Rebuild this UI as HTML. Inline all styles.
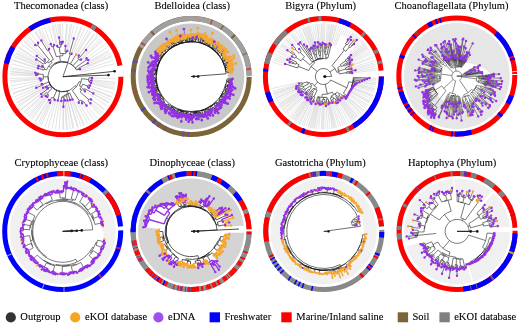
<!DOCTYPE html>
<html><head><meta charset="utf-8"><style>
html,body{margin:0;padding:0;background:#fff;width:520px;height:325px;overflow:hidden}
svg{display:block;will-change:transform}
.t{font-family:"Liberation Serif",serif;font-size:10.5px;fill:#000;stroke:#000;stroke-width:0.1px}
</style></head><body>
<svg xmlns="http://www.w3.org/2000/svg" width="520" height="325" viewBox="0 0 520 325">
<rect width="520" height="325" fill="#fff"/>
<g>
<path d="M80.6,69.0L111.5,55.5M88.4,62.9L109.5,51.5M88.9,59.5L107.1,47.4M87.2,57.8L104.8,44.2M81.6,58.8L101.2,40.1M86.5,49.4L97.6,36.6M79.3,54.9L94.7,34.3M76.5,53.7L89.9,31.1M71.9,53.1L81.7,27.2M74.0,37.8L77.5,25.7M67.3,50.3L71.7,24.4M65.6,45.3L67.4,23.9M62.8,40.9L62.7,23.7M61.2,41.4L60.3,23.8M58.9,36.8L57.6,24.0M57.2,45.3L53.4,24.6M53.8,44.2L48.6,25.7M50.4,43.2L44.4,27.0M48.6,48.2L39.2,29.3M40.9,39.9L35.7,31.2M37.5,42.2L31.5,34.0M34.7,44.4L28.0,36.8M44.0,58.9L24.4,40.3M36.3,55.5L21.4,43.7M35.6,59.0L18.5,47.8M41.7,65.6L15.9,52.2M37.8,65.7L14.4,55.4M37.2,67.9L12.7,59.6M34.4,72.6L10.4,69.1M36.1,74.2L10.1,71.8M35.5,75.1L10.0,73.5M38.8,78.5L10.0,80.6M39.9,80.7L10.7,85.9M41.0,84.3L12.8,94.0M35.6,88.1L14.0,97.1M42.3,88.2L16.6,102.5M45.6,87.7L18.2,105.2M47.3,88.9L21.1,109.3M40.7,94.4L21.4,109.7M41.2,97.3L24.4,113.2M45.2,96.7L27.7,116.4M46.9,97.3L30.4,118.6M48.6,100.7L35.7,122.2M49.7,103.5L39.6,124.3M54.3,100.8L45.1,126.6M57.7,101.4L52.0,128.6M61.1,101.9L59.2,129.6M63.4,107.5L63.8,129.7M65.1,101.3L67.6,129.5M67.7,101.3L73.0,128.7M70.2,100.8L78.3,127.4M72.8,100.2L83.5,125.5M79.2,103.5L90.5,122.0M82.6,103.9L93.9,119.7M87.1,106.2L96.5,117.7M91.1,103.9L101.1,113.5M91.6,100.0L104.1,110.1M85.6,91.6L107.2,105.9M93.9,93.8L109.3,102.3M89.5,88.1L111.6,97.6M90.7,85.9L113.2,93.3M91.8,83.1L114.7,88.1M92.4,80.7L115.4,83.8M92.9,77.9L115.9,78.9M81.7,72.0L114.3,63.9M81.3,70.7L113.3,60.3M80.8,69.5L112.0,56.8M89.0,64.0L110.5,53.5M88.0,62.2L108.8,50.2M82.1,59.4L102.3,41.2M80.8,58.1L99.7,38.6M86.1,49.0L97.0,36.1M78.9,54.6L94.1,33.8M77.1,54.0L91.0,31.8M75.4,53.1L87.8,29.9M73.2,53.6L84.5,28.3M71.6,52.9L81.0,26.9M68.5,50.5L73.9,24.9M66.6,50.2L70.3,24.2M65.1,45.3L66.6,23.8M60.4,41.4L59.2,23.8M57.3,37.0L55.5,24.2M56.3,45.5L51.9,24.9M49.9,47.6L41.3,28.3M47.9,48.6L38.0,29.9M40.2,40.3L34.8,31.8M35.3,43.8L28.8,36.1M44.9,58.0L26.1,38.6M43.6,59.3L23.5,41.2M35.9,58.5L19.0,47.1M42.2,64.7L17.0,50.2M41.4,66.2L15.3,53.5M37.5,66.4L13.8,56.8M37.1,68.3L12.5,60.3M36.6,70.1L11.5,63.9M34.6,71.7L10.7,67.5M36.1,73.9L10.2,71.2M35.5,75.7L9.9,74.9M38.8,77.5L9.9,78.5M38.9,79.2L10.2,82.2M40.3,82.3L11.5,89.5M40.9,83.8L12.5,93.1M41.7,87.0L15.3,99.9M42.5,88.5L17.0,103.2M45.9,88.2L19.0,106.3M40.7,96.7L23.5,112.2M44.3,95.9L26.1,114.8M45.7,97.2L28.8,117.3M47.6,97.8L31.7,119.6M48.1,100.4L34.8,121.6M48.9,103.1L38.0,123.5M50.8,104.0L41.3,125.1M55.9,101.2L48.3,127.6M59.4,101.7L55.5,129.2M62.9,107.5L62.9,129.7M64.6,101.3L66.6,129.6M66.4,101.5L70.3,129.2M68.1,101.2L73.9,128.5M69.8,100.9L77.5,127.6M71.6,100.7L81.0,126.5M73.3,100.0L84.5,125.1M77.6,104.4L87.8,123.5M90.1,104.8L99.7,114.8M92.0,102.9L102.3,112.2M92.0,99.5L104.7,109.3M93.6,94.4L108.8,103.2M88.9,89.4L110.5,99.9M89.8,87.6L112.0,96.6M91.6,83.9L114.3,89.5M92.2,81.9L115.1,85.9M92.5,79.8L115.6,82.2" stroke="#c6c6c6" stroke-width="0.5" fill="none"/>
<path d="M68.0,62.6A15.0,15.0 0 0 0 54.8,89.3M47.9,76.8A15.0,15.0 0 0 0 69.1,90.4M61.6,91.6A15.0,15.0 0 0 0 75.0,85.6M72.4,90.6A16.9,16.9 0 0 0 79.0,81.7M79.4,85.7A18.8,18.8 0 0 0 81.6,78.7M88.5,81.3A26.0,26.0 0 0 0 88.9,77.8M89.6,82.6A27.4,27.4 0 0 0 90.0,80.4M79.9,89.2A21.1,21.1 0 0 0 82.7,84.2M87.2,87.1A26.4,26.4 0 0 0 88.0,85.0M80.1,91.9A23.0,23.0 0 0 0 82.6,88.6M83.5,90.3A24.7,24.7 0 0 0 84.5,88.6M87.9,100.8A34.8,34.8 0 0 0 89.9,98.6M78.2,101.8A29.4,29.4 0 0 0 80.9,100.0M81.2,102.1A31.3,31.3 0 0 0 82.8,100.9M56.0,90.0A15.0,15.0 0 0 0 67.3,91.0M66.3,94.1A17.7,17.7 0 0 0 69.8,93.0M64.6,95.2A18.6,18.6 0 0 0 68.3,94.5M62.7,96.2A19.5,19.5 0 0 0 66.6,95.8M61.5,97.3A20.7,20.7 0 0 0 64.0,97.3M63.3,99.1A22.4,22.4 0 0 0 64.9,99.0M52.7,87.7A15.0,15.0 0 0 0 59.8,91.4M49.8,83.9A15.0,15.0 0 0 0 56.8,90.4M51.7,97.4A23.6,23.6 0 0 0 55.0,98.9M49.3,99.5A26.5,26.5 0 0 0 51.2,100.5M48.9,82.0A15.0,15.0 0 0 0 50.9,85.7M49.9,84.5A15.2,15.2 0 0 0 51.7,87.0M50.1,86.8A16.3,16.3 0 0 0 51.8,88.6M46.5,92.3A22.6,22.6 0 0 0 48.5,94.1M47.3,94.3A23.6,23.6 0 0 0 48.5,95.3M48.9,87.6A17.7,17.7 0 0 0 49.0,87.7M46.8,85.7A18.5,18.5 0 0 0 47.3,86.6M43.0,83.6A21.1,21.1 0 0 0 43.4,84.8M43.3,74.5A19.7,19.7 0 0 0 43.4,79.1M41.7,78.2A21.2,21.2 0 0 0 42.0,80.4M38.6,73.2A24.6,24.6 0 0 0 38.4,74.8M37.6,74.4A25.4,25.4 0 0 0 37.5,75.2M72.7,65.3A15.0,15.0 0 0 0 61.3,61.8M67.6,62.5A15.0,15.0 0 0 0 55.2,63.8M60.4,61.1A15.8,15.8 0 0 0 50.4,67.1M52.1,62.5A17.8,17.8 0 0 0 46.4,70.0M44.6,67.9A20.3,20.3 0 0 0 43.7,70.1M43.4,66.5A22.0,22.0 0 0 0 42.7,67.9M53.4,59.4A19.7,19.7 0 0 0 48.7,63.0M49.4,59.9A21.5,21.5 0 0 0 45.7,63.7M45.5,61.6A23.1,23.1 0 0 0 43.6,64.1M45.5,60.3A23.9,23.9 0 0 0 44.2,61.8M38.8,44.0A40.6,40.6 0 0 0 36.2,46.1M49.3,49.5A30.4,30.4 0 0 0 47.3,50.6M62.9,55.7A21.0,21.0 0 0 0 56.4,56.8M54.3,46.1A31.8,31.8 0 0 0 51.8,46.9M65.8,53.7A23.2,23.2 0 0 0 60.1,53.7M61.0,47.1A29.6,29.6 0 0 0 57.6,47.6M62.1,44.6A32.1,32.1 0 0 0 59.7,44.8M62.8,43.7A33.0,33.0 0 0 0 61.3,43.8M67.0,52.0A25.0,25.0 0 0 0 65.0,51.8M71.3,54.7A23.5,23.5 0 0 0 69.4,54.1M74.5,67.2A15.0,15.0 0 0 0 70.5,63.8M75.8,69.0A15.0,15.0 0 0 0 73.0,65.7M80.1,60.3A23.7,23.7 0 0 0 77.8,58.2M79.5,57.5A25.4,25.4 0 0 0 78.1,56.4M76.7,70.0A15.3,15.3 0 0 0 75.3,67.8M87.1,60.6A29.0,29.0 0 0 0 85.8,58.9M78.6,69.9A17.1,17.1 0 0 0 77.9,68.6M47.9,76.8L43.2,76.8M75.0,85.6L76.5,86.7M72.4,90.6L79.6,101.0M79.0,81.7L80.9,82.3M79.4,85.7L81.5,86.8M81.6,78.7L88.7,79.5M88.5,81.3L89.8,81.5M88.9,77.8L92.1,77.9M89.6,82.6L91.0,82.9M90.0,80.4L91.6,80.6M79.9,89.2L81.4,90.3M82.7,84.2L87.6,86.1M87.2,87.1L88.8,87.8M88.0,85.0L89.9,85.6M80.1,91.9L89.0,99.8M82.6,88.6L84.0,89.5M83.5,90.3L84.9,91.2M84.5,88.6L93.2,93.4M87.9,100.8L90.5,103.3M89.9,98.6L91.0,99.5M78.2,101.8L78.8,102.8M80.9,100.0L82.0,101.5M81.2,102.1L82.1,103.3M82.8,100.9L86.6,105.6M67.3,91.0L68.1,93.7M66.3,94.1L66.5,95.0M69.8,93.0L72.5,99.5M64.6,95.2L64.7,96.1M68.3,94.5L70.0,100.0M62.7,96.2L62.7,97.4M66.6,95.8L67.5,100.5M61.5,97.3L61.2,101.1M64.0,97.3L64.1,99.1M63.3,99.1L63.4,106.7M64.9,99.0L65.0,100.5M59.8,91.4L57.9,100.6M56.8,90.4L53.3,98.2M51.7,97.4L50.3,100.0M55.0,98.9L54.6,100.0M49.3,99.5L49.0,100.0M51.2,100.5L50.1,102.8M48.9,82.0L43.2,84.2M50.9,85.7L50.7,85.8M49.9,84.5L47.0,86.2M51.7,87.0L50.9,87.7M50.1,86.8L49.0,87.7M51.8,88.6L47.5,93.2M46.5,92.3L41.8,96.7M48.5,94.1L47.9,94.8M47.3,94.3L45.7,96.1M48.5,95.3L47.4,96.7M48.9,87.6L47.9,88.4M49.0,87.7L41.3,93.9M46.8,85.7L43.0,87.8M47.3,86.6L46.3,87.3M43.0,83.6L41.8,84.0M43.4,84.8L36.3,87.8M43.3,74.5L38.4,74.0M43.4,79.1L41.8,79.3M41.7,78.2L39.6,78.4M42.0,80.4L40.7,80.6M38.6,73.2L35.2,72.7M38.4,74.8L37.6,74.8M37.6,74.4L36.9,74.3M37.5,75.2L36.3,75.1M67.6,62.5L70.3,54.4M55.2,63.8L54.8,63.2M60.4,61.1L59.6,56.0M50.4,67.1L48.8,65.9M52.1,62.5L50.9,61.0M46.4,70.0L44.1,69.0M44.6,67.9L43.0,67.2M43.7,70.1L38.0,68.2M43.4,66.5L42.4,66.0M42.7,67.9L38.5,66.0M53.4,59.4L48.3,50.0M48.7,63.0L47.4,61.7M49.4,59.9L37.5,45.0M45.7,63.7L44.5,62.8M45.5,61.6L44.9,61.0M43.6,64.1L36.3,59.4M45.5,60.3L44.6,59.4M44.2,61.8L36.9,56.0M38.8,44.0L38.0,42.8M36.2,46.1L35.2,45.0M49.3,49.5L49.0,48.9M47.3,50.6L41.3,40.6M62.9,55.7L62.9,53.5M56.4,56.8L53.0,46.4M54.3,46.1L54.0,45.0M51.8,46.9L50.7,43.9M65.8,53.7L66.0,51.9M60.1,53.7L59.3,47.3M61.0,47.1L60.9,44.7M57.6,47.6L57.3,46.1M62.1,44.6L62.0,43.7M59.7,44.8L59.0,37.6M62.8,43.7L62.8,41.7M61.3,43.8L61.2,42.2M67.0,52.0L67.2,51.1M65.0,51.8L65.5,46.1M71.3,54.7L71.6,53.8M69.4,54.1L73.8,38.6M70.5,63.8L76.1,54.4M75.8,69.0L76.0,68.9M73.0,65.7L79.0,59.2M80.1,60.3L81.0,59.4M77.8,58.2L78.8,56.9M79.5,57.5L86.0,50.0M78.1,56.4L78.8,55.5M76.7,70.0L78.3,69.2M75.3,67.8L86.5,59.8M87.1,60.6L88.2,59.9M85.8,58.9L86.6,58.3M78.6,69.9L79.9,69.3M77.9,68.6L87.7,63.3M62.9,76.7L68.0,62.6" stroke="#333" stroke-width="0.7" fill="none"/>
<path d="M62.9,76.7L114.6,71.3" stroke="#222" stroke-width="0.8"/>
<circle cx="114.6" cy="71.3" r="1.3" fill="#111"/>
<path d="M62.9,76.7L108.5,75.1" stroke="#222" stroke-width="0.8"/>
<circle cx="108.5" cy="75.1" r="1.3" fill="#111"/>
<path d="M74.8,54.4a1.25,1.25 0 1 0 2.5,0a1.25,1.25 0 1 0 -2.5,0" fill="#f4a630"/>
<path d="M90.8,77.9a1.25,1.25 0 1 0 2.5,0a1.25,1.25 0 1 0 -2.5,0M90.3,80.6a1.25,1.25 0 1 0 2.5,0a1.25,1.25 0 1 0 -2.5,0M89.8,82.9a1.25,1.25 0 1 0 2.5,0a1.25,1.25 0 1 0 -2.5,0M88.7,85.6a1.25,1.25 0 1 0 2.5,0a1.25,1.25 0 1 0 -2.5,0M87.5,87.8a1.25,1.25 0 1 0 2.5,0a1.25,1.25 0 1 0 -2.5,0M92.0,93.4a1.25,1.25 0 1 0 2.5,0a1.25,1.25 0 1 0 -2.5,0M83.7,91.2a1.25,1.25 0 1 0 2.5,0a1.25,1.25 0 1 0 -2.5,0M89.8,99.5a1.25,1.25 0 1 0 2.5,0a1.25,1.25 0 1 0 -2.5,0M89.2,103.3a1.25,1.25 0 1 0 2.5,0a1.25,1.25 0 1 0 -2.5,0M85.3,105.6a1.25,1.25 0 1 0 2.5,0a1.25,1.25 0 1 0 -2.5,0M80.8,103.3a1.25,1.25 0 1 0 2.5,0a1.25,1.25 0 1 0 -2.5,0M77.5,102.8a1.25,1.25 0 1 0 2.5,0a1.25,1.25 0 1 0 -2.5,0M71.2,99.5a1.25,1.25 0 1 0 2.5,0a1.25,1.25 0 1 0 -2.5,0M68.8,100.0a1.25,1.25 0 1 0 2.5,0a1.25,1.25 0 1 0 -2.5,0M66.2,100.5a1.25,1.25 0 1 0 2.5,0a1.25,1.25 0 1 0 -2.5,0M63.7,100.5a1.25,1.25 0 1 0 2.5,0a1.25,1.25 0 1 0 -2.5,0M62.1,106.7a1.25,1.25 0 1 0 2.5,0a1.25,1.25 0 1 0 -2.5,0M60.0,101.1a1.25,1.25 0 1 0 2.5,0a1.25,1.25 0 1 0 -2.5,0M56.6,100.6a1.25,1.25 0 1 0 2.5,0a1.25,1.25 0 1 0 -2.5,0M53.4,100.0a1.25,1.25 0 1 0 2.5,0a1.25,1.25 0 1 0 -2.5,0M48.8,102.8a1.25,1.25 0 1 0 2.5,0a1.25,1.25 0 1 0 -2.5,0M47.7,100.0a1.25,1.25 0 1 0 2.5,0a1.25,1.25 0 1 0 -2.5,0M46.1,96.7a1.25,1.25 0 1 0 2.5,0a1.25,1.25 0 1 0 -2.5,0M44.4,96.1a1.25,1.25 0 1 0 2.5,0a1.25,1.25 0 1 0 -2.5,0M40.5,96.7a1.25,1.25 0 1 0 2.5,0a1.25,1.25 0 1 0 -2.5,0M40.0,93.9a1.25,1.25 0 1 0 2.5,0a1.25,1.25 0 1 0 -2.5,0M46.6,88.4a1.25,1.25 0 1 0 2.5,0a1.25,1.25 0 1 0 -2.5,0M45.0,87.3a1.25,1.25 0 1 0 2.5,0a1.25,1.25 0 1 0 -2.5,0M41.8,87.8a1.25,1.25 0 1 0 2.5,0a1.25,1.25 0 1 0 -2.5,0M35.0,87.8a1.25,1.25 0 1 0 2.5,0a1.25,1.25 0 1 0 -2.5,0M40.5,84.0a1.25,1.25 0 1 0 2.5,0a1.25,1.25 0 1 0 -2.5,0M39.5,80.6a1.25,1.25 0 1 0 2.5,0a1.25,1.25 0 1 0 -2.5,0M38.4,78.4a1.25,1.25 0 1 0 2.5,0a1.25,1.25 0 1 0 -2.5,0M35.0,75.1a1.25,1.25 0 1 0 2.5,0a1.25,1.25 0 1 0 -2.5,0M35.6,74.3a1.25,1.25 0 1 0 2.5,0a1.25,1.25 0 1 0 -2.5,0M34.0,72.7a1.25,1.25 0 1 0 2.5,0a1.25,1.25 0 1 0 -2.5,0M36.8,68.2a1.25,1.25 0 1 0 2.5,0a1.25,1.25 0 1 0 -2.5,0M37.2,66.0a1.25,1.25 0 1 0 2.5,0a1.25,1.25 0 1 0 -2.5,0M41.1,66.0a1.25,1.25 0 1 0 2.5,0a1.25,1.25 0 1 0 -2.5,0M35.0,59.4a1.25,1.25 0 1 0 2.5,0a1.25,1.25 0 1 0 -2.5,0M35.6,56.0a1.25,1.25 0 1 0 2.5,0a1.25,1.25 0 1 0 -2.5,0M43.4,59.4a1.25,1.25 0 1 0 2.5,0a1.25,1.25 0 1 0 -2.5,0M34.0,45.0a1.25,1.25 0 1 0 2.5,0a1.25,1.25 0 1 0 -2.5,0M36.8,42.8a1.25,1.25 0 1 0 2.5,0a1.25,1.25 0 1 0 -2.5,0M40.1,40.6a1.25,1.25 0 1 0 2.5,0a1.25,1.25 0 1 0 -2.5,0M47.8,48.9a1.25,1.25 0 1 0 2.5,0a1.25,1.25 0 1 0 -2.5,0M49.5,43.9a1.25,1.25 0 1 0 2.5,0a1.25,1.25 0 1 0 -2.5,0M52.8,45.0a1.25,1.25 0 1 0 2.5,0a1.25,1.25 0 1 0 -2.5,0M56.0,46.1a1.25,1.25 0 1 0 2.5,0a1.25,1.25 0 1 0 -2.5,0M57.8,37.6a1.25,1.25 0 1 0 2.5,0a1.25,1.25 0 1 0 -2.5,0M59.9,42.2a1.25,1.25 0 1 0 2.5,0a1.25,1.25 0 1 0 -2.5,0M61.5,41.7a1.25,1.25 0 1 0 2.5,0a1.25,1.25 0 1 0 -2.5,0M64.2,46.1a1.25,1.25 0 1 0 2.5,0a1.25,1.25 0 1 0 -2.5,0M66.0,51.1a1.25,1.25 0 1 0 2.5,0a1.25,1.25 0 1 0 -2.5,0M72.5,38.6a1.25,1.25 0 1 0 2.5,0a1.25,1.25 0 1 0 -2.5,0M70.3,53.8a1.25,1.25 0 1 0 2.5,0a1.25,1.25 0 1 0 -2.5,0M77.5,55.5a1.25,1.25 0 1 0 2.5,0a1.25,1.25 0 1 0 -2.5,0M84.8,50.0a1.25,1.25 0 1 0 2.5,0a1.25,1.25 0 1 0 -2.5,0M79.8,59.4a1.25,1.25 0 1 0 2.5,0a1.25,1.25 0 1 0 -2.5,0M85.3,58.3a1.25,1.25 0 1 0 2.5,0a1.25,1.25 0 1 0 -2.5,0M87.0,59.9a1.25,1.25 0 1 0 2.5,0a1.25,1.25 0 1 0 -2.5,0M86.5,63.3a1.25,1.25 0 1 0 2.5,0a1.25,1.25 0 1 0 -2.5,0M78.7,69.3a1.25,1.25 0 1 0 2.5,0a1.25,1.25 0 1 0 -2.5,0" fill="#9430e4"/>
<circle cx="62.9" cy="76.7" r="58.0" fill="none" stroke="#ff0000" stroke-width="5.0"/>
<path d="M50.3,20.1A58.0,58.0 0 0 0 30.0,28.9" fill="none" stroke="#0000ff" stroke-width="5.0"/>
<path d="M13.1,47.0A58.0,58.0 0 0 0 6.4,63.6" fill="none" stroke="#0000ff" stroke-width="5.0"/>
<path d="M95.5,28.7A58.0,58.0 0 0 0 91.3,26.1" fill="none" stroke="#808080" stroke-width="5.0"/>
<path d="M120.9,76.7A58.0,58.0 0 0 0 119.8,65.6" fill="none" stroke="#fff" stroke-width="6.0"/>
</g>
<g>
<path d="M244.2,76.5A53,53 0 1 0 138.2,76.5A53,53 0 1 0 244.2,76.5Z M227.7,76.5 L227.7,75.2 L227.6,74.0 L227.5,72.7 L227.3,71.4 L227.1,70.2 L226.8,68.9 L226.5,67.7 L226.2,66.5 L225.8,65.3 L225.4,64.1 L224.9,62.9 L224.4,61.7 L223.9,60.6 L223.3,59.4 L222.7,58.3 L222.0,57.3 L221.3,56.2 L220.6,55.2 L219.8,54.2 L219.0,53.2 L218.2,52.2 L217.3,51.3 L216.4,50.4 L215.4,49.6 L214.5,48.8 L213.5,48.0 L212.5,47.2 L211.4,46.5 L210.4,45.8 L209.3,45.2 L208.2,44.6 L207.0,44.0 L205.9,43.5 L204.7,43.0 L203.6,42.6 L202.4,42.2 L201.1,41.8 L199.9,41.5 L198.7,41.2 L197.5,41.0 L196.2,40.8 L195.0,40.7 L193.7,40.6 L192.5,40.5 L191.2,40.5 L189.9,40.5 L188.7,40.5 L187.4,40.6 L186.2,40.8 L184.9,40.9 L183.7,41.2 L182.5,41.4 L181.2,41.7 L180.0,42.1 L178.8,42.5 L177.6,42.9 L176.4,43.4 L175.3,43.9 L174.2,44.4 L173.0,45.0 L171.9,45.7 L170.9,46.3 L169.8,47.1 L168.8,47.8 L167.8,48.6 L166.8,49.4 L165.9,50.3 L164.9,51.1 L164.1,52.1 L163.2,53.0 L162.4,54.0 L161.6,55.0 L160.8,56.0 L160.1,57.1 L159.4,58.2 L158.8,59.3 L158.2,60.4 L157.6,61.6 L157.1,62.7 L156.6,63.9 L156.2,65.1 L155.8,66.4 L155.4,67.6 L155.1,68.8 L154.9,70.1 L154.6,71.4 L154.5,72.6 L154.3,73.9 L154.2,75.2 L154.2,76.5 L154.2,77.8 L154.3,79.1 L154.4,80.4 L154.5,81.7 L154.7,82.9 L154.9,84.2 L155.2,85.5 L155.5,86.7 L155.9,88.0 L156.3,89.2 L156.8,90.4 L157.3,91.6 L157.8,92.8 L158.4,93.9 L159.0,95.1 L159.7,96.2 L160.4,97.3 L161.1,98.4 L161.9,99.4 L162.7,100.4 L163.5,101.4 L164.4,102.4 L165.3,103.3 L166.3,104.2 L167.2,105.1 L168.2,105.9 L169.3,106.7 L170.3,107.4 L171.4,108.2 L172.5,108.8 L173.7,109.5 L174.8,110.1 L176.0,110.6 L177.2,111.2 L178.4,111.6 L179.6,112.1 L180.9,112.5 L182.1,112.8 L183.4,113.1 L184.7,113.4 L186.0,113.6 L187.3,113.8 L188.6,113.9 L189.9,114.0 L191.2,114.0 L192.5,114.0 L193.8,113.9 L195.1,113.8 L196.4,113.6 L197.7,113.4 L199.0,113.1 L200.3,112.8 L201.5,112.5 L202.8,112.1 L204.0,111.6 L205.2,111.2 L206.4,110.6 L207.6,110.1 L208.7,109.5 L209.9,108.8 L211.0,108.2 L212.1,107.4 L213.1,106.7 L214.2,105.9 L215.2,105.1 L216.1,104.2 L217.1,103.3 L218.0,102.4 L218.9,101.4 L219.7,100.4 L220.5,99.4 L221.3,98.4 L222.0,97.3 L222.7,96.2 L223.4,95.1 L224.0,93.9 L224.6,92.8 L225.1,91.6 L225.6,90.4 L226.1,89.2 L226.5,88.0 L226.9,86.7 L227.2,85.5 L227.5,84.2 L227.7,82.9 L227.9,81.7 L228.0,80.4 L228.1,79.1 L228.2,77.8 L228.2,76.5Z" fill="#c8c8c8" fill-rule="evenodd"/>
<path d="M226.1,73.8A35.0,35.0 0 1 0 198.0,110.8M177.2,108.9A35.3,35.3 0 0 0 216.5,101.2M206.1,108.6A35.3,35.3 0 0 0 223.6,90.6M220.2,96.7A35.3,35.3 0 0 0 225.7,84.0M225.1,88.0A35.8,35.8 0 0 0 226.8,80.2M226.9,81.6A36.0,36.0 0 0 0 227.2,78.9M230.4,79.4A39.3,39.3 0 0 0 230.5,78.7M228.0,82.6A37.3,37.3 0 0 0 228.3,80.9M228.5,81.3A37.6,37.6 0 0 0 228.6,80.4M229.2,80.7A38.3,38.3 0 0 0 229.3,80.2M229.6,83.4A39.0,39.0 0 0 0 229.8,82.4M230.9,83.9A40.4,40.4 0 0 0 231.0,83.4M224.6,90.3A36.1,36.1 0 0 0 226.1,85.9M227.0,87.0A37.3,37.3 0 0 0 227.5,85.3M227.3,86.1A37.3,37.3 0 0 0 227.7,84.6M228.3,85.0A38.1,38.1 0 0 0 228.5,84.5M227.6,86.4A37.7,37.7 0 0 0 227.7,85.9M229.1,86.6A39.2,39.2 0 0 0 229.2,85.9M228.7,87.8A39.2,39.2 0 0 0 228.9,87.3M225.1,91.5A37.1,37.1 0 0 0 225.8,89.8M225.5,90.7A37.1,37.1 0 0 0 226.2,88.9M226.1,89.5A37.2,37.2 0 0 0 226.5,88.3M227.3,88.8A38.1,38.1 0 0 0 227.4,88.4M226.6,91.8A38.6,38.6 0 0 0 227.1,90.8M227.4,91.2A39.1,39.1 0 0 0 227.6,90.6M228.8,93.4A41.3,41.3 0 0 0 229.0,93.0M219.0,99.0A35.8,35.8 0 0 0 222.0,94.7M221.3,96.6A36.2,36.2 0 0 0 223.3,93.2M223.4,94.3A36.8,36.8 0 0 0 224.3,92.6M225.1,93.6A38.0,38.0 0 0 0 225.6,92.6M225.6,94.2A38.7,38.7 0 0 0 225.9,93.6M225.4,95.7A39.2,39.2 0 0 0 225.6,95.3M221.5,97.8A37.0,37.0 0 0 0 222.4,96.4M222.1,96.9A37.0,37.0 0 0 0 222.7,95.8M223.2,96.7A37.8,37.8 0 0 0 223.7,95.9M225.1,97.3A39.8,39.8 0 0 0 225.6,96.5M226.8,97.5A41.3,41.3 0 0 0 227.1,97.1M222.7,99.0A38.7,38.7 0 0 0 223.0,98.5M219.2,100.7A37.0,37.0 0 0 0 220.7,98.8M221.3,99.8A38.1,38.1 0 0 0 221.7,99.3M222.3,99.7A38.8,38.8 0 0 0 222.3,99.7M218.7,101.2A37.0,37.0 0 0 0 219.6,100.2M219.3,100.6A37.0,37.0 0 0 0 220.0,99.7M220.5,100.5A37.9,37.9 0 0 0 220.9,100.1M218.9,101.7A37.5,37.5 0 0 0 219.4,101.2M198.9,111.2A35.6,35.6 0 0 0 212.7,104.8M210.6,106.8A35.9,35.9 0 0 0 215.1,103.3M214.1,104.6A36.3,36.3 0 0 0 216.5,102.5M216.2,103.5A36.8,36.8 0 0 0 217.4,102.3M217.4,102.9A37.2,37.2 0 0 0 218.0,102.3M218.4,103.1A38.0,38.0 0 0 0 218.8,102.7M216.1,104.1A37.2,37.2 0 0 0 216.9,103.3M219.3,106.0A40.7,40.7 0 0 0 219.5,105.8M216.8,105.4A38.7,38.7 0 0 0 217.3,105.0M214.5,105.5A37.2,37.2 0 0 0 215.0,105.1M215.0,105.7A37.7,37.7 0 0 0 215.5,105.3M209.9,107.7A36.3,36.3 0 0 0 211.7,106.5M211.7,108.4A37.9,37.9 0 0 0 213.4,107.3M213.8,109.0A39.6,39.6 0 0 0 214.9,108.3M215.3,109.1A40.5,40.5 0 0 0 215.6,108.9M215.9,109.8A41.5,41.5 0 0 0 216.4,109.5M214.5,110.6A41.4,41.4 0 0 0 215.1,110.2M211.7,109.0A38.4,38.4 0 0 0 212.3,108.6M210.8,110.1A38.9,38.9 0 0 0 211.5,109.7M193.7,112.0A35.6,35.6 0 0 0 204.0,109.7M201.8,110.9A36.0,36.0 0 0 0 206.4,109.1M204.8,110.2A36.4,36.4 0 0 0 208.3,108.6M208.0,109.4A36.9,36.9 0 0 0 209.2,108.7M211.0,112.0A40.6,40.6 0 0 0 211.1,111.9M207.4,109.7A36.9,36.9 0 0 0 208.5,109.2M209.4,111.8A39.7,39.7 0 0 0 210.2,111.4M207.7,110.7A37.9,37.9 0 0 0 208.1,110.5M204.5,111.5A37.4,37.4 0 0 0 205.9,110.9M205.5,111.3A37.6,37.6 0 0 0 206.5,110.9M207.0,112.9A39.7,39.7 0 0 0 207.6,112.6M204.1,111.6A37.4,37.4 0 0 0 204.9,111.3M205.1,111.7A37.9,37.9 0 0 0 205.2,111.7M204.6,113.9A39.7,39.7 0 0 0 205.2,113.7M202.4,114.8A39.9,39.9 0 0 0 203.5,114.5M203.5,115.6A41.0,41.0 0 0 0 204.2,115.4M190.5,112.7A36.2,36.2 0 0 0 197.0,112.2M194.9,112.8A36.4,36.4 0 0 0 199.2,112.1M198.3,112.8A37.0,37.0 0 0 0 200.4,112.3M200.0,112.9A37.4,37.4 0 0 0 200.9,112.7M201.2,114.8A39.5,39.5 0 0 0 201.8,114.6M200.3,113.9A38.5,38.5 0 0 0 200.3,113.9M198.1,114.5A38.6,38.6 0 0 0 199.2,114.3M199.2,115.2A39.5,39.5 0 0 0 199.6,115.1M193.5,113.3A36.9,36.9 0 0 0 196.4,113.0M195.7,113.3A37.1,37.1 0 0 0 197.1,113.1M196.9,114.5A38.5,38.5 0 0 0 197.7,114.4M196.1,117.8A41.6,41.6 0 0 0 196.4,117.8M193.0,113.4A36.9,36.9 0 0 0 193.9,113.3M193.4,113.3A36.9,36.9 0 0 0 194.4,113.3M194.2,113.9A37.5,37.5 0 0 0 194.8,113.8M189.4,114.3A37.8,37.8 0 0 0 191.5,114.3M190.8,114.3A37.8,37.8 0 0 0 192.3,114.3M192.3,116.1A39.6,39.6 0 0 0 192.4,116.1M190.2,114.7A38.2,38.2 0 0 0 191.3,114.7M191.0,115.7A39.2,39.2 0 0 0 191.6,115.7M170.9,105.8A35.6,35.6 0 0 0 183.8,111.4M180.2,110.6A35.8,35.8 0 0 0 187.4,112.1M185.8,112.6A36.5,36.5 0 0 0 189.0,112.9M188.7,114.4A38.0,38.0 0 0 0 189.0,114.4M188.2,115.8A39.4,39.4 0 0 0 189.0,115.8M185.0,113.2A37.2,37.2 0 0 0 186.3,113.4M185.5,113.3A37.2,37.2 0 0 0 187.1,113.5M186.5,114.2A38.0,38.0 0 0 0 187.6,114.3M185.9,116.4A40.3,40.3 0 0 0 186.5,116.5M178.0,110.1A36.1,36.1 0 0 0 182.3,111.5M180.7,111.4A36.5,36.5 0 0 0 183.8,112.2M183.3,112.8A37.2,37.2 0 0 0 184.1,113.0M183.9,112.9A37.2,37.2 0 0 0 184.4,113.0M183.0,114.0A38.4,38.4 0 0 0 183.1,114.0M179.7,112.0A37.3,37.3 0 0 0 181.1,112.4M180.6,112.3A37.3,37.3 0 0 0 181.7,112.6M181.1,112.5A37.4,37.4 0 0 0 182.2,112.8M181.6,113.4A38.2,38.2 0 0 0 182.5,113.7M179.1,113.2A38.7,38.7 0 0 0 179.5,113.4M178.0,116.3A41.9,41.9 0 0 0 178.1,116.3M176.7,110.8A37.3,37.3 0 0 0 178.4,111.5M177.3,113.4A39.4,39.4 0 0 0 178.0,113.7M176.3,110.7A37.3,37.3 0 0 0 177.1,111.0M176.6,111.2A37.7,37.7 0 0 0 177.3,111.5M168.4,104.4A36.0,36.0 0 0 0 173.1,107.7M171.3,107.0A36.4,36.4 0 0 0 174.6,108.9M173.3,109.0A37.1,37.1 0 0 0 175.2,110.0M174.8,109.8A37.1,37.1 0 0 0 175.6,110.1M174.2,112.2A39.6,39.6 0 0 0 174.8,112.5M174.5,110.2A37.7,37.7 0 0 0 174.7,110.3M173.0,108.8A37.1,37.1 0 0 0 173.7,109.2M172.9,109.9A38.1,38.1 0 0 0 173.6,110.3M169.8,107.1A37.3,37.3 0 0 0 171.9,108.4M171.5,108.2A37.3,37.3 0 0 0 172.3,108.7M171.0,108.2A37.6,37.6 0 0 0 171.6,108.6M169.4,106.8A37.3,37.3 0 0 0 170.2,107.3M169.8,107.1A37.3,37.3 0 0 0 170.5,107.5M169.2,107.6A38.1,38.1 0 0 0 169.6,107.9M167.3,104.0A36.4,36.4 0 0 0 169.0,105.4M167.9,105.9A37.5,37.5 0 0 0 168.7,106.5M166.3,109.2A41.1,41.1 0 0 0 166.9,109.6M166.0,104.3A37.6,37.6 0 0 0 167.1,105.3M166.3,105.7A38.4,38.4 0 0 0 166.8,106.1M165.3,104.6A38.2,38.2 0 0 0 165.7,105.0M162.1,108.0A42.9,42.9 0 0 0 162.3,108.1M218.7,55.4A34.7,34.7 0 0 0 163.3,55.9M180.0,43.7A34.7,34.7 0 0 0 156.5,75.4M157.9,65.0A35.2,35.2 0 0 0 157.2,85.9M155.8,79.7A35.5,35.5 0 0 0 159.2,91.9M157.1,86.7A35.6,35.6 0 0 0 162.0,96.7M160.5,94.7A35.7,35.7 0 0 0 163.4,98.8M162.2,97.9A36.0,36.0 0 0 0 164.0,100.1M162.9,99.4A36.4,36.4 0 0 0 164.6,101.3M163.4,101.3A37.3,37.3 0 0 0 164.6,102.6M164.1,102.1A37.3,37.3 0 0 0 165.0,103.0M164.6,102.9A37.5,37.5 0 0 0 165.2,103.5M163.9,104.2A38.9,38.9 0 0 0 164.5,104.9M162.4,101.6A38.2,38.2 0 0 0 162.9,102.2M161.7,101.9A38.9,38.9 0 0 0 162.0,102.2M161.3,100.2A38.2,38.2 0 0 0 161.7,100.8M160.4,98.8A38.0,38.0 0 0 0 160.9,99.4M160.2,99.4A38.6,38.6 0 0 0 160.7,100.1M159.1,93.5A36.4,36.4 0 0 0 160.8,96.5M160.1,96.3A36.9,36.9 0 0 0 160.8,97.3M160.2,97.2A37.2,37.2 0 0 0 160.8,97.9M159.8,98.3A38.2,38.2 0 0 0 160.1,98.7M156.0,98.5A41.5,41.5 0 0 0 156.3,99.0M158.2,92.9A36.9,36.9 0 0 0 159.1,94.6M158.8,94.1A36.9,36.9 0 0 0 159.4,95.1M159.3,94.9A36.9,36.9 0 0 0 159.5,95.3M159.4,95.1A36.9,36.9 0 0 0 159.6,95.5M158.5,93.9A37.0,37.0 0 0 0 158.9,94.5M157.2,92.9A37.8,37.8 0 0 0 157.6,93.7M156.5,93.9A38.9,38.9 0 0 0 156.7,94.4M156.5,85.2A35.8,35.8 0 0 0 157.4,88.3M156.5,87.2A36.3,36.3 0 0 0 157.3,89.7M156.5,88.9A36.9,36.9 0 0 0 157.3,90.8M156.5,90.2A37.3,37.3 0 0 0 157.2,91.9M154.0,92.9A40.7,40.7 0 0 0 154.3,93.6M155.2,90.1A38.5,38.5 0 0 0 155.6,91.0M155.1,90.9A38.9,38.9 0 0 0 155.3,91.4M152.8,89.8A40.7,40.7 0 0 0 153.1,90.6M152.3,90.8A41.4,41.4 0 0 0 152.4,90.9M155.8,86.8A36.8,36.8 0 0 0 156.1,87.8M154.9,87.8A38.0,38.0 0 0 0 155.2,88.6M153.4,87.1A39.3,39.3 0 0 0 153.6,87.8M153.6,85.7A38.7,38.7 0 0 0 153.7,86.1M150.8,86.4A41.6,41.6 0 0 0 151.0,87.3M155.4,77.6A35.8,35.8 0 0 0 155.8,81.8M155.1,80.3A36.3,36.3 0 0 0 155.5,83.4M154.4,83.0A37.4,37.4 0 0 0 154.6,84.1M153.6,83.9A38.3,38.3 0 0 0 153.8,84.8M153.3,84.5A38.7,38.7 0 0 0 153.5,85.2M154.3,82.7A37.4,37.4 0 0 0 154.4,83.3M154.3,79.5A37.0,37.0 0 0 0 154.5,81.3M152.1,81.0A39.4,39.4 0 0 0 152.2,82.1M151.5,81.9A40.0,40.0 0 0 0 151.6,82.6M153.6,79.3A37.7,37.7 0 0 0 153.7,79.9M153.1,79.7A38.3,38.3 0 0 0 153.1,80.2M154.0,77.0A37.2,37.2 0 0 0 154.0,78.3M154.0,77.8A37.2,37.2 0 0 0 154.0,78.8M153.3,78.6A37.9,37.9 0 0 0 153.4,79.1M152.1,76.9A39.1,39.1 0 0 0 152.1,77.3M161.0,58.4A35.2,35.2 0 0 0 156.3,72.0M156.0,70.0A35.8,35.8 0 0 0 155.5,73.8M155.1,73.1A36.3,36.3 0 0 0 155.0,74.4M153.9,73.9A37.4,37.4 0 0 0 153.9,74.8M153.9,74.2A37.4,37.4 0 0 0 153.9,75.4M153.9,75.0A37.4,37.4 0 0 0 153.8,75.8M153.8,75.6A37.4,37.4 0 0 0 153.8,75.9M153.5,75.9A37.7,37.7 0 0 0 153.5,76.0M150.5,72.4A40.9,40.9 0 0 0 150.4,73.0M155.8,68.9A36.2,36.2 0 0 0 155.4,71.0M154.0,70.2A37.7,37.7 0 0 0 153.8,71.3M152.8,70.6A38.8,38.8 0 0 0 152.7,71.6M151.1,71.1A40.5,40.5 0 0 0 151.0,71.8M155.0,68.3A37.1,37.1 0 0 0 154.8,69.2M154.9,68.9A37.1,37.1 0 0 0 154.8,69.5M154.7,69.2A37.2,37.2 0 0 0 154.6,69.8M155.1,68.0A37.1,37.1 0 0 0 155.0,68.5M164.2,53.9A35.2,35.2 0 0 0 158.5,63.4M159.2,60.9A35.5,35.5 0 0 0 157.3,65.8M157.2,64.2A36.1,36.1 0 0 0 156.3,67.0M155.5,66.3A37.1,37.1 0 0 0 155.3,67.1M154.7,66.7A37.8,37.8 0 0 0 154.6,67.2M156.3,62.8A37.5,37.5 0 0 0 155.6,64.7M155.7,64.3A37.5,37.5 0 0 0 155.4,65.1M153.2,64.1A39.9,39.9 0 0 0 153.0,64.7M152.4,64.1A40.8,40.8 0 0 0 152.2,64.8M155.8,64.1A37.5,37.5 0 0 0 155.7,64.5M156.4,62.5A37.5,37.5 0 0 0 156.2,63.1M156.3,62.9A37.5,37.5 0 0 0 156.1,63.4M158.3,59.8A36.9,36.9 0 0 0 157.8,60.9M157.9,60.5A36.9,36.9 0 0 0 157.6,61.3M157.7,60.9A36.9,36.9 0 0 0 157.4,61.7M157.5,61.3A37.0,37.0 0 0 0 157.2,62.0M166.0,51.9A35.3,35.3 0 0 0 162.6,55.9M163.8,53.8A35.6,35.6 0 0 0 160.9,57.8M161.5,56.1A36.0,36.0 0 0 0 159.6,59.1M159.2,58.2A36.9,36.9 0 0 0 158.6,59.3M158.2,58.5A37.6,37.6 0 0 0 157.8,59.3M155.1,57.9A40.6,40.6 0 0 0 155.0,58.0M161.4,54.6A37.0,37.0 0 0 0 160.1,56.5M159.0,55.1A38.7,38.7 0 0 0 158.3,56.2M158.1,55.5A39.2,39.2 0 0 0 157.6,56.3M157.2,55.5A39.9,39.9 0 0 0 156.8,56.3M161.7,54.2A37.0,37.0 0 0 0 161.2,54.9M160.4,54.0A38.1,38.1 0 0 0 160.0,54.6M159.8,54.0A38.7,38.7 0 0 0 159.4,54.6M163.1,52.0A37.3,37.3 0 0 0 162.0,53.3M159.2,50.9A41.0,41.0 0 0 0 159.0,51.2M162.7,51.1A38.1,38.1 0 0 0 162.2,51.8M161.9,51.2A38.7,38.7 0 0 0 161.6,51.6M165.4,50.2A36.8,36.8 0 0 0 164.3,51.4M163.9,50.6A37.7,37.7 0 0 0 163.4,51.1M165.9,49.8A36.8,36.8 0 0 0 165.0,50.6M163.2,48.4A39.6,39.6 0 0 0 162.8,48.8M165.5,48.9A37.7,37.7 0 0 0 165.0,49.4M185.6,42.2A34.7,34.7 0 0 0 174.6,46.0M176.7,44.7A35.0,35.0 0 0 0 172.4,47.0M174.5,45.8A35.0,35.0 0 0 0 170.4,48.3M171.8,47.0A35.3,35.3 0 0 0 168.7,49.3M169.5,48.0A35.9,35.9 0 0 0 167.3,49.8M166.5,48.6A37.2,37.2 0 0 0 166.2,49.0M169.5,46.7A36.9,36.9 0 0 0 168.2,47.7M167.7,46.2A38.3,38.3 0 0 0 166.9,46.9M166.8,46.1A38.9,38.9 0 0 0 166.1,46.8M165.0,45.1A40.9,40.9 0 0 0 164.7,45.4M168.8,45.1A38.6,38.6 0 0 0 168.2,45.6M167.0,43.8A40.7,40.7 0 0 0 166.8,43.9M171.3,45.7A36.7,36.7 0 0 0 170.9,45.9M171.0,45.8A36.7,36.7 0 0 0 170.7,46.0M170.8,45.9A36.8,36.8 0 0 0 170.5,46.0M175.2,44.5A35.8,35.8 0 0 0 173.0,45.7M171.8,42.7A39.0,39.0 0 0 0 171.0,43.1M170.7,42.1A40.0,40.0 0 0 0 170.2,42.4M175.3,43.3A36.8,36.8 0 0 0 174.3,43.8M174.6,43.6A36.8,36.8 0 0 0 173.9,44.0M173.6,42.5A38.3,38.3 0 0 0 172.8,43.0M172.4,41.8A39.5,39.5 0 0 0 172.0,42.0M176.2,42.7A37.0,37.0 0 0 0 175.5,43.0M175.7,42.9A37.0,37.0 0 0 0 175.3,43.1M190.1,41.8A34.7,34.7 0 0 0 181.3,43.2M182.5,42.4A35.2,35.2 0 0 0 179.8,43.2M180.5,42.5A35.7,35.7 0 0 0 178.8,43.0M179.5,41.8A36.7,36.7 0 0 0 177.5,42.5M177.7,41.9A37.2,37.2 0 0 0 177.0,42.2M176.4,40.3A39.1,39.1 0 0 0 176.0,40.5M179.8,41.7A36.7,36.7 0 0 0 179.1,41.9M179.5,41.8A36.7,36.7 0 0 0 178.6,42.1M178.8,41.7A37.0,37.0 0 0 0 178.2,41.9M179.8,39.5A38.7,38.7 0 0 0 179.4,39.7M183.0,41.2A36.2,36.2 0 0 0 181.4,41.6M180.5,36.6A41.3,41.3 0 0 0 179.6,36.8M183.5,40.5A36.8,36.8 0 0 0 182.3,40.8M182.3,39.6A38.0,38.0 0 0 0 181.7,39.7M183.5,39.2A38.1,38.1 0 0 0 183.0,39.3M193.0,41.8A34.7,34.7 0 0 0 187.1,42.0M187.9,41.1A35.6,35.6 0 0 0 186.1,41.3M186.6,40.3A36.5,36.5 0 0 0 185.3,40.5M185.6,40.0A37.0,37.0 0 0 0 184.9,40.1M185.1,39.1A37.9,37.9 0 0 0 184.3,39.2M184.4,38.1A39.0,39.0 0 0 0 183.8,38.3M187.0,39.7A37.1,37.1 0 0 0 186.1,39.8M186.2,39.0A37.8,37.8 0 0 0 185.7,39.1M187.8,37.1A39.5,39.5 0 0 0 187.3,37.2M195.2,41.8A35.0,35.0 0 0 0 190.8,41.6M192.2,41.0A35.5,35.5 0 0 0 189.5,41.0M189.8,37.6A38.9,38.9 0 0 0 188.9,37.7M189.1,37.0A39.6,39.6 0 0 0 188.7,37.0M193.3,40.3A36.2,36.2 0 0 0 191.0,40.3M191.3,38.2A38.3,38.3 0 0 0 190.7,38.2M191.0,37.1A39.4,39.4 0 0 0 190.4,37.1M191.5,35.8A40.7,40.7 0 0 0 191.1,35.8M193.9,40.3A36.3,36.3 0 0 0 192.8,40.2M193.1,38.9A37.6,37.6 0 0 0 192.5,38.9M192.8,38.4A38.2,38.2 0 0 0 192.2,38.4M196.1,39.9A36.9,36.9 0 0 0 194.8,39.7M195.4,36.7A40.0,40.0 0 0 0 194.7,36.6M196.5,39.1A37.7,37.7 0 0 0 195.9,39.1M196.3,38.0A38.8,38.8 0 0 0 195.7,37.9M197.6,34.2A42.8,42.8 0 0 0 196.9,34.1M224.5,66.0A34.9,34.9 0 0 0 209.9,47.1M216.0,52.0A34.9,34.9 0 0 0 202.9,43.6M205.1,44.5A34.9,34.9 0 0 0 200.7,42.9M202.4,43.0A35.3,35.3 0 0 0 199.2,42.1M200.3,42.1A35.6,35.6 0 0 0 198.1,41.6M199.2,39.4A37.9,37.9 0 0 0 198.0,39.2M198.8,37.8A39.4,39.4 0 0 0 197.8,37.7M198.7,35.3A41.9,41.9 0 0 0 197.8,35.2M201.7,38.9A39.1,39.1 0 0 0 200.6,38.6M201.1,37.6A40.1,40.1 0 0 0 200.5,37.4M200.9,37.0A40.6,40.6 0 0 0 200.4,36.9M203.6,41.4A37.2,37.2 0 0 0 202.3,40.9M203.4,39.0A39.5,39.5 0 0 0 202.4,38.7M203.2,37.3A41.0,41.0 0 0 0 202.6,37.1M204.4,41.1A37.8,37.8 0 0 0 203.3,40.7M204.6,37.8A40.9,40.9 0 0 0 203.9,37.6M205.0,40.0A39.1,39.1 0 0 0 204.6,39.8M206.2,44.2A35.6,35.6 0 0 0 204.6,43.5M206.7,39.1A40.5,40.5 0 0 0 206.2,38.9M207.2,43.4A36.7,36.7 0 0 0 206.1,42.9M206.6,42.6A37.2,37.2 0 0 0 206.0,42.4M207.8,42.8A37.6,37.6 0 0 0 207.4,42.6M208.0,41.8A38.5,38.5 0 0 0 207.5,41.6M218.7,54.9A35.0,35.0 0 0 0 213.1,49.3M215.5,51.2A35.1,35.1 0 0 0 210.7,47.4M213.2,48.8A35.3,35.3 0 0 0 208.4,45.7M209.7,46.0A35.7,35.7 0 0 0 207.5,44.8M208.7,43.1A37.7,37.7 0 0 0 208.2,42.9M210.6,45.7A36.4,36.4 0 0 0 209.5,45.1M210.0,45.4A36.4,36.4 0 0 0 208.9,44.7M209.9,43.9A37.5,37.5 0 0 0 209.1,43.5M210.4,43.5A38.2,38.2 0 0 0 209.9,43.2M214.4,49.3A35.7,35.7 0 0 0 212.5,47.8M214.2,47.5A37.0,37.0 0 0 0 212.3,46.1M213.8,45.0A38.7,38.7 0 0 0 212.8,44.3M213.4,44.2A39.2,39.2 0 0 0 212.6,43.7M213.4,43.0A40.2,40.2 0 0 0 212.9,42.7M214.6,47.8A37.0,37.0 0 0 0 213.7,47.1M214.4,47.0A37.5,37.5 0 0 0 213.7,46.5M215.9,44.2A40.7,40.7 0 0 0 215.3,43.7M217.8,45.8A40.6,40.6 0 0 0 217.3,45.3M216.6,51.4A35.7,35.7 0 0 0 215.3,50.1M218.8,47.0A40.4,40.4 0 0 0 218.0,46.3M219.8,46.4A41.6,41.6 0 0 0 219.4,45.9M218.6,50.1A38.0,38.0 0 0 0 217.9,49.4M219.0,48.6A39.4,39.4 0 0 0 218.7,48.3M220.1,56.5A35.2,35.2 0 0 0 217.5,53.2M218.5,53.4A35.8,35.8 0 0 0 217.4,52.2M220.4,49.8A39.5,39.5 0 0 0 220.0,49.5M220.2,52.4A37.7,37.7 0 0 0 219.8,51.9M223.4,49.2A42.2,42.2 0 0 0 222.9,48.6M222.1,56.1A37.0,37.0 0 0 0 221.1,54.6M221.8,55.1A37.3,37.3 0 0 0 220.9,53.9M222.1,53.7A38.4,38.4 0 0 0 221.4,52.7M224.5,50.7A42.1,42.1 0 0 0 224.0,50.1M223.4,53.0A39.8,39.8 0 0 0 223.2,52.8M222.7,56.2A37.5,37.5 0 0 0 222.3,55.6M223.3,56.3A37.9,37.9 0 0 0 222.9,55.7M225.7,70.1A35.1,35.1 0 0 0 223.2,62.0M224.1,63.7A35.3,35.3 0 0 0 222.5,60.1M223.7,61.3A35.8,35.8 0 0 0 222.2,58.5M223.0,58.7A36.4,36.4 0 0 0 222.4,57.7M224.5,56.7A38.7,38.7 0 0 0 224.2,56.3M223.4,58.7A36.8,36.8 0 0 0 223.2,58.4M225.1,61.7A37.0,37.0 0 0 0 224.3,60.0M225.0,60.2A37.6,37.6 0 0 0 224.6,59.3M227.0,58.4A40.1,40.1 0 0 0 226.7,57.9M225.9,60.0A38.4,38.4 0 0 0 225.6,59.6M229.2,57.9A42.3,42.3 0 0 0 229.2,57.8M225.1,61.8A37.0,37.0 0 0 0 225.1,61.6M225.7,61.5A37.6,37.6 0 0 0 225.6,61.2M228.3,62.5A39.6,39.6 0 0 0 228.0,61.7M230.3,61.2A41.9,41.9 0 0 0 229.9,60.4M226.1,72.0A35.2,35.2 0 0 0 225.4,68.2M226.0,69.7A35.5,35.5 0 0 0 225.3,66.6M226.0,67.7A35.9,35.9 0 0 0 225.3,65.3M226.0,65.7A36.4,36.4 0 0 0 225.6,64.5M230.1,63.3A41.1,41.1 0 0 0 229.8,62.6M226.4,65.9A36.8,36.8 0 0 0 226.3,65.4M227.4,65.2A37.9,37.9 0 0 0 227.3,64.8M228.1,67.8A37.9,37.9 0 0 0 227.7,66.5M228.6,66.8A38.6,38.6 0 0 0 228.4,65.9M231.8,65.3A42.1,42.1 0 0 0 231.6,64.7M229.2,66.9A39.2,39.2 0 0 0 229.1,66.3M227.4,69.8A36.8,36.8 0 0 0 227.2,69.0M227.7,69.3A37.2,37.2 0 0 0 227.6,68.6M227.8,72.6A36.8,36.8 0 0 0 227.6,71.0M227.7,71.3A36.8,36.8 0 0 0 227.5,70.6M227.6,70.9A36.8,36.8 0 0 0 227.5,70.3M228.3,72.9A37.3,37.3 0 0 0 228.3,72.2M228.9,72.2A37.9,37.9 0 0 0 228.9,72.0M198.0,110.8L198.0,111.2M177.2,108.9L177.1,109.2M206.1,108.6L206.2,108.8M220.2,96.7L220.6,96.9M225.7,84.0L226.1,84.1M225.1,88.0L225.4,88.1M226.8,80.2L227.0,80.2M226.9,81.6L228.2,81.8M227.2,78.9L230.5,79.1M228.0,82.6L229.7,82.9M228.3,80.9L228.5,80.9M228.6,80.4L229.3,80.5M229.6,83.4L231.0,83.6M224.6,90.3L225.5,90.7M226.1,85.9L227.3,86.2M227.0,87.0L228.8,87.6M227.3,86.1L227.7,86.2M227.7,84.6L228.4,84.7M227.7,85.9L229.2,86.2M225.1,91.5L228.9,93.2M225.5,90.7L226.8,91.3M226.2,88.9L226.3,88.9M226.5,88.3L227.3,88.6M227.1,90.8L227.5,90.9M219.0,99.0L219.9,99.8M222.0,94.7L222.3,94.9M221.3,96.6L221.9,97.1M223.3,93.2L223.8,93.5M223.4,94.3L225.5,95.5M224.3,92.6L225.4,93.1M225.1,93.6L225.7,93.9M221.5,97.8L222.9,98.8M222.7,95.8L223.4,96.3M223.7,95.9L225.4,96.9M225.6,96.5L226.9,97.3M220.7,98.8L221.5,99.5M221.7,99.3L222.3,99.7M218.7,101.2L219.1,101.5M220.0,99.7L220.7,100.3M198.9,111.2L199.0,111.3M212.7,104.8L212.9,105.2M210.6,106.8L210.8,107.1M215.1,103.3L215.3,103.6M214.1,104.6L214.7,105.3M216.5,102.5L216.8,102.9M216.2,103.5L216.5,103.7M217.4,102.3L217.7,102.6M218.0,102.3L218.6,102.9M216.1,104.1L217.1,105.2M216.9,103.3L219.4,105.9M215.0,105.1L215.3,105.5M209.9,107.7L211.2,109.9M211.7,106.5L212.5,107.8M211.7,108.4L212.0,108.8M213.4,107.3L214.4,108.6M213.8,109.0L214.8,110.4M214.9,108.3L215.4,109.0M215.6,108.9L216.1,109.7M193.7,112.0L193.8,112.6M204.0,109.7L204.2,110.1M201.8,110.9L203.0,114.6M206.4,109.1L206.6,109.4M204.8,110.2L205.2,111.2M208.3,108.6L208.6,109.1M209.2,108.7L211.0,111.9M207.4,109.7L207.9,110.6M208.5,109.2L209.8,111.6M205.9,110.9L206.0,111.1M206.5,110.9L207.3,112.8M204.1,111.6L204.9,113.8M204.9,111.3L205.1,111.7M203.5,114.5L203.9,115.5M190.5,112.7L190.4,114.3M197.0,112.2L197.1,112.5M194.9,112.8L194.9,113.2M199.2,112.1L199.4,112.6M198.3,112.8L198.7,114.4M200.4,112.3L200.5,112.8M200.0,112.9L200.3,113.9M200.9,112.7L201.5,114.7M199.2,114.3L199.4,115.2M196.4,113.0L196.4,113.2M195.7,113.3L196.3,117.8M197.1,113.1L197.3,114.5M194.4,113.3L194.5,113.8M190.8,114.3L190.7,114.7M192.3,114.3L192.3,116.1M191.3,114.7L191.3,115.7M170.9,105.8L170.7,106.1M183.8,111.4L183.8,111.6M180.2,110.6L180.2,110.8M187.4,112.1L187.4,112.8M185.8,112.6L185.7,113.3M189.0,112.9L188.9,114.4M188.7,114.4L188.6,115.8M187.1,113.5L187.0,114.3M186.5,114.2L186.2,116.5M178.0,110.1L177.6,111.2M182.3,111.5L182.2,111.9M180.7,111.4L180.4,112.2M183.8,112.2L183.7,112.9M183.3,112.8L183.0,114.0M179.7,112.0L179.3,113.3M181.7,112.6L181.6,112.7M182.2,112.8L182.0,113.5M179.1,113.2L178.0,116.3M178.4,111.5L177.7,113.6M177.1,111.0L177.0,111.4M168.4,104.4L168.1,104.7M173.1,107.7L172.9,108.0M171.3,107.0L170.8,107.8M174.6,108.9L174.3,109.5M174.8,109.8L174.6,110.3M175.6,110.1L174.5,112.4M173.7,109.2L173.2,110.1M171.5,108.2L171.3,108.4M169.8,107.1L169.4,107.7M167.3,104.0L166.5,104.8M169.0,105.4L168.3,106.2M168.7,106.5L166.6,109.4M166.0,104.3L165.5,104.8M167.1,105.3L166.6,105.9M165.3,104.6L162.2,108.1M218.7,55.4L218.9,55.3M156.5,75.4L156.0,75.4M157.2,85.9L156.9,85.9M155.8,79.7L155.5,79.7M157.1,86.7L156.9,86.7M162.0,96.7L161.9,96.8M160.5,94.7L159.9,95.0M163.4,98.8L163.1,99.1M162.2,97.9L160.6,99.1M164.0,100.1L163.7,100.4M162.9,99.4L161.5,100.5M164.6,101.3L164.0,101.9M163.4,101.3L162.6,101.9M165.0,103.0L164.9,103.2M165.2,103.5L164.2,104.6M162.4,101.6L161.9,102.0M160.9,99.4L160.4,99.8M159.1,93.5L158.6,93.8M160.8,96.5L160.4,96.8M160.1,96.3L156.2,98.7M160.8,97.3L160.5,97.5M160.8,97.9L160.0,98.5M158.2,92.9L157.4,93.3M158.8,94.1L158.7,94.2M157.6,93.7L156.6,94.2M156.5,85.2L153.6,85.9M157.4,88.3L156.9,88.4M156.5,87.2L156.0,87.3M157.3,89.7L156.9,89.9M156.5,88.9L152.9,90.2M157.3,90.8L156.9,91.0M156.5,90.2L155.4,90.6M157.2,91.9L154.1,93.3M155.6,91.0L155.2,91.2M153.1,90.6L152.4,90.9M155.8,86.8L153.5,87.5M156.1,87.8L155.1,88.2M153.7,86.1L150.9,86.8M155.4,77.6L154.0,77.7M155.8,81.8L155.3,81.9M155.1,80.3L154.4,80.4M155.5,83.4L154.5,83.6M154.6,84.1L153.7,84.3M153.8,84.8L153.4,84.8M154.3,79.5L153.7,79.6M154.5,81.3L152.2,81.6M152.2,82.1L151.6,82.2M153.7,79.9L153.1,80.0M154.0,77.0L152.1,77.1M154.0,78.8L153.4,78.9M156.3,72.0L155.7,71.9M156.0,70.0L155.6,69.9M155.5,73.8L155.0,73.8M155.1,73.1L150.4,72.7M155.0,74.4L153.9,74.4M153.8,75.9L153.5,75.9M155.8,68.9L154.9,68.8M155.4,71.0L153.9,70.7M153.8,71.3L152.7,71.1M152.7,71.6L151.0,71.4M154.8,69.5L154.7,69.5M158.5,63.4L158.2,63.3M159.2,60.9L158.0,60.3M157.3,65.8L156.7,65.6M157.2,64.2L155.9,63.8M156.3,67.0L155.4,66.7M155.3,67.1L154.6,66.9M155.4,65.1L153.1,64.4M153.0,64.7L152.3,64.5M157.4,61.7L157.3,61.7M166.0,51.9L164.9,50.8M162.6,55.9L162.3,55.7M163.8,53.8L162.5,52.7M160.9,57.8L160.5,57.6M161.5,56.1L160.7,55.5M159.6,59.1L158.9,58.7M158.6,59.3L158.0,58.9M157.8,59.3L155.1,58.0M160.1,56.5L158.7,55.6M158.3,56.2L157.8,55.9M157.6,56.3L157.0,55.9M161.2,54.9L160.2,54.3M160.0,54.6L159.6,54.3M163.1,52.0L162.4,51.5M162.0,53.3L159.1,51.1M162.2,51.8L161.7,51.4M164.3,51.4L163.7,50.8M165.9,49.8L165.2,49.2M165.0,50.6L163.0,48.6M174.6,46.0L174.5,45.8M176.7,44.7L175.8,42.9M174.5,45.8L174.1,45.1M170.4,48.3L170.2,48.1M171.8,47.0L171.1,45.8M168.7,49.3L168.3,48.9M169.5,48.0L168.8,47.2M167.3,49.8L166.4,48.8M169.5,46.7L168.5,45.3M168.2,47.7L167.3,46.6M166.9,46.9L166.5,46.5M166.1,46.8L164.8,45.3M168.2,45.6L166.9,43.8M170.7,46.0L170.6,45.9M175.2,44.5L174.8,43.6M173.0,45.7L171.4,42.9M171.0,43.1L170.5,42.2M173.9,44.0L173.2,42.7M172.8,43.0L172.2,41.9M181.3,43.2L181.1,42.8M182.5,42.4L182.2,41.4M179.8,43.2L179.7,42.8M180.5,42.5L179.6,39.6M178.8,43.0L178.5,42.1M177.5,42.5L177.3,42.0M177.0,42.2L176.2,40.4M178.6,42.1L178.5,41.8M183.0,41.2L182.9,40.7M181.4,41.6L180.1,36.7M183.5,40.5L183.2,39.2M182.3,40.8L182.0,39.7M193.0,41.8L193.0,41.6M187.1,42.0L187.0,41.2M187.9,41.1L187.6,37.2M186.1,41.3L186.0,40.4M186.6,40.3L186.5,39.7M185.3,40.5L185.2,40.0M184.9,40.1L184.7,39.1M184.3,39.2L184.1,38.2M186.1,39.8L186.0,39.0M195.2,41.8L195.4,39.8M190.8,41.6L190.8,41.0M192.2,41.0L192.2,40.3M189.5,41.0L189.4,37.7M188.9,37.7L188.9,37.0M193.3,40.3L193.4,40.2M191.0,40.3L191.0,38.2M191.3,38.2L191.3,35.8M190.7,38.2L190.7,37.1M192.8,40.2L192.8,38.9M192.5,38.9L192.5,38.4M196.1,39.9L196.2,39.1M194.8,39.7L195.1,36.6M196.5,39.1L197.3,34.1M195.9,39.1L196.0,38.0M224.5,66.0L224.7,66.0M216.0,52.0L216.1,51.9M202.9,43.6L202.9,43.6M205.1,44.5L205.4,43.8M200.7,42.9L200.8,42.5M202.4,43.0L203.0,41.2M199.2,42.1L199.2,41.8M200.3,42.1L201.1,38.7M198.1,41.6L198.6,39.3M198.0,39.2L198.3,37.8M197.8,37.7L198.2,35.2M200.6,38.6L200.8,37.5M200.5,37.4L200.6,37.0M203.6,41.4L203.8,40.9M202.3,40.9L202.9,38.8M202.4,38.7L202.9,37.2M204.4,41.1L204.8,39.9M203.3,40.7L204.3,37.7M206.2,44.2L206.7,43.2M204.6,43.5L206.4,39.0M207.2,43.4L207.6,42.7M206.1,42.9L206.3,42.5M207.4,42.6L207.8,41.7M218.7,54.9L218.9,54.8M213.1,49.3L213.2,49.2M215.5,51.2L216.0,50.7M210.7,47.4L210.9,47.2M213.2,48.8L213.4,48.5M208.4,45.7L208.6,45.4M209.7,46.0L210.0,45.4M207.5,44.8L208.4,43.0M208.9,44.7L209.5,43.7M209.9,43.9L210.2,43.4M214.4,49.3L217.5,45.6M212.5,47.8L213.2,46.8M212.3,46.1L213.3,44.7M212.8,44.3L213.0,43.9M212.6,43.7L213.2,42.9M213.7,47.1L214.0,46.8M213.7,46.5L215.6,44.0M216.6,51.4L218.3,49.8M215.3,50.1L218.4,46.6M218.8,47.0L219.6,46.2M217.9,49.4L218.9,48.5M220.1,56.5L221.6,55.4M217.5,53.2L218.0,52.8M218.5,53.4L220.0,52.1M217.4,52.2L220.2,49.7M219.8,51.9L223.2,48.9M222.1,56.1L222.5,55.9M221.1,54.6L221.3,54.5M220.9,53.9L221.7,53.2M222.1,53.7L223.3,52.9M221.4,52.7L224.3,50.4M222.7,56.2L223.1,56.0M225.7,70.1L225.8,70.1M223.2,62.0L223.3,61.9M224.1,63.7L228.1,62.1M222.5,60.1L223.0,59.9M223.7,61.3L224.7,60.8M222.2,58.5L222.7,58.2M223.0,58.7L223.3,58.6M222.4,57.7L224.3,56.5M224.3,60.0L224.8,59.7M225.0,60.2L225.8,59.8M224.6,59.3L226.8,58.1M225.6,59.6L229.2,57.8M225.1,61.6L225.6,61.4M228.0,61.7L230.1,60.8M226.1,72.0L227.7,71.8M225.4,68.2L225.7,68.1M226.0,69.7L227.3,69.4M225.3,66.6L225.7,66.5M226.0,67.7L227.9,67.2M225.3,65.3L225.8,65.1M226.0,65.7L226.3,65.6M225.6,64.5L230.0,62.9M226.3,65.4L227.4,65.0M227.7,66.5L228.5,66.3M228.6,66.8L229.2,66.6M228.4,65.9L231.7,65.0M227.2,69.0L227.6,68.9M227.8,72.6L228.3,72.5M228.3,72.2L228.9,72.1M191.2,76.5L226.1,73.8" stroke="#111" stroke-width="0.7" fill="none"/>
<path d="M230.4,79.4L231.9,79.6M230.5,78.7L232.5,78.9M228.5,81.3L231.3,81.7M229.2,80.7L231.1,81.0M229.3,80.2L230.2,80.3M229.8,82.4L230.3,82.5M230.9,83.9L231.7,84.0M231.0,83.4L231.8,83.6M228.3,85.0L229.2,85.2M228.5,84.5L231.5,85.1M227.6,86.4L235.1,88.5M229.1,86.6L229.8,86.8M229.2,85.9L233.1,86.9M228.7,87.8L230.5,88.3M228.9,87.3L229.3,87.4M226.1,89.5L230.6,91.2M227.3,88.8L227.9,89.1M227.4,88.4L232.2,90.0M226.6,91.8L233.3,94.8M227.4,91.2L230.2,92.4M227.6,90.6L228.6,91.0M228.8,93.4L230.2,94.0M229.0,93.0L231.0,93.8M225.6,92.6L227.6,93.6M225.6,94.2L226.6,94.7M225.9,93.6L230.0,95.7M225.4,95.7L228.4,97.4M225.6,95.3L226.1,95.6M222.1,96.9L225.2,98.9M223.2,96.7L224.4,97.4M225.1,97.3L226.3,98.0M226.8,97.5L227.2,97.7M227.1,97.1L229.7,98.6M222.7,99.0L225.1,100.7M223.0,98.5L223.4,98.8M221.3,99.8L225.4,102.9M222.3,99.7L223.5,100.6M222.3,99.7L227.7,103.7M219.3,100.6L221.5,102.6M220.5,100.5L223.0,102.5M220.9,100.1L221.9,101.0M218.9,101.7L219.9,102.7M219.4,101.2L220.6,102.3M217.4,102.9L218.7,104.2M218.4,103.1L219.0,103.8M218.8,102.7L221.5,105.2M219.3,106.0L219.8,106.6M219.5,105.8L221.1,107.4M216.8,105.4L219.6,108.6M217.3,105.0L217.6,105.3M214.5,105.5L215.8,107.2M215.0,105.7L217.9,109.2M215.5,105.3L216.2,106.1M215.3,109.1L215.9,110.0M215.9,109.8L218.2,113.0M216.4,109.5L217.2,110.6M214.5,110.6L215.1,111.5M215.1,110.2L215.9,111.3M211.7,109.0L212.0,109.4M212.3,108.6L215.0,112.7M210.8,110.1L211.5,111.3M211.5,109.7L211.9,110.2M211.0,112.0L212.9,115.4M211.1,111.9L211.4,112.5M209.4,111.8L209.9,112.7M210.2,111.4L210.5,112.0M207.7,110.7L210.0,115.4M208.1,110.5L208.7,111.7M205.5,111.3L205.9,112.2M207.0,112.9L207.8,114.8M207.6,112.6L208.2,114.0M205.1,111.7L205.4,112.5M205.2,111.7L207.8,118.4M204.6,113.9L204.9,114.7M205.2,113.7L206.1,116.3M202.4,114.8L202.8,116.2M203.5,115.6L203.9,116.7M204.2,115.4L204.5,116.4M201.2,114.8L201.4,115.6M201.8,114.6L202.3,116.4M200.3,113.9L200.4,114.4M200.3,113.9L201.8,120.2M198.1,114.5L198.5,116.5M199.2,115.2L199.4,116.0M199.6,115.1L199.9,116.6M196.9,114.5L197.0,115.2M197.7,114.4L198.5,119.1M196.1,117.8L196.2,119.1M196.4,117.8L196.6,118.8M193.0,113.4L193.1,116.0M193.4,113.3L193.6,117.3M194.2,113.9L194.3,115.5M194.8,113.8L194.9,115.2M189.4,114.3L189.3,115.1M192.3,116.1L192.5,122.3M192.4,116.1L192.4,117.1M190.2,114.7L190.0,119.4M191.0,115.7L191.0,116.9M191.6,115.7L191.7,119.5M189.0,114.4L188.6,121.7M188.2,115.8L188.1,117.1M189.0,115.8L188.8,118.2M185.0,113.2L184.5,116.4M185.5,113.3L185.2,115.6M187.6,114.3L187.5,115.1M185.9,116.4L185.8,117.0M186.5,116.5L186.2,119.5M183.9,112.9L183.6,114.3M184.4,113.0L184.1,114.4M183.0,114.0L181.3,121.4M183.1,114.0L182.9,114.6M180.6,112.3L180.2,113.7M181.1,112.5L179.9,116.8M181.6,113.4L181.3,114.2M182.5,113.7L181.8,116.6M179.5,113.4L179.0,114.8M178.0,116.3L177.8,116.8M178.1,116.3L177.7,117.7M177.3,113.4L176.4,116.0M178.0,113.7L177.8,114.1M176.3,110.7L173.9,116.2M176.6,111.2L174.8,115.5M177.3,111.5L176.8,112.8M174.2,112.2L173.8,113.0M174.8,112.5L174.5,113.3M174.5,110.2L173.9,111.4M174.7,110.3L172.0,115.9M173.0,108.8L169.9,114.2M172.9,109.9L172.5,110.5M173.6,110.3L172.3,112.7M172.3,108.7L169.4,113.7M171.0,108.2L170.3,109.4M171.6,108.6L169.0,112.9M169.4,106.8L166.7,110.6M170.5,107.5L169.6,108.9M169.2,107.6L165.5,112.8M169.6,107.9L169.1,108.6M167.9,105.9L167.1,106.9M166.3,109.2L165.0,110.9M166.9,109.6L166.5,110.1M166.3,105.7L165.6,106.5M166.8,106.1L164.7,108.7M165.7,105.0L165.2,105.6M162.1,108.0L161.3,108.8M162.3,108.1L162.0,108.5M164.1,102.1L163.0,103.1M164.6,102.9L160.7,106.7M163.9,104.2L162.7,105.5M164.5,104.9L163.8,105.6M162.9,102.2L160.4,104.5M161.7,101.9L161.2,102.3M162.0,102.2L160.0,104.0M161.3,100.2L160.6,100.8M161.7,100.8L158.7,103.3M160.4,98.8L154.6,103.0M160.2,99.4L159.5,99.9M160.7,100.1L157.2,102.9M160.2,97.2L158.7,98.2M159.8,98.3L158.9,98.9M160.1,98.7L158.3,100.0M156.0,98.5L154.1,99.6M156.3,99.0L155.1,99.8M159.3,94.9L153.5,98.2M159.4,95.1L153.5,98.6M159.6,95.5L158.4,96.2M158.5,93.9L157.4,94.5M158.9,94.5L154.1,97.2M157.2,92.9L153.4,94.7M156.5,93.9L155.4,94.4M156.7,94.4L154.8,95.4M154.0,92.9L152.6,93.5M154.3,93.6L152.3,94.6M155.2,90.1L152.9,91.0M155.1,90.9L153.9,91.4M155.3,91.4L154.5,91.8M152.8,89.8L151.5,90.3M152.3,90.8L151.1,91.3M152.4,90.9L148.9,92.2M154.9,87.8L154.5,87.9M155.2,88.6L154.2,88.9M153.4,87.1L152.4,87.4M153.6,87.8L152.1,88.3M153.6,85.7L152.4,86.0M150.8,86.4L147.6,87.2M151.0,87.3L149.7,87.6M153.6,83.9L148.7,84.9M153.3,84.5L152.5,84.6M153.5,85.2L152.2,85.5M154.3,82.7L151.4,83.2M154.4,83.3L153.8,83.4M152.1,81.0L151.0,81.2M151.5,81.9L148.0,82.3M151.6,82.6L150.2,82.8M153.6,79.3L147.8,79.7M153.1,79.7L147.7,80.2M153.1,80.2L151.6,80.3M154.0,77.8L153.3,77.9M153.3,78.6L149.0,78.9M153.4,79.1L152.4,79.2M152.1,76.9L147.5,76.9M152.1,77.3L150.7,77.3M153.9,73.9L151.1,73.7M153.9,74.2L152.4,74.1M153.9,75.0L151.7,74.9M153.8,75.6L150.0,75.6M153.5,75.9L147.9,75.8M153.5,76.0L152.6,76.0M150.5,72.4L149.5,72.3M150.4,73.0L149.2,72.9M154.0,70.2L151.7,69.8M152.8,70.6L151.9,70.5M151.1,71.1L148.2,70.7M151.0,71.8L150.1,71.7M154.9,68.9L148.5,67.6M154.7,69.2L152.6,68.8M154.6,69.8L153.7,69.7M155.1,68.0L153.6,67.7M155.0,68.5L153.8,68.3M155.5,66.3L152.2,65.3M154.7,66.7L154.0,66.5M154.6,67.2L149.9,66.0M153.2,64.1L148.2,62.4M152.4,64.1L151.8,64.0M152.2,64.8L150.7,64.4M155.8,64.1L152.0,62.8M155.7,64.5L155.3,64.3M156.4,62.5L155.1,62.0M156.3,62.9L152.9,61.6M156.1,63.4L155.2,63.1M158.3,59.8L157.1,59.2M157.9,60.5L151.9,57.6M157.7,60.9L156.7,60.4M157.5,61.3L155.3,60.4M157.2,62.0L156.2,61.5M159.2,58.2L157.9,57.5M158.2,58.5L157.6,58.2M155.1,57.9L154.7,57.7M155.0,58.0L150.9,55.9M159.0,55.1L157.4,54.0M158.1,55.5L155.8,54.0M157.2,55.5L155.7,54.6M156.8,56.3L156.4,56.1M159.4,54.6L155.5,51.9M171.0,45.8L166.5,38.8M180.5,36.6L180.4,35.9M185.6,40.0L183.9,29.1M192.8,38.4L192.9,37.7M196.3,38.0L196.5,37.1M213.4,43.0L214.3,41.7" stroke="#9430e4" stroke-width="0.6" fill="none"/>
<path d="M161.7,54.2L159.6,52.6M160.4,54.0L159.8,53.5M159.8,54.0L159.3,53.6M159.2,50.9L158.6,50.4M159.0,51.2L157.2,49.9M162.7,51.1L161.7,50.2M161.9,51.2L161.5,50.8M161.6,51.6L158.2,48.8M163.9,50.6L163.0,49.7M163.4,51.1L159.6,47.6M163.2,48.4L160.9,46.1M162.8,48.8L162.1,48.2M165.5,48.9L165.1,48.6M165.0,49.4L161.9,46.2M166.5,48.6L163.9,45.7M166.2,49.0L165.3,48.0M167.7,46.2L166.8,45.0M166.8,46.1L166.1,45.2M165.0,45.1L164.6,44.6M164.7,45.4L163.5,44.1M168.8,45.1L168.5,44.5M167.0,43.8L166.5,43.0M166.8,43.9L166.3,43.4M171.3,45.7L169.1,42.4M170.8,45.9L170.0,44.8M170.5,46.0L169.4,44.4M171.8,42.7L170.3,40.2M170.7,42.1L169.9,40.7M170.2,42.4L169.6,41.4M175.3,43.3L169.9,32.1M174.6,43.6L172.7,39.9M173.6,42.5L172.4,40.0M172.4,41.8L171.7,40.6M172.0,42.0L171.8,41.5M176.2,42.7L174.7,39.3M175.7,42.9L175.2,41.7M175.3,43.1L173.3,39.1M177.7,41.9L177.3,40.7M176.4,40.3L175.3,37.5M176.0,40.5L175.5,39.3M179.8,41.7L178.2,36.6M179.5,41.8L177.5,35.7M178.8,41.7L177.7,38.6M178.2,41.9L177.8,40.7M179.8,39.5L179.7,39.0M179.4,39.7L176.4,30.4M179.6,36.8L179.4,36.3M182.3,39.6L182.2,39.2M181.7,39.7L180.6,35.5M183.5,39.2L182.9,36.3M183.0,39.3L182.8,38.6M185.1,39.1L185.0,38.6M184.4,38.1L184.2,36.7M183.8,38.3L183.0,34.3M187.0,39.7L186.5,35.3M186.2,39.0L185.9,36.7M185.7,39.1L185.5,37.8M187.8,37.1L187.7,35.6M187.3,37.2L187.2,36.3M189.8,37.6L189.7,36.0M189.1,37.0L189.0,35.3M188.7,37.0L188.6,36.1M191.0,37.1L191.0,30.0M190.4,37.1L190.4,36.7M191.5,35.8L191.6,35.2M191.1,35.8L191.1,34.3M193.9,40.3L194.3,35.7M193.1,38.9L193.4,34.3M192.2,38.4L192.3,35.2M195.4,36.7L195.5,35.3M194.7,36.6L194.9,34.4M195.7,37.9L195.8,37.2M197.6,34.2L197.7,33.6M196.9,34.1L197.7,28.2M199.2,39.4L199.9,36.0M198.8,37.8L199.0,36.9M198.7,35.3L198.9,33.8M197.8,35.2L198.0,34.0M201.7,38.9L202.3,36.7M201.1,37.6L201.9,34.5M200.9,37.0L201.4,34.8M200.4,36.9L200.5,36.4M203.4,39.0L203.5,38.6M203.2,37.3L203.6,35.8M202.6,37.1L202.8,36.6M204.6,37.8L204.8,37.4M203.9,37.6L205.2,33.7M205.0,40.0L205.2,39.5M204.6,39.8L205.8,36.5M206.7,39.1L207.0,38.3M206.2,38.9L207.1,36.6M206.6,42.6L207.6,40.3M206.0,42.4L206.4,41.5M207.8,42.8L212.5,33.2M208.0,41.8L209.3,39.2M207.5,41.6L207.8,41.0M208.7,43.1L208.9,42.7M208.2,42.9L210.0,39.4M210.6,45.7L213.9,40.5M210.0,45.4L212.9,40.7M209.1,43.5L211.4,39.4M210.4,43.5L210.8,42.8M209.9,43.2L211.6,40.2M213.8,45.0L215.4,42.7M213.4,44.2L213.8,43.6M212.9,42.7L213.3,42.1M214.6,47.8L218.5,43.0M214.4,47.0L214.7,46.6M215.9,44.2L216.5,43.4M215.3,43.7L215.8,43.0M217.8,45.8L218.6,44.8M217.3,45.3L218.3,44.1M218.0,46.3L218.8,45.3M219.8,46.4L220.3,45.8M219.4,45.9L219.9,45.4M218.6,50.1L219.2,49.6M219.0,48.6L221.8,45.9M218.7,48.3L219.0,48.0M220.4,49.8L221.1,49.2M220.0,49.5L220.8,48.7M220.2,52.4L220.9,51.8M223.4,49.2L223.7,48.9M222.9,48.6L223.9,47.8M221.8,55.1L223.5,53.9M224.5,50.7L225.2,50.2M224.0,50.1L225.3,49.1M223.4,53.0L224.1,52.5M223.2,52.8L226.1,50.6M222.3,55.6L227.7,52.0M223.3,56.3L223.8,56.0M222.9,55.7L227.9,52.3M224.5,56.7L225.6,56.0M224.2,56.3L225.2,55.7M223.4,58.7L224.6,58.0M223.2,58.4L226.1,56.8M227.0,58.4L227.9,57.9M226.7,57.9L228.8,56.8M225.9,60.0L226.6,59.7M229.2,57.9L233.8,55.7M229.2,57.8L230.3,57.2M225.1,61.8L233.8,58.1M225.7,61.5L228.1,60.5M225.6,61.2L226.2,60.9M228.3,62.5L229.3,62.1M230.3,61.2L232.0,60.6M229.9,60.4L231.0,60.0M230.1,63.3L230.7,63.1M229.8,62.6L231.4,62.1M226.4,65.9L232.1,64.2M227.4,65.2L228.0,65.1M227.3,64.8L228.7,64.3M228.1,67.8L228.6,67.7M231.8,65.3L232.6,65.1M231.6,64.7L235.7,63.5M229.2,66.9L232.2,66.1M229.1,66.3L230.3,66.0M227.4,69.8L232.7,68.9M227.7,69.3L232.0,68.4M227.6,68.6L228.2,68.4M227.7,71.3L232.6,70.6M227.6,70.9L229.0,70.6M227.5,70.3L227.7,70.3M228.3,72.9L231.6,72.6M228.9,72.2L231.6,71.9M228.9,72.0L230.2,71.8" stroke="#f4a630" stroke-width="0.6" fill="none"/>
<path d="M191.2,76.5L193.7,76.5" stroke="#222" stroke-width="0.8"/>
<circle cx="193.7" cy="76.5" r="1.3" fill="#111"/>
<path d="M191.2,76.5L198.2,76.5" stroke="#222" stroke-width="0.8"/>
<circle cx="198.2" cy="76.5" r="1.3" fill="#111"/>
<path d="M157.9,53.6a1.4,1.4 0 1 0 2.8,0a1.4,1.4 0 1 0 -2.8,0M158.4,53.5a1.4,1.4 0 1 0 2.8,0a1.4,1.4 0 1 0 -2.8,0M158.2,52.6a1.4,1.4 0 1 0 2.8,0a1.4,1.4 0 1 0 -2.8,0M155.8,49.9a1.4,1.4 0 1 0 2.8,0a1.4,1.4 0 1 0 -2.8,0M157.2,50.4a1.4,1.4 0 1 0 2.8,0a1.4,1.4 0 1 0 -2.8,0M156.8,48.8a1.4,1.4 0 1 0 2.8,0a1.4,1.4 0 1 0 -2.8,0M160.1,50.8a1.4,1.4 0 1 0 2.8,0a1.4,1.4 0 1 0 -2.8,0M160.3,50.2a1.4,1.4 0 1 0 2.8,0a1.4,1.4 0 1 0 -2.8,0M158.2,47.6a1.4,1.4 0 1 0 2.8,0a1.4,1.4 0 1 0 -2.8,0M161.6,49.7a1.4,1.4 0 1 0 2.8,0a1.4,1.4 0 1 0 -2.8,0M160.7,48.2a1.4,1.4 0 1 0 2.8,0a1.4,1.4 0 1 0 -2.8,0M159.5,46.1a1.4,1.4 0 1 0 2.8,0a1.4,1.4 0 1 0 -2.8,0M160.5,46.2a1.4,1.4 0 1 0 2.8,0a1.4,1.4 0 1 0 -2.8,0M163.7,48.6a1.4,1.4 0 1 0 2.8,0a1.4,1.4 0 1 0 -2.8,0M163.9,48.0a1.4,1.4 0 1 0 2.8,0a1.4,1.4 0 1 0 -2.8,0M162.5,45.7a1.4,1.4 0 1 0 2.8,0a1.4,1.4 0 1 0 -2.8,0M162.1,44.1a1.4,1.4 0 1 0 2.8,0a1.4,1.4 0 1 0 -2.8,0M163.2,44.6a1.4,1.4 0 1 0 2.8,0a1.4,1.4 0 1 0 -2.8,0M164.7,45.2a1.4,1.4 0 1 0 2.8,0a1.4,1.4 0 1 0 -2.8,0M165.4,45.0a1.4,1.4 0 1 0 2.8,0a1.4,1.4 0 1 0 -2.8,0M164.9,43.4a1.4,1.4 0 1 0 2.8,0a1.4,1.4 0 1 0 -2.8,0M165.1,43.0a1.4,1.4 0 1 0 2.8,0a1.4,1.4 0 1 0 -2.8,0M167.1,44.5a1.4,1.4 0 1 0 2.8,0a1.4,1.4 0 1 0 -2.8,0M168.0,44.4a1.4,1.4 0 1 0 2.8,0a1.4,1.4 0 1 0 -2.8,0M168.6,44.8a1.4,1.4 0 1 0 2.8,0a1.4,1.4 0 1 0 -2.8,0M167.7,42.4a1.4,1.4 0 1 0 2.8,0a1.4,1.4 0 1 0 -2.8,0M168.2,41.4a1.4,1.4 0 1 0 2.8,0a1.4,1.4 0 1 0 -2.8,0M168.5,40.7a1.4,1.4 0 1 0 2.8,0a1.4,1.4 0 1 0 -2.8,0M168.9,40.2a1.4,1.4 0 1 0 2.8,0a1.4,1.4 0 1 0 -2.8,0M170.4,41.5a1.4,1.4 0 1 0 2.8,0a1.4,1.4 0 1 0 -2.8,0M170.3,40.6a1.4,1.4 0 1 0 2.8,0a1.4,1.4 0 1 0 -2.8,0M171.0,40.0a1.4,1.4 0 1 0 2.8,0a1.4,1.4 0 1 0 -2.8,0M171.3,39.9a1.4,1.4 0 1 0 2.8,0a1.4,1.4 0 1 0 -2.8,0M168.5,32.1a1.4,1.4 0 1 0 2.8,0a1.4,1.4 0 1 0 -2.8,0M171.9,39.1a1.4,1.4 0 1 0 2.8,0a1.4,1.4 0 1 0 -2.8,0M173.8,41.7a1.4,1.4 0 1 0 2.8,0a1.4,1.4 0 1 0 -2.8,0M173.3,39.3a1.4,1.4 0 1 0 2.8,0a1.4,1.4 0 1 0 -2.8,0M174.1,39.3a1.4,1.4 0 1 0 2.8,0a1.4,1.4 0 1 0 -2.8,0M173.9,37.5a1.4,1.4 0 1 0 2.8,0a1.4,1.4 0 1 0 -2.8,0M175.9,40.7a1.4,1.4 0 1 0 2.8,0a1.4,1.4 0 1 0 -2.8,0M176.4,40.7a1.4,1.4 0 1 0 2.8,0a1.4,1.4 0 1 0 -2.8,0M176.3,38.6a1.4,1.4 0 1 0 2.8,0a1.4,1.4 0 1 0 -2.8,0M176.1,35.7a1.4,1.4 0 1 0 2.8,0a1.4,1.4 0 1 0 -2.8,0M176.8,36.6a1.4,1.4 0 1 0 2.8,0a1.4,1.4 0 1 0 -2.8,0M175.0,30.4a1.4,1.4 0 1 0 2.8,0a1.4,1.4 0 1 0 -2.8,0M178.3,39.0a1.4,1.4 0 1 0 2.8,0a1.4,1.4 0 1 0 -2.8,0M178.0,36.3a1.4,1.4 0 1 0 2.8,0a1.4,1.4 0 1 0 -2.8,0M179.2,35.5a1.4,1.4 0 1 0 2.8,0a1.4,1.4 0 1 0 -2.8,0M180.8,39.2a1.4,1.4 0 1 0 2.8,0a1.4,1.4 0 1 0 -2.8,0M181.4,38.6a1.4,1.4 0 1 0 2.8,0a1.4,1.4 0 1 0 -2.8,0M181.5,36.3a1.4,1.4 0 1 0 2.8,0a1.4,1.4 0 1 0 -2.8,0M181.6,34.3a1.4,1.4 0 1 0 2.8,0a1.4,1.4 0 1 0 -2.8,0M182.8,36.7a1.4,1.4 0 1 0 2.8,0a1.4,1.4 0 1 0 -2.8,0M183.6,38.6a1.4,1.4 0 1 0 2.8,0a1.4,1.4 0 1 0 -2.8,0M184.1,37.8a1.4,1.4 0 1 0 2.8,0a1.4,1.4 0 1 0 -2.8,0M184.5,36.7a1.4,1.4 0 1 0 2.8,0a1.4,1.4 0 1 0 -2.8,0M185.1,35.3a1.4,1.4 0 1 0 2.8,0a1.4,1.4 0 1 0 -2.8,0M185.8,36.3a1.4,1.4 0 1 0 2.8,0a1.4,1.4 0 1 0 -2.8,0M186.3,35.6a1.4,1.4 0 1 0 2.8,0a1.4,1.4 0 1 0 -2.8,0M187.2,36.1a1.4,1.4 0 1 0 2.8,0a1.4,1.4 0 1 0 -2.8,0M187.6,35.3a1.4,1.4 0 1 0 2.8,0a1.4,1.4 0 1 0 -2.8,0M188.3,36.0a1.4,1.4 0 1 0 2.8,0a1.4,1.4 0 1 0 -2.8,0M189.0,36.7a1.4,1.4 0 1 0 2.8,0a1.4,1.4 0 1 0 -2.8,0M189.6,30.0a1.4,1.4 0 1 0 2.8,0a1.4,1.4 0 1 0 -2.8,0M189.7,34.3a1.4,1.4 0 1 0 2.8,0a1.4,1.4 0 1 0 -2.8,0M190.2,35.2a1.4,1.4 0 1 0 2.8,0a1.4,1.4 0 1 0 -2.8,0M190.9,35.2a1.4,1.4 0 1 0 2.8,0a1.4,1.4 0 1 0 -2.8,0M192.0,34.3a1.4,1.4 0 1 0 2.8,0a1.4,1.4 0 1 0 -2.8,0M192.9,35.7a1.4,1.4 0 1 0 2.8,0a1.4,1.4 0 1 0 -2.8,0M193.5,34.4a1.4,1.4 0 1 0 2.8,0a1.4,1.4 0 1 0 -2.8,0M194.1,35.3a1.4,1.4 0 1 0 2.8,0a1.4,1.4 0 1 0 -2.8,0M194.4,37.2a1.4,1.4 0 1 0 2.8,0a1.4,1.4 0 1 0 -2.8,0M196.3,28.2a1.4,1.4 0 1 0 2.8,0a1.4,1.4 0 1 0 -2.8,0M196.3,33.6a1.4,1.4 0 1 0 2.8,0a1.4,1.4 0 1 0 -2.8,0M196.6,34.0a1.4,1.4 0 1 0 2.8,0a1.4,1.4 0 1 0 -2.8,0M197.5,33.8a1.4,1.4 0 1 0 2.8,0a1.4,1.4 0 1 0 -2.8,0M197.6,36.9a1.4,1.4 0 1 0 2.8,0a1.4,1.4 0 1 0 -2.8,0M198.5,36.0a1.4,1.4 0 1 0 2.8,0a1.4,1.4 0 1 0 -2.8,0M199.1,36.4a1.4,1.4 0 1 0 2.8,0a1.4,1.4 0 1 0 -2.8,0M200.0,34.8a1.4,1.4 0 1 0 2.8,0a1.4,1.4 0 1 0 -2.8,0M200.5,34.5a1.4,1.4 0 1 0 2.8,0a1.4,1.4 0 1 0 -2.8,0M200.9,36.7a1.4,1.4 0 1 0 2.8,0a1.4,1.4 0 1 0 -2.8,0M201.4,36.6a1.4,1.4 0 1 0 2.8,0a1.4,1.4 0 1 0 -2.8,0M202.2,35.8a1.4,1.4 0 1 0 2.8,0a1.4,1.4 0 1 0 -2.8,0M202.1,38.6a1.4,1.4 0 1 0 2.8,0a1.4,1.4 0 1 0 -2.8,0M203.8,33.7a1.4,1.4 0 1 0 2.8,0a1.4,1.4 0 1 0 -2.8,0M203.4,37.4a1.4,1.4 0 1 0 2.8,0a1.4,1.4 0 1 0 -2.8,0M204.4,36.5a1.4,1.4 0 1 0 2.8,0a1.4,1.4 0 1 0 -2.8,0M203.8,39.5a1.4,1.4 0 1 0 2.8,0a1.4,1.4 0 1 0 -2.8,0M205.7,36.6a1.4,1.4 0 1 0 2.8,0a1.4,1.4 0 1 0 -2.8,0M205.6,38.3a1.4,1.4 0 1 0 2.8,0a1.4,1.4 0 1 0 -2.8,0M205.0,41.5a1.4,1.4 0 1 0 2.8,0a1.4,1.4 0 1 0 -2.8,0M206.2,40.3a1.4,1.4 0 1 0 2.8,0a1.4,1.4 0 1 0 -2.8,0M206.4,41.0a1.4,1.4 0 1 0 2.8,0a1.4,1.4 0 1 0 -2.8,0M207.9,39.2a1.4,1.4 0 1 0 2.8,0a1.4,1.4 0 1 0 -2.8,0M211.1,33.2a1.4,1.4 0 1 0 2.8,0a1.4,1.4 0 1 0 -2.8,0M208.6,39.4a1.4,1.4 0 1 0 2.8,0a1.4,1.4 0 1 0 -2.8,0M207.5,42.7a1.4,1.4 0 1 0 2.8,0a1.4,1.4 0 1 0 -2.8,0M210.0,39.4a1.4,1.4 0 1 0 2.8,0a1.4,1.4 0 1 0 -2.8,0M210.2,40.2a1.4,1.4 0 1 0 2.8,0a1.4,1.4 0 1 0 -2.8,0M209.4,42.8a1.4,1.4 0 1 0 2.8,0a1.4,1.4 0 1 0 -2.8,0M211.5,40.7a1.4,1.4 0 1 0 2.8,0a1.4,1.4 0 1 0 -2.8,0M212.5,40.5a1.4,1.4 0 1 0 2.8,0a1.4,1.4 0 1 0 -2.8,0M211.9,42.1a1.4,1.4 0 1 0 2.8,0a1.4,1.4 0 1 0 -2.8,0M212.4,43.6a1.4,1.4 0 1 0 2.8,0a1.4,1.4 0 1 0 -2.8,0M214.0,42.7a1.4,1.4 0 1 0 2.8,0a1.4,1.4 0 1 0 -2.8,0M214.4,43.0a1.4,1.4 0 1 0 2.8,0a1.4,1.4 0 1 0 -2.8,0M215.1,43.4a1.4,1.4 0 1 0 2.8,0a1.4,1.4 0 1 0 -2.8,0M213.3,46.6a1.4,1.4 0 1 0 2.8,0a1.4,1.4 0 1 0 -2.8,0M217.1,43.0a1.4,1.4 0 1 0 2.8,0a1.4,1.4 0 1 0 -2.8,0M216.9,44.1a1.4,1.4 0 1 0 2.8,0a1.4,1.4 0 1 0 -2.8,0M217.2,44.8a1.4,1.4 0 1 0 2.8,0a1.4,1.4 0 1 0 -2.8,0M217.4,45.3a1.4,1.4 0 1 0 2.8,0a1.4,1.4 0 1 0 -2.8,0M218.5,45.4a1.4,1.4 0 1 0 2.8,0a1.4,1.4 0 1 0 -2.8,0M218.9,45.8a1.4,1.4 0 1 0 2.8,0a1.4,1.4 0 1 0 -2.8,0M217.6,48.0a1.4,1.4 0 1 0 2.8,0a1.4,1.4 0 1 0 -2.8,0M220.4,45.9a1.4,1.4 0 1 0 2.8,0a1.4,1.4 0 1 0 -2.8,0M217.8,49.6a1.4,1.4 0 1 0 2.8,0a1.4,1.4 0 1 0 -2.8,0M219.4,48.7a1.4,1.4 0 1 0 2.8,0a1.4,1.4 0 1 0 -2.8,0M219.7,49.2a1.4,1.4 0 1 0 2.8,0a1.4,1.4 0 1 0 -2.8,0M222.5,47.8a1.4,1.4 0 1 0 2.8,0a1.4,1.4 0 1 0 -2.8,0M222.3,48.9a1.4,1.4 0 1 0 2.8,0a1.4,1.4 0 1 0 -2.8,0M219.5,51.8a1.4,1.4 0 1 0 2.8,0a1.4,1.4 0 1 0 -2.8,0M223.9,49.1a1.4,1.4 0 1 0 2.8,0a1.4,1.4 0 1 0 -2.8,0M223.8,50.2a1.4,1.4 0 1 0 2.8,0a1.4,1.4 0 1 0 -2.8,0M224.7,50.6a1.4,1.4 0 1 0 2.8,0a1.4,1.4 0 1 0 -2.8,0M222.7,52.5a1.4,1.4 0 1 0 2.8,0a1.4,1.4 0 1 0 -2.8,0M222.1,53.9a1.4,1.4 0 1 0 2.8,0a1.4,1.4 0 1 0 -2.8,0M226.3,52.0a1.4,1.4 0 1 0 2.8,0a1.4,1.4 0 1 0 -2.8,0M226.5,52.3a1.4,1.4 0 1 0 2.8,0a1.4,1.4 0 1 0 -2.8,0M222.4,56.0a1.4,1.4 0 1 0 2.8,0a1.4,1.4 0 1 0 -2.8,0M223.8,55.7a1.4,1.4 0 1 0 2.8,0a1.4,1.4 0 1 0 -2.8,0M224.2,56.0a1.4,1.4 0 1 0 2.8,0a1.4,1.4 0 1 0 -2.8,0M224.7,56.8a1.4,1.4 0 1 0 2.8,0a1.4,1.4 0 1 0 -2.8,0M223.2,58.0a1.4,1.4 0 1 0 2.8,0a1.4,1.4 0 1 0 -2.8,0M227.4,56.8a1.4,1.4 0 1 0 2.8,0a1.4,1.4 0 1 0 -2.8,0M226.5,57.9a1.4,1.4 0 1 0 2.8,0a1.4,1.4 0 1 0 -2.8,0M228.9,57.2a1.4,1.4 0 1 0 2.8,0a1.4,1.4 0 1 0 -2.8,0M232.4,55.7a1.4,1.4 0 1 0 2.8,0a1.4,1.4 0 1 0 -2.8,0M225.2,59.7a1.4,1.4 0 1 0 2.8,0a1.4,1.4 0 1 0 -2.8,0M224.8,60.9a1.4,1.4 0 1 0 2.8,0a1.4,1.4 0 1 0 -2.8,0M226.7,60.5a1.4,1.4 0 1 0 2.8,0a1.4,1.4 0 1 0 -2.8,0M232.4,58.1a1.4,1.4 0 1 0 2.8,0a1.4,1.4 0 1 0 -2.8,0M229.6,60.0a1.4,1.4 0 1 0 2.8,0a1.4,1.4 0 1 0 -2.8,0M230.6,60.6a1.4,1.4 0 1 0 2.8,0a1.4,1.4 0 1 0 -2.8,0M227.9,62.1a1.4,1.4 0 1 0 2.8,0a1.4,1.4 0 1 0 -2.8,0M230.0,62.1a1.4,1.4 0 1 0 2.8,0a1.4,1.4 0 1 0 -2.8,0M229.3,63.1a1.4,1.4 0 1 0 2.8,0a1.4,1.4 0 1 0 -2.8,0M227.3,64.3a1.4,1.4 0 1 0 2.8,0a1.4,1.4 0 1 0 -2.8,0M226.6,65.1a1.4,1.4 0 1 0 2.8,0a1.4,1.4 0 1 0 -2.8,0M230.7,64.2a1.4,1.4 0 1 0 2.8,0a1.4,1.4 0 1 0 -2.8,0M234.3,63.5a1.4,1.4 0 1 0 2.8,0a1.4,1.4 0 1 0 -2.8,0M231.2,65.1a1.4,1.4 0 1 0 2.8,0a1.4,1.4 0 1 0 -2.8,0M228.9,66.0a1.4,1.4 0 1 0 2.8,0a1.4,1.4 0 1 0 -2.8,0M230.8,66.1a1.4,1.4 0 1 0 2.8,0a1.4,1.4 0 1 0 -2.8,0M227.2,67.7a1.4,1.4 0 1 0 2.8,0a1.4,1.4 0 1 0 -2.8,0M226.8,68.4a1.4,1.4 0 1 0 2.8,0a1.4,1.4 0 1 0 -2.8,0M230.6,68.4a1.4,1.4 0 1 0 2.8,0a1.4,1.4 0 1 0 -2.8,0M231.3,68.9a1.4,1.4 0 1 0 2.8,0a1.4,1.4 0 1 0 -2.8,0M226.3,70.3a1.4,1.4 0 1 0 2.8,0a1.4,1.4 0 1 0 -2.8,0M227.6,70.6a1.4,1.4 0 1 0 2.8,0a1.4,1.4 0 1 0 -2.8,0M231.2,70.6a1.4,1.4 0 1 0 2.8,0a1.4,1.4 0 1 0 -2.8,0M228.8,71.8a1.4,1.4 0 1 0 2.8,0a1.4,1.4 0 1 0 -2.8,0M230.2,71.9a1.4,1.4 0 1 0 2.8,0a1.4,1.4 0 1 0 -2.8,0M230.2,72.6a1.4,1.4 0 1 0 2.8,0a1.4,1.4 0 1 0 -2.8,0" fill="#f4a630"/>
<path d="M231.1,78.9a1.4,1.4 0 1 0 2.8,0a1.4,1.4 0 1 0 -2.8,0M230.5,79.6a1.4,1.4 0 1 0 2.8,0a1.4,1.4 0 1 0 -2.8,0M228.8,80.3a1.4,1.4 0 1 0 2.8,0a1.4,1.4 0 1 0 -2.8,0M229.7,81.0a1.4,1.4 0 1 0 2.8,0a1.4,1.4 0 1 0 -2.8,0M229.9,81.7a1.4,1.4 0 1 0 2.8,0a1.4,1.4 0 1 0 -2.8,0M228.9,82.5a1.4,1.4 0 1 0 2.8,0a1.4,1.4 0 1 0 -2.8,0M230.4,83.6a1.4,1.4 0 1 0 2.8,0a1.4,1.4 0 1 0 -2.8,0M230.3,84.0a1.4,1.4 0 1 0 2.8,0a1.4,1.4 0 1 0 -2.8,0M230.1,85.1a1.4,1.4 0 1 0 2.8,0a1.4,1.4 0 1 0 -2.8,0M227.8,85.2a1.4,1.4 0 1 0 2.8,0a1.4,1.4 0 1 0 -2.8,0M231.7,86.9a1.4,1.4 0 1 0 2.8,0a1.4,1.4 0 1 0 -2.8,0M228.4,86.8a1.4,1.4 0 1 0 2.8,0a1.4,1.4 0 1 0 -2.8,0M233.7,88.5a1.4,1.4 0 1 0 2.8,0a1.4,1.4 0 1 0 -2.8,0M227.9,87.4a1.4,1.4 0 1 0 2.8,0a1.4,1.4 0 1 0 -2.8,0M229.1,88.3a1.4,1.4 0 1 0 2.8,0a1.4,1.4 0 1 0 -2.8,0M230.8,90.0a1.4,1.4 0 1 0 2.8,0a1.4,1.4 0 1 0 -2.8,0M226.5,89.1a1.4,1.4 0 1 0 2.8,0a1.4,1.4 0 1 0 -2.8,0M229.2,91.2a1.4,1.4 0 1 0 2.8,0a1.4,1.4 0 1 0 -2.8,0M227.2,91.0a1.4,1.4 0 1 0 2.8,0a1.4,1.4 0 1 0 -2.8,0M228.8,92.4a1.4,1.4 0 1 0 2.8,0a1.4,1.4 0 1 0 -2.8,0M231.9,94.8a1.4,1.4 0 1 0 2.8,0a1.4,1.4 0 1 0 -2.8,0M229.6,93.8a1.4,1.4 0 1 0 2.8,0a1.4,1.4 0 1 0 -2.8,0M228.8,94.0a1.4,1.4 0 1 0 2.8,0a1.4,1.4 0 1 0 -2.8,0M226.2,93.6a1.4,1.4 0 1 0 2.8,0a1.4,1.4 0 1 0 -2.8,0M228.6,95.7a1.4,1.4 0 1 0 2.8,0a1.4,1.4 0 1 0 -2.8,0M225.2,94.7a1.4,1.4 0 1 0 2.8,0a1.4,1.4 0 1 0 -2.8,0M224.7,95.6a1.4,1.4 0 1 0 2.8,0a1.4,1.4 0 1 0 -2.8,0M227.0,97.4a1.4,1.4 0 1 0 2.8,0a1.4,1.4 0 1 0 -2.8,0M228.3,98.6a1.4,1.4 0 1 0 2.8,0a1.4,1.4 0 1 0 -2.8,0M225.8,97.7a1.4,1.4 0 1 0 2.8,0a1.4,1.4 0 1 0 -2.8,0M224.9,98.0a1.4,1.4 0 1 0 2.8,0a1.4,1.4 0 1 0 -2.8,0M223.0,97.4a1.4,1.4 0 1 0 2.8,0a1.4,1.4 0 1 0 -2.8,0M223.8,98.9a1.4,1.4 0 1 0 2.8,0a1.4,1.4 0 1 0 -2.8,0M222.0,98.8a1.4,1.4 0 1 0 2.8,0a1.4,1.4 0 1 0 -2.8,0M223.7,100.7a1.4,1.4 0 1 0 2.8,0a1.4,1.4 0 1 0 -2.8,0M226.3,103.7a1.4,1.4 0 1 0 2.8,0a1.4,1.4 0 1 0 -2.8,0M222.1,100.6a1.4,1.4 0 1 0 2.8,0a1.4,1.4 0 1 0 -2.8,0M224.0,102.9a1.4,1.4 0 1 0 2.8,0a1.4,1.4 0 1 0 -2.8,0M220.5,101.0a1.4,1.4 0 1 0 2.8,0a1.4,1.4 0 1 0 -2.8,0M221.6,102.5a1.4,1.4 0 1 0 2.8,0a1.4,1.4 0 1 0 -2.8,0M220.1,102.6a1.4,1.4 0 1 0 2.8,0a1.4,1.4 0 1 0 -2.8,0M219.2,102.3a1.4,1.4 0 1 0 2.8,0a1.4,1.4 0 1 0 -2.8,0M218.5,102.7a1.4,1.4 0 1 0 2.8,0a1.4,1.4 0 1 0 -2.8,0M220.1,105.2a1.4,1.4 0 1 0 2.8,0a1.4,1.4 0 1 0 -2.8,0M217.6,103.8a1.4,1.4 0 1 0 2.8,0a1.4,1.4 0 1 0 -2.8,0M217.3,104.2a1.4,1.4 0 1 0 2.8,0a1.4,1.4 0 1 0 -2.8,0M219.7,107.4a1.4,1.4 0 1 0 2.8,0a1.4,1.4 0 1 0 -2.8,0M218.4,106.6a1.4,1.4 0 1 0 2.8,0a1.4,1.4 0 1 0 -2.8,0M216.2,105.3a1.4,1.4 0 1 0 2.8,0a1.4,1.4 0 1 0 -2.8,0M218.2,108.6a1.4,1.4 0 1 0 2.8,0a1.4,1.4 0 1 0 -2.8,0M214.8,106.1a1.4,1.4 0 1 0 2.8,0a1.4,1.4 0 1 0 -2.8,0M216.5,109.2a1.4,1.4 0 1 0 2.8,0a1.4,1.4 0 1 0 -2.8,0M214.4,107.2a1.4,1.4 0 1 0 2.8,0a1.4,1.4 0 1 0 -2.8,0M215.8,110.6a1.4,1.4 0 1 0 2.8,0a1.4,1.4 0 1 0 -2.8,0M216.8,113.0a1.4,1.4 0 1 0 2.8,0a1.4,1.4 0 1 0 -2.8,0M214.5,110.0a1.4,1.4 0 1 0 2.8,0a1.4,1.4 0 1 0 -2.8,0M214.5,111.3a1.4,1.4 0 1 0 2.8,0a1.4,1.4 0 1 0 -2.8,0M213.7,111.5a1.4,1.4 0 1 0 2.8,0a1.4,1.4 0 1 0 -2.8,0M213.6,112.7a1.4,1.4 0 1 0 2.8,0a1.4,1.4 0 1 0 -2.8,0M210.6,109.4a1.4,1.4 0 1 0 2.8,0a1.4,1.4 0 1 0 -2.8,0M210.5,110.2a1.4,1.4 0 1 0 2.8,0a1.4,1.4 0 1 0 -2.8,0M210.1,111.3a1.4,1.4 0 1 0 2.8,0a1.4,1.4 0 1 0 -2.8,0M210.0,112.5a1.4,1.4 0 1 0 2.8,0a1.4,1.4 0 1 0 -2.8,0M211.5,115.4a1.4,1.4 0 1 0 2.8,0a1.4,1.4 0 1 0 -2.8,0M209.1,112.0a1.4,1.4 0 1 0 2.8,0a1.4,1.4 0 1 0 -2.8,0M208.5,112.7a1.4,1.4 0 1 0 2.8,0a1.4,1.4 0 1 0 -2.8,0M207.3,111.7a1.4,1.4 0 1 0 2.8,0a1.4,1.4 0 1 0 -2.8,0M208.6,115.4a1.4,1.4 0 1 0 2.8,0a1.4,1.4 0 1 0 -2.8,0M206.8,114.0a1.4,1.4 0 1 0 2.8,0a1.4,1.4 0 1 0 -2.8,0M206.4,114.8a1.4,1.4 0 1 0 2.8,0a1.4,1.4 0 1 0 -2.8,0M204.5,112.2a1.4,1.4 0 1 0 2.8,0a1.4,1.4 0 1 0 -2.8,0M206.4,118.4a1.4,1.4 0 1 0 2.8,0a1.4,1.4 0 1 0 -2.8,0M204.0,112.5a1.4,1.4 0 1 0 2.8,0a1.4,1.4 0 1 0 -2.8,0M204.7,116.3a1.4,1.4 0 1 0 2.8,0a1.4,1.4 0 1 0 -2.8,0M203.5,114.7a1.4,1.4 0 1 0 2.8,0a1.4,1.4 0 1 0 -2.8,0M203.1,116.4a1.4,1.4 0 1 0 2.8,0a1.4,1.4 0 1 0 -2.8,0M202.5,116.7a1.4,1.4 0 1 0 2.8,0a1.4,1.4 0 1 0 -2.8,0M201.4,116.2a1.4,1.4 0 1 0 2.8,0a1.4,1.4 0 1 0 -2.8,0M200.9,116.4a1.4,1.4 0 1 0 2.8,0a1.4,1.4 0 1 0 -2.8,0M200.0,115.6a1.4,1.4 0 1 0 2.8,0a1.4,1.4 0 1 0 -2.8,0M200.4,120.2a1.4,1.4 0 1 0 2.8,0a1.4,1.4 0 1 0 -2.8,0M199.0,114.4a1.4,1.4 0 1 0 2.8,0a1.4,1.4 0 1 0 -2.8,0M198.5,116.6a1.4,1.4 0 1 0 2.8,0a1.4,1.4 0 1 0 -2.8,0M198.0,116.0a1.4,1.4 0 1 0 2.8,0a1.4,1.4 0 1 0 -2.8,0M197.1,116.5a1.4,1.4 0 1 0 2.8,0a1.4,1.4 0 1 0 -2.8,0M197.1,119.1a1.4,1.4 0 1 0 2.8,0a1.4,1.4 0 1 0 -2.8,0M195.6,115.2a1.4,1.4 0 1 0 2.8,0a1.4,1.4 0 1 0 -2.8,0M195.2,118.8a1.4,1.4 0 1 0 2.8,0a1.4,1.4 0 1 0 -2.8,0M194.8,119.1a1.4,1.4 0 1 0 2.8,0a1.4,1.4 0 1 0 -2.8,0M193.5,115.2a1.4,1.4 0 1 0 2.8,0a1.4,1.4 0 1 0 -2.8,0M192.9,115.5a1.4,1.4 0 1 0 2.8,0a1.4,1.4 0 1 0 -2.8,0M192.2,117.3a1.4,1.4 0 1 0 2.8,0a1.4,1.4 0 1 0 -2.8,0M191.7,116.0a1.4,1.4 0 1 0 2.8,0a1.4,1.4 0 1 0 -2.8,0M191.0,117.1a1.4,1.4 0 1 0 2.8,0a1.4,1.4 0 1 0 -2.8,0M191.1,122.3a1.4,1.4 0 1 0 2.8,0a1.4,1.4 0 1 0 -2.8,0M190.3,119.5a1.4,1.4 0 1 0 2.8,0a1.4,1.4 0 1 0 -2.8,0M189.6,116.9a1.4,1.4 0 1 0 2.8,0a1.4,1.4 0 1 0 -2.8,0M188.6,119.4a1.4,1.4 0 1 0 2.8,0a1.4,1.4 0 1 0 -2.8,0M187.9,115.1a1.4,1.4 0 1 0 2.8,0a1.4,1.4 0 1 0 -2.8,0M187.2,121.7a1.4,1.4 0 1 0 2.8,0a1.4,1.4 0 1 0 -2.8,0M187.4,118.2a1.4,1.4 0 1 0 2.8,0a1.4,1.4 0 1 0 -2.8,0M186.7,117.1a1.4,1.4 0 1 0 2.8,0a1.4,1.4 0 1 0 -2.8,0M186.1,115.1a1.4,1.4 0 1 0 2.8,0a1.4,1.4 0 1 0 -2.8,0M184.8,119.5a1.4,1.4 0 1 0 2.8,0a1.4,1.4 0 1 0 -2.8,0M184.4,117.0a1.4,1.4 0 1 0 2.8,0a1.4,1.4 0 1 0 -2.8,0M183.8,115.6a1.4,1.4 0 1 0 2.8,0a1.4,1.4 0 1 0 -2.8,0M183.1,116.4a1.4,1.4 0 1 0 2.8,0a1.4,1.4 0 1 0 -2.8,0M182.7,114.4a1.4,1.4 0 1 0 2.8,0a1.4,1.4 0 1 0 -2.8,0M182.2,114.3a1.4,1.4 0 1 0 2.8,0a1.4,1.4 0 1 0 -2.8,0M181.5,114.6a1.4,1.4 0 1 0 2.8,0a1.4,1.4 0 1 0 -2.8,0M179.9,121.4a1.4,1.4 0 1 0 2.8,0a1.4,1.4 0 1 0 -2.8,0M180.4,116.6a1.4,1.4 0 1 0 2.8,0a1.4,1.4 0 1 0 -2.8,0M179.9,114.2a1.4,1.4 0 1 0 2.8,0a1.4,1.4 0 1 0 -2.8,0M178.5,116.8a1.4,1.4 0 1 0 2.8,0a1.4,1.4 0 1 0 -2.8,0M178.8,113.7a1.4,1.4 0 1 0 2.8,0a1.4,1.4 0 1 0 -2.8,0M177.6,114.8a1.4,1.4 0 1 0 2.8,0a1.4,1.4 0 1 0 -2.8,0M176.3,117.7a1.4,1.4 0 1 0 2.8,0a1.4,1.4 0 1 0 -2.8,0M176.4,116.8a1.4,1.4 0 1 0 2.8,0a1.4,1.4 0 1 0 -2.8,0M176.4,114.1a1.4,1.4 0 1 0 2.8,0a1.4,1.4 0 1 0 -2.8,0M175.0,116.0a1.4,1.4 0 1 0 2.8,0a1.4,1.4 0 1 0 -2.8,0M175.4,112.8a1.4,1.4 0 1 0 2.8,0a1.4,1.4 0 1 0 -2.8,0M173.4,115.5a1.4,1.4 0 1 0 2.8,0a1.4,1.4 0 1 0 -2.8,0M172.5,116.2a1.4,1.4 0 1 0 2.8,0a1.4,1.4 0 1 0 -2.8,0M173.1,113.3a1.4,1.4 0 1 0 2.8,0a1.4,1.4 0 1 0 -2.8,0M172.4,113.0a1.4,1.4 0 1 0 2.8,0a1.4,1.4 0 1 0 -2.8,0M170.6,115.9a1.4,1.4 0 1 0 2.8,0a1.4,1.4 0 1 0 -2.8,0M172.5,111.4a1.4,1.4 0 1 0 2.8,0a1.4,1.4 0 1 0 -2.8,0M170.9,112.7a1.4,1.4 0 1 0 2.8,0a1.4,1.4 0 1 0 -2.8,0M171.1,110.5a1.4,1.4 0 1 0 2.8,0a1.4,1.4 0 1 0 -2.8,0M168.5,114.2a1.4,1.4 0 1 0 2.8,0a1.4,1.4 0 1 0 -2.8,0M168.0,113.7a1.4,1.4 0 1 0 2.8,0a1.4,1.4 0 1 0 -2.8,0M167.6,112.9a1.4,1.4 0 1 0 2.8,0a1.4,1.4 0 1 0 -2.8,0M168.9,109.4a1.4,1.4 0 1 0 2.8,0a1.4,1.4 0 1 0 -2.8,0M168.2,108.9a1.4,1.4 0 1 0 2.8,0a1.4,1.4 0 1 0 -2.8,0M167.7,108.6a1.4,1.4 0 1 0 2.8,0a1.4,1.4 0 1 0 -2.8,0M164.1,112.8a1.4,1.4 0 1 0 2.8,0a1.4,1.4 0 1 0 -2.8,0M165.3,110.6a1.4,1.4 0 1 0 2.8,0a1.4,1.4 0 1 0 -2.8,0M165.1,110.1a1.4,1.4 0 1 0 2.8,0a1.4,1.4 0 1 0 -2.8,0M163.6,110.9a1.4,1.4 0 1 0 2.8,0a1.4,1.4 0 1 0 -2.8,0M165.7,106.9a1.4,1.4 0 1 0 2.8,0a1.4,1.4 0 1 0 -2.8,0M163.3,108.7a1.4,1.4 0 1 0 2.8,0a1.4,1.4 0 1 0 -2.8,0M164.2,106.5a1.4,1.4 0 1 0 2.8,0a1.4,1.4 0 1 0 -2.8,0M163.8,105.6a1.4,1.4 0 1 0 2.8,0a1.4,1.4 0 1 0 -2.8,0M160.6,108.5a1.4,1.4 0 1 0 2.8,0a1.4,1.4 0 1 0 -2.8,0M159.9,108.8a1.4,1.4 0 1 0 2.8,0a1.4,1.4 0 1 0 -2.8,0M162.4,105.6a1.4,1.4 0 1 0 2.8,0a1.4,1.4 0 1 0 -2.8,0M161.3,105.5a1.4,1.4 0 1 0 2.8,0a1.4,1.4 0 1 0 -2.8,0M159.3,106.7a1.4,1.4 0 1 0 2.8,0a1.4,1.4 0 1 0 -2.8,0M161.6,103.1a1.4,1.4 0 1 0 2.8,0a1.4,1.4 0 1 0 -2.8,0M159.0,104.5a1.4,1.4 0 1 0 2.8,0a1.4,1.4 0 1 0 -2.8,0M158.6,104.0a1.4,1.4 0 1 0 2.8,0a1.4,1.4 0 1 0 -2.8,0M159.8,102.3a1.4,1.4 0 1 0 2.8,0a1.4,1.4 0 1 0 -2.8,0M157.3,103.3a1.4,1.4 0 1 0 2.8,0a1.4,1.4 0 1 0 -2.8,0M159.2,100.8a1.4,1.4 0 1 0 2.8,0a1.4,1.4 0 1 0 -2.8,0M155.8,102.9a1.4,1.4 0 1 0 2.8,0a1.4,1.4 0 1 0 -2.8,0M158.1,99.9a1.4,1.4 0 1 0 2.8,0a1.4,1.4 0 1 0 -2.8,0M153.2,103.0a1.4,1.4 0 1 0 2.8,0a1.4,1.4 0 1 0 -2.8,0M156.9,100.0a1.4,1.4 0 1 0 2.8,0a1.4,1.4 0 1 0 -2.8,0M157.5,98.9a1.4,1.4 0 1 0 2.8,0a1.4,1.4 0 1 0 -2.8,0M157.3,98.2a1.4,1.4 0 1 0 2.8,0a1.4,1.4 0 1 0 -2.8,0M153.7,99.8a1.4,1.4 0 1 0 2.8,0a1.4,1.4 0 1 0 -2.8,0M152.7,99.6a1.4,1.4 0 1 0 2.8,0a1.4,1.4 0 1 0 -2.8,0M157.0,96.2a1.4,1.4 0 1 0 2.8,0a1.4,1.4 0 1 0 -2.8,0M152.1,98.6a1.4,1.4 0 1 0 2.8,0a1.4,1.4 0 1 0 -2.8,0M152.1,98.2a1.4,1.4 0 1 0 2.8,0a1.4,1.4 0 1 0 -2.8,0M152.7,97.2a1.4,1.4 0 1 0 2.8,0a1.4,1.4 0 1 0 -2.8,0M156.0,94.5a1.4,1.4 0 1 0 2.8,0a1.4,1.4 0 1 0 -2.8,0M153.4,95.4a1.4,1.4 0 1 0 2.8,0a1.4,1.4 0 1 0 -2.8,0M154.0,94.4a1.4,1.4 0 1 0 2.8,0a1.4,1.4 0 1 0 -2.8,0M152.0,94.7a1.4,1.4 0 1 0 2.8,0a1.4,1.4 0 1 0 -2.8,0M150.9,94.6a1.4,1.4 0 1 0 2.8,0a1.4,1.4 0 1 0 -2.8,0M151.2,93.5a1.4,1.4 0 1 0 2.8,0a1.4,1.4 0 1 0 -2.8,0M153.1,91.8a1.4,1.4 0 1 0 2.8,0a1.4,1.4 0 1 0 -2.8,0M152.5,91.4a1.4,1.4 0 1 0 2.8,0a1.4,1.4 0 1 0 -2.8,0M151.5,91.0a1.4,1.4 0 1 0 2.8,0a1.4,1.4 0 1 0 -2.8,0M147.5,92.2a1.4,1.4 0 1 0 2.8,0a1.4,1.4 0 1 0 -2.8,0M149.7,91.3a1.4,1.4 0 1 0 2.8,0a1.4,1.4 0 1 0 -2.8,0M150.1,90.3a1.4,1.4 0 1 0 2.8,0a1.4,1.4 0 1 0 -2.8,0M152.8,88.9a1.4,1.4 0 1 0 2.8,0a1.4,1.4 0 1 0 -2.8,0M153.1,87.9a1.4,1.4 0 1 0 2.8,0a1.4,1.4 0 1 0 -2.8,0M150.7,88.3a1.4,1.4 0 1 0 2.8,0a1.4,1.4 0 1 0 -2.8,0M151.0,87.4a1.4,1.4 0 1 0 2.8,0a1.4,1.4 0 1 0 -2.8,0M148.3,87.6a1.4,1.4 0 1 0 2.8,0a1.4,1.4 0 1 0 -2.8,0M146.2,87.2a1.4,1.4 0 1 0 2.8,0a1.4,1.4 0 1 0 -2.8,0M151.0,86.0a1.4,1.4 0 1 0 2.8,0a1.4,1.4 0 1 0 -2.8,0M150.8,85.5a1.4,1.4 0 1 0 2.8,0a1.4,1.4 0 1 0 -2.8,0M151.1,84.6a1.4,1.4 0 1 0 2.8,0a1.4,1.4 0 1 0 -2.8,0M147.3,84.9a1.4,1.4 0 1 0 2.8,0a1.4,1.4 0 1 0 -2.8,0M152.4,83.4a1.4,1.4 0 1 0 2.8,0a1.4,1.4 0 1 0 -2.8,0M150.0,83.2a1.4,1.4 0 1 0 2.8,0a1.4,1.4 0 1 0 -2.8,0M148.8,82.8a1.4,1.4 0 1 0 2.8,0a1.4,1.4 0 1 0 -2.8,0M146.6,82.3a1.4,1.4 0 1 0 2.8,0a1.4,1.4 0 1 0 -2.8,0M149.6,81.2a1.4,1.4 0 1 0 2.8,0a1.4,1.4 0 1 0 -2.8,0M150.2,80.3a1.4,1.4 0 1 0 2.8,0a1.4,1.4 0 1 0 -2.8,0M146.3,80.2a1.4,1.4 0 1 0 2.8,0a1.4,1.4 0 1 0 -2.8,0M146.4,79.7a1.4,1.4 0 1 0 2.8,0a1.4,1.4 0 1 0 -2.8,0M151.0,79.2a1.4,1.4 0 1 0 2.8,0a1.4,1.4 0 1 0 -2.8,0M147.6,78.9a1.4,1.4 0 1 0 2.8,0a1.4,1.4 0 1 0 -2.8,0M151.9,77.9a1.4,1.4 0 1 0 2.8,0a1.4,1.4 0 1 0 -2.8,0M149.3,77.3a1.4,1.4 0 1 0 2.8,0a1.4,1.4 0 1 0 -2.8,0M146.1,76.9a1.4,1.4 0 1 0 2.8,0a1.4,1.4 0 1 0 -2.8,0M151.2,76.0a1.4,1.4 0 1 0 2.8,0a1.4,1.4 0 1 0 -2.8,0M146.5,75.8a1.4,1.4 0 1 0 2.8,0a1.4,1.4 0 1 0 -2.8,0M148.6,75.6a1.4,1.4 0 1 0 2.8,0a1.4,1.4 0 1 0 -2.8,0M150.3,74.9a1.4,1.4 0 1 0 2.8,0a1.4,1.4 0 1 0 -2.8,0M151.0,74.1a1.4,1.4 0 1 0 2.8,0a1.4,1.4 0 1 0 -2.8,0M149.7,73.7a1.4,1.4 0 1 0 2.8,0a1.4,1.4 0 1 0 -2.8,0M147.8,72.9a1.4,1.4 0 1 0 2.8,0a1.4,1.4 0 1 0 -2.8,0M148.1,72.3a1.4,1.4 0 1 0 2.8,0a1.4,1.4 0 1 0 -2.8,0M148.7,71.7a1.4,1.4 0 1 0 2.8,0a1.4,1.4 0 1 0 -2.8,0M146.8,70.7a1.4,1.4 0 1 0 2.8,0a1.4,1.4 0 1 0 -2.8,0M150.5,70.5a1.4,1.4 0 1 0 2.8,0a1.4,1.4 0 1 0 -2.8,0M150.3,69.8a1.4,1.4 0 1 0 2.8,0a1.4,1.4 0 1 0 -2.8,0M152.3,69.7a1.4,1.4 0 1 0 2.8,0a1.4,1.4 0 1 0 -2.8,0M151.2,68.8a1.4,1.4 0 1 0 2.8,0a1.4,1.4 0 1 0 -2.8,0M147.1,67.6a1.4,1.4 0 1 0 2.8,0a1.4,1.4 0 1 0 -2.8,0M152.4,68.3a1.4,1.4 0 1 0 2.8,0a1.4,1.4 0 1 0 -2.8,0M152.2,67.7a1.4,1.4 0 1 0 2.8,0a1.4,1.4 0 1 0 -2.8,0M148.5,66.0a1.4,1.4 0 1 0 2.8,0a1.4,1.4 0 1 0 -2.8,0M152.6,66.5a1.4,1.4 0 1 0 2.8,0a1.4,1.4 0 1 0 -2.8,0M150.8,65.3a1.4,1.4 0 1 0 2.8,0a1.4,1.4 0 1 0 -2.8,0M149.3,64.4a1.4,1.4 0 1 0 2.8,0a1.4,1.4 0 1 0 -2.8,0M150.4,64.0a1.4,1.4 0 1 0 2.8,0a1.4,1.4 0 1 0 -2.8,0M146.8,62.4a1.4,1.4 0 1 0 2.8,0a1.4,1.4 0 1 0 -2.8,0M153.9,64.3a1.4,1.4 0 1 0 2.8,0a1.4,1.4 0 1 0 -2.8,0M150.6,62.8a1.4,1.4 0 1 0 2.8,0a1.4,1.4 0 1 0 -2.8,0M153.8,63.1a1.4,1.4 0 1 0 2.8,0a1.4,1.4 0 1 0 -2.8,0M151.5,61.6a1.4,1.4 0 1 0 2.8,0a1.4,1.4 0 1 0 -2.8,0M153.7,62.0a1.4,1.4 0 1 0 2.8,0a1.4,1.4 0 1 0 -2.8,0M154.8,61.5a1.4,1.4 0 1 0 2.8,0a1.4,1.4 0 1 0 -2.8,0M153.9,60.4a1.4,1.4 0 1 0 2.8,0a1.4,1.4 0 1 0 -2.8,0M155.3,60.4a1.4,1.4 0 1 0 2.8,0a1.4,1.4 0 1 0 -2.8,0M150.5,57.6a1.4,1.4 0 1 0 2.8,0a1.4,1.4 0 1 0 -2.8,0M155.7,59.2a1.4,1.4 0 1 0 2.8,0a1.4,1.4 0 1 0 -2.8,0M149.5,55.9a1.4,1.4 0 1 0 2.8,0a1.4,1.4 0 1 0 -2.8,0M153.3,57.7a1.4,1.4 0 1 0 2.8,0a1.4,1.4 0 1 0 -2.8,0M156.2,58.2a1.4,1.4 0 1 0 2.8,0a1.4,1.4 0 1 0 -2.8,0M156.5,57.5a1.4,1.4 0 1 0 2.8,0a1.4,1.4 0 1 0 -2.8,0M155.0,56.1a1.4,1.4 0 1 0 2.8,0a1.4,1.4 0 1 0 -2.8,0M154.3,54.6a1.4,1.4 0 1 0 2.8,0a1.4,1.4 0 1 0 -2.8,0M154.4,54.0a1.4,1.4 0 1 0 2.8,0a1.4,1.4 0 1 0 -2.8,0M156.0,54.0a1.4,1.4 0 1 0 2.8,0a1.4,1.4 0 1 0 -2.8,0M154.1,51.9a1.4,1.4 0 1 0 2.8,0a1.4,1.4 0 1 0 -2.8,0M165.1,38.8a1.4,1.4 0 1 0 2.8,0a1.4,1.4 0 1 0 -2.8,0M179.0,35.9a1.4,1.4 0 1 0 2.8,0a1.4,1.4 0 1 0 -2.8,0M182.5,29.1a1.4,1.4 0 1 0 2.8,0a1.4,1.4 0 1 0 -2.8,0M191.5,37.7a1.4,1.4 0 1 0 2.8,0a1.4,1.4 0 1 0 -2.8,0M195.1,37.1a1.4,1.4 0 1 0 2.8,0a1.4,1.4 0 1 0 -2.8,0M212.9,41.7a1.4,1.4 0 1 0 2.8,0a1.4,1.4 0 1 0 -2.8,0" fill="#9430e4"/>
<circle cx="191.2" cy="76.5" r="58.0" fill="none" stroke="#7b6437" stroke-width="5.0"/>
<path d="M249.2,75.5A58.0,58.0 0 0 0 141.0,47.5" fill="none" stroke="#a0a0a0" stroke-width="5.0"/>
<path d="M153.5,32.5A58.0,58.0 0 0 0 151.9,33.8" fill="none" stroke="#7b6437" stroke-width="5.0"/>
<path d="M143.7,43.2A58.0,58.0 0 0 0 142.6,44.9" fill="none" stroke="#c04848" stroke-width="5.0"/>
<path d="M198.0,18.9A58.0,58.0 0 0 0 196.5,18.7" fill="none" stroke="#d08888" stroke-width="5.0"/>
<path d="M212.1,22.4A58.0,58.0 0 0 0 210.7,21.9" fill="none" stroke="#c04848" stroke-width="5.0"/>
<path d="M222.7,27.8A58.0,58.0 0 0 0 221.5,27.0" fill="none" stroke="#7b6437" stroke-width="5.0"/>
<path d="M233.9,37.2A58.0,58.0 0 0 0 232.5,35.8" fill="none" stroke="#7b6437" stroke-width="5.0"/>
<path d="M245.0,54.7A58.0,58.0 0 0 0 244.4,53.3" fill="none" stroke="#8a7a60" stroke-width="5.0"/>
<path d="M248.8,70.1A58.0,58.0 0 0 0 248.6,68.1" fill="none" stroke="#c84848" stroke-width="5.0"/>
<path d="M135.5,60.3A58.0,58.0 0 0 0 134.9,62.7" fill="none" stroke="#6050b0" stroke-width="5.0"/>
<path d="M133.7,69.2A58.0,58.0 0 0 0 133.4,71.7" fill="none" stroke="#705080" stroke-width="5.0"/>
<path d="M135.1,91.3A58.0,58.0 0 0 0 135.5,92.7" fill="none" stroke="#c04040" stroke-width="5.0"/>
<path d="M142.7,108.3A58.0,58.0 0 0 0 143.9,110.0" fill="none" stroke="#4040c0" stroke-width="5.0"/>
<path d="M153.5,120.6A58.0,58.0 0 0 0 155.1,121.9" fill="none" stroke="#4040c0" stroke-width="5.0"/>
<path d="M158.4,124.3A58.0,58.0 0 0 0 159.7,125.2" fill="none" stroke="#705080" stroke-width="5.0"/>
<path d="M164.5,128.0A58.0,58.0 0 0 0 165.8,128.7" fill="none" stroke="#705080" stroke-width="5.0"/>
<path d="M181.9,133.7A58.0,58.0 0 0 0 184.4,134.1" fill="none" stroke="#705090" stroke-width="5.0"/>
<path d="M187.4,134.4A58.0,58.0 0 0 0 188.9,134.5" fill="none" stroke="#705090" stroke-width="5.0"/>
<path d="M249.2,76.9A58.0,58.0 0 0 0 249.2,75.7" fill="none" stroke="#fff" stroke-width="6.0"/>
</g>
<g>
<path d="M331.2,44.4L335.9,25.0M329.8,42.8L333.3,24.4M328.4,43.5L331.4,24.1M326.7,44.4L328.9,23.8M325.9,43.7L327.4,23.7M324.4,43.3L325.0,23.5M322.5,41.9L322.0,23.5M321.0,44.2L319.4,23.7M319.6,43.0L317.5,23.8M317.7,41.4L314.9,24.2M317.2,46.0L312.8,24.6M314.8,41.8L310.6,25.1M314.4,45.0L308.9,25.5M313.2,45.0L307.0,26.1M312.4,47.4L304.7,26.9M310.8,47.1L302.5,27.8M309.3,48.7L299.5,29.2M306.4,45.6L297.8,30.1M303.5,43.8L295.9,31.2M299.8,41.6L293.7,32.6M298.0,43.2L291.2,34.4M298.6,48.4L288.3,36.8M291.7,44.5L286.1,38.9M291.6,47.5L284.2,40.8M291.4,51.2L281.8,43.6M286.7,49.8L280.6,45.3M291.4,56.0L278.7,48.0M289.3,58.4L276.6,51.7M286.7,59.4L275.4,54.1M288.9,62.0L274.6,55.9M284.4,63.6L273.1,59.9M352.9,72.9L376.0,70.1M352.4,71.9L375.8,68.3M356.3,70.1L375.4,66.3M352.3,68.7L374.6,62.7M351.8,67.6L374.0,60.7M351.8,65.8L373.0,57.9M353.2,64.3L372.4,56.4M350.4,63.5L371.1,53.5M350.9,61.9L370.2,51.7M352.6,59.4L369.2,49.8M350.0,59.0L367.7,47.4M350.3,57.2L366.4,45.6M351.5,54.5L365.2,43.9M354.6,43.4L359.8,37.9M357.3,39.4L359.1,37.3M354.1,40.0L357.5,35.9M351.5,39.3L355.3,34.2M351.2,36.4L353.6,32.9M348.4,38.9L352.7,32.4M298.2,83.7L272.5,91.2M295.7,86.1L273.3,93.9M295.6,87.9L274.3,96.6M295.4,89.2L275.1,98.3M298.0,89.8L276.5,101.2M297.5,91.9L277.8,103.5M298.6,92.8L279.1,105.6M300.8,92.7L280.3,107.4M300.2,95.2L282.1,109.8M301.8,95.8L283.9,111.8M305.3,93.7L284.9,112.9M305.9,94.9L286.8,114.9M304.8,98.2L289.0,116.8M306.5,98.5L291.1,118.5M306.8,100.6L293.3,120.1M308.0,100.8L295.1,121.3M310.5,99.5L297.5,122.7M310.0,102.4L299.1,123.6M311.1,104.6L302.1,125.0M313.2,102.2L303.9,125.8M315.4,104.7L308.9,127.5M316.9,104.2L311.4,128.1M318.3,103.9L313.7,128.6M319.6,105.4L316.5,129.0M320.8,105.2L318.6,129.3M323.0,104.3L322.6,129.5M324.4,104.6L325.4,129.5M326.0,106.9L327.9,129.3M327.1,105.2L330.1,129.1M328.7,104.9L333.2,128.6M329.7,103.7L335.4,128.1M331.8,103.9L339.0,127.2M332.7,103.5L340.7,126.6M334.2,103.3L343.2,125.7M336.7,103.6L346.8,124.1M338.4,103.2L349.3,122.7M338.2,100.2L351.4,121.5M340.4,101.3L353.4,120.2M340.3,98.8L355.4,118.8M342.1,98.9L357.3,117.2M343.9,98.4L359.6,115.2M344.8,97.2L361.6,113.3M346.4,99.1L361.2,113.6M347.4,97.2L363.6,111.1M348.5,95.3L365.8,108.3M349.6,93.5L367.9,105.3M350.7,91.6L369.8,102.2M351.9,89.8L371.4,99.0M353.0,88.0L372.8,95.7M354.3,86.3L373.9,92.5M355.8,84.8L374.7,89.7M357.4,83.4L375.4,87.0M360.3,82.4L375.7,84.9M362.8,81.1L376.0,82.6M365.3,80.1L376.2,81.0M367.8,79.0L376.3,79.5M370.3,78.0L376.4,78.2M352.5,69.7L375.0,64.4M350.3,59.4L368.1,48.1M350.6,57.6L366.9,46.3M351.8,54.9L365.6,44.5M350.9,53.7L364.2,42.7M349.9,52.6L362.8,41.0M355.9,44.6L361.3,39.4M354.6,40.3L358.0,36.4M352.4,40.0L356.3,35.0M350.8,38.8L354.6,33.6M346.8,37.8L350.9,31.2M345.2,36.9L348.9,30.1M343.5,36.0L347.0,29.0M341.8,35.2L345.0,28.1M335.6,45.8L342.9,27.2M334.3,45.3L340.8,26.4M333.0,44.8L338.7,25.8M331.6,44.5L336.6,25.2M330.5,43.0L334.4,24.7M329.0,43.5L332.2,24.2M327.4,44.5L330.0,23.9M323.4,41.9L323.4,23.5M322.0,41.9L321.2,23.5M319.2,43.1L316.8,23.9M313.9,45.2L308.1,25.8M312.5,45.2L306.0,26.4M312.0,47.6L303.9,27.2M310.4,47.2L301.8,28.1M298.8,42.6L292.2,33.6M297.4,43.7L290.5,35.0M292.5,43.6L287.1,37.9M291.2,45.0L285.5,39.4M292.0,50.5L282.6,42.7M287.2,49.1L281.2,44.5M286.1,50.6L279.9,46.3M290.0,57.2L277.5,50.0M284.9,62.2L273.7,58.0M283.8,65.5L272.4,62.2M297.9,82.5L271.8,88.6M295.5,85.6L273.0,92.9M295.9,86.7L273.7,95.0M295.6,89.6L275.4,99.1M298.3,92.4L278.7,104.9M300.6,92.4L279.9,106.7M301.2,93.3L281.2,108.5M300.5,95.5L282.6,110.3M305.5,94.0L285.5,113.6M306.2,98.2L290.5,118.0M306.2,100.2L292.2,119.4M307.2,100.9L294.1,120.6M308.5,101.1L295.9,121.8M310.4,102.6L299.8,124.0M314.3,102.6L306.0,126.6M314.9,104.6L308.1,127.2M316.3,104.1L310.2,127.8M317.5,104.4L312.4,128.3M318.8,104.0L314.6,128.8M322.2,104.3L321.2,129.5M323.4,104.3L323.4,129.5M328.2,105.0L332.2,128.8M329.2,103.8L334.4,128.3M330.3,103.6L336.6,127.8M335.2,102.9L345.0,124.9M340.0,101.5L352.7,120.6M339.8,99.1L354.6,119.4M340.8,98.4L356.3,118.0M342.5,98.6L358.0,116.6M347.0,97.7L362.8,112.0M347.8,96.7L364.2,110.3M349.0,94.3L366.9,106.7M350.4,92.1L369.3,103.0M351.1,91.0L370.4,101.1M352.7,88.8L372.3,97.0M353.2,87.6L373.1,95.0M355.6,85.5L374.4,90.8M356.0,84.1L375.0,88.6M360.4,82.0L375.8,84.2" stroke="#cacaca" stroke-width="0.5" fill="none"/>
<path d="M331.4,76.5A8.0,8.0 0 1 0 330.6,80.0M343.4,93.1A26.0,26.0 0 0 0 348.9,81.8M351.3,87.5A30.0,30.0 0 0 0 353.4,77.5M349.4,91.5A30.0,30.0 0 0 0 352.6,83.2M351.7,86.5A30.0,30.0 0 0 0 353.2,79.9M353.4,81.2A30.3,30.3 0 0 0 353.7,78.7M364.0,80.0A40.7,40.7 0 0 0 364.1,78.8M353.5,82.4A30.7,30.7 0 0 0 353.8,80.0M353.7,83.4A31.1,31.1 0 0 0 354.1,81.4M354.2,84.4A31.8,31.8 0 0 0 354.5,82.8M351.5,87.4A30.2,30.2 0 0 0 352.2,85.6M348.6,92.8A30.0,30.0 0 0 0 350.1,90.1M349.7,91.1A30.0,30.0 0 0 0 350.6,89.2M345.5,96.8A30.0,30.0 0 0 0 347.4,94.5M344.8,97.5A30.0,30.0 0 0 0 346.1,96.1M322.1,94.4A18.0,18.0 0 0 0 332.3,92.1M331.1,96.0A21.0,21.0 0 0 0 336.3,93.0M335.1,93.9A21.0,21.0 0 0 0 337.5,92.1M338.7,94.8A23.9,23.9 0 0 0 340.2,93.5M341.7,96.1A26.8,26.8 0 0 0 342.7,95.1M335.8,96.4A23.4,23.4 0 0 0 337.1,95.5M337.7,97.4A25.3,25.3 0 0 0 338.7,96.7M330.4,97.8A22.4,22.4 0 0 0 332.8,96.8M332.6,99.3A24.6,24.6 0 0 0 334.8,98.2M335.5,101.2A27.5,27.5 0 0 0 336.8,100.5M331.0,101.1A25.7,25.7 0 0 0 331.8,100.8M318.5,96.9A21.0,21.0 0 0 0 325.2,97.4M323.5,97.5A21.0,21.0 0 0 0 326.9,97.2M326.3,99.2A22.9,22.9 0 0 0 328.1,98.9M328.1,101.3A25.3,25.3 0 0 0 329.1,101.1M322.2,99.6A23.1,23.1 0 0 0 324.8,99.6M324.3,102.2A25.7,25.7 0 0 0 325.6,102.1M321.1,101.7A25.3,25.3 0 0 0 323.0,101.8M317.6,96.7A21.0,21.0 0 0 0 319.4,97.1M318.4,97.9A22.0,22.0 0 0 0 320.0,98.2M319.0,100.3A24.2,24.2 0 0 0 320.2,100.5M312.2,83.2A13.0,13.0 0 0 0 316.6,87.6M314.2,88.3A15.0,15.0 0 0 0 317.1,90.1M313.2,96.3A22.3,22.3 0 0 0 314.8,97.1M313.3,99.5A25.2,25.2 0 0 0 314.2,99.9M313.2,88.4A15.6,15.6 0 0 0 314.4,89.3M312.1,91.2A18.5,18.5 0 0 0 313.4,92.1M311.4,93.9A21.1,21.1 0 0 0 312.6,94.6M310.9,96.2A23.3,23.3 0 0 0 312.0,96.9M309.5,82.3A15.0,15.0 0 0 0 311.8,86.0M309.8,86.1A16.6,16.6 0 0 0 311.3,87.9M308.7,89.6A19.7,19.7 0 0 0 309.5,90.4M307.1,92.0A22.5,22.5 0 0 0 307.9,92.8M304.8,88.7A22.3,22.3 0 0 0 305.7,90.0M303.0,91.1A25.1,25.1 0 0 0 303.9,92.2M307.3,81.8A16.9,16.9 0 0 0 308.3,84.1M302.9,85.8A22.5,22.5 0 0 0 303.8,87.5M300.4,88.6A26.0,26.0 0 0 0 301.1,89.8M302.1,82.6A22.2,22.2 0 0 0 302.6,84.3M298.4,85.2A26.4,26.4 0 0 0 298.9,86.5M336.8,72.3A14.0,14.0 0 0 0 332.1,65.5M345.7,51.3A33.7,33.7 0 0 0 343.0,49.1M347.1,45.0A39.4,39.4 0 0 0 345.5,43.9M347.4,41.8A42.2,42.2 0 0 0 346.8,41.3M350.1,47.7A39.3,39.3 0 0 0 348.7,46.4M352.0,46.1A41.7,41.7 0 0 0 351.5,45.7M339.2,73.9A16.0,16.0 0 0 0 337.9,69.7M339.3,71.1A16.8,16.8 0 0 0 337.7,67.7M341.6,66.6A20.7,20.7 0 0 0 340.3,64.6M346.1,61.6A27.2,27.2 0 0 0 345.1,60.2M347.8,59.0A30.1,30.1 0 0 0 347.1,58.0M344.1,66.0A23.2,23.2 0 0 0 343.5,64.8M346.6,65.3A25.8,25.8 0 0 0 346.2,64.4M346.1,69.9A23.6,23.6 0 0 0 345.4,67.9M348.5,67.1A26.8,26.8 0 0 0 348.2,66.3M348.2,69.8A25.7,25.7 0 0 0 348.0,68.8M346.4,73.3A23.2,23.2 0 0 0 346.2,72.1M349.3,73.4A26.1,26.1 0 0 0 349.2,72.4M314.6,63.1A16.0,16.0 0 0 0 308.6,70.5M299.1,64.7A27.1,27.1 0 0 0 297.7,68.0M296.7,62.3A30.2,30.2 0 0 0 295.8,64.3M293.8,62.7A32.7,32.7 0 0 0 293.3,63.8M318.0,59.3A18.0,18.0 0 0 0 309.7,64.8M304.5,56.8A27.4,27.4 0 0 0 301.0,60.8M296.5,56.1A33.7,33.7 0 0 0 295.0,58.3M294.6,53.7A36.7,36.7 0 0 0 293.7,54.9M301.2,51.3A33.6,33.6 0 0 0 299.2,53.3M295.8,48.6A39.3,39.3 0 0 0 294.4,50.0M323.4,58.5A18.0,18.0 0 0 0 313.2,61.7M313.6,60.7A18.5,18.5 0 0 0 312.1,61.8M312.7,57.7A21.7,21.7 0 0 0 311.3,58.6M311.7,54.3A25.1,25.1 0 0 0 310.4,55.0M310.7,51.5A28.1,28.1 0 0 0 309.9,51.9M326.6,58.8A18.0,18.0 0 0 0 320.3,58.8M322.9,58.5A18.0,18.0 0 0 0 317.7,59.4M319.0,59.0A18.0,18.0 0 0 0 316.3,60.0M320.4,58.2A18.6,18.6 0 0 0 317.5,58.9M316.9,54.4A23.0,23.0 0 0 0 315.3,55.0M316.5,50.6A26.8,26.8 0 0 0 315.1,51.0M316.4,48.3A29.1,29.1 0 0 0 315.4,48.5M320.7,55.4A21.3,21.3 0 0 0 319.2,55.6M321.1,51.7A25.0,25.0 0 0 0 319.4,51.9M321.2,47.9A28.7,28.7 0 0 0 320.2,48.0M327.9,58.0A19.0,19.0 0 0 0 325.6,57.6M327.2,54.5A22.4,22.4 0 0 0 324.7,54.2M325.6,52.1A24.5,24.5 0 0 0 324.2,52.0M326.3,48.5A28.1,28.1 0 0 0 325.5,48.4M328.9,47.6A29.4,29.4 0 0 0 327.8,47.5M317.2,71.4L311.0,66.4M330.0,72.0L334.9,68.6M317.7,82.1L314.2,85.7M325.2,84.3L327.4,94.1M330.6,80.0L346.8,87.8M343.4,93.1L346.5,95.7M348.9,81.8L352.8,82.6M353.4,77.5L369.5,78.0M351.7,86.5L351.9,86.5M353.2,79.9L353.5,79.9M353.4,81.2L353.7,81.2M353.7,78.7L364.0,79.4M364.0,80.0L364.5,80.0M364.1,78.8L367.0,79.0M353.5,82.4L353.9,82.4M353.8,80.0L362.0,81.0M353.7,83.4L354.4,83.6M354.1,81.4L359.5,82.3M354.2,84.4L355.0,84.6M354.5,82.8L356.6,83.2M351.5,87.4L352.3,87.7M352.2,85.6L353.5,86.0M348.6,92.8L348.9,93.0M349.7,91.1L350.0,91.2M350.6,89.2L351.1,89.5M347.4,94.5L347.9,94.9M344.8,97.5L345.8,98.5M346.1,96.1L346.8,96.7M322.1,94.4L321.8,97.4M332.3,92.1L333.8,94.7M331.1,96.0L331.6,97.3M335.1,93.9L336.4,96.0M337.5,92.1L339.4,94.2M338.7,94.8L341.6,98.3M340.2,93.5L342.2,95.6M341.7,96.1L343.4,97.8M342.7,95.1L344.3,96.6M335.8,96.4L337.7,99.5M337.1,95.5L338.2,97.0M337.7,97.4L339.9,100.6M338.7,96.7L339.8,98.1M330.4,97.8L331.4,101.0M332.8,96.8L333.7,98.8M332.6,99.3L333.9,102.6M334.8,98.2L336.2,100.9M335.5,101.2L336.4,102.9M336.8,100.5L338.0,102.5M331.0,101.1L331.6,103.1M331.8,100.8L332.5,102.8M323.5,97.5L323.5,99.6M326.9,97.2L327.2,99.1M326.3,99.2L327.0,104.5M328.1,98.9L328.6,101.2M328.1,101.3L328.6,104.1M329.1,101.1L329.6,102.9M322.2,99.6L322.1,101.8M324.8,99.6L325.0,102.2M324.3,102.2L324.4,103.8M325.6,102.1L325.9,106.1M321.1,101.7L320.9,104.4M323.0,101.8L323.0,103.5M317.6,96.7L315.6,103.9M319.4,97.1L319.2,98.1M318.4,97.9L317.1,103.5M320.0,98.2L319.6,100.4M319.0,100.3L318.5,103.1M320.2,100.5L319.7,104.6M312.2,83.2L310.5,84.2M316.6,87.6L315.6,89.3M314.2,88.3L313.8,88.8M317.1,90.1L314.0,96.7M313.2,96.3L310.4,101.7M314.8,97.1L313.7,99.7M313.3,99.5L311.4,103.8M314.2,99.9L313.5,101.5M313.2,88.4L305.4,97.6M314.4,89.3L312.7,91.7M312.1,91.2L307.0,97.8M313.4,92.1L312.0,94.2M311.4,93.9L307.2,99.9M312.6,94.6L311.5,96.6M310.9,96.2L308.5,100.1M312.0,96.9L310.9,98.8M309.5,82.3L307.8,83.0M311.8,86.0L310.6,87.0M309.8,86.1L305.2,89.4M311.3,87.9L309.1,90.0M308.7,89.6L302.4,95.2M309.5,90.4L307.5,92.4M307.1,92.0L305.8,93.1M307.9,92.8L306.4,94.3M304.8,88.7L299.3,92.3M305.7,90.0L303.4,91.7M303.0,91.1L301.4,92.3M303.9,92.2L300.9,94.7M307.3,81.8L302.3,83.5M308.3,84.1L303.3,86.6M302.9,85.8L296.1,88.8M303.8,87.5L300.7,89.2M300.4,88.6L298.7,89.5M301.1,89.8L298.2,91.5M302.1,82.6L299.0,83.5M302.6,84.3L298.7,85.8M298.4,85.2L296.5,85.9M298.9,86.5L296.3,87.6M336.8,72.3L338.7,71.7M332.1,65.5L344.4,50.1M345.7,51.3L349.4,47.0M343.0,49.1L346.3,44.4M347.1,45.0L351.0,39.9M345.5,43.9L347.1,41.6M347.4,41.8L350.7,37.0M346.8,41.3L348.0,39.5M350.1,47.7L351.8,45.9M348.7,46.4L353.6,40.6M352.0,46.1L354.1,43.9M351.5,45.7L356.7,40.0M339.2,73.9L346.3,72.7M337.9,69.7L338.6,69.3M339.3,71.1L345.8,68.9M337.7,67.7L341.0,65.6M341.6,66.6L343.8,65.4M340.3,64.6L345.6,60.9M346.1,61.6L349.4,59.4M345.1,60.2L347.5,58.5M347.8,59.0L349.7,57.6M347.1,58.0L350.9,55.0M344.1,66.0L346.4,64.9M343.5,64.8L351.9,59.8M346.6,65.3L349.6,63.9M346.2,64.4L350.2,62.3M346.1,69.9L348.1,69.3M345.4,67.9L348.4,66.7M348.5,67.1L351.1,66.1M348.2,66.3L352.5,64.6M348.2,69.8L351.5,68.9M348.0,68.8L351.1,67.8M346.4,73.3L349.3,72.9M346.2,72.1L355.5,70.2M349.3,73.4L352.2,73.0M349.2,72.4L351.6,72.1M314.6,63.1L313.5,61.5M308.6,70.5L298.3,66.3M299.1,64.7L296.2,63.3M297.7,68.0L285.2,63.9M296.7,62.3L290.0,58.8M295.8,64.3L293.5,63.2M293.8,62.7L287.4,59.7M293.3,63.8L289.7,62.3M309.7,64.8L302.6,58.7M304.5,56.8L300.2,52.3M301.0,60.8L295.7,57.2M296.5,56.1L294.1,54.3M295.0,58.3L292.1,56.5M294.6,53.7L292.1,51.7M293.7,54.9L287.4,50.2M301.2,51.3L299.1,49.0M299.2,53.3L295.1,49.3M295.8,48.6L292.2,45.1M294.4,50.0L292.2,48.0M313.2,61.7L312.9,61.2M313.6,60.7L312.0,58.1M312.1,61.8L298.5,43.9M312.7,57.7L311.0,54.7M311.3,58.6L300.2,42.3M311.7,54.3L310.3,51.7M310.4,55.0L303.9,44.5M310.7,51.5L309.7,49.4M309.9,51.9L306.8,46.3M326.6,58.8L326.7,57.8M322.9,58.5L322.5,42.7M319.0,59.0L318.9,58.5M316.3,60.0L311.1,47.8M320.4,58.2L319.9,55.5M317.5,58.9L316.1,54.7M316.9,54.4L315.8,50.8M315.3,55.0L312.7,48.2M316.5,50.6L315.9,48.4M315.1,51.0L313.4,45.8M316.4,48.3L315.0,42.6M315.4,48.5L314.6,45.8M320.7,55.4L320.2,51.7M319.2,55.6L317.4,46.8M321.1,51.7L320.7,47.9M319.4,51.9L317.8,42.2M321.2,47.9L321.0,45.0M320.2,48.0L319.7,43.8M327.9,58.0L331.0,45.1M325.6,57.6L326.0,54.3M327.2,54.5L328.4,47.5M324.7,54.2L324.9,52.0M325.6,52.1L325.9,48.5M324.2,52.0L324.4,44.1M326.3,48.5L326.6,45.2M325.5,48.4L325.8,44.5M328.9,47.6L329.7,43.6M327.8,47.5L328.3,44.2M323.4,76.5L331.4,76.5" stroke="#333" stroke-width="0.7" fill="none"/>
<path d="M323.4,76.5L324.9,76.5" stroke="#222" stroke-width="0.8"/>
<circle cx="324.9" cy="76.5" r="1.5" fill="#111"/>
<path d="M342.1,97.8a1.25,1.25 0 1 0 2.5,0a1.25,1.25 0 1 0 -2.5,0M338.5,98.1a1.25,1.25 0 1 0 2.5,0a1.25,1.25 0 1 0 -2.5,0M332.7,102.6a1.25,1.25 0 1 0 2.5,0a1.25,1.25 0 1 0 -2.5,0M330.3,103.1a1.25,1.25 0 1 0 2.5,0a1.25,1.25 0 1 0 -2.5,0M325.7,104.5a1.25,1.25 0 1 0 2.5,0a1.25,1.25 0 1 0 -2.5,0M323.2,103.8a1.25,1.25 0 1 0 2.5,0a1.25,1.25 0 1 0 -2.5,0M315.9,103.5a1.25,1.25 0 1 0 2.5,0a1.25,1.25 0 1 0 -2.5,0M352.4,40.6a1.25,1.25 0 1 0 2.5,0a1.25,1.25 0 1 0 -2.5,0M351.2,64.6a1.25,1.25 0 1 0 2.5,0a1.25,1.25 0 1 0 -2.5,0M349.8,66.1a1.25,1.25 0 1 0 2.5,0a1.25,1.25 0 1 0 -2.5,0M349.8,67.8a1.25,1.25 0 1 0 2.5,0a1.25,1.25 0 1 0 -2.5,0M290.8,51.7a1.25,1.25 0 1 0 2.5,0a1.25,1.25 0 1 0 -2.5,0M290.9,48.0a1.25,1.25 0 1 0 2.5,0a1.25,1.25 0 1 0 -2.5,0M325.4,45.2a1.25,1.25 0 1 0 2.5,0a1.25,1.25 0 1 0 -2.5,0M327.1,44.2a1.25,1.25 0 1 0 2.5,0a1.25,1.25 0 1 0 -2.5,0" fill="#f4a630"/>
<path d="M368.2,78.0a1.25,1.25 0 1 0 2.5,0a1.25,1.25 0 1 0 -2.5,0M365.8,79.0a1.25,1.25 0 1 0 2.5,0a1.25,1.25 0 1 0 -2.5,0M363.2,80.0a1.25,1.25 0 1 0 2.5,0a1.25,1.25 0 1 0 -2.5,0M360.8,81.0a1.25,1.25 0 1 0 2.5,0a1.25,1.25 0 1 0 -2.5,0M358.2,82.3a1.25,1.25 0 1 0 2.5,0a1.25,1.25 0 1 0 -2.5,0M355.4,83.2a1.25,1.25 0 1 0 2.5,0a1.25,1.25 0 1 0 -2.5,0M353.8,84.6a1.25,1.25 0 1 0 2.5,0a1.25,1.25 0 1 0 -2.5,0M352.2,86.0a1.25,1.25 0 1 0 2.5,0a1.25,1.25 0 1 0 -2.5,0M351.0,87.7a1.25,1.25 0 1 0 2.5,0a1.25,1.25 0 1 0 -2.5,0M349.9,89.5a1.25,1.25 0 1 0 2.5,0a1.25,1.25 0 1 0 -2.5,0M348.7,91.2a1.25,1.25 0 1 0 2.5,0a1.25,1.25 0 1 0 -2.5,0M347.7,93.0a1.25,1.25 0 1 0 2.5,0a1.25,1.25 0 1 0 -2.5,0M346.6,94.9a1.25,1.25 0 1 0 2.5,0a1.25,1.25 0 1 0 -2.5,0M345.6,96.7a1.25,1.25 0 1 0 2.5,0a1.25,1.25 0 1 0 -2.5,0M344.6,98.5a1.25,1.25 0 1 0 2.5,0a1.25,1.25 0 1 0 -2.5,0M343.0,96.6a1.25,1.25 0 1 0 2.5,0a1.25,1.25 0 1 0 -2.5,0M340.4,98.3a1.25,1.25 0 1 0 2.5,0a1.25,1.25 0 1 0 -2.5,0M338.7,100.6a1.25,1.25 0 1 0 2.5,0a1.25,1.25 0 1 0 -2.5,0M336.5,99.5a1.25,1.25 0 1 0 2.5,0a1.25,1.25 0 1 0 -2.5,0M336.7,102.5a1.25,1.25 0 1 0 2.5,0a1.25,1.25 0 1 0 -2.5,0M335.1,102.9a1.25,1.25 0 1 0 2.5,0a1.25,1.25 0 1 0 -2.5,0M331.2,102.8a1.25,1.25 0 1 0 2.5,0a1.25,1.25 0 1 0 -2.5,0M328.3,102.9a1.25,1.25 0 1 0 2.5,0a1.25,1.25 0 1 0 -2.5,0M327.3,104.1a1.25,1.25 0 1 0 2.5,0a1.25,1.25 0 1 0 -2.5,0M324.7,106.1a1.25,1.25 0 1 0 2.5,0a1.25,1.25 0 1 0 -2.5,0M321.7,103.5a1.25,1.25 0 1 0 2.5,0a1.25,1.25 0 1 0 -2.5,0M319.6,104.4a1.25,1.25 0 1 0 2.5,0a1.25,1.25 0 1 0 -2.5,0M318.4,104.6a1.25,1.25 0 1 0 2.5,0a1.25,1.25 0 1 0 -2.5,0M317.2,103.1a1.25,1.25 0 1 0 2.5,0a1.25,1.25 0 1 0 -2.5,0M314.3,103.9a1.25,1.25 0 1 0 2.5,0a1.25,1.25 0 1 0 -2.5,0M312.3,101.5a1.25,1.25 0 1 0 2.5,0a1.25,1.25 0 1 0 -2.5,0M310.1,103.8a1.25,1.25 0 1 0 2.5,0a1.25,1.25 0 1 0 -2.5,0M309.2,101.7a1.25,1.25 0 1 0 2.5,0a1.25,1.25 0 1 0 -2.5,0M309.7,98.8a1.25,1.25 0 1 0 2.5,0a1.25,1.25 0 1 0 -2.5,0M307.2,100.1a1.25,1.25 0 1 0 2.5,0a1.25,1.25 0 1 0 -2.5,0M306.0,99.9a1.25,1.25 0 1 0 2.5,0a1.25,1.25 0 1 0 -2.5,0M305.7,97.8a1.25,1.25 0 1 0 2.5,0a1.25,1.25 0 1 0 -2.5,0M304.1,97.6a1.25,1.25 0 1 0 2.5,0a1.25,1.25 0 1 0 -2.5,0M305.2,94.3a1.25,1.25 0 1 0 2.5,0a1.25,1.25 0 1 0 -2.5,0M304.6,93.1a1.25,1.25 0 1 0 2.5,0a1.25,1.25 0 1 0 -2.5,0M301.2,95.2a1.25,1.25 0 1 0 2.5,0a1.25,1.25 0 1 0 -2.5,0M299.6,94.7a1.25,1.25 0 1 0 2.5,0a1.25,1.25 0 1 0 -2.5,0M300.2,92.3a1.25,1.25 0 1 0 2.5,0a1.25,1.25 0 1 0 -2.5,0M298.0,92.3a1.25,1.25 0 1 0 2.5,0a1.25,1.25 0 1 0 -2.5,0M296.9,91.5a1.25,1.25 0 1 0 2.5,0a1.25,1.25 0 1 0 -2.5,0M297.5,89.5a1.25,1.25 0 1 0 2.5,0a1.25,1.25 0 1 0 -2.5,0M294.9,88.8a1.25,1.25 0 1 0 2.5,0a1.25,1.25 0 1 0 -2.5,0M295.1,87.6a1.25,1.25 0 1 0 2.5,0a1.25,1.25 0 1 0 -2.5,0M295.2,85.9a1.25,1.25 0 1 0 2.5,0a1.25,1.25 0 1 0 -2.5,0M297.7,83.5a1.25,1.25 0 1 0 2.5,0a1.25,1.25 0 1 0 -2.5,0M346.7,39.5a1.25,1.25 0 1 0 2.5,0a1.25,1.25 0 1 0 -2.5,0M349.5,37.0a1.25,1.25 0 1 0 2.5,0a1.25,1.25 0 1 0 -2.5,0M349.7,39.9a1.25,1.25 0 1 0 2.5,0a1.25,1.25 0 1 0 -2.5,0M355.5,40.0a1.25,1.25 0 1 0 2.5,0a1.25,1.25 0 1 0 -2.5,0M352.8,43.9a1.25,1.25 0 1 0 2.5,0a1.25,1.25 0 1 0 -2.5,0M349.7,55.0a1.25,1.25 0 1 0 2.5,0a1.25,1.25 0 1 0 -2.5,0M348.4,57.6a1.25,1.25 0 1 0 2.5,0a1.25,1.25 0 1 0 -2.5,0M348.1,59.4a1.25,1.25 0 1 0 2.5,0a1.25,1.25 0 1 0 -2.5,0M350.7,59.8a1.25,1.25 0 1 0 2.5,0a1.25,1.25 0 1 0 -2.5,0M349.0,62.3a1.25,1.25 0 1 0 2.5,0a1.25,1.25 0 1 0 -2.5,0M348.4,63.9a1.25,1.25 0 1 0 2.5,0a1.25,1.25 0 1 0 -2.5,0M350.2,68.9a1.25,1.25 0 1 0 2.5,0a1.25,1.25 0 1 0 -2.5,0M354.2,70.2a1.25,1.25 0 1 0 2.5,0a1.25,1.25 0 1 0 -2.5,0M350.3,72.1a1.25,1.25 0 1 0 2.5,0a1.25,1.25 0 1 0 -2.5,0M350.9,73.0a1.25,1.25 0 1 0 2.5,0a1.25,1.25 0 1 0 -2.5,0M283.9,63.9a1.25,1.25 0 1 0 2.5,0a1.25,1.25 0 1 0 -2.5,0M288.4,62.3a1.25,1.25 0 1 0 2.5,0a1.25,1.25 0 1 0 -2.5,0M286.1,59.7a1.25,1.25 0 1 0 2.5,0a1.25,1.25 0 1 0 -2.5,0M288.8,58.8a1.25,1.25 0 1 0 2.5,0a1.25,1.25 0 1 0 -2.5,0M290.8,56.5a1.25,1.25 0 1 0 2.5,0a1.25,1.25 0 1 0 -2.5,0M286.1,50.2a1.25,1.25 0 1 0 2.5,0a1.25,1.25 0 1 0 -2.5,0M291.0,45.1a1.25,1.25 0 1 0 2.5,0a1.25,1.25 0 1 0 -2.5,0M297.9,49.0a1.25,1.25 0 1 0 2.5,0a1.25,1.25 0 1 0 -2.5,0M297.2,43.9a1.25,1.25 0 1 0 2.5,0a1.25,1.25 0 1 0 -2.5,0M299.0,42.3a1.25,1.25 0 1 0 2.5,0a1.25,1.25 0 1 0 -2.5,0M302.7,44.5a1.25,1.25 0 1 0 2.5,0a1.25,1.25 0 1 0 -2.5,0M305.6,46.3a1.25,1.25 0 1 0 2.5,0a1.25,1.25 0 1 0 -2.5,0M308.4,49.4a1.25,1.25 0 1 0 2.5,0a1.25,1.25 0 1 0 -2.5,0M309.8,47.8a1.25,1.25 0 1 0 2.5,0a1.25,1.25 0 1 0 -2.5,0M311.5,48.2a1.25,1.25 0 1 0 2.5,0a1.25,1.25 0 1 0 -2.5,0M312.1,45.8a1.25,1.25 0 1 0 2.5,0a1.25,1.25 0 1 0 -2.5,0M313.4,45.8a1.25,1.25 0 1 0 2.5,0a1.25,1.25 0 1 0 -2.5,0M313.7,42.6a1.25,1.25 0 1 0 2.5,0a1.25,1.25 0 1 0 -2.5,0M316.1,46.8a1.25,1.25 0 1 0 2.5,0a1.25,1.25 0 1 0 -2.5,0M316.6,42.2a1.25,1.25 0 1 0 2.5,0a1.25,1.25 0 1 0 -2.5,0M318.5,43.8a1.25,1.25 0 1 0 2.5,0a1.25,1.25 0 1 0 -2.5,0M319.8,45.0a1.25,1.25 0 1 0 2.5,0a1.25,1.25 0 1 0 -2.5,0M321.3,42.7a1.25,1.25 0 1 0 2.5,0a1.25,1.25 0 1 0 -2.5,0M323.2,44.1a1.25,1.25 0 1 0 2.5,0a1.25,1.25 0 1 0 -2.5,0M324.6,44.5a1.25,1.25 0 1 0 2.5,0a1.25,1.25 0 1 0 -2.5,0M328.4,43.6a1.25,1.25 0 1 0 2.5,0a1.25,1.25 0 1 0 -2.5,0M329.7,45.1a1.25,1.25 0 1 0 2.5,0a1.25,1.25 0 1 0 -2.5,0" fill="#9430e4"/>
<path d="M345.8,98.5L349.5,92L353.3,86.2L356.6,83.2" stroke="#9430e4" stroke-width="2.2" fill="none" stroke-linecap="round"/>
<circle cx="323.4" cy="76.5" r="58.0" fill="none" stroke="#ff0000" stroke-width="5.0"/>
<path d="M321.4,18.5A58.0,58.0 0 0 0 318.3,18.7" fill="none" stroke="#808080" stroke-width="5.0"/>
<path d="M309.9,20.1A58.0,58.0 0 0 0 307.8,20.6" fill="none" stroke="#808080" stroke-width="5.0"/>
<path d="M286.4,31.8A58.0,58.0 0 0 0 274.9,44.7" fill="none" stroke="#808080" stroke-width="5.0"/>
<path d="M270.4,52.9A58.0,58.0 0 0 0 266.8,63.9" fill="none" stroke="#808080" stroke-width="5.0"/>
<path d="M265.9,68.9A58.0,58.0 0 0 0 265.6,71.4" fill="none" stroke="#0000ff" stroke-width="5.0"/>
<path d="M350.2,25.1A58.0,58.0 0 0 0 338.8,20.6" fill="none" stroke="#0000ff" stroke-width="5.0"/>
<path d="M364.4,35.5A58.0,58.0 0 0 0 362.2,33.4" fill="none" stroke="#808080" stroke-width="5.0"/>
<path d="M376.6,53.4A58.0,58.0 0 0 0 375.1,50.2" fill="none" stroke="#808080" stroke-width="5.0"/>
<path d="M380.0,63.9A58.0,58.0 0 0 0 379.3,61.0" fill="none" stroke="#808080" stroke-width="5.0"/>
<path d="M353.3,126.2A58.0,58.0 0 0 0 381.4,76.5" fill="none" stroke="#0000ff" stroke-width="5.0"/>
<path d="M267.6,92.2A58.0,58.0 0 0 0 271.1,101.7" fill="none" stroke="#0000ff" stroke-width="5.0"/>
<path d="M288.5,122.8A58.0,58.0 0 0 0 290.5,124.3" fill="none" stroke="#808080" stroke-width="5.0"/>
<path d="M302.0,130.4A58.0,58.0 0 0 0 304.8,131.4" fill="none" stroke="#0000ff" stroke-width="5.0"/>
<path d="M346.5,129.7A58.0,58.0 0 0 0 348.8,128.6" fill="none" stroke="#808080" stroke-width="5.0"/>
<path d="M381.4,76.2A58.0,58.0 0 0 0 381.1,70.6" fill="none" stroke="#fff" stroke-width="6.0"/>
</g>
<g>
<path d="M509.8,76.1A53,53 0 1 0 403.8,76.1A53,53 0 1 0 509.8,76.1Z M492.8,76.1 L491.8,74.9 L490.7,73.7 L489.6,72.7 L488.5,71.6 L487.3,70.7 L486.1,69.9 L484.9,69.1 L483.7,68.4 L482.5,67.8 L481.2,67.2 L480.2,66.7 L479.1,66.2 L478.0,65.8 L476.9,65.4 L475.9,65.1 L475.0,64.7 L474.2,64.4 L473.3,64.1 L472.5,63.9 L471.6,63.7 L470.8,63.5 L469.9,63.4 L469.2,63.2 L468.6,63.0 L467.9,62.8 L467.3,62.7 L466.7,62.5 L466.0,62.4 L465.4,62.3 L464.8,62.2 L464.3,62.0 L463.8,61.7 L463.3,61.5 L462.8,61.3 L462.3,61.1 L461.7,60.9 L461.2,60.7 L460.7,60.6 L460.1,60.4 L459.6,60.3 L459.0,60.3 L458.5,60.2 L457.9,60.1 L457.4,60.1 L456.8,60.1 L456.2,60.1 L455.7,60.1 L455.1,60.2 L454.6,60.3 L454.0,60.3 L453.5,60.4 L452.9,60.6 L452.4,60.7 L451.9,60.9 L451.3,61.1 L450.8,61.3 L450.3,61.5 L449.8,61.7 L449.3,62.0 L448.8,62.2 L448.1,62.2 L447.4,62.2 L446.7,62.2 L446.0,62.2 L445.2,62.3 L444.5,62.4 L443.7,62.6 L443.0,62.8 L442.2,63.0 L441.5,63.2 L440.9,63.7 L440.3,64.1 L439.7,64.6 L439.2,65.1 L438.6,65.6 L438.1,66.1 L437.6,66.7 L437.1,67.3 L436.6,67.9 L436.1,68.6 L436.0,69.3 L435.8,70.1 L435.7,70.9 L435.7,71.6 L435.6,72.4 L435.6,73.1 L435.6,73.9 L435.7,74.6 L435.7,75.4 L435.8,76.1 L435.6,76.8 L435.5,77.6 L435.3,78.4 L435.2,79.1 L435.1,79.9 L435.1,80.7 L435.1,81.5 L435.1,82.3 L435.1,83.1 L435.2,84.0 L435.1,84.9 L435.1,85.8 L435.0,86.7 L435.1,87.6 L435.1,88.6 L435.3,89.6 L435.4,90.5 L435.6,91.5 L435.8,92.5 L436.1,93.5 L436.7,94.2 L437.2,95.0 L437.8,95.7 L438.5,96.5 L439.1,97.2 L439.8,97.8 L440.5,98.5 L441.3,99.1 L442.0,99.8 L442.8,100.3 L443.7,100.8 L444.5,101.3 L445.4,101.7 L446.3,102.1 L447.2,102.4 L448.1,102.7 L449.1,103.0 L450.0,103.3 L451.0,103.5 L451.9,103.7 L452.9,103.8 L453.9,103.9 L454.8,104.0 L455.8,104.1 L456.8,104.1 L457.8,104.1 L458.8,104.0 L459.7,103.9 L460.7,103.8 L461.7,103.7 L462.6,103.5 L463.6,103.3 L464.5,103.0 L465.5,102.7 L466.4,102.4 L467.3,102.1 L468.2,101.7 L469.1,101.3 L469.9,100.8 L470.8,100.3 L471.6,99.8 L472.5,99.3 L473.3,98.8 L474.0,98.2 L474.8,97.5 L475.5,96.9 L476.3,96.2 L476.9,95.6 L477.6,94.8 L478.2,94.1 L478.9,93.3 L479.5,92.6 L480.0,91.8 L480.5,90.9 L481.0,90.1 L481.5,89.2 L482.0,88.4 L482.4,87.5 L482.8,86.6 L483.1,85.7 L483.4,84.8 L483.7,83.8 L484.0,82.9 L484.2,81.9 L484.4,81.0 L484.5,80.0 L484.6,79.0 L484.7,78.1 L484.8,77.1 L484.8,76.1Z" fill="#e6e6e6" fill-rule="evenodd"/>
<path d="M459.6,80.2A5.0,5.0 0 1 0 455.6,80.9M446.7,65.0A15.0,15.0 0 0 0 445.5,66.3M443.9,64.1A17.6,17.6 0 0 0 443.1,65.0M440.8,62.2A21.2,21.2 0 0 0 439.9,63.4M434.7,59.0A28.0,28.0 0 0 0 434.2,59.6M432.6,54.4A32.5,32.5 0 0 0 432.0,55.1M439.6,56.2A26.3,26.3 0 0 0 438.7,57.1M434.6,52.1A32.7,32.7 0 0 0 433.9,52.9M442.1,69.7A16.0,16.0 0 0 0 441.0,78.7M439.8,77.3A17.0,17.0 0 0 0 440.4,80.5M439.7,80.0A17.5,17.5 0 0 0 440.0,81.2M437.9,81.3A19.6,19.6 0 0 0 438.2,82.3M435.5,82.8A22.3,22.3 0 0 0 435.8,83.6M427.0,85.2A31.1,31.1 0 0 0 427.2,85.8M430.4,83.2A27.3,27.3 0 0 0 430.5,83.6M431.4,81.4A25.9,25.9 0 0 0 431.6,82.2M422.4,84.1A35.3,35.3 0 0 0 422.5,84.7M439.8,75.9A17.0,17.0 0 0 0 440.0,78.6M437.3,78.4A19.6,19.6 0 0 0 437.5,79.6M426.4,81.4A30.9,30.9 0 0 0 426.5,81.9M433.7,78.4A23.2,23.2 0 0 0 433.8,79.4M430.1,79.6A27.0,27.0 0 0 0 430.1,80.2M419.7,79.3A37.2,37.2 0 0 0 419.8,80.3M439.8,74.9A17.0,17.0 0 0 0 439.8,76.8M437.2,76.6A19.6,19.6 0 0 0 437.3,77.3M435.1,77.3A21.7,21.7 0 0 0 435.2,77.6M426.0,76.5A30.8,30.8 0 0 0 426.0,77.2M438.2,74.2A18.7,18.7 0 0 0 438.1,75.4M435.0,74.9A21.8,21.8 0 0 0 435.0,75.8M424.6,75.3A32.2,32.2 0 0 0 424.6,76.0M432.5,74.5A24.4,24.4 0 0 0 432.5,74.9M425.8,72.4A31.3,31.3 0 0 0 425.7,73.3M421.9,72.6A35.1,35.1 0 0 0 421.8,73.3M441.9,67.9A17.0,17.0 0 0 0 440.7,70.8M440.9,70.1A17.0,17.0 0 0 0 440.4,71.5M440.7,70.8A17.0,17.0 0 0 0 440.2,72.2M440.4,71.7A17.0,17.0 0 0 0 440.1,72.7M437.6,71.8A19.7,19.7 0 0 0 437.4,72.6M434.9,71.7A22.3,22.3 0 0 0 434.7,72.5M432.0,71.7A25.2,25.2 0 0 0 431.8,72.4M429.6,71.8A27.5,27.5 0 0 0 429.6,72.4M438.8,71.0A18.7,18.7 0 0 0 438.7,71.5M436.0,70.6A21.5,21.5 0 0 0 435.9,71.1M436.3,69.1A21.7,21.7 0 0 0 436.1,69.5M435.2,69.0A22.7,22.7 0 0 0 435.1,69.4M435.0,67.4A23.5,23.5 0 0 0 434.7,68.1M432.4,66.2A26.3,26.3 0 0 0 432.3,66.6M442.4,67.1A17.0,17.0 0 0 0 441.5,68.7M437.5,66.4A21.6,21.6 0 0 0 437.2,67.0M434.6,65.4A24.6,24.6 0 0 0 434.3,66.1M426.5,62.2A33.3,33.3 0 0 0 426.2,62.9M441.1,65.6A18.9,18.9 0 0 0 440.5,66.5M438.0,64.5A22.1,22.1 0 0 0 437.5,65.3M434.7,63.4A25.5,25.5 0 0 0 434.4,64.0M432.6,62.8A27.6,27.6 0 0 0 432.4,63.2M435.1,62.6A25.6,25.6 0 0 0 435.0,62.8M437.4,62.8A23.5,23.5 0 0 0 437.1,63.2M441.7,85.9A18.0,18.0 0 0 0 446.0,90.5M432.6,103.8A36.8,36.8 0 0 0 437.1,107.2M434.1,109.1A40.1,40.1 0 0 0 436.7,110.7M434.4,112.7A42.9,42.9 0 0 0 436.1,113.7M435.6,113.9A43.3,43.3 0 0 0 436.3,114.2M435.3,113.7A43.3,43.3 0 0 0 435.9,114.0M433.7,112.9A43.4,43.4 0 0 0 434.5,113.4M433.8,114.0A44.3,44.3 0 0 0 434.4,114.3M432.2,114.7A45.8,45.8 0 0 0 432.7,115.1M433.5,108.7A40.1,40.1 0 0 0 434.7,109.5M433.0,111.7A42.8,42.8 0 0 0 433.4,111.9M433.1,108.4A40.1,40.1 0 0 0 434.0,109.0M433.5,109.2A40.5,40.5 0 0 0 433.9,109.5M430.5,111.5A44.1,44.1 0 0 0 430.9,111.8M431.7,103.0A36.8,36.8 0 0 0 433.5,104.6M432.2,105.1A38.0,38.0 0 0 0 433.2,106.0M432.5,106.1A38.6,38.6 0 0 0 433.3,106.7M432.6,107.0A39.2,39.2 0 0 0 433.0,107.3M429.2,109.6A43.5,43.5 0 0 0 429.7,110.1M429.9,107.4A41.3,41.3 0 0 0 430.3,107.7M431.3,102.6A36.8,36.8 0 0 0 432.2,103.4M430.8,104.4A38.4,38.4 0 0 0 431.3,104.9M430.2,104.8A39.1,39.1 0 0 0 430.5,105.1M429.0,104.3A39.6,39.6 0 0 0 429.6,104.9M427.5,105.4A41.4,41.4 0 0 0 428.0,105.9M433.1,87.0A26.1,26.1 0 0 0 437.1,93.2M436.2,92.1A26.1,26.1 0 0 0 438.1,94.3M427.7,104.1A40.4,40.4 0 0 0 427.9,104.4M435.0,90.5A26.1,26.1 0 0 0 437.5,93.7M431.6,98.5A33.7,33.7 0 0 0 432.2,99.2M430.2,99.5A35.4,35.4 0 0 0 430.6,99.9M429.4,99.7A36.2,36.2 0 0 0 429.8,100.1M433.8,88.3A26.1,26.1 0 0 0 436.5,92.4M431.7,95.6A31.8,31.8 0 0 0 432.4,96.4M429.6,98.4A35.2,35.2 0 0 0 429.9,98.7M431.2,95.3A32.0,32.0 0 0 0 431.8,96.1M429.6,95.8A33.6,33.6 0 0 0 430.3,96.7M423.9,101.1A41.3,41.3 0 0 0 424.4,101.8M428.4,96.3A34.9,34.9 0 0 0 428.7,96.8M427.9,97.2A35.8,35.8 0 0 0 428.1,97.4M433.3,87.4A26.1,26.1 0 0 0 434.2,89.2M432.8,88.9A27.2,27.2 0 0 0 433.8,90.7M430.0,92.0A31.1,31.1 0 0 0 431.0,93.5M429.7,93.9A32.4,32.4 0 0 0 430.1,94.5M429.3,94.8A33.3,33.3 0 0 0 429.5,95.1M428.9,92.0A32.1,32.1 0 0 0 429.5,93.0M428.7,93.1A32.9,32.9 0 0 0 429.0,93.7M428.4,93.9A33.5,33.5 0 0 0 428.6,94.2M427.7,92.4A33.3,33.3 0 0 0 428.0,92.9M426.9,93.3A34.4,34.4 0 0 0 427.2,93.6M432.0,89.0A28.0,28.0 0 0 0 432.2,89.5M430.8,89.2A29.1,29.1 0 0 0 431.1,89.8M429.3,89.8A30.7,30.7 0 0 0 429.5,90.1M427.6,89.4A32.1,32.1 0 0 0 427.7,89.7M449.5,92.5A18.0,18.0 0 0 0 455.4,94.0M452.7,95.7A20.0,20.0 0 0 0 457.8,96.1M456.8,96.1A20.0,20.0 0 0 0 458.9,96.0M458.3,96.8A20.8,20.8 0 0 0 459.6,96.7M459.4,98.2A22.2,22.2 0 0 0 460.2,98.1M461.7,109.8A34.1,34.1 0 0 0 462.5,109.7M459.4,100.4A24.5,24.5 0 0 0 460.0,100.4M458.2,100.8A24.8,24.8 0 0 0 458.9,100.8M458.7,102.1A26.0,26.0 0 0 0 459.2,102.0M456.4,100.8A24.7,24.7 0 0 0 457.1,100.8M456.7,102.9A26.8,26.8 0 0 0 457.6,102.9M457.4,104.9A28.8,28.8 0 0 0 457.9,104.9M451.5,95.4A20.0,20.0 0 0 0 454.0,95.9M452.8,95.7A20.0,20.0 0 0 0 455.1,96.0M454.6,97.3A21.3,21.3 0 0 0 455.4,97.4M455.1,98.5A22.5,22.5 0 0 0 455.6,98.6M455.2,101.4A25.4,25.4 0 0 0 455.8,101.5M453.7,104.6A28.6,28.6 0 0 0 454.1,104.6M452.1,96.7A21.1,21.1 0 0 0 453.1,96.9M452.4,98.2A22.5,22.5 0 0 0 453.4,98.4M452.7,100.6A24.8,24.8 0 0 0 453.4,100.7M452.8,102.6A26.8,26.8 0 0 0 453.4,102.6M449.0,112.9A37.7,37.7 0 0 0 449.9,113.1M451.0,95.2A20.0,20.0 0 0 0 451.9,95.5M447.4,112.2A37.3,37.3 0 0 0 448.0,112.3M450.2,97.2A22.1,22.1 0 0 0 450.6,97.3M449.0,99.8A24.9,24.9 0 0 0 449.6,100.0M447.9,94.2A20.2,20.2 0 0 0 449.3,94.8M448.1,96.1A21.8,21.8 0 0 0 449.2,96.5M446.1,103.5A29.4,29.4 0 0 0 447.0,103.8M445.8,106.5A32.3,32.3 0 0 0 446.2,106.6M446.8,98.4A24.5,24.5 0 0 0 447.4,98.7M446.4,100.1A26.1,26.1 0 0 0 447.0,100.3M442.7,104.3A31.5,31.5 0 0 0 443.2,104.5M463.7,94.9A20.0,20.0 0 0 0 471.7,89.4M471.3,92.7A22.0,22.0 0 0 0 474.9,88.6M473.9,90.0A22.0,22.0 0 0 0 475.8,87.2M475.0,88.4A22.0,22.0 0 0 0 476.4,86.0M475.9,87.0A22.0,22.0 0 0 0 476.9,85.0M480.2,87.2A25.9,25.9 0 0 0 480.8,85.8M484.9,88.0A30.5,30.5 0 0 0 485.2,87.1M487.7,88.3A33.2,33.2 0 0 0 487.9,87.8M491.9,93.2A39.1,39.1 0 0 0 492.2,92.5M477.8,88.5A24.4,24.4 0 0 0 478.2,87.9M480.1,89.5A26.9,26.9 0 0 0 480.6,88.7M488.8,93.6A36.5,36.5 0 0 0 489.3,92.8M484.3,95.5A33.7,33.7 0 0 0 485.1,94.3M488.9,97.2A38.4,38.4 0 0 0 489.3,96.6M477.0,93.1A26.4,26.4 0 0 0 477.6,92.4M479.6,94.6A29.4,29.4 0 0 0 480.3,93.8M482.7,96.2A32.8,32.8 0 0 0 483.3,95.4M470.4,93.4A22.0,22.0 0 0 0 472.1,91.9M472.6,93.6A23.6,23.6 0 0 0 473.8,92.4M477.3,96.8A29.1,29.1 0 0 0 478.4,95.6M481.5,99.2A33.8,33.8 0 0 0 482.2,98.4M484.1,102.2A37.7,37.7 0 0 0 484.7,101.5M475.6,97.6A28.5,28.5 0 0 0 476.2,97.1M477.2,98.6A30.4,30.4 0 0 0 477.6,98.2M472.9,97.5A26.8,26.8 0 0 0 473.7,96.8M475.0,98.9A29.2,29.2 0 0 0 475.6,98.5M462.1,97.4A22.0,22.0 0 0 0 466.5,95.9M464.8,96.6A22.0,22.0 0 0 0 468.1,95.0M467.6,95.9A22.5,22.5 0 0 0 469.1,94.9M473.1,101.9A30.6,30.6 0 0 0 473.9,101.4M475.8,105.3A34.8,34.8 0 0 0 476.7,104.6M479.4,109.4A40.2,40.2 0 0 0 480.2,108.8M469.2,100.2A27.2,27.2 0 0 0 470.3,99.7M471.7,102.9A30.7,30.7 0 0 0 472.4,102.5M471.0,104.5A31.7,31.7 0 0 0 471.7,104.1M465.0,99.1A24.4,24.4 0 0 0 466.3,98.6M467.6,102.8A28.8,28.8 0 0 0 468.4,102.5M469.2,105.9A32.3,32.3 0 0 0 470.4,105.4M471.7,109.3A36.4,36.4 0 0 0 472.4,109.0M469.5,113.0A39.0,39.0 0 0 0 470.3,112.7M462.2,99.9A24.4,24.4 0 0 0 463.2,99.6M463.4,102.2A26.9,26.9 0 0 0 464.4,101.9M464.8,105.1A30.0,30.0 0 0 0 465.7,104.8M466.6,109.5A34.8,34.8 0 0 0 467.5,109.2M476.2,81.0A20.0,20.0 0 0 0 476.8,76.9M478.7,77.8A22.0,22.0 0 0 0 478.8,76.0M482.1,76.6A25.4,25.4 0 0 0 482.1,75.4M485.8,75.8A29.0,29.0 0 0 0 485.8,74.9M488.6,75.1A31.8,31.8 0 0 0 488.6,74.4M491.3,74.4A34.6,34.6 0 0 0 491.3,74.0M491.5,75.3A34.7,34.7 0 0 0 491.5,74.8M485.9,77.0A29.1,29.1 0 0 0 485.9,76.4M487.3,76.6A30.5,30.5 0 0 0 487.3,76.2M478.7,78.3A22.0,22.0 0 0 0 478.8,77.3M487.8,78.0A31.0,31.0 0 0 0 487.8,77.6M478.8,78.6A22.1,22.1 0 0 0 478.8,78.1M481.4,78.5A24.7,24.7 0 0 0 481.4,78.1M482.9,78.4A26.2,26.2 0 0 0 482.9,78.0M477.9,82.3A22.0,22.0 0 0 0 478.3,80.6M478.3,81.4A22.1,22.1 0 0 0 478.6,79.9M480.8,80.9A24.5,24.5 0 0 0 481.1,79.6M487.2,80.8A30.8,30.8 0 0 0 487.3,80.3M490.3,80.8A33.9,33.9 0 0 0 490.4,80.6M483.7,81.9A27.5,27.5 0 0 0 483.8,81.2M485.8,81.8A29.5,29.5 0 0 0 485.8,81.4M487.6,81.9A31.4,31.4 0 0 0 487.7,81.5M484.4,83.3A28.6,28.6 0 0 0 484.6,82.7M486.9,83.5A31.0,31.0 0 0 0 487.0,83.0M482.5,84.0A26.8,26.8 0 0 0 482.7,83.3M490.9,85.9A35.5,35.5 0 0 0 491.0,85.5M483.7,84.6A28.2,28.2 0 0 0 483.8,84.2M463.7,75.2A7.0,7.0 0 0 0 463.4,73.8M464.5,73.9A8.0,8.0 0 0 0 464.2,73.0M465.5,72.8A9.3,9.3 0 0 0 465.3,72.3M467.7,71.5A11.8,11.8 0 0 0 467.5,71.1M470.5,70.0A15.0,15.0 0 0 0 470.3,69.4M473.0,68.4A17.9,17.9 0 0 0 472.8,67.9M470.6,71.0A14.7,14.7 0 0 0 470.5,70.8M464.7,74.1A8.2,8.2 0 0 0 464.6,73.7M466.0,73.4A9.6,9.6 0 0 0 466.0,73.2M472.5,71.3A16.4,16.4 0 0 0 472.3,70.8M465.0,75.2A8.3,8.3 0 0 0 465.0,74.9M465.7,75.0A9.0,9.0 0 0 0 465.6,74.6M466.8,74.6A10.2,10.2 0 0 0 466.8,74.2M468.2,74.2A11.5,11.5 0 0 0 468.1,73.7M469.5,73.6A13.0,13.0 0 0 0 469.5,73.3M458.5,67.3A9.0,9.0 0 0 0 452.6,68.2M452.9,66.9A10.0,10.0 0 0 0 451.4,67.7M451.5,66.9A10.6,10.6 0 0 0 450.6,67.5M449.6,65.8A12.5,12.5 0 0 0 449.4,66.0M447.8,63.5A15.4,15.4 0 0 0 447.5,63.8M445.9,61.5A18.3,18.3 0 0 0 445.7,61.6M451.1,65.8A11.8,11.8 0 0 0 450.6,66.1M449.9,64.4A13.6,13.6 0 0 0 449.4,64.7M445.4,58.2A21.2,21.2 0 0 0 445.1,58.4M444.8,56.9A22.6,22.6 0 0 0 444.5,57.1M448.7,62.0A16.2,16.2 0 0 0 448.5,62.2M449.1,61.8A16.2,16.2 0 0 0 448.9,61.9M452.2,64.1A12.9,12.9 0 0 0 451.3,64.5M450.1,61.5A16.1,16.1 0 0 0 449.7,61.7M449.2,60.2A17.6,17.6 0 0 0 448.8,60.4M443.2,48.6A30.6,30.6 0 0 0 442.7,48.9M451.3,60.9A16.2,16.2 0 0 0 450.8,61.1M449.2,56.2A21.4,21.4 0 0 0 448.7,56.4M447.9,53.6A24.2,24.2 0 0 0 447.3,53.8M446.6,51.6A26.5,26.5 0 0 0 446.1,51.8M460.3,66.7A10.0,10.0 0 0 0 457.0,66.1M458.0,66.2A10.0,10.0 0 0 0 455.9,66.1M456.7,66.1A10.0,10.0 0 0 0 455.1,66.2M455.7,66.2A10.0,10.0 0 0 0 454.4,66.4M454.7,65.5A10.8,10.8 0 0 0 453.7,65.7M452.4,60.4A16.3,16.3 0 0 0 451.9,60.5M451.2,57.6A19.3,19.3 0 0 0 450.7,57.8M449.2,52.7A24.6,24.6 0 0 0 448.9,52.9M451.8,57.7A19.1,19.1 0 0 0 451.6,57.8M454.5,63.1A13.2,13.2 0 0 0 454.0,63.2M453.9,61.7A14.7,14.7 0 0 0 453.5,61.8M453.3,60.0A16.5,16.5 0 0 0 452.9,60.1M452.6,58.5A18.1,18.1 0 0 0 452.4,58.5M453.7,58.0A18.4,18.4 0 0 0 453.5,58.0M455.9,64.5A11.6,11.6 0 0 0 455.3,64.6M455.0,61.1A15.1,15.1 0 0 0 454.6,61.1M453.7,52.9A23.4,23.4 0 0 0 453.2,53.0M455.8,61.5A14.6,14.6 0 0 0 455.5,61.5M455.5,60.4A15.7,15.7 0 0 0 455.3,60.5M456.8,63.3A12.8,12.8 0 0 0 456.4,63.3M456.3,46.6A29.5,29.5 0 0 0 455.6,46.6M455.7,43.0A33.1,33.1 0 0 0 455.1,43.0M457.0,60.9A15.2,15.2 0 0 0 456.7,60.9M458.4,65.8A10.4,10.4 0 0 0 457.7,65.7M458.6,60.5A15.7,15.7 0 0 0 457.8,60.4M458.3,57.6A18.5,18.5 0 0 0 457.7,57.6M458.1,54.8A21.3,21.3 0 0 0 457.7,54.8M457.9,52.3A23.8,23.8 0 0 0 457.6,52.3M459.1,51.4A24.8,24.8 0 0 0 458.6,51.4M458.9,64.2A12.1,12.1 0 0 0 458.6,64.1M459.1,61.8A14.4,14.4 0 0 0 458.7,61.8M459.2,59.4A16.9,16.9 0 0 0 458.9,59.4M461.3,67.2A10.0,10.0 0 0 0 459.2,66.4M459.5,66.5A10.0,10.0 0 0 0 458.9,66.3M460.0,62.2A14.3,14.3 0 0 0 459.6,62.1M460.1,60.0A16.5,16.5 0 0 0 459.9,59.9M460.2,65.2A11.4,11.4 0 0 0 459.6,65.1M463.9,49.2A27.8,27.8 0 0 0 463.5,49.1M460.9,63.5A13.2,13.2 0 0 0 460.5,63.4M461.2,61.6A15.2,15.2 0 0 0 460.9,61.5M462.4,59.1A17.9,17.9 0 0 0 462.3,59.1M461.7,67.4A10.0,10.0 0 0 0 460.9,67.0M461.1,67.1A10.0,10.0 0 0 0 460.6,66.9M460.8,66.9A10.0,10.0 0 0 0 460.4,66.8M460.8,66.4A10.5,10.5 0 0 0 460.5,66.2M461.6,63.5A13.5,13.5 0 0 0 461.4,63.4M462.3,61.0A16.1,16.1 0 0 0 462.1,60.9M465.4,57.0A21.0,21.0 0 0 0 465.0,56.8M467.3,54.6A23.9,23.9 0 0 0 466.9,54.4M463.4,65.1A12.8,12.8 0 0 0 462.8,64.8M464.0,62.9A15.0,15.0 0 0 0 463.7,62.8M466.2,58.2A20.2,20.2 0 0 0 466.0,58.1M464.2,64.0A14.2,14.2 0 0 0 463.9,63.8M464.7,62.6A15.7,15.7 0 0 0 464.5,62.4M456.0,71.2L455.4,67.2M461.7,75.0L463.6,74.5M461.7,76.8L476.6,78.9M459.6,80.2L468.0,92.7M455.6,80.9L452.4,93.6M453.1,79.5L443.7,88.4M451.8,75.5L440.9,74.1M453.2,72.6L446.1,65.6M446.7,65.0L439.1,56.7M445.5,66.3L443.5,64.6M443.9,64.1L428.2,49.5M443.1,65.0L440.3,62.8M440.8,62.2L432.3,54.8M439.9,63.4L434.4,59.3M434.7,59.0L432.6,57.3M434.2,59.6L431.3,57.5M432.6,54.4L427.7,50.1M432.0,55.1L429.5,53.1M439.6,56.2L435.5,51.5M438.7,57.1L434.2,52.5M434.6,52.1L430.6,47.7M433.9,52.9L431.1,50.1M442.1,69.7L441.2,69.3M441.0,78.7L440.0,78.9M440.4,80.5L439.9,80.6M439.7,80.0L431.5,81.8M440.0,81.2L438.1,81.8M437.9,81.3L430.5,83.4M438.2,82.3L435.7,83.2M435.5,82.8L427.1,85.5M435.8,83.6L433.1,84.5M427.0,85.2L418.6,87.7M427.2,85.8L425.3,86.4M430.4,83.2L426.6,84.3M430.5,83.6L429.5,83.9M431.4,81.4L428.7,82.0M431.6,82.2L422.5,84.4M422.4,84.1L420.4,84.6M422.5,84.7L415.8,86.4M440.0,78.6L437.4,79.0M437.3,78.4L433.7,78.9M437.5,79.6L426.4,81.6M426.4,81.4L425.0,81.6M426.5,81.9L424.5,82.2M433.7,78.4L419.7,79.8M433.8,79.4L430.1,79.9M430.1,79.6L422.6,80.6M430.1,80.2L427.3,80.6M419.7,79.3L414.9,79.7M419.8,80.3L416.3,80.7M439.8,74.9L438.2,74.8M439.8,76.8L437.2,76.9M437.2,76.6L426.0,76.8M437.3,77.3L435.2,77.4M435.1,77.3L432.1,77.4M435.2,77.6L428.5,78.0M426.0,76.5L423.0,76.5M426.0,77.2L418.9,77.5M438.2,74.2L425.7,72.9M438.1,75.4L435.0,75.3M435.0,74.9L432.5,74.7M435.0,75.8L424.6,75.6M424.6,75.3L422.0,75.2M424.6,76.0L417.7,75.9M432.5,74.5L430.3,74.4M432.5,74.9L427.0,74.6M425.8,72.4L419.3,71.7M425.7,73.3L421.9,73.0M421.9,72.6L418.9,72.3M421.8,73.3L418.8,73.0M440.9,70.1L434.8,67.7M440.7,70.8L436.2,69.3M440.4,71.7L438.8,71.3M440.1,72.7L437.5,72.2M437.6,71.8L419.4,67.8M437.4,72.6L434.8,72.1M434.9,71.7L424.4,69.6M434.7,72.5L431.9,72.1M432.0,71.7L418.4,69.4M431.8,72.4L429.6,72.1M429.6,71.8L428.1,71.6M429.6,72.4L415.2,70.4M438.8,71.0L431.6,69.0M438.7,71.5L435.9,70.9M436.0,70.6L433.3,69.9M435.9,71.1L431.8,70.1M436.3,69.1L433.4,68.1M436.1,69.5L435.1,69.2M435.2,69.0L433.4,68.4M435.1,69.4L432.0,68.5M435.0,67.4L432.4,66.4M434.7,68.1L422.7,63.7M432.4,66.2L429.9,65.2M432.3,66.6L422.7,62.9M442.4,67.1L440.8,66.1M441.5,68.7L437.3,66.7M437.5,66.4L426.7,61.0M437.2,67.0L434.5,65.8M434.6,65.4L432.6,64.4M434.3,66.1L426.4,62.5M426.5,62.2L424.4,61.2M426.2,62.9L418.7,59.6M441.1,65.6L437.2,63.0M440.5,66.5L437.7,64.9M438.0,64.5L435.0,62.7M437.5,65.3L434.5,63.7M434.7,63.4L423.1,56.7M434.4,64.0L432.5,63.0M432.6,62.8L431.1,61.9M432.4,63.2L425.6,59.5M435.1,62.6L422.3,54.6M435.0,62.8L432.7,61.4M437.4,62.8L435.1,61.3M437.1,63.2L435.3,62.0M441.7,85.9L434.9,90.3M446.0,90.5L434.8,105.6M437.1,107.2L435.4,110.0M436.7,110.7L435.3,113.2M434.4,112.7L434.1,113.1M436.1,113.7L435.9,114.0M436.3,114.2L434.2,118.0M435.3,113.7L435.1,114.0M435.9,114.0L434.0,117.5M433.7,112.9L432.4,114.9M434.5,113.4L434.1,114.1M433.8,114.0L433.2,115.0M434.4,114.3L433.8,115.4M432.2,114.7L431.4,116.0M432.7,115.1L431.2,117.5M434.7,109.5L433.2,111.8M433.0,111.7L431.6,113.8M433.4,111.9L433.0,112.4M433.1,108.4L430.7,111.7M434.0,109.0L433.7,109.4M433.5,109.2L431.2,112.5M433.9,109.5L432.9,111.0M430.5,111.5L428.4,114.4M430.9,111.8L429.9,113.2M433.5,104.6L432.7,105.5M432.2,105.1L430.1,107.6M433.2,106.0L432.9,106.4M432.5,106.1L429.4,109.9M433.3,106.7L432.8,107.2M432.6,107.0L429.8,110.7M433.0,107.3L431.9,108.8M429.2,109.6L428.0,111.0M429.7,110.1L427.9,112.5M429.9,107.4L428.9,108.6M430.3,107.7L428.8,109.5M431.3,102.6L429.3,104.6M432.2,103.4L431.1,104.7M430.8,104.4L430.4,104.9M431.3,104.9L428.2,108.5M430.2,104.8L427.5,107.7M430.5,105.1L429.3,106.4M429.0,104.3L427.8,105.6M429.6,104.9L429.0,105.5M427.5,105.4L424.8,108.1M428.0,105.9L427.2,106.7M433.1,87.0L427.6,89.6M438.1,94.3L427.8,104.3M427.7,104.1L424.3,107.4M427.9,104.4L426.5,105.7M437.5,93.7L431.9,98.9M431.6,98.5L430.4,99.7M432.2,99.2L426.6,104.4M430.2,99.5L429.6,99.9M430.6,99.9L424.7,105.2M429.4,99.7L427.1,101.8M429.8,100.1L428.8,101.0M436.5,92.4L432.0,96.0M431.7,95.6L431.5,95.7M432.4,96.4L429.7,98.6M429.6,98.4L428.7,99.1M429.9,98.7L423.7,103.9M431.2,95.3L430.0,96.2M431.8,96.1L425.1,101.6M429.6,95.8L428.6,96.6M430.3,96.7L424.1,101.4M423.9,101.1L423.4,101.6M424.4,101.8L423.4,102.5M428.4,96.3L427.6,96.9M428.7,96.8L428.0,97.3M427.9,97.2L423.3,100.6M428.1,97.4L426.8,98.4M433.3,87.4L428.1,89.9M434.2,89.2L433.2,89.8M432.8,88.9L432.1,89.3M433.8,90.7L430.5,92.7M430.0,92.0L429.2,92.5M431.0,93.5L429.9,94.2M429.7,93.9L425.3,96.8M430.1,94.5L429.4,95.0M429.3,94.8L427.8,95.8M429.5,95.1L427.4,96.6M428.9,92.0L427.8,92.6M429.5,93.0L428.8,93.4M428.7,93.1L424.0,95.9M429.0,93.7L428.5,94.0M428.4,93.9L427.8,94.2M428.6,94.2L423.5,97.5M427.7,92.4L423.7,94.6M428.0,92.9L427.1,93.4M426.9,93.3L425.7,94.0M427.2,93.6L423.9,95.6M432.0,89.0L431.0,89.5M432.2,89.5L424.6,93.7M430.8,89.2L429.4,90.0M431.1,89.8L424.3,93.4M429.3,89.8L428.7,90.1M429.5,90.1L426.0,91.9M427.6,89.4L426.0,90.1M427.7,89.7L422.4,92.3M449.5,92.5L448.6,94.5M455.4,94.0L455.3,96.0M456.8,96.1L456.8,100.8M458.9,96.0L458.9,96.7M458.3,96.8L458.5,100.8M459.6,96.7L459.8,98.1M459.4,98.2L459.7,100.4M460.2,98.1L462.1,109.8M461.7,109.8L462.2,113.1M462.5,109.7L462.8,111.9M459.4,100.4L461.5,120.5M460.0,100.4L460.3,102.9M458.2,100.8L458.3,103.0M458.9,100.8L459.0,102.0M458.7,102.1L459.6,113.8M459.2,102.0L459.4,103.5M456.4,100.8L456.3,110.9M457.1,100.8L457.2,102.9M456.7,102.9L456.7,118.2M457.6,102.9L457.6,104.9M457.4,104.9L457.5,106.8M457.9,104.9L458.2,114.8M452.8,95.7L452.6,96.8M455.1,96.0L455.0,97.3M454.6,97.3L453.9,104.6M455.4,97.4L455.4,98.5M455.1,98.5L453.9,114.4M455.6,98.6L455.5,101.5M455.2,101.4L455.1,104.2M455.8,101.5L455.3,111.8M453.7,104.6L453.5,106.2M454.1,104.6L452.8,118.3M452.1,96.7L450.5,103.7M453.1,96.9L452.9,98.3M452.4,98.2L449.4,113.0M453.4,98.4L453.0,100.6M452.7,100.6L451.3,109.1M453.4,100.7L453.1,102.6M452.8,102.6L452.6,103.7M453.4,102.6L451.6,116.6M449.0,112.9L448.0,117.4M449.9,113.1L449.4,115.9M451.0,95.2L450.4,97.3M451.9,95.5L447.7,112.3M447.4,112.2L447.0,113.7M448.0,112.3L446.5,118.1M450.2,97.2L449.3,99.9M450.6,97.3L446.3,112.4M449.0,99.8L448.3,101.9M449.6,100.0L447.5,107.2M447.9,94.2L443.0,104.4M449.3,94.8L448.7,96.3M448.1,96.1L447.1,98.6M449.2,96.5L446.6,103.7M446.1,103.5L445.3,105.8M447.0,103.8L446.0,106.6M445.8,106.5L445.5,107.5M446.2,106.6L444.6,111.2M446.8,98.4L438.8,116.4M447.4,98.7L446.7,100.2M446.4,100.1L439.0,117.3M447.0,100.3L446.2,102.2M442.7,104.3L441.9,106.0M443.2,104.5L441.7,107.8M463.7,94.9L464.3,96.8M471.7,89.4L473.2,90.8M473.9,90.0L477.3,92.8M475.0,88.4L484.7,94.9M475.9,87.0L478.0,88.2M476.9,85.0L480.5,86.5M480.2,87.2L492.1,92.9M480.8,85.8L485.1,87.5M484.9,88.0L494.8,92.2M485.2,87.1L487.8,88.1M487.7,88.3L492.9,90.4M487.9,87.8L490.6,88.8M491.9,93.2L494.7,94.6M492.2,92.5L494.2,93.4M477.8,88.5L484.2,92.4M478.2,87.9L480.4,89.1M480.1,89.5L481.7,90.4M480.6,88.7L489.0,93.2M488.8,93.6L490.9,94.7M489.3,92.8L495.0,95.7M484.3,95.5L491.0,100.2M485.1,94.3L489.1,96.9M488.9,97.2L490.4,98.2M489.3,96.6L496.2,101.0M477.0,93.1L480.6,96.2M477.6,92.4L480.0,94.2M479.6,94.6L482.0,96.6M480.3,93.8L483.0,95.8M482.7,96.2L484.9,97.9M483.3,95.4L492.5,102.1M470.4,93.4L473.3,97.2M472.1,91.9L473.2,93.0M472.6,93.6L475.9,97.3M473.8,92.4L477.9,96.2M477.3,96.8L488.4,108.0M478.4,95.6L481.9,98.8M481.5,99.2L484.4,101.9M482.2,98.4L489.9,105.2M484.1,102.2L485.9,104.0M484.7,101.5L489.8,106.2M475.6,97.6L482.6,105.6M476.2,97.1L477.4,98.4M477.2,98.6L479.2,100.8M477.6,98.2L482.2,103.1M472.9,97.5L475.4,100.8M473.7,96.8L475.3,98.7M475.0,98.9L476.4,100.7M475.6,98.5L476.4,99.4M462.1,97.4L462.7,99.7M464.8,96.6L465.6,98.9M468.1,95.0L468.3,95.4M467.6,95.9L469.8,99.9M469.1,94.9L473.5,101.7M473.1,101.9L481.3,114.8M473.9,101.4L476.3,104.9M475.8,105.3L478.1,108.8M476.7,104.6L479.8,109.1M479.4,109.4L481.0,111.7M480.2,108.8L482.2,111.5M469.2,100.2L471.3,104.3M470.3,99.7L472.0,102.7M471.7,102.9L473.8,106.6M472.4,102.5L473.2,103.8M471.0,104.5L472.2,106.9M471.7,104.1L478.2,116.4M465.0,99.1L469.9,112.8M466.3,98.6L468.0,102.6M467.6,102.8L472.5,114.9M468.4,102.5L469.8,105.7M469.2,105.9L471.9,112.4M470.4,105.4L472.1,109.1M471.7,109.3L473.0,112.0M472.4,109.0L473.3,110.8M469.5,113.0L470.3,115.4M470.3,112.7L471.0,114.8M462.2,99.9L463.7,106.3M463.2,99.6L463.9,102.1M463.4,102.2L464.1,105.0M464.4,101.9L465.2,104.9M464.8,105.1L465.5,107.7M465.7,104.8L467.0,109.3M466.6,109.5L468.4,115.9M467.5,109.2L468.3,111.6M476.2,81.0L478.1,81.5M476.8,76.9L478.8,76.9M478.8,76.0L482.2,76.0M482.1,76.6L485.9,76.7M482.1,75.4L485.8,75.4M485.8,75.8L491.1,75.8M485.8,74.9L488.6,74.8M488.6,75.1L491.5,75.0M488.6,74.4L491.3,74.2M491.3,74.4L499.0,74.1M491.3,74.0L493.9,73.9M491.5,75.3L493.7,75.2M491.5,74.8L493.9,74.7M485.9,77.0L488.2,77.1M485.9,76.4L487.3,76.4M487.3,76.6L489.2,76.6M487.3,76.2L493.9,76.3M478.7,78.3L478.8,78.3M478.8,77.3L487.8,77.8M487.8,78.0L490.4,78.2M487.8,77.6L500.7,78.3M478.8,78.6L502.1,81.2M478.8,78.1L481.4,78.3M481.4,78.5L488.5,79.2M481.4,78.1L482.9,78.2M482.9,78.4L485.8,78.7M482.9,78.0L489.1,78.5M477.9,82.3L482.6,83.7M478.3,80.6L478.4,80.7M478.3,81.4L484.5,83.0M478.6,79.9L480.9,80.3M480.8,80.9L483.7,81.5M481.1,79.6L487.3,80.5M487.2,80.8L488.5,81.0M487.3,80.3L490.3,80.7M490.3,80.8L496.4,81.7M490.4,80.6L492.9,80.9M483.7,81.9L497.6,84.8M483.8,81.2L485.8,81.6M485.8,81.8L498.9,84.4M485.8,81.4L487.7,81.7M487.6,81.9L489.6,82.3M487.7,81.5L501.3,83.9M484.4,83.3L493.4,85.6M484.6,82.7L486.9,83.3M486.9,83.5L501.0,87.0M487.0,83.0L489.8,83.7M482.5,84.0L483.8,84.4M482.7,83.3L491.0,85.7M490.9,85.9L493.0,86.5M491.0,85.5L495.6,86.7M483.7,84.6L485.7,85.2M483.8,84.2L499.9,89.1M463.7,75.2L465.0,75.1M463.4,73.8L464.4,73.5M464.5,73.9L464.7,73.9M464.2,73.0L465.4,72.6M465.5,72.8L470.6,70.9M465.3,72.3L467.6,71.3M467.7,71.5L470.2,70.4M467.5,71.1L470.4,69.7M470.5,70.0L478.3,66.5M470.3,69.4L472.9,68.2M473.0,68.4L479.8,65.2M472.8,67.9L474.4,67.1M470.6,71.0L478.0,68.2M470.5,70.8L471.8,70.3M464.7,74.1L478.6,70.6M464.6,73.7L466.0,73.3M466.0,73.4L467.0,73.1M466.0,73.2L472.4,71.1M472.5,71.3L475.2,70.5M472.3,70.8L474.2,70.2M465.0,75.2L482.2,73.5M465.0,74.9L465.7,74.8M465.7,75.0L481.5,73.0M465.6,74.6L466.8,74.4M466.8,74.6L482.1,72.2M466.8,74.2L468.1,73.9M468.2,74.2L480.1,72.1M468.1,73.7L469.5,73.4M469.5,73.6L479.7,71.6M469.5,73.3L471.2,72.9M458.5,67.3L458.6,66.3M452.6,68.2L452.1,67.3M452.9,66.9L451.8,64.3M451.4,67.7L451.0,67.2M451.5,66.9L450.9,65.9M450.6,67.5L449.5,65.9M449.6,65.8L435.2,45.2M449.4,66.0L447.7,63.6M447.8,63.5L442.3,55.8M447.5,63.8L445.8,61.5M445.9,61.5L443.7,58.6M445.7,61.6L444.4,59.9M451.1,65.8L449.0,61.9M450.6,66.1L449.7,64.5M449.9,64.4L448.6,62.1M449.4,64.7L445.3,58.3M445.4,58.2L444.6,57.0M445.1,58.4L436.3,45.2M444.8,56.9L441.6,51.8M444.5,57.1L443.4,55.5M448.7,62.0L446.0,57.3M448.5,62.2L447.0,59.6M449.1,61.8L448.0,59.8M448.9,61.9L441.4,48.6M452.2,64.1L451.0,61.0M451.3,64.5L449.9,61.6M450.1,61.5L445.6,51.6M449.7,61.7L449.0,60.3M449.2,60.2L448.7,59.0M448.8,60.4L443.0,48.8M443.2,48.6L441.1,44.2M442.7,48.9L441.8,47.2M451.3,60.9L450.5,58.9M450.8,61.1L448.9,56.3M449.2,56.2L446.5,49.2M448.7,56.4L447.6,53.7M447.9,53.6L443.4,42.5M447.3,53.8L446.4,51.7M446.6,51.6L445.7,49.6M446.1,51.8L443.8,46.5M458.0,66.2L458.1,65.7M456.7,66.1L456.6,63.3M455.7,66.2L455.6,64.5M454.4,66.4L454.2,65.6M454.7,65.5L454.3,63.2M453.7,65.7L452.2,60.5M452.4,60.4L451.7,57.7M451.9,60.5L451.0,57.7M451.2,57.6L450.7,55.7M450.7,57.8L449.0,52.8M449.2,52.7L448.9,51.8M448.9,52.9L444.9,41.2M451.8,57.7L451.3,55.6M451.6,57.8L447.7,43.8M454.5,63.1L453.6,58.0M454.0,63.2L453.7,61.7M453.9,61.7L450.5,44.8M453.5,61.8L453.1,60.0M453.3,60.0L449.2,41.2M452.9,60.1L452.5,58.5M452.6,58.5L449.1,43.7M452.4,58.5L452.0,57.0M453.7,58.0L453.4,56.0M453.5,58.0L451.0,44.8M455.9,64.5L455.6,61.5M455.3,64.6L454.8,61.1M455.0,61.1L454.7,58.4M454.6,61.1L453.5,53.0M453.7,52.9L453.5,50.8M453.2,53.0L453.0,51.6M455.8,61.5L455.3,55.1M455.5,61.5L455.4,60.4M455.5,60.4L455.3,57.6M455.3,60.5L453.2,39.4M456.8,63.3L456.8,60.9M456.4,63.3L455.9,46.6M456.3,46.6L456.2,43.5M455.6,46.6L455.4,43.0M455.7,43.0L455.6,38.9M455.1,43.0L455.0,41.0M457.0,60.9L457.0,58.1M456.7,60.9L456.6,48.4M458.4,65.8L458.7,64.1M457.7,65.7L458.2,60.5M458.6,60.5L459.6,51.7M457.8,60.4L458.0,57.6M458.3,57.6L458.9,51.4M457.7,57.6L457.9,54.8M458.1,54.8L458.2,52.0M457.7,54.8L457.8,52.3M457.9,52.3L458.1,49.6M457.6,52.3L457.8,45.7M459.1,51.4L459.3,49.5M458.6,51.4L458.9,46.9M458.9,64.2L463.3,38.7M458.6,64.1L458.9,61.8M459.1,61.8L462.6,39.6M458.7,61.8L459.0,59.4M459.2,59.4L459.4,58.1M458.9,59.4L460.5,46.8M459.5,66.5L459.9,65.1M458.9,66.3L459.8,62.2M460.0,62.2L461.4,55.8M459.6,62.1L460.0,59.9M460.1,60.0L460.5,58.1M459.9,59.9L460.7,56.1M460.2,65.2L460.7,63.5M459.6,65.1L463.7,49.1M463.9,49.2L466.0,40.9M463.5,49.1L464.1,46.5M460.9,63.5L462.3,59.1M460.5,63.4L461.0,61.5M461.2,61.6L461.8,59.4M460.9,61.5L461.5,59.2M462.4,59.1L462.9,57.6M462.3,59.1L465.7,48.3M461.7,67.4L463.1,64.9M461.1,67.1L467.1,54.5M460.8,66.9L465.2,56.9M460.4,66.8L460.6,66.3M460.8,66.4L465.0,56.2M460.5,66.2L461.5,63.5M461.6,63.5L464.5,56.2M461.4,63.4L462.2,61.0M462.3,61.0L463.1,58.9M462.1,60.9L462.7,59.4M465.4,57.0L466.3,55.0M465.0,56.8L466.9,52.2M467.3,54.6L472.7,43.4M466.9,54.4L467.4,53.3M463.4,65.1L464.0,63.9M462.8,64.8L463.9,62.8M464.0,62.9L465.4,60.4M463.7,62.8L466.1,58.2M466.2,58.2L469.1,52.6M466.0,58.1L466.8,56.5M464.2,64.0L469.8,54.9M463.9,63.8L464.6,62.5M464.7,62.6L465.5,61.3M464.5,62.4L466.0,59.8M456.8,76.1L461.8,76.1" stroke="#1e1e1e" stroke-width="0.5" fill="none"/>
<path d="M456.8,76.1L490.8,76.1" stroke="#222" stroke-width="0.8"/>
<circle cx="490.8" cy="76.1" r="1.0" fill="#111"/>
<path d="M450.1,109.1a1.2,1.2 0 1 0 2.4,0a1.2,1.2 0 1 0 -2.4,0M446.8,117.4a1.2,1.2 0 1 0 2.4,0a1.2,1.2 0 1 0 -2.4,0M467.2,115.9a1.2,1.2 0 1 0 2.4,0a1.2,1.2 0 1 0 -2.4,0" fill="#f4a630"/>
<path d="M430.1,57.5a1.2,1.2 0 1 0 2.4,0a1.2,1.2 0 1 0 -2.4,0M431.4,57.3a1.2,1.2 0 1 0 2.4,0a1.2,1.2 0 1 0 -2.4,0M428.3,53.1a1.2,1.2 0 1 0 2.4,0a1.2,1.2 0 1 0 -2.4,0M426.5,50.1a1.2,1.2 0 1 0 2.4,0a1.2,1.2 0 1 0 -2.4,0M427.0,49.5a1.2,1.2 0 1 0 2.4,0a1.2,1.2 0 1 0 -2.4,0M429.9,50.1a1.2,1.2 0 1 0 2.4,0a1.2,1.2 0 1 0 -2.4,0M429.4,47.7a1.2,1.2 0 1 0 2.4,0a1.2,1.2 0 1 0 -2.4,0M434.3,51.5a1.2,1.2 0 1 0 2.4,0a1.2,1.2 0 1 0 -2.4,0M431.9,84.5a1.2,1.2 0 1 0 2.4,0a1.2,1.2 0 1 0 -2.4,0M424.1,86.4a1.2,1.2 0 1 0 2.4,0a1.2,1.2 0 1 0 -2.4,0M417.4,87.7a1.2,1.2 0 1 0 2.4,0a1.2,1.2 0 1 0 -2.4,0M428.3,83.9a1.2,1.2 0 1 0 2.4,0a1.2,1.2 0 1 0 -2.4,0M425.4,84.3a1.2,1.2 0 1 0 2.4,0a1.2,1.2 0 1 0 -2.4,0M414.6,86.4a1.2,1.2 0 1 0 2.4,0a1.2,1.2 0 1 0 -2.4,0M419.2,84.6a1.2,1.2 0 1 0 2.4,0a1.2,1.2 0 1 0 -2.4,0M427.5,82.0a1.2,1.2 0 1 0 2.4,0a1.2,1.2 0 1 0 -2.4,0M423.3,82.2a1.2,1.2 0 1 0 2.4,0a1.2,1.2 0 1 0 -2.4,0M423.8,81.6a1.2,1.2 0 1 0 2.4,0a1.2,1.2 0 1 0 -2.4,0M426.1,80.6a1.2,1.2 0 1 0 2.4,0a1.2,1.2 0 1 0 -2.4,0M421.4,80.6a1.2,1.2 0 1 0 2.4,0a1.2,1.2 0 1 0 -2.4,0M415.1,80.7a1.2,1.2 0 1 0 2.4,0a1.2,1.2 0 1 0 -2.4,0M413.7,79.7a1.2,1.2 0 1 0 2.4,0a1.2,1.2 0 1 0 -2.4,0M427.3,78.0a1.2,1.2 0 1 0 2.4,0a1.2,1.2 0 1 0 -2.4,0M430.9,77.4a1.2,1.2 0 1 0 2.4,0a1.2,1.2 0 1 0 -2.4,0M417.7,77.5a1.2,1.2 0 1 0 2.4,0a1.2,1.2 0 1 0 -2.4,0M421.8,76.5a1.2,1.2 0 1 0 2.4,0a1.2,1.2 0 1 0 -2.4,0M416.5,75.9a1.2,1.2 0 1 0 2.4,0a1.2,1.2 0 1 0 -2.4,0M420.8,75.2a1.2,1.2 0 1 0 2.4,0a1.2,1.2 0 1 0 -2.4,0M425.8,74.6a1.2,1.2 0 1 0 2.4,0a1.2,1.2 0 1 0 -2.4,0M429.1,74.4a1.2,1.2 0 1 0 2.4,0a1.2,1.2 0 1 0 -2.4,0M417.6,73.0a1.2,1.2 0 1 0 2.4,0a1.2,1.2 0 1 0 -2.4,0M417.7,72.3a1.2,1.2 0 1 0 2.4,0a1.2,1.2 0 1 0 -2.4,0M418.1,71.7a1.2,1.2 0 1 0 2.4,0a1.2,1.2 0 1 0 -2.4,0M414.0,70.4a1.2,1.2 0 1 0 2.4,0a1.2,1.2 0 1 0 -2.4,0M426.9,71.6a1.2,1.2 0 1 0 2.4,0a1.2,1.2 0 1 0 -2.4,0M417.2,69.4a1.2,1.2 0 1 0 2.4,0a1.2,1.2 0 1 0 -2.4,0M423.2,69.6a1.2,1.2 0 1 0 2.4,0a1.2,1.2 0 1 0 -2.4,0M418.2,67.8a1.2,1.2 0 1 0 2.4,0a1.2,1.2 0 1 0 -2.4,0M430.6,70.1a1.2,1.2 0 1 0 2.4,0a1.2,1.2 0 1 0 -2.4,0M432.1,69.9a1.2,1.2 0 1 0 2.4,0a1.2,1.2 0 1 0 -2.4,0M430.4,69.0a1.2,1.2 0 1 0 2.4,0a1.2,1.2 0 1 0 -2.4,0M430.8,68.5a1.2,1.2 0 1 0 2.4,0a1.2,1.2 0 1 0 -2.4,0M432.2,68.4a1.2,1.2 0 1 0 2.4,0a1.2,1.2 0 1 0 -2.4,0M432.2,68.1a1.2,1.2 0 1 0 2.4,0a1.2,1.2 0 1 0 -2.4,0M421.5,63.7a1.2,1.2 0 1 0 2.4,0a1.2,1.2 0 1 0 -2.4,0M421.5,62.9a1.2,1.2 0 1 0 2.4,0a1.2,1.2 0 1 0 -2.4,0M428.7,65.2a1.2,1.2 0 1 0 2.4,0a1.2,1.2 0 1 0 -2.4,0M417.5,59.6a1.2,1.2 0 1 0 2.4,0a1.2,1.2 0 1 0 -2.4,0M423.2,61.2a1.2,1.2 0 1 0 2.4,0a1.2,1.2 0 1 0 -2.4,0M431.4,64.4a1.2,1.2 0 1 0 2.4,0a1.2,1.2 0 1 0 -2.4,0M425.5,61.0a1.2,1.2 0 1 0 2.4,0a1.2,1.2 0 1 0 -2.4,0M424.4,59.5a1.2,1.2 0 1 0 2.4,0a1.2,1.2 0 1 0 -2.4,0M429.9,61.9a1.2,1.2 0 1 0 2.4,0a1.2,1.2 0 1 0 -2.4,0M421.9,56.7a1.2,1.2 0 1 0 2.4,0a1.2,1.2 0 1 0 -2.4,0M431.5,61.4a1.2,1.2 0 1 0 2.4,0a1.2,1.2 0 1 0 -2.4,0M421.1,54.6a1.2,1.2 0 1 0 2.4,0a1.2,1.2 0 1 0 -2.4,0M434.1,62.0a1.2,1.2 0 1 0 2.4,0a1.2,1.2 0 1 0 -2.4,0M433.9,61.3a1.2,1.2 0 1 0 2.4,0a1.2,1.2 0 1 0 -2.4,0M433.0,118.0a1.2,1.2 0 1 0 2.4,0a1.2,1.2 0 1 0 -2.4,0M432.8,117.5a1.2,1.2 0 1 0 2.4,0a1.2,1.2 0 1 0 -2.4,0M433.9,114.0a1.2,1.2 0 1 0 2.4,0a1.2,1.2 0 1 0 -2.4,0M432.6,115.4a1.2,1.2 0 1 0 2.4,0a1.2,1.2 0 1 0 -2.4,0M432.0,115.0a1.2,1.2 0 1 0 2.4,0a1.2,1.2 0 1 0 -2.4,0M430.0,117.5a1.2,1.2 0 1 0 2.4,0a1.2,1.2 0 1 0 -2.4,0M430.2,116.0a1.2,1.2 0 1 0 2.4,0a1.2,1.2 0 1 0 -2.4,0M431.8,112.4a1.2,1.2 0 1 0 2.4,0a1.2,1.2 0 1 0 -2.4,0M430.4,113.8a1.2,1.2 0 1 0 2.4,0a1.2,1.2 0 1 0 -2.4,0M431.7,111.0a1.2,1.2 0 1 0 2.4,0a1.2,1.2 0 1 0 -2.4,0M430.0,112.5a1.2,1.2 0 1 0 2.4,0a1.2,1.2 0 1 0 -2.4,0M428.7,113.2a1.2,1.2 0 1 0 2.4,0a1.2,1.2 0 1 0 -2.4,0M427.2,114.4a1.2,1.2 0 1 0 2.4,0a1.2,1.2 0 1 0 -2.4,0M430.7,108.8a1.2,1.2 0 1 0 2.4,0a1.2,1.2 0 1 0 -2.4,0M428.6,110.7a1.2,1.2 0 1 0 2.4,0a1.2,1.2 0 1 0 -2.4,0M426.7,112.5a1.2,1.2 0 1 0 2.4,0a1.2,1.2 0 1 0 -2.4,0M426.8,111.0a1.2,1.2 0 1 0 2.4,0a1.2,1.2 0 1 0 -2.4,0M427.6,109.5a1.2,1.2 0 1 0 2.4,0a1.2,1.2 0 1 0 -2.4,0M427.7,108.6a1.2,1.2 0 1 0 2.4,0a1.2,1.2 0 1 0 -2.4,0M427.0,108.5a1.2,1.2 0 1 0 2.4,0a1.2,1.2 0 1 0 -2.4,0M428.1,106.4a1.2,1.2 0 1 0 2.4,0a1.2,1.2 0 1 0 -2.4,0M426.3,107.7a1.2,1.2 0 1 0 2.4,0a1.2,1.2 0 1 0 -2.4,0M427.8,105.5a1.2,1.2 0 1 0 2.4,0a1.2,1.2 0 1 0 -2.4,0M426.0,106.7a1.2,1.2 0 1 0 2.4,0a1.2,1.2 0 1 0 -2.4,0M423.6,108.1a1.2,1.2 0 1 0 2.4,0a1.2,1.2 0 1 0 -2.4,0M425.3,105.7a1.2,1.2 0 1 0 2.4,0a1.2,1.2 0 1 0 -2.4,0M423.1,107.4a1.2,1.2 0 1 0 2.4,0a1.2,1.2 0 1 0 -2.4,0M425.4,104.4a1.2,1.2 0 1 0 2.4,0a1.2,1.2 0 1 0 -2.4,0M423.5,105.2a1.2,1.2 0 1 0 2.4,0a1.2,1.2 0 1 0 -2.4,0M427.6,101.0a1.2,1.2 0 1 0 2.4,0a1.2,1.2 0 1 0 -2.4,0M425.9,101.8a1.2,1.2 0 1 0 2.4,0a1.2,1.2 0 1 0 -2.4,0M422.5,103.9a1.2,1.2 0 1 0 2.4,0a1.2,1.2 0 1 0 -2.4,0M427.5,99.1a1.2,1.2 0 1 0 2.4,0a1.2,1.2 0 1 0 -2.4,0M423.9,101.6a1.2,1.2 0 1 0 2.4,0a1.2,1.2 0 1 0 -2.4,0M422.2,102.5a1.2,1.2 0 1 0 2.4,0a1.2,1.2 0 1 0 -2.4,0M422.2,101.6a1.2,1.2 0 1 0 2.4,0a1.2,1.2 0 1 0 -2.4,0M425.6,98.4a1.2,1.2 0 1 0 2.4,0a1.2,1.2 0 1 0 -2.4,0M422.1,100.6a1.2,1.2 0 1 0 2.4,0a1.2,1.2 0 1 0 -2.4,0M426.4,96.9a1.2,1.2 0 1 0 2.4,0a1.2,1.2 0 1 0 -2.4,0M426.2,96.6a1.2,1.2 0 1 0 2.4,0a1.2,1.2 0 1 0 -2.4,0M426.6,95.8a1.2,1.2 0 1 0 2.4,0a1.2,1.2 0 1 0 -2.4,0M424.1,96.8a1.2,1.2 0 1 0 2.4,0a1.2,1.2 0 1 0 -2.4,0M422.3,97.5a1.2,1.2 0 1 0 2.4,0a1.2,1.2 0 1 0 -2.4,0M426.6,94.2a1.2,1.2 0 1 0 2.4,0a1.2,1.2 0 1 0 -2.4,0M422.8,95.9a1.2,1.2 0 1 0 2.4,0a1.2,1.2 0 1 0 -2.4,0M422.7,95.6a1.2,1.2 0 1 0 2.4,0a1.2,1.2 0 1 0 -2.4,0M424.5,94.0a1.2,1.2 0 1 0 2.4,0a1.2,1.2 0 1 0 -2.4,0M422.5,94.6a1.2,1.2 0 1 0 2.4,0a1.2,1.2 0 1 0 -2.4,0M423.4,93.7a1.2,1.2 0 1 0 2.4,0a1.2,1.2 0 1 0 -2.4,0M423.1,93.4a1.2,1.2 0 1 0 2.4,0a1.2,1.2 0 1 0 -2.4,0M424.8,91.9a1.2,1.2 0 1 0 2.4,0a1.2,1.2 0 1 0 -2.4,0M427.5,90.1a1.2,1.2 0 1 0 2.4,0a1.2,1.2 0 1 0 -2.4,0M426.9,89.9a1.2,1.2 0 1 0 2.4,0a1.2,1.2 0 1 0 -2.4,0M421.2,92.3a1.2,1.2 0 1 0 2.4,0a1.2,1.2 0 1 0 -2.4,0M424.8,90.1a1.2,1.2 0 1 0 2.4,0a1.2,1.2 0 1 0 -2.4,0M461.6,111.9a1.2,1.2 0 1 0 2.4,0a1.2,1.2 0 1 0 -2.4,0M461.0,113.1a1.2,1.2 0 1 0 2.4,0a1.2,1.2 0 1 0 -2.4,0M459.1,102.9a1.2,1.2 0 1 0 2.4,0a1.2,1.2 0 1 0 -2.4,0M460.3,120.5a1.2,1.2 0 1 0 2.4,0a1.2,1.2 0 1 0 -2.4,0M458.2,103.5a1.2,1.2 0 1 0 2.4,0a1.2,1.2 0 1 0 -2.4,0M458.4,113.8a1.2,1.2 0 1 0 2.4,0a1.2,1.2 0 1 0 -2.4,0M457.1,103.0a1.2,1.2 0 1 0 2.4,0a1.2,1.2 0 1 0 -2.4,0M457.0,114.8a1.2,1.2 0 1 0 2.4,0a1.2,1.2 0 1 0 -2.4,0M456.3,106.8a1.2,1.2 0 1 0 2.4,0a1.2,1.2 0 1 0 -2.4,0M455.5,118.2a1.2,1.2 0 1 0 2.4,0a1.2,1.2 0 1 0 -2.4,0M455.1,110.9a1.2,1.2 0 1 0 2.4,0a1.2,1.2 0 1 0 -2.4,0M454.1,111.8a1.2,1.2 0 1 0 2.4,0a1.2,1.2 0 1 0 -2.4,0M453.9,104.2a1.2,1.2 0 1 0 2.4,0a1.2,1.2 0 1 0 -2.4,0M452.7,114.4a1.2,1.2 0 1 0 2.4,0a1.2,1.2 0 1 0 -2.4,0M451.6,118.3a1.2,1.2 0 1 0 2.4,0a1.2,1.2 0 1 0 -2.4,0M452.3,106.2a1.2,1.2 0 1 0 2.4,0a1.2,1.2 0 1 0 -2.4,0M450.4,116.6a1.2,1.2 0 1 0 2.4,0a1.2,1.2 0 1 0 -2.4,0M451.4,103.7a1.2,1.2 0 1 0 2.4,0a1.2,1.2 0 1 0 -2.4,0M448.2,115.9a1.2,1.2 0 1 0 2.4,0a1.2,1.2 0 1 0 -2.4,0M449.3,103.7a1.2,1.2 0 1 0 2.4,0a1.2,1.2 0 1 0 -2.4,0M445.3,118.1a1.2,1.2 0 1 0 2.4,0a1.2,1.2 0 1 0 -2.4,0M445.8,113.7a1.2,1.2 0 1 0 2.4,0a1.2,1.2 0 1 0 -2.4,0M445.1,112.4a1.2,1.2 0 1 0 2.4,0a1.2,1.2 0 1 0 -2.4,0M446.3,107.2a1.2,1.2 0 1 0 2.4,0a1.2,1.2 0 1 0 -2.4,0M447.1,101.9a1.2,1.2 0 1 0 2.4,0a1.2,1.2 0 1 0 -2.4,0M443.4,111.2a1.2,1.2 0 1 0 2.4,0a1.2,1.2 0 1 0 -2.4,0M444.3,107.5a1.2,1.2 0 1 0 2.4,0a1.2,1.2 0 1 0 -2.4,0M444.1,105.8a1.2,1.2 0 1 0 2.4,0a1.2,1.2 0 1 0 -2.4,0M445.0,102.2a1.2,1.2 0 1 0 2.4,0a1.2,1.2 0 1 0 -2.4,0M437.8,117.3a1.2,1.2 0 1 0 2.4,0a1.2,1.2 0 1 0 -2.4,0M437.6,116.4a1.2,1.2 0 1 0 2.4,0a1.2,1.2 0 1 0 -2.4,0M440.5,107.8a1.2,1.2 0 1 0 2.4,0a1.2,1.2 0 1 0 -2.4,0M440.7,106.0a1.2,1.2 0 1 0 2.4,0a1.2,1.2 0 1 0 -2.4,0M489.4,88.8a1.2,1.2 0 1 0 2.4,0a1.2,1.2 0 1 0 -2.4,0M491.7,90.4a1.2,1.2 0 1 0 2.4,0a1.2,1.2 0 1 0 -2.4,0M493.6,92.2a1.2,1.2 0 1 0 2.4,0a1.2,1.2 0 1 0 -2.4,0M493.0,93.4a1.2,1.2 0 1 0 2.4,0a1.2,1.2 0 1 0 -2.4,0M493.5,94.6a1.2,1.2 0 1 0 2.4,0a1.2,1.2 0 1 0 -2.4,0M493.8,95.7a1.2,1.2 0 1 0 2.4,0a1.2,1.2 0 1 0 -2.4,0M489.7,94.7a1.2,1.2 0 1 0 2.4,0a1.2,1.2 0 1 0 -2.4,0M480.5,90.4a1.2,1.2 0 1 0 2.4,0a1.2,1.2 0 1 0 -2.4,0M483.0,92.4a1.2,1.2 0 1 0 2.4,0a1.2,1.2 0 1 0 -2.4,0M495.0,101.0a1.2,1.2 0 1 0 2.4,0a1.2,1.2 0 1 0 -2.4,0M489.2,98.2a1.2,1.2 0 1 0 2.4,0a1.2,1.2 0 1 0 -2.4,0M489.8,100.2a1.2,1.2 0 1 0 2.4,0a1.2,1.2 0 1 0 -2.4,0M491.3,102.1a1.2,1.2 0 1 0 2.4,0a1.2,1.2 0 1 0 -2.4,0M483.7,97.9a1.2,1.2 0 1 0 2.4,0a1.2,1.2 0 1 0 -2.4,0M480.8,96.6a1.2,1.2 0 1 0 2.4,0a1.2,1.2 0 1 0 -2.4,0M479.4,96.2a1.2,1.2 0 1 0 2.4,0a1.2,1.2 0 1 0 -2.4,0M488.7,105.2a1.2,1.2 0 1 0 2.4,0a1.2,1.2 0 1 0 -2.4,0M488.6,106.2a1.2,1.2 0 1 0 2.4,0a1.2,1.2 0 1 0 -2.4,0M484.7,104.0a1.2,1.2 0 1 0 2.4,0a1.2,1.2 0 1 0 -2.4,0M487.2,108.0a1.2,1.2 0 1 0 2.4,0a1.2,1.2 0 1 0 -2.4,0M481.0,103.1a1.2,1.2 0 1 0 2.4,0a1.2,1.2 0 1 0 -2.4,0M478.0,100.8a1.2,1.2 0 1 0 2.4,0a1.2,1.2 0 1 0 -2.4,0M481.4,105.6a1.2,1.2 0 1 0 2.4,0a1.2,1.2 0 1 0 -2.4,0M475.2,99.4a1.2,1.2 0 1 0 2.4,0a1.2,1.2 0 1 0 -2.4,0M475.2,100.7a1.2,1.2 0 1 0 2.4,0a1.2,1.2 0 1 0 -2.4,0M474.2,100.8a1.2,1.2 0 1 0 2.4,0a1.2,1.2 0 1 0 -2.4,0M481.0,111.5a1.2,1.2 0 1 0 2.4,0a1.2,1.2 0 1 0 -2.4,0M479.8,111.7a1.2,1.2 0 1 0 2.4,0a1.2,1.2 0 1 0 -2.4,0M476.9,108.8a1.2,1.2 0 1 0 2.4,0a1.2,1.2 0 1 0 -2.4,0M480.1,114.8a1.2,1.2 0 1 0 2.4,0a1.2,1.2 0 1 0 -2.4,0M472.0,103.8a1.2,1.2 0 1 0 2.4,0a1.2,1.2 0 1 0 -2.4,0M472.6,106.6a1.2,1.2 0 1 0 2.4,0a1.2,1.2 0 1 0 -2.4,0M477.0,116.4a1.2,1.2 0 1 0 2.4,0a1.2,1.2 0 1 0 -2.4,0M471.0,106.9a1.2,1.2 0 1 0 2.4,0a1.2,1.2 0 1 0 -2.4,0M472.1,110.8a1.2,1.2 0 1 0 2.4,0a1.2,1.2 0 1 0 -2.4,0M471.8,112.0a1.2,1.2 0 1 0 2.4,0a1.2,1.2 0 1 0 -2.4,0M470.7,112.4a1.2,1.2 0 1 0 2.4,0a1.2,1.2 0 1 0 -2.4,0M471.3,114.9a1.2,1.2 0 1 0 2.4,0a1.2,1.2 0 1 0 -2.4,0M469.8,114.8a1.2,1.2 0 1 0 2.4,0a1.2,1.2 0 1 0 -2.4,0M469.1,115.4a1.2,1.2 0 1 0 2.4,0a1.2,1.2 0 1 0 -2.4,0M467.1,111.6a1.2,1.2 0 1 0 2.4,0a1.2,1.2 0 1 0 -2.4,0M464.3,107.7a1.2,1.2 0 1 0 2.4,0a1.2,1.2 0 1 0 -2.4,0M462.9,105.0a1.2,1.2 0 1 0 2.4,0a1.2,1.2 0 1 0 -2.4,0M462.5,106.3a1.2,1.2 0 1 0 2.4,0a1.2,1.2 0 1 0 -2.4,0M492.7,73.9a1.2,1.2 0 1 0 2.4,0a1.2,1.2 0 1 0 -2.4,0M497.8,74.1a1.2,1.2 0 1 0 2.4,0a1.2,1.2 0 1 0 -2.4,0M492.7,74.7a1.2,1.2 0 1 0 2.4,0a1.2,1.2 0 1 0 -2.4,0M492.5,75.2a1.2,1.2 0 1 0 2.4,0a1.2,1.2 0 1 0 -2.4,0M489.9,75.8a1.2,1.2 0 1 0 2.4,0a1.2,1.2 0 1 0 -2.4,0M492.7,76.3a1.2,1.2 0 1 0 2.4,0a1.2,1.2 0 1 0 -2.4,0M488.0,76.6a1.2,1.2 0 1 0 2.4,0a1.2,1.2 0 1 0 -2.4,0M487.0,77.1a1.2,1.2 0 1 0 2.4,0a1.2,1.2 0 1 0 -2.4,0M499.5,78.3a1.2,1.2 0 1 0 2.4,0a1.2,1.2 0 1 0 -2.4,0M489.2,78.2a1.2,1.2 0 1 0 2.4,0a1.2,1.2 0 1 0 -2.4,0M487.9,78.5a1.2,1.2 0 1 0 2.4,0a1.2,1.2 0 1 0 -2.4,0M484.6,78.7a1.2,1.2 0 1 0 2.4,0a1.2,1.2 0 1 0 -2.4,0M487.3,79.2a1.2,1.2 0 1 0 2.4,0a1.2,1.2 0 1 0 -2.4,0M500.9,81.2a1.2,1.2 0 1 0 2.4,0a1.2,1.2 0 1 0 -2.4,0M491.7,80.9a1.2,1.2 0 1 0 2.4,0a1.2,1.2 0 1 0 -2.4,0M495.2,81.7a1.2,1.2 0 1 0 2.4,0a1.2,1.2 0 1 0 -2.4,0M487.3,81.0a1.2,1.2 0 1 0 2.4,0a1.2,1.2 0 1 0 -2.4,0M500.1,83.9a1.2,1.2 0 1 0 2.4,0a1.2,1.2 0 1 0 -2.4,0M488.4,82.3a1.2,1.2 0 1 0 2.4,0a1.2,1.2 0 1 0 -2.4,0M497.7,84.4a1.2,1.2 0 1 0 2.4,0a1.2,1.2 0 1 0 -2.4,0M496.4,84.8a1.2,1.2 0 1 0 2.4,0a1.2,1.2 0 1 0 -2.4,0M488.6,83.7a1.2,1.2 0 1 0 2.4,0a1.2,1.2 0 1 0 -2.4,0M499.8,87.0a1.2,1.2 0 1 0 2.4,0a1.2,1.2 0 1 0 -2.4,0M492.2,85.6a1.2,1.2 0 1 0 2.4,0a1.2,1.2 0 1 0 -2.4,0M494.4,86.7a1.2,1.2 0 1 0 2.4,0a1.2,1.2 0 1 0 -2.4,0M491.8,86.5a1.2,1.2 0 1 0 2.4,0a1.2,1.2 0 1 0 -2.4,0M498.7,89.1a1.2,1.2 0 1 0 2.4,0a1.2,1.2 0 1 0 -2.4,0M484.5,85.2a1.2,1.2 0 1 0 2.4,0a1.2,1.2 0 1 0 -2.4,0M473.2,67.1a1.2,1.2 0 1 0 2.4,0a1.2,1.2 0 1 0 -2.4,0M478.6,65.2a1.2,1.2 0 1 0 2.4,0a1.2,1.2 0 1 0 -2.4,0M477.1,66.5a1.2,1.2 0 1 0 2.4,0a1.2,1.2 0 1 0 -2.4,0M469.0,70.4a1.2,1.2 0 1 0 2.4,0a1.2,1.2 0 1 0 -2.4,0M470.6,70.3a1.2,1.2 0 1 0 2.4,0a1.2,1.2 0 1 0 -2.4,0M476.8,68.2a1.2,1.2 0 1 0 2.4,0a1.2,1.2 0 1 0 -2.4,0M473.0,70.2a1.2,1.2 0 1 0 2.4,0a1.2,1.2 0 1 0 -2.4,0M474.0,70.5a1.2,1.2 0 1 0 2.4,0a1.2,1.2 0 1 0 -2.4,0M465.8,73.1a1.2,1.2 0 1 0 2.4,0a1.2,1.2 0 1 0 -2.4,0M477.4,70.6a1.2,1.2 0 1 0 2.4,0a1.2,1.2 0 1 0 -2.4,0M470.0,72.9a1.2,1.2 0 1 0 2.4,0a1.2,1.2 0 1 0 -2.4,0M478.5,71.6a1.2,1.2 0 1 0 2.4,0a1.2,1.2 0 1 0 -2.4,0M478.9,72.1a1.2,1.2 0 1 0 2.4,0a1.2,1.2 0 1 0 -2.4,0M480.9,72.2a1.2,1.2 0 1 0 2.4,0a1.2,1.2 0 1 0 -2.4,0M480.3,73.0a1.2,1.2 0 1 0 2.4,0a1.2,1.2 0 1 0 -2.4,0M481.0,73.5a1.2,1.2 0 1 0 2.4,0a1.2,1.2 0 1 0 -2.4,0M443.2,59.9a1.2,1.2 0 1 0 2.4,0a1.2,1.2 0 1 0 -2.4,0M442.5,58.6a1.2,1.2 0 1 0 2.4,0a1.2,1.2 0 1 0 -2.4,0M441.1,55.8a1.2,1.2 0 1 0 2.4,0a1.2,1.2 0 1 0 -2.4,0M434.0,45.2a1.2,1.2 0 1 0 2.4,0a1.2,1.2 0 1 0 -2.4,0M435.1,45.2a1.2,1.2 0 1 0 2.4,0a1.2,1.2 0 1 0 -2.4,0M442.2,55.5a1.2,1.2 0 1 0 2.4,0a1.2,1.2 0 1 0 -2.4,0M440.4,51.8a1.2,1.2 0 1 0 2.4,0a1.2,1.2 0 1 0 -2.4,0M445.8,59.6a1.2,1.2 0 1 0 2.4,0a1.2,1.2 0 1 0 -2.4,0M444.8,57.3a1.2,1.2 0 1 0 2.4,0a1.2,1.2 0 1 0 -2.4,0M440.2,48.6a1.2,1.2 0 1 0 2.4,0a1.2,1.2 0 1 0 -2.4,0M446.8,59.8a1.2,1.2 0 1 0 2.4,0a1.2,1.2 0 1 0 -2.4,0M440.6,47.2a1.2,1.2 0 1 0 2.4,0a1.2,1.2 0 1 0 -2.4,0M439.9,44.2a1.2,1.2 0 1 0 2.4,0a1.2,1.2 0 1 0 -2.4,0M447.5,59.0a1.2,1.2 0 1 0 2.4,0a1.2,1.2 0 1 0 -2.4,0M444.4,51.6a1.2,1.2 0 1 0 2.4,0a1.2,1.2 0 1 0 -2.4,0M442.6,46.5a1.2,1.2 0 1 0 2.4,0a1.2,1.2 0 1 0 -2.4,0M444.5,49.6a1.2,1.2 0 1 0 2.4,0a1.2,1.2 0 1 0 -2.4,0M442.2,42.5a1.2,1.2 0 1 0 2.4,0a1.2,1.2 0 1 0 -2.4,0M445.3,49.2a1.2,1.2 0 1 0 2.4,0a1.2,1.2 0 1 0 -2.4,0M449.3,58.9a1.2,1.2 0 1 0 2.4,0a1.2,1.2 0 1 0 -2.4,0M443.7,41.2a1.2,1.2 0 1 0 2.4,0a1.2,1.2 0 1 0 -2.4,0M447.7,51.8a1.2,1.2 0 1 0 2.4,0a1.2,1.2 0 1 0 -2.4,0M449.5,55.7a1.2,1.2 0 1 0 2.4,0a1.2,1.2 0 1 0 -2.4,0M446.5,43.8a1.2,1.2 0 1 0 2.4,0a1.2,1.2 0 1 0 -2.4,0M450.1,55.6a1.2,1.2 0 1 0 2.4,0a1.2,1.2 0 1 0 -2.4,0M450.8,57.0a1.2,1.2 0 1 0 2.4,0a1.2,1.2 0 1 0 -2.4,0M447.9,43.7a1.2,1.2 0 1 0 2.4,0a1.2,1.2 0 1 0 -2.4,0M448.0,41.2a1.2,1.2 0 1 0 2.4,0a1.2,1.2 0 1 0 -2.4,0M449.3,44.8a1.2,1.2 0 1 0 2.4,0a1.2,1.2 0 1 0 -2.4,0M449.8,44.8a1.2,1.2 0 1 0 2.4,0a1.2,1.2 0 1 0 -2.4,0M452.2,56.0a1.2,1.2 0 1 0 2.4,0a1.2,1.2 0 1 0 -2.4,0M451.8,51.6a1.2,1.2 0 1 0 2.4,0a1.2,1.2 0 1 0 -2.4,0M452.3,50.8a1.2,1.2 0 1 0 2.4,0a1.2,1.2 0 1 0 -2.4,0M453.5,58.4a1.2,1.2 0 1 0 2.4,0a1.2,1.2 0 1 0 -2.4,0M452.0,39.4a1.2,1.2 0 1 0 2.4,0a1.2,1.2 0 1 0 -2.4,0M454.1,57.6a1.2,1.2 0 1 0 2.4,0a1.2,1.2 0 1 0 -2.4,0M454.1,55.1a1.2,1.2 0 1 0 2.4,0a1.2,1.2 0 1 0 -2.4,0M453.8,41.0a1.2,1.2 0 1 0 2.4,0a1.2,1.2 0 1 0 -2.4,0M454.4,38.9a1.2,1.2 0 1 0 2.4,0a1.2,1.2 0 1 0 -2.4,0M455.0,43.5a1.2,1.2 0 1 0 2.4,0a1.2,1.2 0 1 0 -2.4,0M455.4,48.4a1.2,1.2 0 1 0 2.4,0a1.2,1.2 0 1 0 -2.4,0M455.8,58.1a1.2,1.2 0 1 0 2.4,0a1.2,1.2 0 1 0 -2.4,0M456.6,45.7a1.2,1.2 0 1 0 2.4,0a1.2,1.2 0 1 0 -2.4,0M456.9,49.6a1.2,1.2 0 1 0 2.4,0a1.2,1.2 0 1 0 -2.4,0M457.0,52.0a1.2,1.2 0 1 0 2.4,0a1.2,1.2 0 1 0 -2.4,0M457.7,46.9a1.2,1.2 0 1 0 2.4,0a1.2,1.2 0 1 0 -2.4,0M458.1,49.5a1.2,1.2 0 1 0 2.4,0a1.2,1.2 0 1 0 -2.4,0M458.4,51.7a1.2,1.2 0 1 0 2.4,0a1.2,1.2 0 1 0 -2.4,0M459.3,46.8a1.2,1.2 0 1 0 2.4,0a1.2,1.2 0 1 0 -2.4,0M458.2,58.1a1.2,1.2 0 1 0 2.4,0a1.2,1.2 0 1 0 -2.4,0M461.4,39.6a1.2,1.2 0 1 0 2.4,0a1.2,1.2 0 1 0 -2.4,0M462.1,38.7a1.2,1.2 0 1 0 2.4,0a1.2,1.2 0 1 0 -2.4,0M459.5,56.1a1.2,1.2 0 1 0 2.4,0a1.2,1.2 0 1 0 -2.4,0M459.3,58.1a1.2,1.2 0 1 0 2.4,0a1.2,1.2 0 1 0 -2.4,0M460.2,55.8a1.2,1.2 0 1 0 2.4,0a1.2,1.2 0 1 0 -2.4,0M462.9,46.5a1.2,1.2 0 1 0 2.4,0a1.2,1.2 0 1 0 -2.4,0M464.8,40.9a1.2,1.2 0 1 0 2.4,0a1.2,1.2 0 1 0 -2.4,0M460.3,59.2a1.2,1.2 0 1 0 2.4,0a1.2,1.2 0 1 0 -2.4,0M460.6,59.4a1.2,1.2 0 1 0 2.4,0a1.2,1.2 0 1 0 -2.4,0M464.5,48.3a1.2,1.2 0 1 0 2.4,0a1.2,1.2 0 1 0 -2.4,0M461.7,57.6a1.2,1.2 0 1 0 2.4,0a1.2,1.2 0 1 0 -2.4,0M461.5,59.4a1.2,1.2 0 1 0 2.4,0a1.2,1.2 0 1 0 -2.4,0M461.9,58.9a1.2,1.2 0 1 0 2.4,0a1.2,1.2 0 1 0 -2.4,0M463.3,56.2a1.2,1.2 0 1 0 2.4,0a1.2,1.2 0 1 0 -2.4,0M463.8,56.2a1.2,1.2 0 1 0 2.4,0a1.2,1.2 0 1 0 -2.4,0M465.7,52.2a1.2,1.2 0 1 0 2.4,0a1.2,1.2 0 1 0 -2.4,0M465.1,55.0a1.2,1.2 0 1 0 2.4,0a1.2,1.2 0 1 0 -2.4,0M466.2,53.3a1.2,1.2 0 1 0 2.4,0a1.2,1.2 0 1 0 -2.4,0M471.5,43.4a1.2,1.2 0 1 0 2.4,0a1.2,1.2 0 1 0 -2.4,0M465.6,56.5a1.2,1.2 0 1 0 2.4,0a1.2,1.2 0 1 0 -2.4,0M467.9,52.6a1.2,1.2 0 1 0 2.4,0a1.2,1.2 0 1 0 -2.4,0M464.2,60.4a1.2,1.2 0 1 0 2.4,0a1.2,1.2 0 1 0 -2.4,0M464.8,59.8a1.2,1.2 0 1 0 2.4,0a1.2,1.2 0 1 0 -2.4,0M464.3,61.3a1.2,1.2 0 1 0 2.4,0a1.2,1.2 0 1 0 -2.4,0M468.6,54.9a1.2,1.2 0 1 0 2.4,0a1.2,1.2 0 1 0 -2.4,0" fill="#9430e4"/>
<circle cx="456.8" cy="76.1" r="58.0" fill="none" stroke="#ff0000" stroke-width="5.0"/>
<path d="M432.3,23.5A58.0,58.0 0 0 0 428.2,25.6" fill="none" stroke="#0000ff" stroke-width="5.0"/>
<path d="M437.5,21.4A58.0,58.0 0 0 0 435.6,22.1" fill="none" stroke="#0000ff" stroke-width="5.0"/>
<path d="M441.2,20.2A58.0,58.0 0 0 0 439.6,20.7" fill="none" stroke="#0000ff" stroke-width="5.0"/>
<path d="M418.2,32.8A58.0,58.0 0 0 0 416.7,34.2" fill="none" stroke="#a04030" stroke-width="5.0"/>
<path d="M415.1,35.7A58.0,58.0 0 0 0 413.8,37.2" fill="none" stroke="#0000ff" stroke-width="5.0"/>
<path d="M402.7,55.3A58.0,58.0 0 0 0 401.6,58.2" fill="none" stroke="#0000ff" stroke-width="5.0"/>
<path d="M511.3,56.3A58.0,58.0 0 0 0 495.8,33.2" fill="none" stroke="#0000ff" stroke-width="5.0"/>
<path d="M512.6,60.1A58.0,58.0 0 0 0 512.0,58.2" fill="none" stroke="#0000ff" stroke-width="5.0"/>
<path d="M399.9,87.2A58.0,58.0 0 0 0 400.2,88.7" fill="none" stroke="#0000ff" stroke-width="5.0"/>
<path d="M400.9,91.6A58.0,58.0 0 0 0 405.6,103.3" fill="none" stroke="#0000ff" stroke-width="5.0"/>
<path d="M406.6,105.1A58.0,58.0 0 0 0 408.2,107.7" fill="none" stroke="#0000ff" stroke-width="5.0"/>
<path d="M409.3,109.4A58.0,58.0 0 0 0 410.8,111.4" fill="none" stroke="#0000ff" stroke-width="5.0"/>
<path d="M412.0,113.0A58.0,58.0 0 0 0 413.0,114.2" fill="none" stroke="#0000ff" stroke-width="5.0"/>
<path d="M429.8,127.5A58.0,58.0 0 0 0 431.2,128.1" fill="none" stroke="#0000ff" stroke-width="5.0"/>
<path d="M432.3,128.7A58.0,58.0 0 0 0 433.5,129.2" fill="none" stroke="#0000ff" stroke-width="5.0"/>
<path d="M451.2,133.8A58.0,58.0 0 0 0 452.8,134.0" fill="none" stroke="#0000ff" stroke-width="5.0"/>
<path d="M454.8,134.1A58.0,58.0 0 0 0 471.5,132.2" fill="none" stroke="#0000ff" stroke-width="5.0"/>
<path d="M507.9,103.5A58.0,58.0 0 0 0 511.5,95.5" fill="none" stroke="#0000ff" stroke-width="5.0"/>
<path d="M499.2,115.7A58.0,58.0 0 0 0 501.2,113.4" fill="none" stroke="#0000ff" stroke-width="5.0"/>
<path d="M514.8,74.9A58.0,58.0 0 0 0 514.8,74.1" fill="none" stroke="#ffffff" stroke-width="5.0"/>
<path d="M514.7,72.1A58.0,58.0 0 0 0 514.6,71.2" fill="none" stroke="#ffffff" stroke-width="5.0"/>
</g>
<g>
<path d="M115.7,231.4A53,53 0 1 0 9.7,231.4A53,53 0 1 0 115.7,231.4Z M101.7,231.4 L101.7,230.0 L101.7,228.7 L101.6,227.3 L101.5,225.9 L101.3,224.6 L101.1,223.2 L100.8,221.9 L100.5,220.6 L100.2,219.2 L99.8,217.9 L99.3,216.6 L98.8,215.3 L98.3,214.1 L97.7,212.8 L97.1,211.6 L96.4,210.4 L95.7,209.2 L94.9,208.0 L94.1,206.9 L93.3,205.8 L92.4,204.7 L91.5,203.6 L90.5,202.6 L89.5,201.6 L88.5,200.6 L87.5,199.7 L86.4,198.8 L85.3,197.9 L84.1,197.1 L83.0,196.3 L81.7,195.6 L80.5,194.9 L79.3,194.2 L78.0,193.6 L76.7,193.0 L75.3,192.5 L74.0,192.0 L72.6,191.6 L71.2,191.2 L69.8,190.9 L68.4,190.6 L67.0,190.3 L65.6,190.1 L64.1,190.0 L62.7,189.9 L61.3,190.0 L59.8,190.1 L58.4,190.3 L57.0,190.5 L55.5,190.8 L54.1,191.1 L52.8,191.5 L51.4,191.9 L50.0,192.4 L48.7,192.9 L47.4,193.5 L46.1,194.1 L44.8,194.7 L43.6,195.4 L42.4,196.2 L41.2,197.0 L40.0,197.8 L38.9,198.6 L37.8,199.5 L36.7,200.5 L35.7,201.4 L34.7,202.4 L33.8,203.5 L32.9,204.5 L32.0,205.6 L31.1,206.7 L30.3,207.9 L29.6,209.1 L28.9,210.3 L28.2,211.5 L27.6,212.7 L27.0,214.0 L26.5,215.3 L26.0,216.6 L25.5,217.9 L25.1,219.2 L24.8,220.5 L24.5,221.9 L24.2,223.2 L24.0,224.6 L23.9,225.9 L23.7,227.3 L23.7,228.7 L23.7,230.0 L23.7,231.4 L23.7,232.8 L23.7,234.1 L23.7,235.5 L23.9,236.9 L24.0,238.2 L24.2,239.6 L24.5,240.9 L24.8,242.3 L25.1,243.6 L25.5,244.9 L26.0,246.2 L26.5,247.5 L27.0,248.8 L27.6,250.1 L28.2,251.3 L28.9,252.5 L29.6,253.7 L30.3,254.9 L31.1,256.1 L32.0,257.2 L32.9,258.3 L33.8,259.3 L34.7,260.4 L35.7,261.4 L36.7,262.3 L37.8,263.3 L38.9,264.2 L40.0,265.0 L41.2,265.8 L42.4,266.6 L43.6,267.4 L44.8,268.1 L46.1,268.7 L47.4,269.3 L48.7,269.9 L50.0,270.4 L51.4,270.9 L52.8,271.3 L54.1,271.7 L55.5,272.0 L57.0,272.3 L58.4,272.5 L59.8,272.7 L61.3,272.8 L62.7,272.9 L64.1,272.9 L65.6,272.8 L67.0,272.6 L68.5,272.5 L69.9,272.2 L71.3,271.9 L72.7,271.6 L74.1,271.2 L75.5,270.8 L76.9,270.3 L78.2,269.8 L79.5,269.2 L80.8,268.6 L82.1,267.9 L83.4,267.2 L84.6,266.4 L85.8,265.6 L87.0,264.8 L88.1,263.9 L89.2,263.0 L90.3,262.1 L91.4,261.1 L92.4,260.1 L93.3,259.0 L94.3,257.9 L95.2,256.8 L96.0,255.6 L96.8,254.4 L97.6,253.2 L98.4,252.0 L99.0,250.7 L99.7,249.4 L100.3,248.1 L100.8,246.8 L101.3,245.5 L101.8,244.1 L102.2,242.7 L102.6,241.3 L102.9,239.9 L103.1,238.5 L103.3,237.1 L103.5,235.7 L103.6,234.3 L103.7,232.8 L103.7,231.4Z" fill="#f0f0f0" fill-rule="evenodd"/>
<path d="M92.7,229.8A30.0,30.0 0 1 0 46.2,256.4M31.8,230.2A30.9,30.9 0 0 0 75.9,259.3M56.0,264.5A33.8,33.8 0 0 0 92.6,247.2M90.5,252.7A35.0,35.0 0 0 0 96.0,242.4M96.0,245.2A36.0,36.0 0 0 0 97.6,240.2M89.2,255.7A36.0,36.0 0 0 0 93.1,250.7M43.6,260.2A34.5,34.5 0 0 0 69.1,265.3M62.3,266.5A35.1,35.1 0 0 0 75.8,264.0M71.3,266.4A36.0,36.0 0 0 0 80.8,262.5M37.2,255.2A34.9,34.9 0 0 0 50.6,264.1M46.5,262.8A35.3,35.3 0 0 0 54.6,265.8M33.8,220.5A30.9,30.9 0 0 0 33.1,240.0M29.6,235.7A33.4,33.4 0 0 0 32.4,245.6M31.1,243.5A33.8,33.8 0 0 0 33.2,247.9M34.9,216.0A31.8,31.8 0 0 0 31.6,224.6M31.6,221.3A32.7,32.7 0 0 0 30.2,227.7M30.2,225.6A33.0,33.0 0 0 0 29.7,229.7M88.7,214.3A31.1,31.1 0 0 0 56.8,200.8M67.8,199.9A31.9,31.9 0 0 0 46.3,204.0M52.3,200.2A32.9,32.9 0 0 0 40.2,207.4M42.9,204.6A33.3,33.3 0 0 0 37.3,210.0M72.9,200.5A32.6,32.6 0 0 0 62.7,198.8M65.4,198.0A33.5,33.5 0 0 0 60.1,198.0M75.2,200.2A33.6,33.6 0 0 0 71.2,198.9M93.5,220.4A32.7,32.7 0 0 0 85.1,207.5M88.1,210.1A33.1,33.1 0 0 0 82.2,204.6M85.3,206.4A33.7,33.7 0 0 0 79.6,202.2M95.0,224.4A33.1,33.1 0 0 0 92.1,216.3M93.9,218.3A33.9,33.9 0 0 0 91.6,213.7M74.4,203.8L74.8,202.7M46.2,256.4L45.7,257.2M75.9,259.3L77.2,262.0M56.0,264.5L55.8,265.2M92.6,247.2L93.7,247.8M90.5,252.7L91.3,253.3M96.0,242.4L96.9,242.7M96.0,245.2L101.4,247.4M97.6,240.2L103.3,241.6M89.2,255.7L93.1,259.3M93.1,250.7L98.4,254.0M43.6,260.2L43.4,260.5M69.1,265.3L69.2,265.9M62.3,266.5L62.2,272.9M75.8,264.0L76.2,264.8M71.3,266.4L72.6,271.7M80.8,262.5L83.5,267.2M37.2,255.2L33.8,258.4M50.6,264.1L50.5,264.5M46.5,262.8L44.3,267.1M54.6,265.8L53.2,271.5M33.8,220.5L32.9,220.2M33.1,240.0L30.6,240.7M29.6,235.7L23.5,236.5M32.4,245.6L32.1,245.7M31.1,243.5L25.2,245.8M33.2,247.9L28.6,250.5M34.9,216.0L28.4,212.4M31.6,224.6L30.7,224.4M31.6,221.3L25.9,219.4M30.2,227.7L29.9,227.6M30.2,225.6L24.4,224.5M29.7,229.7L23.3,229.4M88.7,214.3L90.1,213.4M56.8,200.8L56.7,200.1M67.8,199.9L67.9,199.3M46.3,204.0L45.8,203.2M52.3,200.2L50.4,194.6M40.2,207.4L39.9,207.1M42.9,204.6L39.7,200.2M37.3,210.0L33.1,206.5M72.9,200.5L73.2,199.5M62.7,198.8L62.7,197.9M65.4,198.0L66.1,188.7M60.1,198.0L59.7,192.8M75.2,200.2L78.5,191.8M71.2,198.9L73.5,190.3M93.5,220.4L93.8,220.3M85.1,207.5L85.3,207.2M88.1,210.1L92.3,206.6M82.2,204.6L82.6,204.1M85.3,206.4L90.3,200.8M79.6,202.2L83.4,195.8M95.0,224.4L100.9,223.1M92.1,216.3L92.8,215.9M93.9,218.3L98.8,216.3M91.6,213.7L96.3,210.7M62.7,231.4L92.7,229.8" stroke="#222" stroke-width="0.6" fill="none"/>
<path d="M102.9,243.2A41.9,41.9 0 0 0 103.7,240.0M102.9,243.2L104.0,243.6M103.7,240.0L103.9,240.1M103.8,240.9A42.1,42.1 0 0 0 104.1,239.3M103.8,240.9L104.4,241.0M103.8,244.3A43.1,43.1 0 0 0 104.2,242.9M103.8,244.3L104.1,244.4M104.2,242.9L105.0,243.1M100.5,249.5A41.9,41.9 0 0 0 102.2,245.4M100.5,249.5L100.9,249.7M102.2,245.4L103.3,245.8M103.0,246.7A43.1,43.1 0 0 0 103.6,244.9M103.0,246.7L103.8,247.0M103.6,244.9L104.0,245.0M100.5,250.6A42.4,42.4 0 0 0 101.4,248.7M100.5,250.6L101.1,251.0M101.4,248.7L101.7,248.8M101.4,249.5A42.7,42.7 0 0 0 102.0,248.1M101.4,249.5L101.7,249.7M102.0,248.1L103.1,248.6M97.6,255.3A42.3,42.3 0 0 0 99.2,252.8M97.6,255.3L98.5,255.9M99.2,252.8L99.6,253.0M99.2,253.8A42.8,42.8 0 0 0 100.1,252.3M99.2,253.8L99.5,254.0M100.1,252.3L100.6,252.6M99.0,254.7A43.1,43.1 0 0 0 99.9,253.2M99.0,254.7L99.7,255.2M91.2,261.2A41.2,41.2 0 0 0 94.8,257.2M91.2,261.2L91.5,261.5M94.8,257.2L95.4,257.7M94.6,258.7A42.0,42.0 0 0 0 96.2,256.8M94.6,258.7L95.0,259.0M96.2,256.8L97.0,257.4M96.5,258.1A43.1,43.1 0 0 0 97.6,256.7M96.5,258.1L96.8,258.3M97.6,256.7L97.9,257.0M90.6,262.3A41.6,41.6 0 0 0 92.4,260.6M90.6,262.3L92.0,263.9M92.4,260.6L92.7,260.9M92.0,261.6A42.1,42.1 0 0 0 93.4,260.2M92.0,261.6L93.2,262.9M93.4,260.2L93.6,260.3M93.1,260.9A42.3,42.3 0 0 0 94.1,259.8M93.1,260.9L94.1,261.8M94.1,259.8L94.3,260.0M80.3,268.8A41.3,41.3 0 0 0 86.5,265.2M80.3,268.8L80.4,269.1M86.5,265.2L86.7,265.5M85.4,266.4A41.7,41.7 0 0 0 88.0,264.6M85.4,266.4L85.7,266.8M88.0,264.6L88.6,265.5M87.8,266.1A42.8,42.8 0 0 0 89.4,264.9M87.8,266.1L88.0,266.3M89.4,264.9L89.9,265.4M89.4,265.8A43.6,43.6 0 0 0 90.4,265.0M89.4,265.8L89.6,266.2M90.4,265.0L90.6,265.3M85.0,267.2A42.2,42.2 0 0 0 86.4,266.3M85.0,267.2L85.2,267.5M86.4,266.3L87.2,267.4M79.1,269.7A41.7,41.7 0 0 0 81.7,268.5M79.1,269.7L79.4,270.4M81.7,268.5L81.8,268.8M80.7,269.4A42.0,42.0 0 0 0 82.9,268.3M80.7,269.4L81.4,270.7M82.9,268.3L83.0,268.5M82.3,268.9A42.3,42.3 0 0 0 83.7,268.1M82.3,268.9L82.7,269.7M83.7,268.1L84.0,268.5M78.8,270.6A42.4,42.4 0 0 0 80.0,270.1M78.8,270.6L79.1,271.2M80.0,270.1L80.3,270.8M69.9,272.3A41.5,41.5 0 0 0 75.2,271.0M75.2,271.0L75.4,271.7M74.2,272.1A42.3,42.3 0 0 0 76.6,271.3M74.2,272.1L74.3,272.6M76.6,271.3L77.0,272.5M76.7,272.6A43.5,43.5 0 0 0 77.3,272.4M76.7,272.6L76.8,273.0M77.3,272.4L77.4,272.8M68.7,272.5A41.5,41.5 0 0 0 71.1,272.0M68.7,272.5L69.0,274.6M71.1,272.0L71.2,272.1M70.3,272.3A41.6,41.6 0 0 0 72.1,272.0M70.3,272.3L70.5,273.5M72.1,272.0L72.2,272.4M71.3,272.6A42.1,42.1 0 0 0 73.0,272.2M71.3,272.6L71.4,273.1M73.0,272.2L73.3,273.4M59.8,272.8A41.5,41.5 0 0 0 64.7,272.9M59.8,272.8L59.8,273.5M64.7,272.9L64.7,273.2M62.8,273.3A41.9,41.9 0 0 0 66.6,273.1M62.8,273.3L62.8,273.7M66.6,273.1L66.6,273.4M65.5,273.5A42.2,42.2 0 0 0 67.7,273.3M65.5,273.5L65.5,274.1M67.7,273.3L67.9,275.0M61.8,273.7A42.3,42.3 0 0 0 63.7,273.7M61.8,273.7L61.8,274.3M63.7,273.7L63.7,274.1M63.3,274.1A42.7,42.7 0 0 0 64.2,274.1M63.3,274.1L63.3,274.5M64.2,274.1L64.2,274.5M59.1,273.5A42.2,42.2 0 0 0 60.5,273.6M60.5,273.6L60.4,274.0M51.9,271.1A41.2,41.2 0 0 0 54.6,271.8M51.9,271.1L51.5,272.6M54.6,271.8L54.5,272.2M53.2,271.9A41.6,41.6 0 0 0 55.7,272.4M53.2,271.9L52.8,273.7M55.7,272.4L55.6,273.0M54.7,272.8A42.2,42.2 0 0 0 56.6,273.2M54.7,272.8L54.5,274.0M56.6,273.2L56.5,273.5M55.5,273.4A42.6,42.6 0 0 0 57.6,273.7M55.5,273.4L55.4,274.4M57.6,273.7L57.5,274.1M40.7,265.0A40.2,40.2 0 0 0 48.2,268.8M48.2,268.8L47.7,270.1M45.8,269.3A41.5,41.5 0 0 0 49.6,270.8M45.8,269.3L45.6,269.6M49.6,270.8L49.3,271.8M48.5,271.5A42.5,42.5 0 0 0 50.0,272.0M48.5,271.5L48.4,271.7M50.0,272.0L49.9,272.5M44.3,269.0A41.8,41.8 0 0 0 47.0,270.1M44.3,269.0L44.2,269.2M47.0,270.1L46.8,270.6M46.0,270.2A42.3,42.3 0 0 0 47.6,270.9M46.0,270.2L45.5,271.3M47.6,270.9L47.5,271.3M43.8,268.9A42.0,42.0 0 0 0 44.7,269.4M43.8,268.9L43.6,269.4M44.7,269.4L44.0,270.7M39.6,264.3A40.2,40.2 0 0 0 41.8,265.7M39.6,264.3L38.9,265.3M41.8,265.7L41.7,265.7M40.8,265.2A40.3,40.3 0 0 0 42.6,266.3M40.8,265.2L39.8,266.8M42.6,266.3L42.4,266.7M41.7,266.4A40.8,40.8 0 0 0 43.0,267.1M41.7,266.4L41.5,266.7M43.0,267.1L41.5,269.8M31.7,256.0A39.6,39.6 0 0 0 36.1,260.7M31.7,256.0L31.5,256.2M36.1,260.7L36.0,260.8M34.5,259.4A39.7,39.7 0 0 0 37.5,262.1M34.5,259.4L33.8,260.0M37.5,262.1L37.4,262.3M36.5,261.5A39.9,39.9 0 0 0 38.4,263.0M36.5,261.5L35.8,262.3M38.4,263.0L38.2,263.2M37.8,262.8A40.1,40.1 0 0 0 38.7,263.5M37.8,262.8L37.5,263.2M35.3,261.9A41.0,41.0 0 0 0 36.2,262.7M35.3,261.9L35.0,262.3M36.2,262.7L35.8,263.2M33.4,259.6A40.6,40.6 0 0 0 34.3,260.5M33.4,259.6L33.2,259.7M34.3,260.5L33.6,261.2M30.6,255.0A39.8,39.8 0 0 0 32.5,257.4M30.6,255.0L29.2,256.0M32.5,257.4L32.1,257.7M31.4,256.9A40.4,40.4 0 0 0 32.8,258.5M31.4,256.9L31.2,257.1M32.8,258.5L31.3,259.9M30.7,256.5A40.6,40.6 0 0 0 31.7,257.7M30.7,256.5L30.3,256.8M31.7,257.7L30.4,258.8M27.7,248.7A39.1,39.1 0 0 0 29.6,252.1M27.7,248.7L27.0,249.1M29.6,252.1L29.1,252.4M28.6,251.6A39.6,39.6 0 0 0 29.6,253.3M28.6,251.6L26.2,253.0M29.6,253.3L29.3,253.5M29.0,253.1A40.1,40.1 0 0 0 29.5,254.0M29.0,253.1L28.5,253.4M29.5,254.0L28.7,254.5M26.6,248.2A39.8,39.8 0 0 0 27.4,249.9M26.6,248.2L25.7,248.6M27.4,249.9L26.9,250.2M26.7,249.7A40.4,40.4 0 0 0 27.2,250.7M26.7,249.7L26.3,249.8M27.2,250.7L25.8,251.4M24.9,245.0A40.1,40.1 0 0 0 25.5,246.6M24.9,245.0L24.7,245.1M25.5,246.6L23.7,247.3M24.4,244.4A40.4,40.4 0 0 0 24.9,245.8M24.4,244.4L24.2,244.5M24.9,245.8L23.4,246.4M23.2,233.7A39.5,39.5 0 0 0 23.9,239.2M23.2,233.7L21.9,233.8M23.9,239.2L23.5,239.3M23.1,237.4A40.0,40.0 0 0 0 23.9,241.2M23.1,237.4L22.6,237.5M23.9,241.2L23.2,241.4M22.9,240.0A40.7,40.7 0 0 0 23.6,242.8M22.9,240.0L22.3,240.1M23.6,242.8L23.0,242.9M22.9,242.5A41.3,41.3 0 0 0 23.1,243.3M22.9,242.5L22.7,242.6M23.1,243.3L22.2,243.6M22.3,239.7A41.3,41.3 0 0 0 22.4,240.6M22.3,239.7L21.8,239.8M22.5,236.9A40.6,40.6 0 0 0 22.7,238.1M22.5,236.9L20.7,237.1M22.7,238.1L22.4,238.2M21.9,233.0A40.8,40.8 0 0 0 22.0,234.6M21.9,233.0L20.8,233.0M22.0,234.6L21.7,234.6M21.6,233.9A41.2,41.2 0 0 0 21.7,235.3M21.6,233.9L21.0,234.0M21.7,235.3L21.2,235.3M23.4,228.0A39.5,39.5 0 0 0 23.2,230.7M23.4,228.0L23.0,228.0M23.2,230.7L21.2,230.7M21.2,230.0A41.5,41.5 0 0 0 21.2,231.5M21.2,230.0L20.7,229.9M21.2,231.5L20.4,231.5M23.0,227.4A39.9,39.9 0 0 0 22.9,228.5M23.0,227.4L22.6,227.4M22.9,228.5L20.9,228.3M24.5,223.7A39.0,39.0 0 0 0 24.2,225.4M24.2,225.4L23.7,225.3M23.8,224.9A39.5,39.5 0 0 0 23.6,225.8M23.8,224.9L23.0,224.7M23.6,225.8L23.1,225.7M26.7,217.2A38.7,38.7 0 0 0 25.2,221.7M26.7,217.2L26.5,217.2M25.2,221.7L24.3,221.4M24.5,220.7A39.7,39.7 0 0 0 24.1,222.2M24.5,220.7L24.0,220.5M24.1,222.2L23.1,222.0M27.0,215.9A38.9,38.9 0 0 0 26.0,218.4M27.0,215.9L24.8,214.9M26.0,218.4L25.8,218.4M26.1,217.5A39.2,39.2 0 0 0 25.5,219.2M26.1,217.5L24.5,216.9M25.5,219.2L25.1,219.1M25.3,218.6A39.5,39.5 0 0 0 25.0,219.6M25.3,218.6L24.8,218.5M25.0,219.6L24.5,219.5M29.0,211.3A39.2,39.2 0 0 0 27.8,213.5M29.0,211.3L27.8,210.5M27.8,213.5L27.6,213.3M28.1,212.3A39.5,39.5 0 0 0 27.0,214.4M28.1,212.3L27.1,211.7M27.0,214.4L26.6,214.2M27.0,213.4A40.0,40.0 0 0 0 26.3,215.0M27.0,213.4L26.6,213.2M26.3,215.0L25.6,214.7M34.1,205.4A38.7,38.7 0 0 0 32.2,207.6M34.1,205.4L33.0,204.3M32.2,207.6L32.0,207.4M33.0,206.2A39.0,39.0 0 0 0 31.0,208.7M33.0,206.2L31.7,205.1M31.0,208.7L30.8,208.5M31.6,207.4A39.3,39.3 0 0 0 30.0,209.6M31.6,207.4L30.0,206.2M30.0,209.6L29.6,209.4M30.2,208.5A39.7,39.7 0 0 0 29.1,210.3M30.2,208.5L30.0,208.3M29.1,210.3L27.6,209.4M30.3,207.8A40.0,40.0 0 0 0 29.6,208.8M30.3,207.8L30.0,207.6M29.6,208.8L28.6,208.2M33.4,203.8A40.2,40.2 0 0 0 32.5,204.8M33.4,203.8L32.9,203.3M32.5,204.8L32.3,204.6M41.9,198.7A38.7,38.7 0 0 0 37.6,201.9M37.6,201.9L37.4,201.6M38.3,200.9A39.1,39.1 0 0 0 36.6,202.4M38.3,200.9L37.5,199.9M36.6,202.4L36.4,202.2M37.1,201.6A39.3,39.3 0 0 0 35.7,202.8M37.1,201.6L36.1,200.3M35.7,202.8L35.5,202.6M36.1,202.1A39.6,39.6 0 0 0 34.9,203.2M36.1,202.1L35.8,201.8M34.9,203.2L34.4,202.7M43.0,198.0A38.7,38.7 0 0 0 40.8,199.5M43.0,198.0L42.6,197.3M40.8,199.5L40.6,199.2M41.4,198.6A39.1,39.1 0 0 0 39.7,199.8M41.4,198.6L40.4,196.9M39.7,199.8L39.4,199.4M40.0,198.9A39.6,39.6 0 0 0 38.8,199.8M40.0,198.9L39.1,197.6M38.8,199.8L38.5,199.5M43.3,196.9A39.6,39.6 0 0 0 41.9,197.7M43.3,196.9L43.0,196.4M41.9,197.7L41.0,196.3M52.6,194.0A38.8,38.8 0 0 0 48.2,195.4M52.6,194.0L52.2,192.6M48.2,195.4L48.1,195.1M49.9,194.4A39.1,39.1 0 0 0 46.2,195.9M49.9,194.4L49.5,193.0M46.2,195.9L46.1,195.6M47.2,195.1A39.4,39.4 0 0 0 45.0,196.2M47.2,195.1L47.0,194.7M45.0,196.2L44.7,195.5M45.2,195.2A40.2,40.2 0 0 0 44.1,195.8M45.2,195.2L44.7,194.2M44.1,195.8L43.9,195.4M47.6,194.4A40.0,40.0 0 0 0 46.4,194.9M47.6,194.4L47.4,193.9M46.4,194.9L45.9,193.7M50.2,192.8A40.6,40.6 0 0 0 48.8,193.3M50.2,192.8L50.0,192.3M48.8,193.3L48.6,192.8M52.7,192.4A40.2,40.2 0 0 0 51.7,192.7M52.7,192.4L52.6,191.9M51.7,192.7L51.4,191.5M62.6,192.7A38.7,38.7 0 0 0 56.8,193.1M62.6,192.7L62.6,191.9M56.8,193.1L56.7,192.7M58.4,192.5A39.1,39.1 0 0 0 55.1,193.0M58.4,192.5L58.3,191.8M55.1,193.0L55.0,192.6M55.9,192.4A39.6,39.6 0 0 0 54.1,192.8M55.9,192.4L55.8,192.0M54.1,192.8L53.7,190.9M59.4,191.7A39.9,39.9 0 0 0 57.2,191.9M59.4,191.7L59.3,191.3M57.2,191.9L57.1,191.1M57.7,191.0A40.7,40.7 0 0 0 56.5,191.2M57.7,191.0L57.6,190.2M56.5,191.2L56.5,191.0M63.5,191.9A39.5,39.5 0 0 0 61.8,191.9M63.5,191.9L63.6,186.1M61.8,191.9L61.7,191.5M62.4,191.5A39.9,39.9 0 0 0 61.1,191.5M62.4,191.5L62.4,191.0M61.1,191.5L61.1,191.2M66.9,188.8A42.8,42.8 0 0 0 65.2,188.7M66.9,188.8L67.0,188.5M65.2,188.7L65.3,187.4M65.9,187.4A44.1,44.1 0 0 0 64.8,187.4M65.9,187.4L66.2,182.4M64.8,187.4L64.8,186.8M64.8,186.8A44.6,44.6 0 0 0 64.7,186.8M64.8,186.8L64.9,186.3M64.7,186.8L64.9,182.3M67.5,188.6A43.1,43.1 0 0 0 66.4,188.5M67.5,188.6L67.7,187.6M66.4,188.5L66.4,187.9M66.8,188.0A43.6,43.6 0 0 0 66.1,187.9M66.8,188.0L67.4,181.5M66.1,187.9L66.1,187.6M75.0,190.7A42.5,42.5 0 0 0 72.0,189.9M75.0,190.7L75.4,189.3M72.0,189.9L72.1,189.5M73.4,189.8A43.0,43.0 0 0 0 70.8,189.2M73.4,189.8L73.8,188.2M70.8,189.2L70.8,188.7M71.8,188.9A43.5,43.5 0 0 0 69.9,188.5M71.8,188.9L71.9,188.3M69.9,188.5L69.9,188.2M70.9,188.4A43.8,43.8 0 0 0 68.9,188.1M70.9,188.4L71.1,187.3M68.9,188.1L69.0,187.9M75.8,189.4A44.0,44.0 0 0 0 75.0,189.2M75.8,189.4L75.9,189.1M79.6,192.2A42.7,42.7 0 0 0 77.4,191.4M79.6,192.2L79.9,191.5M77.4,191.4L77.6,190.9M78.2,191.2A43.1,43.1 0 0 0 76.9,190.7M78.2,191.2L78.4,190.7M76.9,190.7L77.0,190.5M85.2,196.9A41.2,41.2 0 0 0 81.5,194.7M85.2,196.9L85.4,196.6M81.5,194.7L82.0,193.6M82.9,194.0A42.5,42.5 0 0 0 81.2,193.1M82.9,194.0L83.0,193.8M81.2,193.1L81.7,192.2M83.7,194.1A42.8,42.8 0 0 0 82.4,193.4M83.7,194.1L83.8,193.9M82.4,193.4L82.5,193.1M86.2,197.1A41.6,41.6 0 0 0 84.7,196.1M86.2,197.1L86.8,196.1M84.7,196.1L85.0,195.6M85.7,196.1A42.1,42.1 0 0 0 84.3,195.2M85.7,196.1L86.2,195.4M91.6,202.0A41.2,41.2 0 0 0 89.0,199.6M91.6,202.0L92.2,201.4M89.0,199.6L89.2,199.3M90.3,200.3A41.6,41.6 0 0 0 88.1,198.4M90.3,200.3L90.8,199.8M88.1,198.4L88.4,198.0M88.8,198.3A42.1,42.1 0 0 0 88.0,197.7M88.8,198.3L89.0,198.1M91.3,200.3A42.3,42.3 0 0 0 90.2,199.3M91.3,200.3L91.6,199.9M90.2,199.3L90.7,198.8M93.1,207.6A38.6,38.6 0 0 0 91.4,205.6M93.1,207.6L94.3,206.7M91.4,205.6L91.8,205.2M92.4,205.9A39.2,39.2 0 0 0 91.3,204.6M92.4,205.9L93.9,204.6M91.3,204.6L91.7,204.2M92.3,204.8A39.8,39.8 0 0 0 91.1,203.6M91.1,203.6L91.4,203.3M94.9,207.4A40.2,40.2 0 0 0 93.8,206.0M94.9,207.4L95.9,206.7M93.8,206.0L94.1,205.7M96.9,211.6A39.5,39.5 0 0 0 95.8,209.9M96.9,211.6L97.7,211.1M95.8,209.9L96.1,209.7M96.7,210.6A39.8,39.8 0 0 0 95.5,208.8M96.7,210.6L96.9,210.5M95.5,208.8L96.4,208.2M96.9,208.9A40.9,40.9 0 0 0 95.9,207.5M96.9,208.9L97.2,208.7M95.9,207.5L96.2,207.3M99.5,218.2A39.1,39.1 0 0 0 98.0,214.5M99.5,218.2L100.4,217.9M98.0,214.5L98.4,214.3M98.9,215.5A39.6,39.6 0 0 0 97.8,213.1M98.9,215.5L99.5,215.2M97.8,213.1L98.2,212.8M98.6,213.5A40.1,40.1 0 0 0 97.9,212.2M98.6,213.5L99.1,213.2M97.9,212.2L99.1,211.5M99.7,215.8A40.2,40.2 0 0 0 99.2,214.7M99.2,214.7L99.9,214.3M100.6,218.5A40.1,40.1 0 0 0 100.2,217.2M100.6,218.5L101.3,218.3M100.2,217.2L100.4,217.1M101.2,224.9A39.1,39.1 0 0 0 100.4,221.3M101.2,224.9L101.7,224.9M100.4,221.3L101.4,221.0M101.7,222.0A40.1,40.1 0 0 0 101.2,220.0M101.7,222.0L102.8,221.7M101.2,220.0L101.5,219.9M101.7,220.8A40.4,40.4 0 0 0 101.2,219.1M101.2,219.1L101.7,219.0M101.9,226.1A39.6,39.6 0 0 0 101.5,223.6M101.9,226.1L102.7,226.0M101.5,223.6L101.8,223.6M102.0,224.4A39.9,39.9 0 0 0 101.7,222.7M102.0,224.4L102.8,224.3M101.7,222.7L101.9,222.7M102.8,226.6A40.4,40.4 0 0 0 102.6,225.3M102.6,225.3L103.0,225.3" stroke="#9430e4" stroke-width="1.3" fill="none"/>
<path d="M104.1,239.3L104.5,239.4M99.9,253.2L100.3,253.5M59.1,273.5L59.0,274.1M38.7,263.5L37.3,265.4M22.4,240.6L21.5,240.8M24.5,223.7L22.3,223.2M75.0,189.2L75.1,188.9M84.3,195.2L84.6,194.7M88.0,197.7L88.3,197.3M92.3,204.8L92.8,204.4M99.7,215.8L100.2,215.6M101.7,220.8L102.7,220.5M102.8,226.6L103.2,226.5" stroke="#f4a630" stroke-width="1.3" fill="none"/>
<path d="M62.7,231.4L71.7,230.9" stroke="#222" stroke-width="0.8"/>
<circle cx="71.7" cy="230.9" r="1.3" fill="#111"/>
<path d="M62.7,231.4L76.7,230.7" stroke="#222" stroke-width="0.8"/>
<circle cx="76.7" cy="230.7" r="1.3" fill="#111"/>
<path d="M62.7,231.4L81.7,230.4" stroke="#222" stroke-width="0.8"/>
<circle cx="81.7" cy="230.4" r="1.3" fill="#111"/>
<path d="M103.5,239.4a1.05,1.05 0 1 0 2.1,0a1.05,1.05 0 1 0 -2.1,0M99.3,253.5a1.05,1.05 0 1 0 2.1,0a1.05,1.05 0 1 0 -2.1,0M58.0,274.1a1.05,1.05 0 1 0 2.1,0a1.05,1.05 0 1 0 -2.1,0M36.2,265.4a1.05,1.05 0 1 0 2.1,0a1.05,1.05 0 1 0 -2.1,0M20.4,240.8a1.05,1.05 0 1 0 2.1,0a1.05,1.05 0 1 0 -2.1,0M21.3,223.2a1.05,1.05 0 1 0 2.1,0a1.05,1.05 0 1 0 -2.1,0M74.1,188.9a1.05,1.05 0 1 0 2.1,0a1.05,1.05 0 1 0 -2.1,0M83.5,194.7a1.05,1.05 0 1 0 2.1,0a1.05,1.05 0 1 0 -2.1,0M87.3,197.3a1.05,1.05 0 1 0 2.1,0a1.05,1.05 0 1 0 -2.1,0M91.8,204.4a1.05,1.05 0 1 0 2.1,0a1.05,1.05 0 1 0 -2.1,0M99.1,215.6a1.05,1.05 0 1 0 2.1,0a1.05,1.05 0 1 0 -2.1,0M101.7,220.5a1.05,1.05 0 1 0 2.1,0a1.05,1.05 0 1 0 -2.1,0M102.2,226.5a1.05,1.05 0 1 0 2.1,0a1.05,1.05 0 1 0 -2.1,0" fill="#f4a630"/>
<path d="M103.3,241.0a1.05,1.05 0 1 0 2.1,0a1.05,1.05 0 1 0 -2.1,0M104.0,243.1a1.05,1.05 0 1 0 2.1,0a1.05,1.05 0 1 0 -2.1,0M103.1,244.4a1.05,1.05 0 1 0 2.1,0a1.05,1.05 0 1 0 -2.1,0M102.9,245.0a1.05,1.05 0 1 0 2.1,0a1.05,1.05 0 1 0 -2.1,0M102.7,247.0a1.05,1.05 0 1 0 2.1,0a1.05,1.05 0 1 0 -2.1,0M102.0,248.6a1.05,1.05 0 1 0 2.1,0a1.05,1.05 0 1 0 -2.1,0M100.6,249.7a1.05,1.05 0 1 0 2.1,0a1.05,1.05 0 1 0 -2.1,0M100.1,251.0a1.05,1.05 0 1 0 2.1,0a1.05,1.05 0 1 0 -2.1,0M99.5,252.6a1.05,1.05 0 1 0 2.1,0a1.05,1.05 0 1 0 -2.1,0M98.7,255.2a1.05,1.05 0 1 0 2.1,0a1.05,1.05 0 1 0 -2.1,0M97.4,255.9a1.05,1.05 0 1 0 2.1,0a1.05,1.05 0 1 0 -2.1,0M96.8,257.0a1.05,1.05 0 1 0 2.1,0a1.05,1.05 0 1 0 -2.1,0M95.7,258.3a1.05,1.05 0 1 0 2.1,0a1.05,1.05 0 1 0 -2.1,0M94.0,259.0a1.05,1.05 0 1 0 2.1,0a1.05,1.05 0 1 0 -2.1,0M93.2,260.0a1.05,1.05 0 1 0 2.1,0a1.05,1.05 0 1 0 -2.1,0M93.0,261.8a1.05,1.05 0 1 0 2.1,0a1.05,1.05 0 1 0 -2.1,0M92.2,262.9a1.05,1.05 0 1 0 2.1,0a1.05,1.05 0 1 0 -2.1,0M90.9,263.9a1.05,1.05 0 1 0 2.1,0a1.05,1.05 0 1 0 -2.1,0M89.5,265.3a1.05,1.05 0 1 0 2.1,0a1.05,1.05 0 1 0 -2.1,0M88.6,266.2a1.05,1.05 0 1 0 2.1,0a1.05,1.05 0 1 0 -2.1,0M87.0,266.3a1.05,1.05 0 1 0 2.1,0a1.05,1.05 0 1 0 -2.1,0M86.1,267.4a1.05,1.05 0 1 0 2.1,0a1.05,1.05 0 1 0 -2.1,0M84.1,267.5a1.05,1.05 0 1 0 2.1,0a1.05,1.05 0 1 0 -2.1,0M82.9,268.5a1.05,1.05 0 1 0 2.1,0a1.05,1.05 0 1 0 -2.1,0M81.6,269.7a1.05,1.05 0 1 0 2.1,0a1.05,1.05 0 1 0 -2.1,0M80.3,270.7a1.05,1.05 0 1 0 2.1,0a1.05,1.05 0 1 0 -2.1,0M79.2,270.8a1.05,1.05 0 1 0 2.1,0a1.05,1.05 0 1 0 -2.1,0M78.0,271.2a1.05,1.05 0 1 0 2.1,0a1.05,1.05 0 1 0 -2.1,0M76.4,272.8a1.05,1.05 0 1 0 2.1,0a1.05,1.05 0 1 0 -2.1,0M75.7,273.0a1.05,1.05 0 1 0 2.1,0a1.05,1.05 0 1 0 -2.1,0M73.3,272.6a1.05,1.05 0 1 0 2.1,0a1.05,1.05 0 1 0 -2.1,0M72.3,273.4a1.05,1.05 0 1 0 2.1,0a1.05,1.05 0 1 0 -2.1,0M70.3,273.1a1.05,1.05 0 1 0 2.1,0a1.05,1.05 0 1 0 -2.1,0M69.4,273.5a1.05,1.05 0 1 0 2.1,0a1.05,1.05 0 1 0 -2.1,0M68.0,274.6a1.05,1.05 0 1 0 2.1,0a1.05,1.05 0 1 0 -2.1,0M66.9,275.0a1.05,1.05 0 1 0 2.1,0a1.05,1.05 0 1 0 -2.1,0M64.5,274.1a1.05,1.05 0 1 0 2.1,0a1.05,1.05 0 1 0 -2.1,0M63.1,274.5a1.05,1.05 0 1 0 2.1,0a1.05,1.05 0 1 0 -2.1,0M62.3,274.5a1.05,1.05 0 1 0 2.1,0a1.05,1.05 0 1 0 -2.1,0M60.7,274.3a1.05,1.05 0 1 0 2.1,0a1.05,1.05 0 1 0 -2.1,0M59.4,274.0a1.05,1.05 0 1 0 2.1,0a1.05,1.05 0 1 0 -2.1,0M56.5,274.1a1.05,1.05 0 1 0 2.1,0a1.05,1.05 0 1 0 -2.1,0M54.3,274.4a1.05,1.05 0 1 0 2.1,0a1.05,1.05 0 1 0 -2.1,0M53.4,274.0a1.05,1.05 0 1 0 2.1,0a1.05,1.05 0 1 0 -2.1,0M51.8,273.7a1.05,1.05 0 1 0 2.1,0a1.05,1.05 0 1 0 -2.1,0M50.4,272.6a1.05,1.05 0 1 0 2.1,0a1.05,1.05 0 1 0 -2.1,0M48.8,272.5a1.05,1.05 0 1 0 2.1,0a1.05,1.05 0 1 0 -2.1,0M47.4,271.7a1.05,1.05 0 1 0 2.1,0a1.05,1.05 0 1 0 -2.1,0M46.4,271.3a1.05,1.05 0 1 0 2.1,0a1.05,1.05 0 1 0 -2.1,0M44.5,271.3a1.05,1.05 0 1 0 2.1,0a1.05,1.05 0 1 0 -2.1,0M43.0,270.7a1.05,1.05 0 1 0 2.1,0a1.05,1.05 0 1 0 -2.1,0M42.5,269.4a1.05,1.05 0 1 0 2.1,0a1.05,1.05 0 1 0 -2.1,0M40.5,269.8a1.05,1.05 0 1 0 2.1,0a1.05,1.05 0 1 0 -2.1,0M40.5,266.7a1.05,1.05 0 1 0 2.1,0a1.05,1.05 0 1 0 -2.1,0M38.7,266.8a1.05,1.05 0 1 0 2.1,0a1.05,1.05 0 1 0 -2.1,0M37.9,265.3a1.05,1.05 0 1 0 2.1,0a1.05,1.05 0 1 0 -2.1,0M36.4,263.2a1.05,1.05 0 1 0 2.1,0a1.05,1.05 0 1 0 -2.1,0M34.8,263.2a1.05,1.05 0 1 0 2.1,0a1.05,1.05 0 1 0 -2.1,0M33.9,262.3a1.05,1.05 0 1 0 2.1,0a1.05,1.05 0 1 0 -2.1,0M32.5,261.2a1.05,1.05 0 1 0 2.1,0a1.05,1.05 0 1 0 -2.1,0M32.1,259.7a1.05,1.05 0 1 0 2.1,0a1.05,1.05 0 1 0 -2.1,0M30.2,259.9a1.05,1.05 0 1 0 2.1,0a1.05,1.05 0 1 0 -2.1,0M29.4,258.8a1.05,1.05 0 1 0 2.1,0a1.05,1.05 0 1 0 -2.1,0M29.3,256.8a1.05,1.05 0 1 0 2.1,0a1.05,1.05 0 1 0 -2.1,0M28.2,256.0a1.05,1.05 0 1 0 2.1,0a1.05,1.05 0 1 0 -2.1,0M27.7,254.5a1.05,1.05 0 1 0 2.1,0a1.05,1.05 0 1 0 -2.1,0M27.5,253.4a1.05,1.05 0 1 0 2.1,0a1.05,1.05 0 1 0 -2.1,0M25.2,253.0a1.05,1.05 0 1 0 2.1,0a1.05,1.05 0 1 0 -2.1,0M24.8,251.4a1.05,1.05 0 1 0 2.1,0a1.05,1.05 0 1 0 -2.1,0M25.3,249.8a1.05,1.05 0 1 0 2.1,0a1.05,1.05 0 1 0 -2.1,0M24.6,248.6a1.05,1.05 0 1 0 2.1,0a1.05,1.05 0 1 0 -2.1,0M22.6,247.3a1.05,1.05 0 1 0 2.1,0a1.05,1.05 0 1 0 -2.1,0M22.4,246.4a1.05,1.05 0 1 0 2.1,0a1.05,1.05 0 1 0 -2.1,0M23.1,244.5a1.05,1.05 0 1 0 2.1,0a1.05,1.05 0 1 0 -2.1,0M21.1,243.6a1.05,1.05 0 1 0 2.1,0a1.05,1.05 0 1 0 -2.1,0M21.6,242.6a1.05,1.05 0 1 0 2.1,0a1.05,1.05 0 1 0 -2.1,0M20.7,239.8a1.05,1.05 0 1 0 2.1,0a1.05,1.05 0 1 0 -2.1,0M21.3,238.2a1.05,1.05 0 1 0 2.1,0a1.05,1.05 0 1 0 -2.1,0M19.7,237.1a1.05,1.05 0 1 0 2.1,0a1.05,1.05 0 1 0 -2.1,0M20.2,235.3a1.05,1.05 0 1 0 2.1,0a1.05,1.05 0 1 0 -2.1,0M20.0,234.0a1.05,1.05 0 1 0 2.1,0a1.05,1.05 0 1 0 -2.1,0M19.7,233.0a1.05,1.05 0 1 0 2.1,0a1.05,1.05 0 1 0 -2.1,0M19.3,231.5a1.05,1.05 0 1 0 2.1,0a1.05,1.05 0 1 0 -2.1,0M19.7,229.9a1.05,1.05 0 1 0 2.1,0a1.05,1.05 0 1 0 -2.1,0M19.9,228.3a1.05,1.05 0 1 0 2.1,0a1.05,1.05 0 1 0 -2.1,0M21.6,227.4a1.05,1.05 0 1 0 2.1,0a1.05,1.05 0 1 0 -2.1,0M22.0,225.7a1.05,1.05 0 1 0 2.1,0a1.05,1.05 0 1 0 -2.1,0M21.9,224.7a1.05,1.05 0 1 0 2.1,0a1.05,1.05 0 1 0 -2.1,0M22.1,222.0a1.05,1.05 0 1 0 2.1,0a1.05,1.05 0 1 0 -2.1,0M22.9,220.5a1.05,1.05 0 1 0 2.1,0a1.05,1.05 0 1 0 -2.1,0M23.4,219.5a1.05,1.05 0 1 0 2.1,0a1.05,1.05 0 1 0 -2.1,0M23.8,218.5a1.05,1.05 0 1 0 2.1,0a1.05,1.05 0 1 0 -2.1,0M23.5,216.9a1.05,1.05 0 1 0 2.1,0a1.05,1.05 0 1 0 -2.1,0M23.8,214.9a1.05,1.05 0 1 0 2.1,0a1.05,1.05 0 1 0 -2.1,0M24.6,214.7a1.05,1.05 0 1 0 2.1,0a1.05,1.05 0 1 0 -2.1,0M25.5,213.2a1.05,1.05 0 1 0 2.1,0a1.05,1.05 0 1 0 -2.1,0M26.1,211.7a1.05,1.05 0 1 0 2.1,0a1.05,1.05 0 1 0 -2.1,0M26.7,210.5a1.05,1.05 0 1 0 2.1,0a1.05,1.05 0 1 0 -2.1,0M26.6,209.4a1.05,1.05 0 1 0 2.1,0a1.05,1.05 0 1 0 -2.1,0M27.6,208.2a1.05,1.05 0 1 0 2.1,0a1.05,1.05 0 1 0 -2.1,0M28.9,207.6a1.05,1.05 0 1 0 2.1,0a1.05,1.05 0 1 0 -2.1,0M28.9,206.2a1.05,1.05 0 1 0 2.1,0a1.05,1.05 0 1 0 -2.1,0M30.6,205.1a1.05,1.05 0 1 0 2.1,0a1.05,1.05 0 1 0 -2.1,0M31.3,204.6a1.05,1.05 0 1 0 2.1,0a1.05,1.05 0 1 0 -2.1,0M31.8,203.3a1.05,1.05 0 1 0 2.1,0a1.05,1.05 0 1 0 -2.1,0M33.4,202.7a1.05,1.05 0 1 0 2.1,0a1.05,1.05 0 1 0 -2.1,0M34.8,201.8a1.05,1.05 0 1 0 2.1,0a1.05,1.05 0 1 0 -2.1,0M35.0,200.3a1.05,1.05 0 1 0 2.1,0a1.05,1.05 0 1 0 -2.1,0M36.4,199.9a1.05,1.05 0 1 0 2.1,0a1.05,1.05 0 1 0 -2.1,0M37.5,199.5a1.05,1.05 0 1 0 2.1,0a1.05,1.05 0 1 0 -2.1,0M38.1,197.6a1.05,1.05 0 1 0 2.1,0a1.05,1.05 0 1 0 -2.1,0M39.3,196.9a1.05,1.05 0 1 0 2.1,0a1.05,1.05 0 1 0 -2.1,0M39.9,196.3a1.05,1.05 0 1 0 2.1,0a1.05,1.05 0 1 0 -2.1,0M42.0,196.4a1.05,1.05 0 1 0 2.1,0a1.05,1.05 0 1 0 -2.1,0M42.9,195.4a1.05,1.05 0 1 0 2.1,0a1.05,1.05 0 1 0 -2.1,0M43.7,194.2a1.05,1.05 0 1 0 2.1,0a1.05,1.05 0 1 0 -2.1,0M44.8,193.7a1.05,1.05 0 1 0 2.1,0a1.05,1.05 0 1 0 -2.1,0M46.3,193.9a1.05,1.05 0 1 0 2.1,0a1.05,1.05 0 1 0 -2.1,0M47.5,192.8a1.05,1.05 0 1 0 2.1,0a1.05,1.05 0 1 0 -2.1,0M48.9,192.3a1.05,1.05 0 1 0 2.1,0a1.05,1.05 0 1 0 -2.1,0M50.3,191.5a1.05,1.05 0 1 0 2.1,0a1.05,1.05 0 1 0 -2.1,0M51.6,191.9a1.05,1.05 0 1 0 2.1,0a1.05,1.05 0 1 0 -2.1,0M52.7,190.9a1.05,1.05 0 1 0 2.1,0a1.05,1.05 0 1 0 -2.1,0M54.8,192.0a1.05,1.05 0 1 0 2.1,0a1.05,1.05 0 1 0 -2.1,0M55.5,191.0a1.05,1.05 0 1 0 2.1,0a1.05,1.05 0 1 0 -2.1,0M56.6,190.2a1.05,1.05 0 1 0 2.1,0a1.05,1.05 0 1 0 -2.1,0M58.3,191.3a1.05,1.05 0 1 0 2.1,0a1.05,1.05 0 1 0 -2.1,0M60.0,191.2a1.05,1.05 0 1 0 2.1,0a1.05,1.05 0 1 0 -2.1,0M61.4,191.0a1.05,1.05 0 1 0 2.1,0a1.05,1.05 0 1 0 -2.1,0M62.6,186.1a1.05,1.05 0 1 0 2.1,0a1.05,1.05 0 1 0 -2.1,0M63.9,182.3a1.05,1.05 0 1 0 2.1,0a1.05,1.05 0 1 0 -2.1,0M63.8,186.3a1.05,1.05 0 1 0 2.1,0a1.05,1.05 0 1 0 -2.1,0M65.2,182.4a1.05,1.05 0 1 0 2.1,0a1.05,1.05 0 1 0 -2.1,0M65.0,187.6a1.05,1.05 0 1 0 2.1,0a1.05,1.05 0 1 0 -2.1,0M66.4,181.5a1.05,1.05 0 1 0 2.1,0a1.05,1.05 0 1 0 -2.1,0M66.6,187.6a1.05,1.05 0 1 0 2.1,0a1.05,1.05 0 1 0 -2.1,0M67.9,187.9a1.05,1.05 0 1 0 2.1,0a1.05,1.05 0 1 0 -2.1,0M70.1,187.3a1.05,1.05 0 1 0 2.1,0a1.05,1.05 0 1 0 -2.1,0M70.9,188.3a1.05,1.05 0 1 0 2.1,0a1.05,1.05 0 1 0 -2.1,0M72.8,188.2a1.05,1.05 0 1 0 2.1,0a1.05,1.05 0 1 0 -2.1,0M74.9,189.1a1.05,1.05 0 1 0 2.1,0a1.05,1.05 0 1 0 -2.1,0M76.0,190.5a1.05,1.05 0 1 0 2.1,0a1.05,1.05 0 1 0 -2.1,0M77.3,190.7a1.05,1.05 0 1 0 2.1,0a1.05,1.05 0 1 0 -2.1,0M78.8,191.5a1.05,1.05 0 1 0 2.1,0a1.05,1.05 0 1 0 -2.1,0M80.6,192.2a1.05,1.05 0 1 0 2.1,0a1.05,1.05 0 1 0 -2.1,0M81.5,193.1a1.05,1.05 0 1 0 2.1,0a1.05,1.05 0 1 0 -2.1,0M82.8,193.9a1.05,1.05 0 1 0 2.1,0a1.05,1.05 0 1 0 -2.1,0M85.2,195.4a1.05,1.05 0 1 0 2.1,0a1.05,1.05 0 1 0 -2.1,0M85.8,196.1a1.05,1.05 0 1 0 2.1,0a1.05,1.05 0 1 0 -2.1,0M87.9,198.1a1.05,1.05 0 1 0 2.1,0a1.05,1.05 0 1 0 -2.1,0M89.7,198.8a1.05,1.05 0 1 0 2.1,0a1.05,1.05 0 1 0 -2.1,0M90.5,199.9a1.05,1.05 0 1 0 2.1,0a1.05,1.05 0 1 0 -2.1,0M91.2,201.4a1.05,1.05 0 1 0 2.1,0a1.05,1.05 0 1 0 -2.1,0M90.4,203.3a1.05,1.05 0 1 0 2.1,0a1.05,1.05 0 1 0 -2.1,0M92.9,204.6a1.05,1.05 0 1 0 2.1,0a1.05,1.05 0 1 0 -2.1,0M93.1,205.7a1.05,1.05 0 1 0 2.1,0a1.05,1.05 0 1 0 -2.1,0M94.8,206.7a1.05,1.05 0 1 0 2.1,0a1.05,1.05 0 1 0 -2.1,0M95.1,207.3a1.05,1.05 0 1 0 2.1,0a1.05,1.05 0 1 0 -2.1,0M96.1,208.7a1.05,1.05 0 1 0 2.1,0a1.05,1.05 0 1 0 -2.1,0M95.9,210.5a1.05,1.05 0 1 0 2.1,0a1.05,1.05 0 1 0 -2.1,0M96.6,211.1a1.05,1.05 0 1 0 2.1,0a1.05,1.05 0 1 0 -2.1,0M98.0,211.5a1.05,1.05 0 1 0 2.1,0a1.05,1.05 0 1 0 -2.1,0M98.0,213.2a1.05,1.05 0 1 0 2.1,0a1.05,1.05 0 1 0 -2.1,0M98.9,214.3a1.05,1.05 0 1 0 2.1,0a1.05,1.05 0 1 0 -2.1,0M99.4,217.1a1.05,1.05 0 1 0 2.1,0a1.05,1.05 0 1 0 -2.1,0M100.3,218.3a1.05,1.05 0 1 0 2.1,0a1.05,1.05 0 1 0 -2.1,0M100.6,219.0a1.05,1.05 0 1 0 2.1,0a1.05,1.05 0 1 0 -2.1,0M101.7,221.7a1.05,1.05 0 1 0 2.1,0a1.05,1.05 0 1 0 -2.1,0M100.8,222.7a1.05,1.05 0 1 0 2.1,0a1.05,1.05 0 1 0 -2.1,0M101.8,224.3a1.05,1.05 0 1 0 2.1,0a1.05,1.05 0 1 0 -2.1,0M102.0,225.3a1.05,1.05 0 1 0 2.1,0a1.05,1.05 0 1 0 -2.1,0" fill="#9430e4"/>
<circle cx="62.7" cy="231.4" r="58.0" fill="none" stroke="#0000ff" stroke-width="5.0"/>
<path d="M48.4,175.2A58.0,58.0 0 0 0 46.4,175.7" fill="none" stroke="#ff0000" stroke-width="5.0"/>
<path d="M43.6,176.6A58.0,58.0 0 0 0 41.7,177.3" fill="none" stroke="#ff0000" stroke-width="5.0"/>
<path d="M38.0,178.9A58.0,58.0 0 0 0 36.2,179.8" fill="none" stroke="#ff0000" stroke-width="5.0"/>
<path d="M70.6,173.9A58.0,58.0 0 0 0 57.1,173.7" fill="none" stroke="#ff0000" stroke-width="5.0"/>
<path d="M64.3,173.4A58.0,58.0 0 0 0 63.5,173.4" fill="none" stroke="#ffffff" stroke-width="5.0"/>
<path d="M81.1,176.4A58.0,58.0 0 0 0 79.7,175.9" fill="none" stroke="#ff0000" stroke-width="5.0"/>
<path d="M90.2,180.3A58.0,58.0 0 0 0 82.7,177.0" fill="none" stroke="#ff0000" stroke-width="5.0"/>
<path d="M106.9,193.9A58.0,58.0 0 0 0 104.3,191.0" fill="none" stroke="#808080" stroke-width="5.0"/>
<path d="M118.5,215.4A58.0,58.0 0 0 0 106.9,193.9" fill="none" stroke="#ff0000" stroke-width="5.0"/>
<path d="M118.0,249.0A58.0,58.0 0 0 0 118.5,247.1" fill="none" stroke="#c02060" stroke-width="5.0"/>
<path d="M99.2,276.5A58.0,58.0 0 0 0 100.8,275.2" fill="none" stroke="#c02060" stroke-width="5.0"/>
<path d="M9.4,254.3A58.0,58.0 0 0 0 9.8,255.1" fill="none" stroke="#c0c0ff" stroke-width="5.0"/>
<path d="M43.0,285.9A58.0,58.0 0 0 0 43.7,286.2" fill="none" stroke="#c0c0ff" stroke-width="5.0"/>
<path d="M63.6,289.4A58.0,58.0 0 0 0 64.4,289.4" fill="none" stroke="#c0c0ff" stroke-width="5.0"/>
<path d="M120.7,230.4A58.0,58.0 0 0 0 120.5,226.5" fill="none" stroke="#fff" stroke-width="6.0"/>
</g>
<g>
<path d="M244.1,231.4A53,53 0 1 0 138.1,231.4A53,53 0 1 0 244.1,231.4Z M244.1,231.4 L244.1,230.9 L244.1,230.5 L244.1,230.0 L244.1,229.6 L244.0,229.1 L244.0,228.6 L244.0,228.2 L244.0,227.7 L243.9,227.2 L243.9,226.8 L243.9,226.3 L243.8,225.9 L243.8,225.4 L231.7,226.4 L231.6,226.1 L231.6,225.7 L231.5,225.4 L225.7,225.9 L225.7,225.6 L225.6,225.3 L225.6,225.0 L225.5,224.7 L225.5,224.4 L225.4,224.1 L225.3,223.8 L225.9,223.4 L228.8,222.3 L228.7,222.0 L228.6,221.7 L228.6,221.4 L223.7,222.4 L223.6,222.1 L223.5,221.8 L223.4,221.5 L223.3,221.2 L223.2,221.0 L223.1,220.7 L233.2,216.9 L233.1,216.5 L233.0,216.2 L232.7,215.9 L232.6,215.5 L232.4,215.1 L228.8,216.2 L228.7,215.8 L228.6,215.5 L228.0,215.4 L227.8,215.0 L227.7,214.7 L226.4,214.9 L226.2,214.6 L226.1,214.3 L225.9,214.0 L225.8,213.7 L225.6,213.4 L225.5,213.1 L228.5,211.1 L228.4,210.7 L228.2,210.4 L217.1,216.4 L217.0,216.1 L216.9,215.9 L215.5,216.4 L215.4,216.2 L215.3,216.0 L215.1,215.8 L215.0,215.6 L214.9,215.4 L214.7,215.2 L215.8,214.1 L215.6,213.9 L215.5,213.7 L215.3,213.5 L215.2,213.3 L215.0,213.0 L216.1,211.9 L214.6,212.7 L214.4,212.5 L214.2,212.3 L214.1,212.1 L213.9,211.9 L213.7,211.7 L213.6,211.5 L212.9,211.8 L212.7,211.6 L212.6,211.4 L212.4,211.2 L212.2,211.0 L212.0,210.8 L211.9,210.6 L212.0,210.1 L211.8,209.9 L211.7,209.7 L211.5,209.6 L211.3,209.4 L211.1,209.2 L210.2,209.8 L210.0,209.7 L209.8,209.5 L209.6,209.4 L209.4,209.2 L209.2,209.0 L209.0,208.9 L208.8,208.7 L209.3,207.7 L209.1,207.5 L208.9,207.4 L208.7,207.2 L208.4,207.1 L208.2,206.9 L208.0,206.8 L209.7,203.9 L209.4,203.7 L209.2,203.6 L208.9,203.4 L208.7,203.3 L208.4,203.1 L208.2,203.0 L206.6,205.1 L206.4,204.9 L206.1,204.8 L205.9,204.7 L205.7,204.5 L205.4,204.4 L205.2,204.3 L208.0,198.3 L207.7,198.1 L206.7,199.5 L206.4,199.3 L206.1,199.2 L205.8,199.1 L204.6,201.2 L204.3,201.1 L204.0,200.9 L203.8,200.8 L203.5,200.7 L203.2,200.6 L202.9,200.6 L202.6,200.5 L202.4,200.4 L202.1,200.3 L201.8,200.3 L201.6,200.2 L201.3,200.1 L200.5,201.5 L200.3,201.4 L200.0,201.3 L199.7,201.2 L198.5,204.9 L198.2,204.8 L198.0,204.8 L197.8,204.7 L197.5,204.6 L197.3,204.6 L197.1,204.5 L197.1,203.4 L196.8,203.3 L196.6,203.3 L196.3,203.2 L196.1,203.2 L195.8,203.1 L195.6,203.1 L195.7,200.8 L195.0,203.3 L194.8,203.3 L194.6,203.2 L194.2,203.9 L194.0,203.9 L193.7,203.9 L193.5,203.9 L193.3,203.9 L193.0,203.8 L192.8,203.8 L192.6,202.2 L192.3,203.8 L192.1,203.7 L191.8,203.7 L191.6,203.7 L191.3,203.7 L191.1,203.7 L190.9,203.7 L190.6,201.7 L190.3,201.7 L190.1,202.9 L189.9,202.9 L189.6,202.9 L189.4,203.0 L189.1,203.0 L188.9,203.0 L188.6,203.0 L187.9,198.6 L187.7,198.6 L187.4,198.7 L187.1,198.7 L186.7,197.8 L186.4,198.2 L186.1,198.3 L185.9,198.3 L185.6,198.4 L185.3,198.4 L185.0,198.5 L184.7,198.5 L184.4,198.7 L184.2,198.8 L183.9,198.8 L183.6,198.9 L183.7,200.4 L183.4,200.5 L183.1,200.6 L182.9,200.6 L182.6,200.7 L182.3,200.8 L182.1,200.9 L181.8,200.9 L180.9,199.0 L181.3,201.3 L181.1,201.4 L180.8,201.5 L180.5,201.6 L180.3,201.7 L180.0,201.7 L179.8,201.8 L179.5,201.9 L179.2,201.9 L178.9,202.0 L178.7,202.1 L178.4,202.2 L178.2,202.3 L177.3,201.0 L177.0,201.2 L176.7,201.3 L176.9,202.3 L176.7,202.4 L176.4,202.6 L176.2,202.7 L175.9,202.8 L175.7,203.0 L175.4,203.1 L175.1,203.2 L175.0,203.6 L174.8,203.7 L174.6,203.9 L174.3,204.0 L174.1,204.2 L173.8,204.3 L173.6,204.5 L172.3,202.9 L172.0,203.1 L171.8,203.3 L171.4,203.3 L171.2,203.5 L170.9,203.7 L170.7,203.8 L170.5,204.0 L170.2,204.2 L170.0,204.4 L169.4,204.1 L169.1,204.2 L168.9,204.4 L167.7,203.6 L167.5,203.8 L167.3,204.0 L166.1,203.1 L165.8,203.3 L165.6,203.6 L165.2,203.7 L165.0,203.9 L164.8,204.1 L164.5,204.3 L164.3,204.6 L164.0,204.8 L162.8,204.1 L162.6,204.4 L161.2,203.5 L161.0,203.8 L160.7,204.1 L160.5,204.4 L160.3,204.6 L160.1,204.9 L159.8,205.2 L159.6,205.4 L159.4,205.7 L159.2,206.0 L158.0,205.5 L157.8,205.8 L157.6,206.1 L157.1,206.3 L156.9,206.6 L156.7,206.9 L155.0,206.1 L154.8,206.4 L154.5,206.7 L154.3,207.1 L154.1,207.4 L153.9,207.7 L153.7,208.0 L152.3,207.6 L152.1,208.0 L151.9,208.3 L151.7,208.6 L151.5,209.0 L151.3,209.3 L150.9,209.6 L150.7,209.9 L150.5,210.3 L149.0,209.9 L149.2,210.5 L149.0,210.9 L148.8,211.2 L149.0,211.8 L148.9,212.1 L148.7,212.5 L148.5,212.9 L148.4,213.3 L148.2,213.6 L148.1,214.0 L147.7,214.3 L147.5,214.7 L147.4,215.1 L147.2,215.4 L147.1,215.8 L147.0,216.2 L146.8,216.6 L146.8,217.0 L146.7,217.4 L146.6,217.8 L146.5,218.2 L146.3,218.6 L146.2,219.0 L146.1,219.3 L145.5,219.6 L145.4,220.0 L145.3,220.4 L145.2,220.8 L143.5,220.8 L144.9,221.6 L144.8,222.0 L144.7,222.4 L144.9,222.8 L144.8,223.2 L144.8,223.6 L144.7,224.1 L144.6,224.5 L145.0,224.9 L145.0,225.3 L144.9,225.7 L144.9,226.1 L144.8,226.5 L144.8,226.9 L144.8,227.3 L158.6,228.8 L158.6,229.1 L158.6,229.4 L158.5,229.7 L158.5,230.0 L158.5,230.3 L158.5,230.5 L158.3,230.8 L158.3,231.1 L156.1,231.4 L156.1,231.7 L156.1,232.0 L156.1,232.3 L156.7,232.6 L156.7,232.9 L156.7,233.2 L156.7,233.5 L158.6,233.7 L158.6,234.0 L158.7,234.2 L158.7,234.5 L158.7,234.8 L158.7,235.1 L158.8,235.4 L157.4,235.8 L157.5,236.1 L157.5,236.4 L157.6,236.7 L157.6,237.0 L157.7,237.3 L157.7,237.6 L157.8,237.9 L157.7,238.2 L157.8,238.5 L157.8,238.8 L159.3,238.7 L159.3,239.0 L159.4,239.3 L159.5,239.6 L159.6,239.9 L159.6,240.1 L159.7,240.4 L157.3,241.4 L157.4,241.7 L157.5,242.0 L157.6,242.3 L157.9,242.5 L158.0,242.8 L158.1,243.1 L158.7,243.2 L158.8,243.5 L160.4,243.2 L160.5,243.5 L160.6,243.7 L160.7,244.0 L161.0,244.2 L161.1,244.4 L161.3,244.7 L161.4,244.9 L161.5,245.2 L161.6,245.5 L161.7,245.7 L161.0,246.4 L161.1,246.7 L161.3,246.9 L161.4,247.2 L161.5,247.5 L161.7,247.7 L161.8,248.0 L161.8,248.3 L161.9,248.6 L162.1,248.8 L162.3,249.1 L162.4,249.3 L162.6,249.6 L162.9,249.7 L163.1,250.0 L163.2,250.2 L163.4,250.4 L163.6,250.7 L163.7,250.9 L163.9,251.2 L161.8,253.1 L162.0,253.3 L162.2,253.6 L161.6,254.5 L161.8,254.7 L163.9,253.4 L164.1,253.7 L164.3,253.9 L164.5,254.1 L164.7,254.4 L164.9,254.6 L165.1,254.8 L164.9,255.5 L165.1,255.7 L165.3,255.9 L165.5,256.1 L162.5,259.5 L162.8,259.7 L167.0,255.9 L167.2,256.1 L167.4,256.4 L167.6,256.6 L167.9,256.8 L168.1,257.0 L168.3,257.2 L168.1,257.8 L168.4,258.0 L168.6,258.2 L168.8,258.4 L167.5,260.5 L167.8,260.7 L168.0,260.9 L168.3,261.1 L168.6,261.3 L168.8,261.5 L169.1,261.7 L168.8,262.7 L169.0,262.9 L169.7,262.6 L169.9,262.8 L170.2,263.0 L170.5,263.1 L170.8,263.3 L171.0,263.5 L171.3,263.7 L171.0,264.8 L172.6,262.8 L172.9,263.0 L173.6,262.3 L173.9,262.4 L174.2,262.6 L174.4,262.7 L174.7,262.9 L175.0,263.0 L175.3,263.1 L175.6,263.3 L176.5,262.0 L176.8,262.1 L177.0,262.2 L177.3,262.4 L177.6,262.5 L177.9,262.6 L178.1,262.7 L177.3,265.5 L178.7,263.0 L178.9,263.1 L179.2,263.2 L179.5,263.3 L179.8,263.4 L180.1,263.5 L180.3,263.6 L179.9,265.9 L180.2,266.0 L180.9,264.8 L181.2,264.9 L181.5,265.0 L181.8,265.1 L182.3,264.1 L182.6,264.2 L182.9,264.2 L183.2,264.3 L183.5,264.4 L183.8,264.5 L184.1,264.5 L184.3,264.8 L184.6,264.8 L184.9,264.9 L185.2,264.9 L185.5,265.0 L185.8,264.6 L186.1,264.6 L186.4,264.7 L186.7,264.7 L187.0,264.7 L187.3,264.8 L187.6,264.8 L187.7,267.0 L188.0,267.0 L188.3,267.0 L188.6,267.1 L188.9,267.1 L189.2,266.8 L189.6,266.8 L189.9,266.8 L190.2,266.9 L190.5,266.9 L190.8,266.9 L191.1,266.9 L191.4,267.4 L191.7,266.0 L192.0,266.0 L192.3,266.0 L192.6,266.0 L192.9,266.0 L193.2,266.0 L193.5,266.0 L194.0,267.9 L194.3,267.9 L194.6,267.7 L194.9,267.7 L195.2,267.7 L195.5,267.6 L195.9,267.6 L196.2,267.5 L196.5,267.5 L196.8,267.5 L197.3,268.7 L197.7,268.7 L198.0,268.6 L197.5,264.4 L197.8,264.4 L198.1,264.3 L198.4,264.2 L198.7,264.2 L199.0,264.1 L199.2,264.0 L199.8,264.9 L200.1,264.8 L200.3,264.7 L200.6,264.7 L200.9,264.6 L201.2,264.5 L202.4,267.3 L201.9,264.8 L202.2,264.7 L202.5,264.4 L202.8,264.3 L203.0,264.2 L203.3,264.1 L203.6,264.0 L203.9,263.9 L204.2,263.8 L204.8,264.4 L205.1,264.3 L205.4,264.2 L205.6,264.1 L205.9,263.9 L206.3,264.0 L206.6,263.8 L206.9,263.7 L206.3,261.9 L206.5,261.7 L206.8,261.6 L207.1,261.4 L207.3,261.3 L207.6,261.2 L207.9,261.0 L209.8,263.8 L210.1,263.6 L211.2,264.9 L211.5,264.7 L211.8,264.6 L212.1,264.4 L212.4,264.2 L212.7,264.0 L213.0,263.8 L214.3,265.1 L214.6,264.9 L214.8,264.7 L213.9,262.8 L214.2,262.6 L214.5,262.4 L214.8,262.2 L215.0,262.0 L215.3,261.8 L215.6,261.6 L220.2,266.7 L216.8,262.0 L217.1,261.8 L217.3,261.6 L213.4,256.6 L213.6,256.4 L213.8,256.2 L214.0,256.0 L214.2,255.8 L214.4,255.6 L214.7,255.4 L216.9,257.2 L217.0,256.8 L217.2,256.6 L217.4,256.4 L217.7,256.2 L216.1,254.3 L216.3,254.1 L216.5,253.9 L216.7,253.6 L216.9,253.4 L217.1,253.2 L217.3,253.0 L219.8,254.6 L220.0,254.4 L220.5,254.3 L220.7,254.1 L220.8,253.8 L221.1,253.6 L221.3,253.3 L219.1,251.3 L219.2,251.1 L219.4,250.8 L219.6,250.6 L219.7,250.4 L219.9,250.1 L220.1,249.9 L219.9,249.4 L220.1,249.1 L220.2,248.9 L220.4,248.6 L220.5,248.4 L220.7,248.1 L220.8,247.9 L221.4,247.9 L221.6,247.6 L221.4,247.2 L221.5,246.9 L221.7,246.6 L221.8,246.4 L221.9,246.1 L222.0,245.8 L222.2,245.6 L225.4,246.7 L223.3,245.4 L223.5,245.1 L223.6,244.9 L223.7,244.6 L223.8,244.3 L223.9,244.0 L224.0,243.7 L225.9,244.0 L226.0,243.7 L225.3,243.2 L225.4,242.9 L225.5,242.6 L223.8,241.7 L223.9,241.4 L224.0,241.2 L223.7,240.8 L223.8,240.5 L223.9,240.2 L223.9,239.9 L224.0,239.6 L224.1,239.3 L224.2,239.0 L225.9,239.1 L226.0,238.8 L226.1,238.5 L229.2,238.8 L229.2,238.5 L229.3,238.1 L226.9,237.4 L227.0,237.1 L227.0,236.8 L226.3,236.3 L226.3,236.0 L226.4,235.7 L226.4,235.4 L226.4,235.1 L226.5,234.8 L226.5,234.5 L229.7,234.4 L229.7,234.1 L229.8,233.8 L229.8,233.4 L229.8,233.1 L229.8,232.8 L244.1,232.8 L244.1,232.3 L244.1,231.9 L244.1,231.4Z" fill="#d4d4d4" fill-rule="evenodd"/>
<path d="M217.1,230.0A26.0,26.0 0 1 0 168.0,243.4M175.1,212.0A25.1,25.1 0 0 0 197.9,255.6M185.9,258.9A28.0,28.0 0 0 0 209.8,252.2M201.5,257.4A28.0,28.0 0 0 0 215.8,244.6M214.1,248.1A28.4,28.4 0 0 0 217.7,241.2M217.2,244.6A29.2,29.2 0 0 0 219.5,238.3M219.7,240.6A30.0,30.0 0 0 0 220.7,236.4M197.3,259.3A28.6,28.6 0 0 0 206.0,255.8M202.8,258.1A29.1,29.1 0 0 0 209.4,254.1M207.5,256.5A30.0,30.0 0 0 0 212.2,252.7M195.2,261.1A30.0,30.0 0 0 0 199.9,260.1M182.4,259.4A29.3,29.3 0 0 0 189.1,260.7M187.6,261.1A30.0,30.0 0 0 0 190.5,261.4M206.1,211.3A25.1,25.1 0 0 0 168.5,242.3M163.5,235.1A27.9,27.9 0 0 0 171.0,250.6M166.5,246.3A28.7,28.7 0 0 0 175.1,255.2M172.5,253.9A29.2,29.2 0 0 0 177.3,257.1M175.6,256.7A29.7,29.7 0 0 0 178.5,258.3M164.6,244.1A29.3,29.3 0 0 0 167.6,249.0M162.8,231.5A28.3,28.3 0 0 0 163.8,238.7M162.5,236.9A29.2,29.2 0 0 0 163.5,240.9M213.9,220.9A25.1,25.1 0 0 0 194.6,206.5M201.0,208.3A25.1,25.1 0 0 0 188.1,206.5M192.9,205.7A25.7,25.7 0 0 0 183.2,206.9M185.3,205.4A26.6,26.6 0 0 0 180.6,207.0M181.5,205.6A27.5,27.5 0 0 0 179.0,206.7M186.2,204.6A27.3,27.3 0 0 0 184.0,205.0M195.8,205.0A26.8,26.8 0 0 0 190.2,204.6M203.9,207.3A27.3,27.3 0 0 0 199.7,205.5M215.9,224.6A25.8,25.8 0 0 0 212.4,217.0M214.4,219.2A26.3,26.3 0 0 0 211.1,214.4M213.1,215.3A27.3,27.3 0 0 0 210.5,212.2M211.8,213.2A27.5,27.5 0 0 0 209.5,210.9M216.3,219.9A27.7,27.7 0 0 0 215.0,217.3M218.4,226.0A27.9,27.9 0 0 0 217.4,222.2M168.2,219.1L166.4,218.2M197.9,255.6L198.6,258.4M185.9,258.9L185.7,260.2M201.5,257.4L201.8,257.9M215.8,244.6L216.1,244.8M214.1,248.1L217.4,250.5M217.7,241.2L218.5,241.5M217.2,244.6L219.9,245.9M219.5,238.3L220.2,238.5M219.7,240.6L221.6,241.2M220.7,236.4L223.8,236.9M197.3,259.3L197.6,260.7M206.0,255.8L206.2,256.3M202.8,258.1L203.8,260.4M209.4,254.1L209.9,254.7M207.5,256.5L210.5,261.2M212.2,252.7L213.7,254.2M195.2,261.1L195.5,263.3M199.9,260.1L201.0,263.5M182.4,259.4L181.7,261.7M189.1,260.7L189.0,261.3M187.6,261.1L187.3,263.2M190.5,261.4L190.5,264.7M168.5,242.3L166.0,243.5M163.5,235.1L163.1,235.1M171.0,250.6L170.3,251.2M166.5,246.3L166.0,246.6M175.1,255.2L174.8,255.6M172.5,253.9L170.5,256.5M177.3,257.1L177.0,257.5M175.6,256.7L173.0,261.0M178.5,258.3L177.3,260.9M164.6,244.1L163.5,244.6M167.6,249.0L165.6,250.5M162.8,231.5L159.2,231.6M163.8,238.7L162.9,238.9M162.5,236.9L159.7,237.4M163.5,240.9L160.6,242.0M213.9,220.9L214.5,220.7M201.0,208.3L201.8,206.3M188.1,206.5L188.0,205.8M192.9,205.7L193.0,204.7M183.2,206.9L182.9,206.1M185.3,205.4L185.1,204.8M180.6,207.0L180.2,206.1M181.5,205.6L180.5,203.2M179.0,206.7L177.6,204.0M186.2,204.6L185.4,199.8M184.0,205.0L183.5,202.9M195.8,205.0L195.8,204.8M190.2,204.6L190.2,204.2M203.9,207.3L204.6,205.9M199.7,205.5L200.4,203.3M215.9,224.6L218.0,224.1M212.4,217.0L212.9,216.7M214.4,219.2L215.7,218.6M211.1,214.4L211.8,213.7M213.1,215.3L214.3,214.5M210.5,212.2L210.7,212.0M211.8,213.2L212.8,212.4M209.5,210.9L210.0,210.4M216.3,219.9L225.3,215.8M215.0,217.3L215.4,217.1M218.4,226.0L223.9,224.9M217.4,222.2L221.9,220.6M191.1,231.4L217.1,230.0" stroke="#111" stroke-width="0.7" fill="none"/>
<path d="M169.8,213.2A28.0,28.0 0 0 0 164.1,223.8M169.8,213.2L167.5,211.2M164.1,223.8L148.9,219.5M149.6,217.3A43.8,43.8 0 0 0 148.3,221.8M149.6,217.3L148.2,216.8M148.3,221.8L147.9,221.7M148.2,220.4A44.3,44.3 0 0 0 147.6,223.1M148.2,220.4L146.0,219.9M147.6,223.1L147.3,223.0M147.6,221.6A44.6,44.6 0 0 0 147.0,224.4M147.6,221.6L144.0,220.8M147.0,224.4L146.7,224.4M147.0,223.1A44.9,44.9 0 0 0 146.5,225.7M147.0,223.1L145.2,222.8M146.5,225.7L146.3,225.6M146.5,224.4A45.1,45.1 0 0 0 146.2,226.9M146.5,224.4L145.2,224.2M146.2,226.9L145.7,226.8M145.7,226.3A45.7,45.7 0 0 0 145.6,227.4M145.7,226.3L145.4,226.2M145.6,227.4L143.3,227.2M148.6,215.8A45.3,45.3 0 0 0 147.8,217.8M148.6,215.8L147.8,215.5M147.8,217.8L147.4,217.7M147.6,217.0A45.8,45.8 0 0 0 147.2,218.4M147.6,217.0L145.6,216.3M147.2,218.4L146.9,218.3M171.2,207.5A31.1,31.1 0 0 0 164.5,215.4M164.5,215.4L155.6,210.1M157.5,207.3A41.4,41.4 0 0 0 154.0,213.1M154.0,213.1L152.0,212.2M153.2,209.9A43.6,43.6 0 0 0 150.9,214.5M153.2,209.9L152.7,209.7M150.9,214.5L149.5,213.9M149.9,212.9A45.2,45.2 0 0 0 149.1,214.8M149.9,212.9L149.7,212.9M149.1,214.8L148.1,214.4M149.9,212.3A45.4,45.4 0 0 0 149.4,213.4M149.9,212.3L149.0,211.9M149.4,213.4L149.0,213.2M153.4,208.5A44.1,44.1 0 0 0 152.1,210.8M153.4,208.5L153.0,208.3M152.1,210.8L151.6,210.6M151.9,209.8A44.7,44.7 0 0 0 151.2,211.3M151.9,209.8L151.4,209.6M151.2,211.3L149.3,210.4M153.2,207.9A44.6,44.6 0 0 0 152.8,208.6M153.2,207.9L152.4,207.4M152.8,208.6L152.4,208.4M158.0,206.6A41.4,41.4 0 0 0 157.0,208.0M158.0,206.6L157.7,206.3M157.0,208.0L155.4,206.9M155.9,206.3A43.3,43.3 0 0 0 155.0,207.6M155.9,206.3L155.3,205.8M155.0,207.6L154.7,207.4M173.9,205.5A31.1,31.1 0 0 0 168.7,209.8M168.7,209.8L165.8,207.0M167.4,205.4A35.2,35.2 0 0 0 164.3,208.6M164.3,208.6L161.3,206.0M161.8,205.5A39.2,39.2 0 0 0 160.8,206.6M161.8,205.5L160.5,204.4M160.8,206.6L160.3,206.2M160.7,205.8A39.8,39.8 0 0 0 160.0,206.7M160.7,205.8L160.3,205.4M160.0,206.7L158.6,205.6M168.4,204.5A35.2,35.2 0 0 0 166.3,206.4M168.4,204.5L168.2,204.3M166.3,206.4L165.4,205.4M166.0,204.8A36.6,36.6 0 0 0 164.7,206.0M166.0,204.8L165.7,204.5M164.7,206.0L163.5,204.9M164.0,204.4A38.3,38.3 0 0 0 163.1,205.3M164.0,204.4L163.6,204.0M163.1,205.3L161.6,203.9M166.0,204.2A37.0,37.0 0 0 0 165.4,204.8M166.0,204.2L165.6,203.7M165.4,204.8L165.1,204.5M168.5,204.0A35.5,35.5 0 0 0 167.9,204.5M168.5,204.0L168.3,203.8M167.9,204.5L166.8,203.2M174.8,205.0A31.1,31.1 0 0 0 173.1,206.1M174.8,205.0L174.5,204.5M173.1,206.1L171.9,204.6M172.7,204.0A33.0,33.0 0 0 0 171.2,205.2M172.7,204.0L172.5,203.7M171.2,205.2L170.9,204.7M171.2,204.5A33.5,33.5 0 0 0 170.5,205.0M171.2,204.5L171.0,204.2M170.5,205.0L169.9,204.3M172.8,203.5A33.4,33.4 0 0 0 172.2,203.9M172.8,203.5L172.7,203.2M172.2,203.9L171.6,203.1M208.8,262.2A35.5,35.5 0 0 0 212.2,260.0M208.8,262.2L209.1,262.7M212.2,260.0L213.3,261.4M211.9,262.4A37.3,37.3 0 0 0 214.6,260.4M211.9,262.4L212.3,262.9M214.6,260.4L215.1,261.0M214.4,261.5A38.1,38.1 0 0 0 215.7,260.4M214.4,261.5L214.5,261.8M215.7,260.4L216.5,261.2M215.8,261.8A39.2,39.2 0 0 0 217.1,260.7M215.8,261.8L219.7,266.6M217.1,260.7L217.3,260.9M211.6,263.4A38.0,38.0 0 0 0 213.0,262.4M211.6,263.4L211.9,263.9M213.0,262.4L213.9,263.8M213.5,264.1A39.6,39.6 0 0 0 214.3,263.5M213.5,264.1L213.9,264.7M214.3,263.5L218.9,269.7M208.5,263.1A36.1,36.1 0 0 0 209.6,262.4M209.6,262.4L215.4,272.1M203.1,263.2L203.3,263.6M200.1,263.8A33.6,33.6 0 0 0 201.9,263.2M200.1,263.8L200.2,264.3M201.9,263.2L202.0,263.7M201.4,263.9A34.1,34.1 0 0 0 202.6,263.5M201.4,263.9L202.4,266.7M202.6,263.5L202.8,264.0M197.3,263.0L198.3,268.0M198.1,262.9L198.3,263.7M199.0,262.6L199.7,265.3M176.4,260.5A32.5,32.5 0 0 0 178.1,261.2M176.4,260.5L175.6,262.2M178.1,261.2L178.0,261.4M177.8,261.2A32.7,32.7 0 0 0 178.3,261.5M178.3,261.5L176.8,264.9M175.1,261.9A34.5,34.5 0 0 0 176.1,262.4M175.1,261.9L174.8,262.3M176.1,262.4L174.0,266.8M172.2,260.5A34.7,34.7 0 0 0 173.8,261.5M172.2,260.5L170.8,262.7M173.8,261.5L173.3,262.3M172.8,262.0A35.7,35.7 0 0 0 173.8,262.6M172.8,262.0L171.4,264.4M173.8,262.6L173.7,262.9M169.1,255.3A32.4,32.4 0 0 0 171.9,257.6M171.9,257.6L169.5,260.8M168.7,260.3A36.5,36.5 0 0 0 170.3,261.4M170.3,261.4L169.9,261.9M169.5,261.5A37.1,37.1 0 0 0 170.4,262.2M170.4,262.2L169.4,263.8M168.4,254.6A32.4,32.4 0 0 0 169.9,256.0M168.4,254.6L163.2,259.8M169.9,256.0L169.6,256.3M169.1,255.9A32.9,32.9 0 0 0 170.1,256.8M169.1,255.9L168.7,256.4M170.1,256.8L166.9,260.6M168.3,256.0A33.5,33.5 0 0 0 169.1,256.7M168.3,256.0L168.0,256.2M169.1,256.7L168.5,257.4M167.0,254.6L162.6,258.8M165.4,253.3L164.8,253.8M163.1,253.1L159.6,255.8M178.3,202.2L175.9,196.7M179.6,203.2L176.7,196.1M181.1,202.9L178.8,196.4M184.4,202.7A29.5,29.5 0 0 0 182.6,203.2M184.4,202.7L184.4,202.6M182.6,203.2L181.6,199.9M181.7,199.9A32.9,32.9 0 0 0 181.5,200.0M181.5,200.0L179.4,193.2M184.8,202.6A29.5,29.5 0 0 0 184.0,202.8M184.8,202.6L183.1,194.9M184.0,202.8L183.7,201.9M184.2,201.8A30.4,30.4 0 0 0 183.3,202.0M183.3,202.0L183.2,201.5M183.3,201.5A30.9,30.9 0 0 0 183.0,201.6M183.3,201.5L181.2,193.3M185.2,198.9L184.7,196.0M186.8,201.0L185.9,194.7M201.2,203.5A29.6,29.6 0 0 0 199.7,203.0M201.2,203.5L201.9,201.6M199.7,203.0L199.9,202.5M200.3,202.6A30.2,30.2 0 0 0 199.4,202.3M200.3,202.6L201.3,199.5M199.4,202.3L199.6,201.7M202.2,201.7A31.7,31.7 0 0 0 201.6,201.5M202.2,201.7L202.5,200.9M201.6,201.5L201.8,200.8M206.0,206.7A28.8,28.8 0 0 0 203.1,205.2M203.1,205.2L204.0,203.4M204.5,203.7A30.8,30.8 0 0 0 203.4,203.1M204.5,203.7L207.1,198.4M203.4,203.1L203.8,202.2M204.4,202.5A31.8,31.8 0 0 0 203.2,202.0M204.4,202.5L205.7,199.6M203.2,202.0L203.4,201.2M206.7,207.1A28.9,28.9 0 0 0 205.4,206.3M206.7,207.1L208.8,203.9M205.4,206.3L205.4,206.3M206.1,206.7A28.9,28.9 0 0 0 204.8,205.9M206.1,206.7L209.1,201.7M204.8,205.9L205.0,205.5M205.3,205.6A29.4,29.4 0 0 0 204.7,205.3M205.3,205.6L205.6,205.1M204.7,205.3L209.4,196.2M207.8,207.2L213.8,198.5M215.0,212.0L219.8,208.1M220.9,209.8L221.3,209.5M220.4,209.1L222.1,207.8M214.9,216.3L223.0,211.1M214.4,215.6L225.5,208.1M216.5,216.2L228.9,208.8M225.6,216.4A37.6,37.6 0 0 0 225.0,215.2M225.0,215.2L225.4,215.0M225.6,215.4A38.0,38.0 0 0 0 225.1,214.6M225.6,215.4L227.1,214.7M225.1,214.6L225.5,214.4M222.2,221.6A32.6,32.6 0 0 0 221.5,219.6M222.2,221.6L222.5,221.5M221.5,219.6L231.6,215.7M231.9,216.3A43.5,43.5 0 0 0 231.4,215.1M231.4,215.1L231.8,214.9M222.6,221.8A32.9,32.9 0 0 0 222.4,221.2M222.6,221.8L222.9,221.7M227.5,222.8L229.3,222.4M224.4,225.1L225.1,225.0" stroke="#9430e4" stroke-width="1.3" fill="none"/>
<path d="M223.5,238.4A33.2,33.2 0 0 0 224.0,235.5M223.5,238.4L225.0,238.7M224.0,235.5L224.4,235.6M224.3,236.6A33.6,33.6 0 0 0 224.5,234.5M224.3,236.6L226.1,236.9M224.5,234.5L225.1,234.6M225.0,235.2A34.1,34.1 0 0 0 225.1,234.0M225.0,235.2L225.9,235.3M225.1,234.0L228.3,234.3M228.2,234.9A37.3,37.3 0 0 0 228.3,233.6M228.2,234.9L229.3,235.0M228.3,233.6L229.3,233.7M226.1,237.4A35.5,35.5 0 0 0 226.2,236.4M226.1,237.4L228.8,237.8M226.2,236.4L226.5,236.4M224.8,239.3A34.6,34.6 0 0 0 225.1,238.1M224.8,239.3L225.4,239.4M225.1,238.1L228.8,238.8M221.3,241.9A32.0,32.0 0 0 0 221.8,240.4M221.3,241.9L224.8,243.2M221.8,240.4L221.9,240.4M221.7,241.0A32.1,32.1 0 0 0 222.1,239.8M221.7,241.0L225.1,242.1M222.1,239.8L223.0,240.0M222.9,240.5A33.0,33.0 0 0 0 223.1,239.6M222.9,240.5L223.6,240.7M223.1,239.6L223.5,239.7M224.7,243.6A35.7,35.7 0 0 0 225.0,242.7M224.7,243.6L225.5,243.9M225.0,242.7L225.7,243.0M219.4,246.8A32.2,32.2 0 0 0 220.3,245.0M219.4,246.8L220.6,247.5M220.3,245.0L221.0,245.3M220.7,245.9A33.0,33.0 0 0 0 221.2,244.7M220.7,245.9L221.3,246.2M221.2,244.7L221.8,245.0M221.5,245.6A33.5,33.5 0 0 0 222.0,244.4M221.5,245.6L224.7,247.0M222.0,244.4L222.4,244.5M222.2,244.9A33.9,33.9 0 0 0 222.5,244.1M222.2,244.9L225.3,246.3M222.5,244.1L223.2,244.4M220.4,247.8A33.5,33.5 0 0 0 220.7,247.1M220.4,247.8L220.8,248.0M220.7,247.1L221.9,247.8M216.4,251.7A32.4,32.4 0 0 0 218.3,249.1M216.4,251.7L218.7,253.6M217.7,249.9A32.4,32.4 0 0 0 218.8,248.3M217.7,249.9L218.5,250.5M218.8,248.3L219.1,248.5M218.9,248.9A32.8,32.8 0 0 0 219.3,248.1M218.9,248.9L223.0,251.5M219.3,248.1L219.9,248.5M218.3,250.8A33.4,33.4 0 0 0 218.8,250.1M218.3,250.8L221.0,252.8M218.8,250.1L219.1,250.3M218.2,254.2A35.4,35.4 0 0 0 219.2,253.0M218.2,254.2L219.0,254.8M219.2,253.0L219.5,253.2M219.1,253.8A35.8,35.8 0 0 0 219.9,252.7M219.1,253.8L219.8,254.4M219.9,252.7L220.9,253.4M213.0,254.9A32.1,32.1 0 0 0 214.4,253.5M213.0,254.9L213.7,255.6M214.4,253.5L214.6,253.7M214.0,254.4A32.5,32.5 0 0 0 215.2,253.1M214.0,254.4L216.0,256.3M215.2,253.1L215.5,253.4M215.1,253.8A32.9,32.9 0 0 0 215.9,253.0M215.1,253.8L217.3,255.8M215.9,253.0L216.3,253.3M215.6,256.7A35.3,35.3 0 0 0 216.4,255.9M215.6,256.7L217.0,258.1M216.4,255.9L216.9,256.4M208.5,263.1L208.9,263.7M202.9,260.8A31.7,31.7 0 0 0 204.8,260.0M202.9,260.8L203.7,262.9M204.0,260.4A31.7,31.7 0 0 0 205.5,259.6M204.0,260.4L205.6,264.1M205.5,259.6L205.9,260.4M205.5,260.6A32.5,32.5 0 0 0 206.4,260.1M205.5,260.6L206.8,263.2M206.4,260.1L206.8,261.0M203.1,263.2A34.0,34.0 0 0 0 204.4,262.7M204.4,262.7L204.9,263.8M193.1,263.6A32.2,32.2 0 0 0 197.9,262.9M193.1,263.6L193.2,264.8M197.3,263.0A32.2,32.2 0 0 0 198.6,262.8M198.1,262.9A32.2,32.2 0 0 0 199.0,262.6M192.1,264.8A33.4,33.4 0 0 0 194.2,264.7M192.1,264.8L192.1,265.2M194.2,264.7L194.3,265.5M193.6,265.6A34.3,34.3 0 0 0 195.0,265.5M193.6,265.6L193.7,267.6M195.0,265.5L195.1,266.4M194.7,266.4A35.2,35.2 0 0 0 195.6,266.3M194.7,266.4L194.8,267.3M195.6,266.3L195.7,267.1M191.6,265.2A33.8,33.8 0 0 0 192.7,265.2M191.6,265.2L191.6,267.6M192.7,265.2L192.7,265.5M189.8,264.7A33.3,33.3 0 0 0 191.1,264.7M189.8,264.7L189.8,265.7M191.1,264.7L191.1,266.9M189.4,265.7A34.3,34.3 0 0 0 190.2,265.7M189.4,265.7L189.3,267.5M190.2,265.7L190.2,266.4M186.5,263.1A32.0,32.0 0 0 0 188.2,263.3M186.5,263.1L186.4,263.6M188.2,263.3L187.9,265.8M187.5,265.8A34.6,34.6 0 0 0 188.4,265.9M187.5,265.8L187.3,267.2M188.4,265.9L188.3,266.5M185.9,263.5A32.5,32.5 0 0 0 186.9,263.7M185.9,263.5L185.6,264.9M186.9,263.7L186.8,264.2M180.1,261.1A31.7,31.7 0 0 0 183.3,262.1M180.1,261.1L179.7,262.0M182.3,261.9A31.7,31.7 0 0 0 184.3,262.4M182.3,261.9L181.7,264.1M184.3,262.4L184.2,262.6M183.7,262.5A31.9,31.9 0 0 0 184.8,262.7M183.7,262.5L183.4,263.8M184.8,262.7L184.7,263.4M184.3,263.3A32.6,32.6 0 0 0 185.0,263.4M184.3,263.3L183.6,266.9M185.0,263.4L184.8,264.4M181.3,264.0A34.0,34.0 0 0 0 182.1,264.2M181.3,264.0L180.7,265.7M182.1,264.2L181.9,264.6M179.2,261.7A32.6,32.6 0 0 0 180.3,262.2M179.2,261.7L177.8,265.1M180.3,262.2L180.2,262.7M179.8,262.5A33.1,33.1 0 0 0 180.5,262.8M179.8,262.5L179.7,262.8M180.5,262.8L179.7,265.3M177.8,261.2L177.5,261.9M168.7,260.3L168.5,260.6M169.5,261.5L169.0,262.2M164.5,248.9A31.9,31.9 0 0 0 166.8,252.0M164.5,248.9L163.9,249.3M166.8,252.0L166.1,252.6M165.2,251.6A32.8,32.8 0 0 0 167.0,253.6M165.2,251.6L163.7,252.8M167.0,253.6L166.5,254.0M166.0,253.5A33.4,33.4 0 0 0 167.0,254.6M166.0,253.5L165.8,253.7M165.4,253.3A33.8,33.8 0 0 0 166.1,254.1M166.1,254.1L165.1,255.0M163.2,252.2A34.8,34.8 0 0 0 164.1,253.3M163.2,252.2L162.8,252.6M164.1,253.3L162.4,254.7M162.4,252.1A35.4,35.4 0 0 0 163.1,253.1M162.4,252.1L162.0,252.4M163.6,248.8A32.5,32.5 0 0 0 164.2,249.8M163.6,248.8L162.4,249.6M164.2,249.8L163.8,250.1M163.0,243.6A30.6,30.6 0 0 0 164.0,245.6M163.0,243.6L162.0,244.1M164.0,245.6L163.6,245.8M163.2,245.1A31.1,31.1 0 0 0 164.0,246.6M163.2,245.1L161.0,246.2M164.0,246.6L163.5,246.8M163.2,246.3A31.6,31.6 0 0 0 163.8,247.4M163.2,246.3L161.9,247.0M163.8,247.4L163.0,247.8M162.7,247.3A32.5,32.5 0 0 0 163.3,248.3M162.7,247.3L161.7,247.9M163.3,248.3L162.6,248.7M161.8,243.6A31.7,31.7 0 0 0 162.2,244.6M161.8,243.6L161.2,243.8M162.2,244.6L161.8,244.8M160.3,241.1A32.3,32.3 0 0 0 160.9,242.8M160.3,241.1L158.0,241.9M160.9,242.8L160.1,243.1M160.0,242.7A33.1,33.1 0 0 0 160.3,243.5M160.0,242.7L158.7,243.1M160.3,243.5L159.4,243.8M159.4,235.5A32.0,32.0 0 0 0 160.1,239.2M160.1,239.2L160.0,239.3M159.8,238.6A32.1,32.1 0 0 0 160.2,239.9M159.8,238.6L157.7,239.1M160.0,239.4A32.1,32.1 0 0 0 160.3,240.4M160.0,239.4L160.0,239.4M160.3,240.4L157.7,241.1M159.3,234.6A32.0,32.0 0 0 0 159.5,236.4M159.5,236.4L159.3,236.5M159.2,235.7A32.2,32.2 0 0 0 159.5,237.2M159.2,235.7L157.9,235.9M159.5,237.2L158.9,237.3M158.8,236.8A32.7,32.7 0 0 0 159.0,237.8M158.8,236.8L158.1,237.0M159.0,237.8L158.1,237.9M159.3,234.4A32.0,32.0 0 0 0 159.3,234.9M159.3,234.4L159.2,234.4M159.3,234.9L156.8,235.1M159.2,230.3A31.9,31.9 0 0 0 159.2,232.9M159.2,232.9L158.2,232.9M158.2,232.4A33.0,33.0 0 0 0 158.2,233.4M158.2,232.4L156.6,232.4M158.2,233.4L157.2,233.5M159.3,229.7A31.9,31.9 0 0 0 159.2,230.8M159.3,229.7L159.0,229.7M159.2,230.8L159.1,230.8M159.1,230.4A32.0,32.0 0 0 0 159.1,231.3M159.1,230.4L158.8,230.3M159.1,231.3L156.4,231.3M178.6,203.6A30.5,30.5 0 0 0 176.7,204.5M178.6,203.6L178.0,202.3M176.7,204.5L176.5,204.2M176.8,204.0A30.9,30.9 0 0 0 176.3,204.3M176.8,204.0L176.4,203.1M176.3,204.3L175.8,203.4M178.3,202.2A31.9,31.9 0 0 0 177.7,202.5M177.7,202.5L177.5,201.9M177.8,201.8A32.4,32.4 0 0 0 177.2,202.1M177.8,201.8L177.2,200.4M177.2,202.1L177.0,201.7M181.4,202.9A30.2,30.2 0 0 0 179.7,203.5M179.7,203.5L179.6,203.2M179.6,203.2L179.3,202.4M181.7,202.7A30.2,30.2 0 0 0 181.0,203.0M181.7,202.7L180.5,199.2M181.1,202.9A30.2,30.2 0 0 0 180.9,203.0M180.9,203.0L180.6,202.1M181.7,199.9L181.5,199.4M184.2,201.8L183.6,199.4M183.0,201.6L182.9,201.2M185.7,199.8A32.1,32.1 0 0 0 185.1,199.9M185.7,199.8L185.5,198.9M185.1,199.9L184.9,199.0M185.2,198.9A33.0,33.0 0 0 0 184.7,199.0M184.7,199.0L184.5,198.3M191.8,204.2A27.2,27.2 0 0 0 188.5,204.3M188.5,204.3L188.5,203.5M189.4,203.5A28.0,28.0 0 0 0 187.5,203.6M187.5,203.6L187.2,201.0M187.6,200.9A30.7,30.7 0 0 0 186.8,201.0M187.6,200.9L187.5,200.0M188.1,200.0A31.6,31.6 0 0 0 187.0,200.1M188.1,200.0L188.0,199.1M187.0,200.1L186.7,198.3M192.7,204.3A27.2,27.2 0 0 0 191.0,204.2M192.7,204.3L192.8,202.7M191.5,204.2A27.2,27.2 0 0 0 190.4,204.2M190.4,204.2L190.4,202.2M191.1,202.2A29.2,29.2 0 0 0 189.7,202.3M191.1,202.2L191.1,201.2M197.1,205.1A27.0,27.0 0 0 0 194.6,204.6M194.6,204.6L194.6,204.5M195.4,204.6A27.1,27.1 0 0 0 193.8,204.4M195.4,204.6L195.9,201.3M194.2,204.4A27.1,27.1 0 0 0 193.5,204.4M194.2,204.4L194.2,203.7M197.6,205.2A27.0,27.0 0 0 0 196.5,204.9M196.5,204.9L196.8,203.8M197.2,203.9A28.2,28.2 0 0 0 196.3,203.7M197.2,203.9L197.4,203.2M211.0,211.3A28.3,28.3 0 0 0 208.9,209.5M211.0,211.3L212.5,209.8M209.9,210.3A28.3,28.3 0 0 0 207.9,208.7M207.9,208.7L208.6,207.8M209.0,208.1A29.4,29.4 0 0 0 208.1,207.4M209.0,208.1L209.5,207.5M208.3,207.6A29.4,29.4 0 0 0 207.8,207.2M210.3,210.6A28.3,28.3 0 0 0 209.5,210.0M210.3,210.6L211.0,209.9M209.9,210.3A28.3,28.3 0 0 0 209.2,209.7M209.9,210.3L211.5,208.4M213.1,212.8A28.8,28.8 0 0 0 212.4,211.9M213.1,212.8L213.6,212.4M212.8,212.4A28.8,28.8 0 0 0 212.0,211.5M212.8,212.4L215.1,210.4M214.7,215.0A28.7,28.7 0 0 0 213.9,213.9M214.7,215.0L216.8,213.5M214.2,214.4A28.7,28.7 0 0 0 213.5,213.4M213.5,213.4L215.1,212.1M215.2,212.3A30.8,30.8 0 0 0 215.0,212.0M215.2,212.3L215.5,212.0M214.4,214.5A28.7,28.7 0 0 0 214.2,214.3M214.4,214.5L215.1,214.0M214.2,214.3L220.7,209.4M220.9,209.8A36.8,36.8 0 0 0 220.4,209.1M215.7,217.7A28.2,28.2 0 0 0 215.0,216.4M215.7,217.7L227.4,211.3M215.2,216.8A28.2,28.2 0 0 0 214.7,216.0M215.2,216.8L216.4,216.1M214.9,216.3A28.2,28.2 0 0 0 214.6,215.8M214.7,216.0A28.2,28.2 0 0 0 214.4,215.6M216.5,216.2A29.6,29.6 0 0 0 216.3,216.0M227.6,211.7A41.5,41.5 0 0 0 227.1,210.8M227.6,211.7L230.8,210.0M227.1,210.8L227.6,210.5M225.6,216.4L228.0,215.3M231.9,216.3L232.4,216.1M222.4,221.2L233.2,217.7M224.0,225.8A33.4,33.4 0 0 0 223.7,223.9M224.0,225.8L224.5,225.7M223.7,223.9L224.9,223.7M225.1,224.4A34.7,34.7 0 0 0 224.7,222.9M225.1,224.4L225.6,224.3M224.7,222.9L227.4,222.3M227.5,222.8A37.4,37.4 0 0 0 227.2,221.7M227.2,221.7L228.1,221.5M224.6,226.4A33.8,33.8 0 0 0 224.4,225.1M224.6,226.4L231.0,225.4" stroke="#f4a630" stroke-width="1.3" fill="none"/>
<path d="M191.1,231.4L194.1,231.4" stroke="#222" stroke-width="0.8"/>
<circle cx="194.1" cy="231.4" r="1.3" fill="#111"/>
<path d="M191.1,231.4L198.1,231.4" stroke="#222" stroke-width="0.8"/>
<circle cx="198.1" cy="231.4" r="1.3" fill="#111"/>
<path d="M228.1,233.7a1.2,1.2 0 1 0 2.4,0a1.2,1.2 0 1 0 -2.4,0M228.1,235.0a1.2,1.2 0 1 0 2.4,0a1.2,1.2 0 1 0 -2.4,0M224.7,235.3a1.2,1.2 0 1 0 2.4,0a1.2,1.2 0 1 0 -2.4,0M225.3,236.4a1.2,1.2 0 1 0 2.4,0a1.2,1.2 0 1 0 -2.4,0M227.6,237.8a1.2,1.2 0 1 0 2.4,0a1.2,1.2 0 1 0 -2.4,0M227.6,238.8a1.2,1.2 0 1 0 2.4,0a1.2,1.2 0 1 0 -2.4,0M224.2,239.4a1.2,1.2 0 1 0 2.4,0a1.2,1.2 0 1 0 -2.4,0M222.3,239.7a1.2,1.2 0 1 0 2.4,0a1.2,1.2 0 1 0 -2.4,0M222.4,240.7a1.2,1.2 0 1 0 2.4,0a1.2,1.2 0 1 0 -2.4,0M223.9,242.1a1.2,1.2 0 1 0 2.4,0a1.2,1.2 0 1 0 -2.4,0M224.5,243.0a1.2,1.2 0 1 0 2.4,0a1.2,1.2 0 1 0 -2.4,0M224.3,243.9a1.2,1.2 0 1 0 2.4,0a1.2,1.2 0 1 0 -2.4,0M222.0,244.4a1.2,1.2 0 1 0 2.4,0a1.2,1.2 0 1 0 -2.4,0M224.1,246.3a1.2,1.2 0 1 0 2.4,0a1.2,1.2 0 1 0 -2.4,0M223.5,247.0a1.2,1.2 0 1 0 2.4,0a1.2,1.2 0 1 0 -2.4,0M220.1,246.2a1.2,1.2 0 1 0 2.4,0a1.2,1.2 0 1 0 -2.4,0M220.7,247.8a1.2,1.2 0 1 0 2.4,0a1.2,1.2 0 1 0 -2.4,0M219.6,248.0a1.2,1.2 0 1 0 2.4,0a1.2,1.2 0 1 0 -2.4,0M218.7,248.5a1.2,1.2 0 1 0 2.4,0a1.2,1.2 0 1 0 -2.4,0M221.8,251.5a1.2,1.2 0 1 0 2.4,0a1.2,1.2 0 1 0 -2.4,0M217.9,250.3a1.2,1.2 0 1 0 2.4,0a1.2,1.2 0 1 0 -2.4,0M219.8,252.8a1.2,1.2 0 1 0 2.4,0a1.2,1.2 0 1 0 -2.4,0M219.7,253.4a1.2,1.2 0 1 0 2.4,0a1.2,1.2 0 1 0 -2.4,0M218.6,254.4a1.2,1.2 0 1 0 2.4,0a1.2,1.2 0 1 0 -2.4,0M217.8,254.8a1.2,1.2 0 1 0 2.4,0a1.2,1.2 0 1 0 -2.4,0M215.1,253.3a1.2,1.2 0 1 0 2.4,0a1.2,1.2 0 1 0 -2.4,0M216.1,255.8a1.2,1.2 0 1 0 2.4,0a1.2,1.2 0 1 0 -2.4,0M215.7,256.4a1.2,1.2 0 1 0 2.4,0a1.2,1.2 0 1 0 -2.4,0M215.8,258.1a1.2,1.2 0 1 0 2.4,0a1.2,1.2 0 1 0 -2.4,0M212.5,255.6a1.2,1.2 0 1 0 2.4,0a1.2,1.2 0 1 0 -2.4,0M207.7,263.7a1.2,1.2 0 1 0 2.4,0a1.2,1.2 0 1 0 -2.4,0M205.6,261.0a1.2,1.2 0 1 0 2.4,0a1.2,1.2 0 1 0 -2.4,0M205.6,263.2a1.2,1.2 0 1 0 2.4,0a1.2,1.2 0 1 0 -2.4,0M204.4,264.1a1.2,1.2 0 1 0 2.4,0a1.2,1.2 0 1 0 -2.4,0M203.7,263.8a1.2,1.2 0 1 0 2.4,0a1.2,1.2 0 1 0 -2.4,0M194.5,267.1a1.2,1.2 0 1 0 2.4,0a1.2,1.2 0 1 0 -2.4,0M193.6,267.3a1.2,1.2 0 1 0 2.4,0a1.2,1.2 0 1 0 -2.4,0M192.5,267.6a1.2,1.2 0 1 0 2.4,0a1.2,1.2 0 1 0 -2.4,0M191.5,265.5a1.2,1.2 0 1 0 2.4,0a1.2,1.2 0 1 0 -2.4,0M190.4,267.6a1.2,1.2 0 1 0 2.4,0a1.2,1.2 0 1 0 -2.4,0M189.9,266.9a1.2,1.2 0 1 0 2.4,0a1.2,1.2 0 1 0 -2.4,0M189.0,266.4a1.2,1.2 0 1 0 2.4,0a1.2,1.2 0 1 0 -2.4,0M188.1,267.5a1.2,1.2 0 1 0 2.4,0a1.2,1.2 0 1 0 -2.4,0M187.1,266.5a1.2,1.2 0 1 0 2.4,0a1.2,1.2 0 1 0 -2.4,0M186.1,267.2a1.2,1.2 0 1 0 2.4,0a1.2,1.2 0 1 0 -2.4,0M185.6,264.2a1.2,1.2 0 1 0 2.4,0a1.2,1.2 0 1 0 -2.4,0M184.4,264.9a1.2,1.2 0 1 0 2.4,0a1.2,1.2 0 1 0 -2.4,0M183.6,264.4a1.2,1.2 0 1 0 2.4,0a1.2,1.2 0 1 0 -2.4,0M182.4,266.9a1.2,1.2 0 1 0 2.4,0a1.2,1.2 0 1 0 -2.4,0M182.2,263.8a1.2,1.2 0 1 0 2.4,0a1.2,1.2 0 1 0 -2.4,0M180.7,264.6a1.2,1.2 0 1 0 2.4,0a1.2,1.2 0 1 0 -2.4,0M179.5,265.7a1.2,1.2 0 1 0 2.4,0a1.2,1.2 0 1 0 -2.4,0M178.5,265.3a1.2,1.2 0 1 0 2.4,0a1.2,1.2 0 1 0 -2.4,0M178.5,262.8a1.2,1.2 0 1 0 2.4,0a1.2,1.2 0 1 0 -2.4,0M176.6,265.1a1.2,1.2 0 1 0 2.4,0a1.2,1.2 0 1 0 -2.4,0M176.3,261.9a1.2,1.2 0 1 0 2.4,0a1.2,1.2 0 1 0 -2.4,0M167.8,262.2a1.2,1.2 0 1 0 2.4,0a1.2,1.2 0 1 0 -2.4,0M167.3,260.6a1.2,1.2 0 1 0 2.4,0a1.2,1.2 0 1 0 -2.4,0M163.9,255.0a1.2,1.2 0 1 0 2.4,0a1.2,1.2 0 1 0 -2.4,0M161.2,254.7a1.2,1.2 0 1 0 2.4,0a1.2,1.2 0 1 0 -2.4,0M160.8,252.4a1.2,1.2 0 1 0 2.4,0a1.2,1.2 0 1 0 -2.4,0M162.6,250.1a1.2,1.2 0 1 0 2.4,0a1.2,1.2 0 1 0 -2.4,0M161.2,249.6a1.2,1.2 0 1 0 2.4,0a1.2,1.2 0 1 0 -2.4,0M161.4,248.7a1.2,1.2 0 1 0 2.4,0a1.2,1.2 0 1 0 -2.4,0M160.5,247.9a1.2,1.2 0 1 0 2.4,0a1.2,1.2 0 1 0 -2.4,0M160.7,247.0a1.2,1.2 0 1 0 2.4,0a1.2,1.2 0 1 0 -2.4,0M159.8,246.2a1.2,1.2 0 1 0 2.4,0a1.2,1.2 0 1 0 -2.4,0M160.6,244.8a1.2,1.2 0 1 0 2.4,0a1.2,1.2 0 1 0 -2.4,0M160.0,243.8a1.2,1.2 0 1 0 2.4,0a1.2,1.2 0 1 0 -2.4,0M158.2,243.8a1.2,1.2 0 1 0 2.4,0a1.2,1.2 0 1 0 -2.4,0M157.5,243.1a1.2,1.2 0 1 0 2.4,0a1.2,1.2 0 1 0 -2.4,0M156.8,241.9a1.2,1.2 0 1 0 2.4,0a1.2,1.2 0 1 0 -2.4,0M156.5,241.1a1.2,1.2 0 1 0 2.4,0a1.2,1.2 0 1 0 -2.4,0M158.8,239.4a1.2,1.2 0 1 0 2.4,0a1.2,1.2 0 1 0 -2.4,0M156.5,239.1a1.2,1.2 0 1 0 2.4,0a1.2,1.2 0 1 0 -2.4,0M156.9,237.9a1.2,1.2 0 1 0 2.4,0a1.2,1.2 0 1 0 -2.4,0M156.9,237.0a1.2,1.2 0 1 0 2.4,0a1.2,1.2 0 1 0 -2.4,0M156.7,235.9a1.2,1.2 0 1 0 2.4,0a1.2,1.2 0 1 0 -2.4,0M155.6,235.1a1.2,1.2 0 1 0 2.4,0a1.2,1.2 0 1 0 -2.4,0M158.0,234.4a1.2,1.2 0 1 0 2.4,0a1.2,1.2 0 1 0 -2.4,0M156.0,233.5a1.2,1.2 0 1 0 2.4,0a1.2,1.2 0 1 0 -2.4,0M155.4,232.4a1.2,1.2 0 1 0 2.4,0a1.2,1.2 0 1 0 -2.4,0M155.2,231.3a1.2,1.2 0 1 0 2.4,0a1.2,1.2 0 1 0 -2.4,0M157.6,230.3a1.2,1.2 0 1 0 2.4,0a1.2,1.2 0 1 0 -2.4,0M157.8,229.7a1.2,1.2 0 1 0 2.4,0a1.2,1.2 0 1 0 -2.4,0M174.6,203.4a1.2,1.2 0 1 0 2.4,0a1.2,1.2 0 1 0 -2.4,0M175.2,203.1a1.2,1.2 0 1 0 2.4,0a1.2,1.2 0 1 0 -2.4,0M175.8,201.7a1.2,1.2 0 1 0 2.4,0a1.2,1.2 0 1 0 -2.4,0M176.0,200.4a1.2,1.2 0 1 0 2.4,0a1.2,1.2 0 1 0 -2.4,0M178.1,202.4a1.2,1.2 0 1 0 2.4,0a1.2,1.2 0 1 0 -2.4,0M179.4,202.1a1.2,1.2 0 1 0 2.4,0a1.2,1.2 0 1 0 -2.4,0M179.3,199.2a1.2,1.2 0 1 0 2.4,0a1.2,1.2 0 1 0 -2.4,0M180.3,199.4a1.2,1.2 0 1 0 2.4,0a1.2,1.2 0 1 0 -2.4,0M181.7,201.2a1.2,1.2 0 1 0 2.4,0a1.2,1.2 0 1 0 -2.4,0M182.4,199.4a1.2,1.2 0 1 0 2.4,0a1.2,1.2 0 1 0 -2.4,0M183.3,198.3a1.2,1.2 0 1 0 2.4,0a1.2,1.2 0 1 0 -2.4,0M184.3,198.9a1.2,1.2 0 1 0 2.4,0a1.2,1.2 0 1 0 -2.4,0M185.5,198.3a1.2,1.2 0 1 0 2.4,0a1.2,1.2 0 1 0 -2.4,0M186.8,199.1a1.2,1.2 0 1 0 2.4,0a1.2,1.2 0 1 0 -2.4,0M188.2,203.5a1.2,1.2 0 1 0 2.4,0a1.2,1.2 0 1 0 -2.4,0M188.5,202.3a1.2,1.2 0 1 0 2.4,0a1.2,1.2 0 1 0 -2.4,0M189.9,201.2a1.2,1.2 0 1 0 2.4,0a1.2,1.2 0 1 0 -2.4,0M190.3,204.2a1.2,1.2 0 1 0 2.4,0a1.2,1.2 0 1 0 -2.4,0M191.6,202.7a1.2,1.2 0 1 0 2.4,0a1.2,1.2 0 1 0 -2.4,0M192.3,204.4a1.2,1.2 0 1 0 2.4,0a1.2,1.2 0 1 0 -2.4,0M193.0,203.7a1.2,1.2 0 1 0 2.4,0a1.2,1.2 0 1 0 -2.4,0M194.7,201.3a1.2,1.2 0 1 0 2.4,0a1.2,1.2 0 1 0 -2.4,0M195.1,203.7a1.2,1.2 0 1 0 2.4,0a1.2,1.2 0 1 0 -2.4,0M196.2,203.2a1.2,1.2 0 1 0 2.4,0a1.2,1.2 0 1 0 -2.4,0M196.4,205.2a1.2,1.2 0 1 0 2.4,0a1.2,1.2 0 1 0 -2.4,0M207.1,207.6a1.2,1.2 0 1 0 2.4,0a1.2,1.2 0 1 0 -2.4,0M208.3,207.5a1.2,1.2 0 1 0 2.4,0a1.2,1.2 0 1 0 -2.4,0M208.0,209.7a1.2,1.2 0 1 0 2.4,0a1.2,1.2 0 1 0 -2.4,0M210.3,208.4a1.2,1.2 0 1 0 2.4,0a1.2,1.2 0 1 0 -2.4,0M209.8,209.9a1.2,1.2 0 1 0 2.4,0a1.2,1.2 0 1 0 -2.4,0M211.3,209.8a1.2,1.2 0 1 0 2.4,0a1.2,1.2 0 1 0 -2.4,0M210.8,211.5a1.2,1.2 0 1 0 2.4,0a1.2,1.2 0 1 0 -2.4,0M213.9,210.4a1.2,1.2 0 1 0 2.4,0a1.2,1.2 0 1 0 -2.4,0M212.4,212.4a1.2,1.2 0 1 0 2.4,0a1.2,1.2 0 1 0 -2.4,0M214.3,212.0a1.2,1.2 0 1 0 2.4,0a1.2,1.2 0 1 0 -2.4,0M213.9,214.0a1.2,1.2 0 1 0 2.4,0a1.2,1.2 0 1 0 -2.4,0M215.6,213.5a1.2,1.2 0 1 0 2.4,0a1.2,1.2 0 1 0 -2.4,0M213.5,216.0a1.2,1.2 0 1 0 2.4,0a1.2,1.2 0 1 0 -2.4,0M215.1,216.0a1.2,1.2 0 1 0 2.4,0a1.2,1.2 0 1 0 -2.4,0M226.4,210.5a1.2,1.2 0 1 0 2.4,0a1.2,1.2 0 1 0 -2.4,0M229.6,210.0a1.2,1.2 0 1 0 2.4,0a1.2,1.2 0 1 0 -2.4,0M226.8,215.3a1.2,1.2 0 1 0 2.4,0a1.2,1.2 0 1 0 -2.4,0M231.2,216.1a1.2,1.2 0 1 0 2.4,0a1.2,1.2 0 1 0 -2.4,0M232.0,217.7a1.2,1.2 0 1 0 2.4,0a1.2,1.2 0 1 0 -2.4,0M226.9,221.5a1.2,1.2 0 1 0 2.4,0a1.2,1.2 0 1 0 -2.4,0M224.4,224.3a1.2,1.2 0 1 0 2.4,0a1.2,1.2 0 1 0 -2.4,0M229.8,225.4a1.2,1.2 0 1 0 2.4,0a1.2,1.2 0 1 0 -2.4,0" fill="#f4a630"/>
<path d="M142.1,227.2a1.2,1.2 0 1 0 2.4,0a1.2,1.2 0 1 0 -2.4,0M144.2,226.2a1.2,1.2 0 1 0 2.4,0a1.2,1.2 0 1 0 -2.4,0M144.0,224.2a1.2,1.2 0 1 0 2.4,0a1.2,1.2 0 1 0 -2.4,0M144.0,222.8a1.2,1.2 0 1 0 2.4,0a1.2,1.2 0 1 0 -2.4,0M142.8,220.8a1.2,1.2 0 1 0 2.4,0a1.2,1.2 0 1 0 -2.4,0M144.8,219.9a1.2,1.2 0 1 0 2.4,0a1.2,1.2 0 1 0 -2.4,0M145.7,218.3a1.2,1.2 0 1 0 2.4,0a1.2,1.2 0 1 0 -2.4,0M144.4,216.3a1.2,1.2 0 1 0 2.4,0a1.2,1.2 0 1 0 -2.4,0M146.6,215.5a1.2,1.2 0 1 0 2.4,0a1.2,1.2 0 1 0 -2.4,0M146.9,214.4a1.2,1.2 0 1 0 2.4,0a1.2,1.2 0 1 0 -2.4,0M147.8,213.2a1.2,1.2 0 1 0 2.4,0a1.2,1.2 0 1 0 -2.4,0M147.8,211.9a1.2,1.2 0 1 0 2.4,0a1.2,1.2 0 1 0 -2.4,0M148.1,210.4a1.2,1.2 0 1 0 2.4,0a1.2,1.2 0 1 0 -2.4,0M150.2,209.6a1.2,1.2 0 1 0 2.4,0a1.2,1.2 0 1 0 -2.4,0M151.2,208.4a1.2,1.2 0 1 0 2.4,0a1.2,1.2 0 1 0 -2.4,0M151.2,207.4a1.2,1.2 0 1 0 2.4,0a1.2,1.2 0 1 0 -2.4,0M153.5,207.4a1.2,1.2 0 1 0 2.4,0a1.2,1.2 0 1 0 -2.4,0M154.1,205.8a1.2,1.2 0 1 0 2.4,0a1.2,1.2 0 1 0 -2.4,0M156.5,206.3a1.2,1.2 0 1 0 2.4,0a1.2,1.2 0 1 0 -2.4,0M157.4,205.6a1.2,1.2 0 1 0 2.4,0a1.2,1.2 0 1 0 -2.4,0M159.1,205.4a1.2,1.2 0 1 0 2.4,0a1.2,1.2 0 1 0 -2.4,0M159.3,204.4a1.2,1.2 0 1 0 2.4,0a1.2,1.2 0 1 0 -2.4,0M160.4,203.9a1.2,1.2 0 1 0 2.4,0a1.2,1.2 0 1 0 -2.4,0M162.4,204.0a1.2,1.2 0 1 0 2.4,0a1.2,1.2 0 1 0 -2.4,0M163.9,204.5a1.2,1.2 0 1 0 2.4,0a1.2,1.2 0 1 0 -2.4,0M164.4,203.7a1.2,1.2 0 1 0 2.4,0a1.2,1.2 0 1 0 -2.4,0M165.6,203.2a1.2,1.2 0 1 0 2.4,0a1.2,1.2 0 1 0 -2.4,0M167.1,203.8a1.2,1.2 0 1 0 2.4,0a1.2,1.2 0 1 0 -2.4,0M168.7,204.3a1.2,1.2 0 1 0 2.4,0a1.2,1.2 0 1 0 -2.4,0M169.8,204.2a1.2,1.2 0 1 0 2.4,0a1.2,1.2 0 1 0 -2.4,0M170.4,203.1a1.2,1.2 0 1 0 2.4,0a1.2,1.2 0 1 0 -2.4,0M171.5,203.2a1.2,1.2 0 1 0 2.4,0a1.2,1.2 0 1 0 -2.4,0M173.3,204.5a1.2,1.2 0 1 0 2.4,0a1.2,1.2 0 1 0 -2.4,0M216.1,260.9a1.2,1.2 0 1 0 2.4,0a1.2,1.2 0 1 0 -2.4,0M218.5,266.6a1.2,1.2 0 1 0 2.4,0a1.2,1.2 0 1 0 -2.4,0M213.3,261.8a1.2,1.2 0 1 0 2.4,0a1.2,1.2 0 1 0 -2.4,0M217.7,269.7a1.2,1.2 0 1 0 2.4,0a1.2,1.2 0 1 0 -2.4,0M212.7,264.7a1.2,1.2 0 1 0 2.4,0a1.2,1.2 0 1 0 -2.4,0M210.7,263.9a1.2,1.2 0 1 0 2.4,0a1.2,1.2 0 1 0 -2.4,0M214.2,272.1a1.2,1.2 0 1 0 2.4,0a1.2,1.2 0 1 0 -2.4,0M202.1,263.6a1.2,1.2 0 1 0 2.4,0a1.2,1.2 0 1 0 -2.4,0M201.6,264.0a1.2,1.2 0 1 0 2.4,0a1.2,1.2 0 1 0 -2.4,0M201.2,266.7a1.2,1.2 0 1 0 2.4,0a1.2,1.2 0 1 0 -2.4,0M199.0,264.3a1.2,1.2 0 1 0 2.4,0a1.2,1.2 0 1 0 -2.4,0M198.5,265.3a1.2,1.2 0 1 0 2.4,0a1.2,1.2 0 1 0 -2.4,0M197.1,263.7a1.2,1.2 0 1 0 2.4,0a1.2,1.2 0 1 0 -2.4,0M197.1,268.0a1.2,1.2 0 1 0 2.4,0a1.2,1.2 0 1 0 -2.4,0M175.6,264.9a1.2,1.2 0 1 0 2.4,0a1.2,1.2 0 1 0 -2.4,0M172.8,266.8a1.2,1.2 0 1 0 2.4,0a1.2,1.2 0 1 0 -2.4,0M173.6,262.3a1.2,1.2 0 1 0 2.4,0a1.2,1.2 0 1 0 -2.4,0M172.5,262.9a1.2,1.2 0 1 0 2.4,0a1.2,1.2 0 1 0 -2.4,0M170.2,264.4a1.2,1.2 0 1 0 2.4,0a1.2,1.2 0 1 0 -2.4,0M169.6,262.7a1.2,1.2 0 1 0 2.4,0a1.2,1.2 0 1 0 -2.4,0M168.2,263.8a1.2,1.2 0 1 0 2.4,0a1.2,1.2 0 1 0 -2.4,0M165.7,260.6a1.2,1.2 0 1 0 2.4,0a1.2,1.2 0 1 0 -2.4,0M167.3,257.4a1.2,1.2 0 1 0 2.4,0a1.2,1.2 0 1 0 -2.4,0M166.8,256.2a1.2,1.2 0 1 0 2.4,0a1.2,1.2 0 1 0 -2.4,0M162.0,259.8a1.2,1.2 0 1 0 2.4,0a1.2,1.2 0 1 0 -2.4,0M161.4,258.8a1.2,1.2 0 1 0 2.4,0a1.2,1.2 0 1 0 -2.4,0M163.6,253.8a1.2,1.2 0 1 0 2.4,0a1.2,1.2 0 1 0 -2.4,0M158.4,255.8a1.2,1.2 0 1 0 2.4,0a1.2,1.2 0 1 0 -2.4,0M174.7,196.7a1.2,1.2 0 1 0 2.4,0a1.2,1.2 0 1 0 -2.4,0M175.5,196.1a1.2,1.2 0 1 0 2.4,0a1.2,1.2 0 1 0 -2.4,0M177.6,196.4a1.2,1.2 0 1 0 2.4,0a1.2,1.2 0 1 0 -2.4,0M178.2,193.2a1.2,1.2 0 1 0 2.4,0a1.2,1.2 0 1 0 -2.4,0M180.0,193.3a1.2,1.2 0 1 0 2.4,0a1.2,1.2 0 1 0 -2.4,0M181.9,194.9a1.2,1.2 0 1 0 2.4,0a1.2,1.2 0 1 0 -2.4,0M183.5,196.0a1.2,1.2 0 1 0 2.4,0a1.2,1.2 0 1 0 -2.4,0M184.7,194.7a1.2,1.2 0 1 0 2.4,0a1.2,1.2 0 1 0 -2.4,0M198.4,201.7a1.2,1.2 0 1 0 2.4,0a1.2,1.2 0 1 0 -2.4,0M200.1,199.5a1.2,1.2 0 1 0 2.4,0a1.2,1.2 0 1 0 -2.4,0M200.6,200.8a1.2,1.2 0 1 0 2.4,0a1.2,1.2 0 1 0 -2.4,0M201.3,200.9a1.2,1.2 0 1 0 2.4,0a1.2,1.2 0 1 0 -2.4,0M202.2,201.2a1.2,1.2 0 1 0 2.4,0a1.2,1.2 0 1 0 -2.4,0M204.5,199.6a1.2,1.2 0 1 0 2.4,0a1.2,1.2 0 1 0 -2.4,0M205.9,198.4a1.2,1.2 0 1 0 2.4,0a1.2,1.2 0 1 0 -2.4,0M208.2,196.2a1.2,1.2 0 1 0 2.4,0a1.2,1.2 0 1 0 -2.4,0M204.4,205.1a1.2,1.2 0 1 0 2.4,0a1.2,1.2 0 1 0 -2.4,0M207.9,201.7a1.2,1.2 0 1 0 2.4,0a1.2,1.2 0 1 0 -2.4,0M207.6,203.9a1.2,1.2 0 1 0 2.4,0a1.2,1.2 0 1 0 -2.4,0M212.6,198.5a1.2,1.2 0 1 0 2.4,0a1.2,1.2 0 1 0 -2.4,0M218.6,208.1a1.2,1.2 0 1 0 2.4,0a1.2,1.2 0 1 0 -2.4,0M220.9,207.8a1.2,1.2 0 1 0 2.4,0a1.2,1.2 0 1 0 -2.4,0M220.1,209.5a1.2,1.2 0 1 0 2.4,0a1.2,1.2 0 1 0 -2.4,0M224.3,208.1a1.2,1.2 0 1 0 2.4,0a1.2,1.2 0 1 0 -2.4,0M221.8,211.1a1.2,1.2 0 1 0 2.4,0a1.2,1.2 0 1 0 -2.4,0M227.7,208.8a1.2,1.2 0 1 0 2.4,0a1.2,1.2 0 1 0 -2.4,0M224.3,214.4a1.2,1.2 0 1 0 2.4,0a1.2,1.2 0 1 0 -2.4,0M225.9,214.7a1.2,1.2 0 1 0 2.4,0a1.2,1.2 0 1 0 -2.4,0M230.6,214.9a1.2,1.2 0 1 0 2.4,0a1.2,1.2 0 1 0 -2.4,0M221.7,221.7a1.2,1.2 0 1 0 2.4,0a1.2,1.2 0 1 0 -2.4,0M228.1,222.4a1.2,1.2 0 1 0 2.4,0a1.2,1.2 0 1 0 -2.4,0M223.9,225.0a1.2,1.2 0 1 0 2.4,0a1.2,1.2 0 1 0 -2.4,0" fill="#9430e4"/>
<path d="M191.1,231.4L239,229" stroke="#222" stroke-width="0.8"/>
<circle cx="191.1" cy="231.4" r="58.0" fill="none" stroke="#8c8c8c" stroke-width="5.0"/>
<path d="M249.1,229.4A58.0,58.0 0 0 0 246.3,213.5" fill="none" stroke="#ff0000" stroke-width="5.0"/>
<path d="M246.3,213.5A58.0,58.0 0 0 0 244.9,209.7" fill="none" stroke="#8c8c8c" stroke-width="5.0"/>
<path d="M244.9,209.7A58.0,58.0 0 0 0 240.4,200.8" fill="none" stroke="#ff0000" stroke-width="5.0"/>
<path d="M240.4,200.8A58.0,58.0 0 0 0 234.6,193.0" fill="none" stroke="#0000ff" stroke-width="5.0"/>
<path d="M234.6,193.0A58.0,58.0 0 0 0 228.8,187.3" fill="none" stroke="#8c8c8c" stroke-width="5.0"/>
<path d="M228.8,187.3A58.0,58.0 0 0 0 221.2,181.8" fill="none" stroke="#0000ff" stroke-width="5.0"/>
<path d="M221.2,181.8A58.0,58.0 0 0 0 217.3,179.7" fill="none" stroke="#ff0000" stroke-width="5.0"/>
<path d="M217.3,179.7A58.0,58.0 0 0 0 211.5,177.1" fill="none" stroke="#0000ff" stroke-width="5.0"/>
<path d="M211.5,177.1A58.0,58.0 0 0 0 197.1,173.7" fill="none" stroke="#8c8c8c" stroke-width="5.0"/>
<path d="M197.1,173.7A58.0,58.0 0 0 0 195.1,173.5" fill="none" stroke="#0000ff" stroke-width="5.0"/>
<path d="M195.1,173.5A58.0,58.0 0 0 0 193.6,173.5" fill="none" stroke="#ff0000" stroke-width="5.0"/>
<path d="M193.6,173.5A58.0,58.0 0 0 0 191.3,173.4" fill="none" stroke="#0000ff" stroke-width="5.0"/>
<path d="M191.3,173.4A58.0,58.0 0 0 0 186.5,173.6" fill="none" stroke="#ff0000" stroke-width="5.0"/>
<path d="M186.5,173.6A58.0,58.0 0 0 0 175.0,175.7" fill="none" stroke="#0000ff" stroke-width="5.0"/>
<path d="M175.0,175.7A58.0,58.0 0 0 0 172.2,176.6" fill="none" stroke="#8c8c8c" stroke-width="5.0"/>
<path d="M172.2,176.6A58.0,58.0 0 0 0 169.4,177.6" fill="none" stroke="#ff0000" stroke-width="5.0"/>
<path d="M169.4,177.6A58.0,58.0 0 0 0 168.0,178.2" fill="none" stroke="#0000ff" stroke-width="5.0"/>
<path d="M168.0,178.2A58.0,58.0 0 0 0 165.4,179.4" fill="none" stroke="#a08080" stroke-width="5.0"/>
<path d="M165.4,179.4A58.0,58.0 0 0 0 162.5,180.9" fill="none" stroke="#8c8c8c" stroke-width="5.0"/>
<path d="M162.5,180.9A58.0,58.0 0 0 0 133.1,231.4" fill="none" stroke="#0000ff" stroke-width="5.0"/>
<path d="M149.2,191.3A58.0,58.0 0 0 0 147.5,193.2" fill="none" stroke="#a07070" stroke-width="5.0"/>
<path d="M133.2,228.4A58.0,58.0 0 0 0 133.1,232.4" fill="none" stroke="#0000ff" stroke-width="5.0"/>
<path d="M133.1,232.4A58.0,58.0 0 0 0 133.8,240.5" fill="none" stroke="#8c8c8c" stroke-width="5.0"/>
<path d="M133.8,240.5A58.0,58.0 0 0 0 134.0,241.5" fill="none" stroke="#ff0000" stroke-width="5.0"/>
<path d="M134.0,241.5A58.0,58.0 0 0 0 134.2,242.5" fill="none" stroke="#7a3aa8" stroke-width="5.0"/>
<path d="M134.2,242.5A58.0,58.0 0 0 0 134.4,243.7" fill="none" stroke="#ff0000" stroke-width="5.0"/>
<path d="M134.4,243.7A58.0,58.0 0 0 0 134.6,244.4" fill="none" stroke="#7a3aa8" stroke-width="5.0"/>
<path d="M134.6,244.4A58.0,58.0 0 0 0 134.9,245.7" fill="none" stroke="#ff0000" stroke-width="5.0"/>
<path d="M134.9,245.7A58.0,58.0 0 0 0 135.3,247.3" fill="none" stroke="#8c8c8c" stroke-width="5.0"/>
<path d="M135.3,247.3A58.0,58.0 0 0 0 135.6,248.4" fill="none" stroke="#ff0000" stroke-width="5.0"/>
<path d="M135.6,248.4A58.0,58.0 0 0 0 136.0,249.6" fill="none" stroke="#8c8c8c" stroke-width="5.0"/>
<path d="M136.0,249.6A58.0,58.0 0 0 0 136.4,250.8" fill="none" stroke="#8c8c8c" stroke-width="5.0"/>
<path d="M136.4,250.8A58.0,58.0 0 0 0 136.8,251.7" fill="none" stroke="#ff0000" stroke-width="5.0"/>
<path d="M136.8,251.7A58.0,58.0 0 0 0 137.0,252.2" fill="none" stroke="#ff0000" stroke-width="5.0"/>
<path d="M137.0,252.2A58.0,58.0 0 0 0 137.5,253.6" fill="none" stroke="#ff0000" stroke-width="5.0"/>
<path d="M137.5,253.6A58.0,58.0 0 0 0 138.2,255.1" fill="none" stroke="#ff0000" stroke-width="5.0"/>
<path d="M138.2,255.1A58.0,58.0 0 0 0 138.7,256.2" fill="none" stroke="#8c8c8c" stroke-width="5.0"/>
<path d="M138.7,256.2A58.0,58.0 0 0 0 139.1,257.2" fill="none" stroke="#7a3aa8" stroke-width="5.0"/>
<path d="M139.1,257.2A58.0,58.0 0 0 0 139.6,258.0" fill="none" stroke="#8c8c8c" stroke-width="5.0"/>
<path d="M139.6,258.0A58.0,58.0 0 0 0 140.3,259.4" fill="none" stroke="#ff0000" stroke-width="5.0"/>
<path d="M140.3,259.4A58.0,58.0 0 0 0 140.8,260.2" fill="none" stroke="#ff0000" stroke-width="5.0"/>
<path d="M140.8,260.2A58.0,58.0 0 0 0 141.4,261.3" fill="none" stroke="#7a3aa8" stroke-width="5.0"/>
<path d="M141.4,261.3A58.0,58.0 0 0 0 146.7,268.7" fill="none" stroke="#8c8c8c" stroke-width="5.0"/>
<path d="M146.7,268.7A58.0,58.0 0 0 0 147.5,269.7" fill="none" stroke="#ff0000" stroke-width="5.0"/>
<path d="M147.5,269.7A58.0,58.0 0 0 0 148.8,271.1" fill="none" stroke="#ff0000" stroke-width="5.0"/>
<path d="M148.8,271.1A58.0,58.0 0 0 0 149.5,271.8" fill="none" stroke="#ff0000" stroke-width="5.0"/>
<path d="M149.5,271.8A58.0,58.0 0 0 0 150.1,272.4" fill="none" stroke="#ff0000" stroke-width="5.0"/>
<path d="M150.1,272.4A58.0,58.0 0 0 0 150.7,273.1" fill="none" stroke="#ff0000" stroke-width="5.0"/>
<path d="M150.7,273.1A58.0,58.0 0 0 0 152.1,274.3" fill="none" stroke="#ff0000" stroke-width="5.0"/>
<path d="M152.1,274.3A58.0,58.0 0 0 0 152.9,275.0" fill="none" stroke="#7a3aa8" stroke-width="5.0"/>
<path d="M152.9,275.0A58.0,58.0 0 0 0 154.3,276.2" fill="none" stroke="#ff0000" stroke-width="5.0"/>
<path d="M154.3,276.2A58.0,58.0 0 0 0 155.2,277.0" fill="none" stroke="#ff0000" stroke-width="5.0"/>
<path d="M155.2,277.0A58.0,58.0 0 0 0 156.8,278.2" fill="none" stroke="#7a3aa8" stroke-width="5.0"/>
<path d="M156.8,278.2A58.0,58.0 0 0 0 157.8,278.9" fill="none" stroke="#ff0000" stroke-width="5.0"/>
<path d="M157.8,278.9A58.0,58.0 0 0 0 158.9,279.6" fill="none" stroke="#0000ff" stroke-width="5.0"/>
<path d="M158.9,279.6A58.0,58.0 0 0 0 159.9,280.3" fill="none" stroke="#ff0000" stroke-width="5.0"/>
<path d="M159.9,280.3A58.0,58.0 0 0 0 160.6,280.7" fill="none" stroke="#ff0000" stroke-width="5.0"/>
<path d="M160.6,280.7A58.0,58.0 0 0 0 161.9,281.5" fill="none" stroke="#ff0000" stroke-width="5.0"/>
<path d="M161.9,281.5A58.0,58.0 0 0 0 163.3,282.3" fill="none" stroke="#8c8c8c" stroke-width="5.0"/>
<path d="M163.3,282.3A58.0,58.0 0 0 0 164.8,283.1" fill="none" stroke="#0000ff" stroke-width="5.0"/>
<path d="M164.8,283.1A58.0,58.0 0 0 0 165.6,283.5" fill="none" stroke="#ff0000" stroke-width="5.0"/>
<path d="M165.6,283.5A58.0,58.0 0 0 0 166.8,284.1" fill="none" stroke="#ff0000" stroke-width="5.0"/>
<path d="M166.8,284.1A58.0,58.0 0 0 0 167.6,284.4" fill="none" stroke="#ff0000" stroke-width="5.0"/>
<path d="M167.6,284.4A58.0,58.0 0 0 0 168.3,284.7" fill="none" stroke="#8c8c8c" stroke-width="5.0"/>
<path d="M168.3,284.7A58.0,58.0 0 0 0 169.2,285.1" fill="none" stroke="#8c8c8c" stroke-width="5.0"/>
<path d="M169.2,285.1A58.0,58.0 0 0 0 169.4,285.2" fill="none" stroke="#8c8c8c" stroke-width="5.0"/>
<path d="M169.4,285.2A58.0,58.0 0 0 0 170.5,285.6" fill="none" stroke="#8c8c8c" stroke-width="5.0"/>
<path d="M170.5,285.6A58.0,58.0 0 0 0 172.1,286.2" fill="none" stroke="#8c8c8c" stroke-width="5.0"/>
<path d="M172.1,286.2A58.0,58.0 0 0 0 173.4,286.6" fill="none" stroke="#8c8c8c" stroke-width="5.0"/>
<path d="M173.4,286.6A58.0,58.0 0 0 0 174.5,287.0" fill="none" stroke="#ff0000" stroke-width="5.0"/>
<path d="M174.5,287.0A58.0,58.0 0 0 0 176.1,287.4" fill="none" stroke="#8c8c8c" stroke-width="5.0"/>
<path d="M176.1,287.4A58.0,58.0 0 0 0 177.4,287.8" fill="none" stroke="#8c8c8c" stroke-width="5.0"/>
<path d="M177.4,287.8A58.0,58.0 0 0 0 178.9,288.1" fill="none" stroke="#ff0000" stroke-width="5.0"/>
<path d="M178.9,288.1A58.0,58.0 0 0 0 179.7,288.3" fill="none" stroke="#8c8c8c" stroke-width="5.0"/>
<path d="M179.7,288.3A58.0,58.0 0 0 0 181.0,288.5" fill="none" stroke="#7a3aa8" stroke-width="5.0"/>
<path d="M181.0,288.5A58.0,58.0 0 0 0 182.6,288.8" fill="none" stroke="#ff0000" stroke-width="5.0"/>
<path d="M182.6,288.8A58.0,58.0 0 0 0 183.6,288.9" fill="none" stroke="#8c8c8c" stroke-width="5.0"/>
<path d="M183.6,288.9A58.0,58.0 0 0 0 185.0,289.1" fill="none" stroke="#8c8c8c" stroke-width="5.0"/>
<path d="M185.0,289.1A58.0,58.0 0 0 0 186.0,289.2" fill="none" stroke="#7a3aa8" stroke-width="5.0"/>
<path d="M186.0,289.2A58.0,58.0 0 0 0 187.5,289.3" fill="none" stroke="#8c8c8c" stroke-width="5.0"/>
<path d="M187.5,289.3A58.0,58.0 0 0 0 188.7,289.4" fill="none" stroke="#ff0000" stroke-width="5.0"/>
<path d="M188.7,289.4A58.0,58.0 0 0 0 190.3,289.4" fill="none" stroke="#ff0000" stroke-width="5.0"/>
<path d="M190.3,289.4A58.0,58.0 0 0 0 191.1,289.4" fill="none" stroke="#7a3aa8" stroke-width="5.0"/>
<path d="M191.1,289.4A58.0,58.0 0 0 0 199.2,288.8" fill="none" stroke="#ff0000" stroke-width="5.0"/>
<path d="M199.2,288.8A58.0,58.0 0 0 0 200.0,288.7" fill="none" stroke="#8c8c8c" stroke-width="5.0"/>
<path d="M200.0,288.7A58.0,58.0 0 0 0 201.0,288.5" fill="none" stroke="#8c8c8c" stroke-width="5.0"/>
<path d="M201.0,288.5A58.0,58.0 0 0 0 202.0,288.4" fill="none" stroke="#ff0000" stroke-width="5.0"/>
<path d="M202.0,288.4A58.0,58.0 0 0 0 203.3,288.1" fill="none" stroke="#ff0000" stroke-width="5.0"/>
<path d="M203.3,288.1A58.0,58.0 0 0 0 204.8,287.8" fill="none" stroke="#8c8c8c" stroke-width="5.0"/>
<path d="M204.8,287.8A58.0,58.0 0 0 0 205.9,287.5" fill="none" stroke="#8c8c8c" stroke-width="5.0"/>
<path d="M205.9,287.5A58.0,58.0 0 0 0 206.1,287.4" fill="none" stroke="#8c8c8c" stroke-width="5.0"/>
<path d="M206.1,287.4A58.0,58.0 0 0 0 207.0,287.2" fill="none" stroke="#ff0000" stroke-width="5.0"/>
<path d="M207.0,287.2A58.0,58.0 0 0 0 208.9,286.6" fill="none" stroke="#ff0000" stroke-width="5.0"/>
<path d="M208.9,286.6A58.0,58.0 0 0 0 210.7,286.0" fill="none" stroke="#ff0000" stroke-width="5.0"/>
<path d="M210.7,286.0A58.0,58.0 0 0 0 212.2,285.4" fill="none" stroke="#8c8c8c" stroke-width="5.0"/>
<path d="M212.2,285.4A58.0,58.0 0 0 0 213.2,285.0" fill="none" stroke="#ff0000" stroke-width="5.0"/>
<path d="M213.2,285.0A58.0,58.0 0 0 0 214.1,284.6" fill="none" stroke="#ff0000" stroke-width="5.0"/>
<path d="M214.1,284.6A58.0,58.0 0 0 0 215.4,284.1" fill="none" stroke="#ff0000" stroke-width="5.0"/>
<path d="M215.4,284.1A58.0,58.0 0 0 0 216.2,283.7" fill="none" stroke="#ff0000" stroke-width="5.0"/>
<path d="M216.2,283.7A58.0,58.0 0 0 0 217.4,283.1" fill="none" stroke="#8c8c8c" stroke-width="5.0"/>
<path d="M217.4,283.1A58.0,58.0 0 0 0 218.1,282.7" fill="none" stroke="#ff0000" stroke-width="5.0"/>
<path d="M218.1,282.7A58.0,58.0 0 0 0 219.8,281.8" fill="none" stroke="#ff0000" stroke-width="5.0"/>
<path d="M219.8,281.8A58.0,58.0 0 0 0 220.1,281.6" fill="none" stroke="#ff0000" stroke-width="5.0"/>
<path d="M220.1,281.6A58.0,58.0 0 0 0 221.3,280.9" fill="none" stroke="#8c8c8c" stroke-width="5.0"/>
<path d="M221.3,280.9A58.0,58.0 0 0 0 222.5,280.2" fill="none" stroke="#8c8c8c" stroke-width="5.0"/>
<path d="M222.5,280.2A58.0,58.0 0 0 0 223.3,279.7" fill="none" stroke="#8c8c8c" stroke-width="5.0"/>
<path d="M223.3,279.7A58.0,58.0 0 0 0 224.2,279.0" fill="none" stroke="#ff0000" stroke-width="5.0"/>
<path d="M224.2,279.0A58.0,58.0 0 0 0 225.4,278.1" fill="none" stroke="#ff0000" stroke-width="5.0"/>
<path d="M225.4,278.1A58.0,58.0 0 0 0 226.7,277.2" fill="none" stroke="#ff0000" stroke-width="5.0"/>
<path d="M226.7,277.2A58.0,58.0 0 0 0 227.7,276.4" fill="none" stroke="#8c8c8c" stroke-width="5.0"/>
<path d="M227.7,276.4A58.0,58.0 0 0 0 228.4,275.8" fill="none" stroke="#ff0000" stroke-width="5.0"/>
<path d="M228.4,275.8A58.0,58.0 0 0 0 229.7,274.7" fill="none" stroke="#8c8c8c" stroke-width="5.0"/>
<path d="M229.7,274.7A58.0,58.0 0 0 0 230.5,273.9" fill="none" stroke="#ff0000" stroke-width="5.0"/>
<path d="M230.5,273.9A58.0,58.0 0 0 0 231.5,273.0" fill="none" stroke="#ff0000" stroke-width="5.0"/>
<path d="M231.5,273.0A58.0,58.0 0 0 0 232.8,271.7" fill="none" stroke="#ff0000" stroke-width="5.0"/>
<path d="M232.8,271.7A58.0,58.0 0 0 0 233.8,270.7" fill="none" stroke="#ff0000" stroke-width="5.0"/>
<path d="M233.8,270.7A58.0,58.0 0 0 0 234.8,269.5" fill="none" stroke="#ff0000" stroke-width="5.0"/>
<path d="M234.8,269.5A58.0,58.0 0 0 0 235.7,268.5" fill="none" stroke="#ff0000" stroke-width="5.0"/>
<path d="M235.7,268.5A58.0,58.0 0 0 0 236.6,267.3" fill="none" stroke="#8c8c8c" stroke-width="5.0"/>
<path d="M236.6,267.3A58.0,58.0 0 0 0 237.5,266.2" fill="none" stroke="#8c8c8c" stroke-width="5.0"/>
<path d="M237.5,266.2A58.0,58.0 0 0 0 238.2,265.3" fill="none" stroke="#8c8c8c" stroke-width="5.0"/>
<path d="M238.2,265.3A58.0,58.0 0 0 0 238.9,264.2" fill="none" stroke="#ff0000" stroke-width="5.0"/>
<path d="M238.9,264.2A58.0,58.0 0 0 0 239.9,262.8" fill="none" stroke="#ff0000" stroke-width="5.0"/>
<path d="M239.9,262.8A58.0,58.0 0 0 0 240.8,261.3" fill="none" stroke="#ff0000" stroke-width="5.0"/>
<path d="M240.8,261.3A58.0,58.0 0 0 0 241.4,260.4" fill="none" stroke="#8c8c8c" stroke-width="5.0"/>
<path d="M241.4,260.4A58.0,58.0 0 0 0 242.2,258.9" fill="none" stroke="#8c8c8c" stroke-width="5.0"/>
<path d="M242.2,258.9A58.0,58.0 0 0 0 243.0,257.2" fill="none" stroke="#ff0000" stroke-width="5.0"/>
<path d="M243.0,257.2A58.0,58.0 0 0 0 243.6,256.0" fill="none" stroke="#8c8c8c" stroke-width="5.0"/>
<path d="M243.6,256.0A58.0,58.0 0 0 0 244.1,255.0" fill="none" stroke="#8c8c8c" stroke-width="5.0"/>
<path d="M244.1,255.0A58.0,58.0 0 0 0 244.6,253.8" fill="none" stroke="#8c8c8c" stroke-width="5.0"/>
<path d="M244.6,253.8A58.0,58.0 0 0 0 245.0,252.7" fill="none" stroke="#8c8c8c" stroke-width="5.0"/>
<path d="M245.0,252.7A58.0,58.0 0 0 0 245.6,251.2" fill="none" stroke="#ff0000" stroke-width="5.0"/>
<path d="M245.6,251.2A58.0,58.0 0 0 0 249.0,234.4" fill="none" stroke="#8c8c8c" stroke-width="5.0"/>
<path d="M249.0,234.4A58.0,58.0 0 0 0 249.1,231.4" fill="none" stroke="#ff0000" stroke-width="5.0"/>
<path d="M249.1,231.2A58.0,58.0 0 0 0 249.1,229.4" fill="none" stroke="#fff" stroke-width="6.0"/>
</g>
<g>
<path d="M376.8,231.4A53,53 0 1 0 270.8,231.4A53,53 0 1 0 376.8,231.4Z M363.8,231.4 L363.8,230.0 L363.7,228.6 L363.6,227.2 L363.5,225.8 L363.3,224.4 L363.1,223.1 L362.8,221.7 L362.4,220.3 L362.0,219.0 L361.6,217.6 L361.1,216.3 L360.6,215.0 L360.0,213.7 L359.4,212.5 L358.7,211.2 L358.0,210.0 L357.3,208.8 L356.5,207.7 L355.7,206.5 L354.8,205.4 L353.9,204.3 L352.9,203.3 L351.9,202.3 L350.9,201.3 L349.9,200.3 L348.8,199.4 L347.7,198.6 L346.5,197.7 L345.3,196.9 L344.1,196.2 L342.9,195.5 L341.6,194.8 L340.4,194.2 L339.1,193.6 L337.7,193.1 L336.4,192.6 L335.1,192.2 L333.7,191.8 L332.3,191.4 L330.9,191.1 L329.5,190.9 L328.1,190.7 L326.7,190.5 L325.2,190.4 L323.8,190.4 L322.4,190.4 L320.9,190.5 L319.5,190.6 L318.1,190.8 L316.7,191.0 L315.3,191.3 L313.9,191.6 L312.5,192.0 L311.1,192.4 L309.8,192.9 L308.4,193.4 L307.1,193.9 L305.8,194.5 L304.6,195.2 L303.3,195.9 L302.1,196.6 L300.9,197.4 L299.7,198.2 L298.6,199.1 L297.4,200.0 L296.4,200.9 L295.3,201.9 L294.3,202.9 L293.3,204.0 L292.4,205.0 L291.5,206.2 L290.6,207.3 L289.8,208.5 L289.0,209.7 L288.3,210.9 L287.6,212.2 L286.9,213.4 L286.3,214.7 L285.8,216.0 L285.3,217.4 L284.8,218.7 L284.4,220.1 L284.0,221.5 L283.7,222.9 L283.4,224.3 L283.2,225.7 L283.0,227.1 L282.9,228.5 L282.8,230.0 L282.8,231.4 L282.8,232.8 L282.9,234.3 L283.0,235.7 L283.2,237.1 L283.4,238.5 L283.7,239.9 L284.0,241.3 L284.4,242.7 L284.8,244.1 L285.3,245.4 L285.8,246.8 L286.3,248.1 L286.9,249.4 L287.6,250.6 L288.3,251.9 L289.0,253.1 L289.8,254.3 L290.6,255.5 L291.5,256.6 L292.4,257.8 L293.3,258.8 L294.3,259.9 L295.3,260.9 L296.4,261.9 L297.4,262.8 L298.6,263.7 L299.7,264.6 L300.9,265.4 L302.1,266.2 L303.3,266.9 L304.6,267.6 L305.8,268.3 L307.1,268.9 L308.4,269.4 L309.8,269.9 L311.1,270.4 L312.5,270.8 L313.9,271.2 L315.3,271.5 L316.7,271.8 L318.1,272.0 L319.5,272.2 L320.9,272.3 L322.4,272.4 L323.8,272.4 L325.2,272.4 L326.7,272.3 L328.1,272.1 L329.5,271.9 L330.9,271.7 L332.3,271.4 L333.7,271.0 L335.1,270.6 L336.4,270.2 L337.7,269.7 L339.1,269.2 L340.4,268.6 L341.6,268.0 L342.9,267.3 L344.1,266.6 L345.3,265.9 L346.5,265.1 L347.7,264.2 L348.8,263.4 L349.9,262.5 L350.9,261.5 L351.9,260.5 L352.9,259.5 L353.9,258.5 L354.8,257.4 L355.7,256.3 L356.5,255.1 L357.3,254.0 L358.0,252.8 L358.7,251.6 L359.4,250.3 L360.0,249.1 L360.6,247.8 L361.1,246.5 L361.6,245.2 L362.0,243.8 L362.4,242.5 L362.8,241.1 L363.1,239.7 L363.3,238.4 L363.5,237.0 L363.6,235.6 L363.7,234.2 L363.8,232.8 L363.8,231.4Z" fill="#f0f0f0" fill-rule="evenodd"/>
<path d="M360.4,226.3A37.0,37.0 0 1 0 340.2,264.6M352.2,225.4A29.0,29.0 0 0 0 351.2,221.8M352.8,222.5A30.4,30.4 0 0 0 352.1,220.3M354.5,220.2A32.7,32.7 0 0 0 353.9,218.7M356.8,217.9A35.7,35.7 0 0 0 356.5,217.2M357.9,219.4A36.1,36.1 0 0 0 357.6,218.7M356.4,221.6A34.0,34.0 0 0 0 356.3,221.1M354.1,225.8A30.8,30.8 0 0 0 353.8,224.3M355.3,224.5A32.3,32.3 0 0 0 355.1,223.4M357.9,223.0A35.1,35.1 0 0 0 357.7,222.5M335.8,268.5A39.0,39.0 0 0 0 345.9,263.5M345.8,265.9A40.9,40.9 0 0 0 348.2,264.3M348.6,266.3A42.8,42.8 0 0 0 350.0,265.2M332.9,270.3A40.0,40.0 0 0 0 339.3,268.3M337.3,269.1A40.0,40.0 0 0 0 341.3,267.4M339.9,268.8A40.7,40.7 0 0 0 343.3,267.2M343.9,270.3A43.8,43.8 0 0 0 345.5,269.4M331.2,271.1A40.4,40.4 0 0 0 334.8,270.2M334.1,272.7A42.6,42.6 0 0 0 336.6,272.0M319.2,193.1A38.6,38.6 0 1 0 329.0,269.6M297.8,260.2A38.8,38.8 0 0 0 356.5,252.1M351.3,258.7A38.8,38.8 0 0 0 360.3,244.6M357.8,250.3A38.9,38.9 0 0 0 362.0,238.6M361.2,242.7A39.1,39.1 0 0 0 362.7,234.6M348.8,261.7A39.2,39.2 0 0 0 354.3,256.1M287.9,246.2A38.8,38.8 0 0 0 312.7,268.6M305.0,265.4A38.8,38.8 0 0 0 320.9,270.1M314.9,269.4A39.0,39.0 0 0 0 327.0,270.3M319.5,270.4A39.3,39.3 0 0 0 334.5,269.2M329.7,270.4A39.4,39.4 0 0 0 339.2,267.7M301.0,263.7A39.5,39.5 0 0 0 308.6,267.9M285.4,239.2A39.2,39.2 0 0 0 291.1,253.0M288.0,248.1A39.5,39.5 0 0 0 294.4,257.8M343.2,198.1A38.6,38.6 0 0 0 297.0,203.6M308.5,195.6A38.9,38.9 0 0 0 288.6,214.8M293.8,206.4A39.1,39.1 0 0 0 285.4,224.1M286.2,219.5A39.5,39.5 0 0 0 284.4,228.7M296.8,203.0A39.2,39.2 0 0 0 291.0,209.9M293.0,206.9A39.4,39.4 0 0 0 289.0,212.8M312.9,193.6A39.3,39.3 0 0 0 304.0,197.4M354.0,207.2A38.7,38.7 0 0 0 330.0,193.2M337.3,194.9A38.9,38.9 0 0 0 322.6,192.5M327.1,192.3A39.3,39.3 0 0 0 318.0,192.6M341.1,196.3A39.2,39.2 0 0 0 333.5,193.4M357.6,211.7A39.1,39.1 0 0 0 350.4,202.8M287.1,236.1L285.5,236.3M340.2,264.6L341.1,266.4M352.2,225.4L353.9,225.0M351.2,221.8L352.5,221.4M352.8,222.5L356.3,221.4M352.1,220.3L354.2,219.4M354.5,220.2L357.7,219.1M353.9,218.7L356.6,217.5M353.8,224.3L355.2,224.0M355.1,223.4L357.8,222.7M335.8,268.5L336.2,269.4M345.9,263.5L347.0,265.1M348.2,264.3L349.3,265.8M332.9,270.3L333.0,270.7M341.3,267.4L341.6,268.0M343.3,267.2L344.7,269.9M334.8,270.2L335.4,272.4M329.0,269.6L329.1,269.8M351.3,258.7L351.7,259.0M360.3,244.6L360.3,244.6M357.8,250.3L359.3,251.2M362.0,238.6L362.2,238.7M361.2,242.7L362.5,243.1M362.7,234.6L364.7,234.8M348.8,261.7L349.4,262.4M354.3,256.1L355.1,256.8M287.9,246.2L287.6,246.4M305.0,265.4L304.7,266.0M320.9,270.1L320.9,270.3M314.9,269.4L314.3,271.8M327.0,270.3L327.1,270.5M319.5,270.4L319.2,273.0M334.5,269.2L334.5,269.3M329.7,270.4L329.9,271.8M339.2,267.7L339.9,269.2M301.0,263.7L300.1,265.0M308.6,267.9L308.0,269.3M285.4,239.2L283.0,239.7M291.1,253.0L290.8,253.2M288.0,248.1L286.9,248.6M294.4,257.8L293.2,258.9M343.2,198.1L343.3,198.0M297.0,203.6L296.8,203.4M308.5,195.6L308.3,195.3M288.6,214.8L288.5,214.7M293.8,206.4L293.7,206.3M285.4,224.1L285.0,224.0M286.2,219.5L284.6,219.0M284.4,228.7L283.2,228.6M296.8,203.0L295.0,201.2M291.0,209.9L290.9,209.8M293.0,206.9L291.3,205.5M289.0,212.8L287.3,211.9M312.9,193.6L312.4,191.8M304.0,197.4L303.2,195.9M354.0,207.2L354.3,207.0M330.0,193.2L330.0,193.0M337.3,194.9L337.4,194.6M322.6,192.5L322.6,192.2M327.1,192.3L327.4,189.3M318.0,192.6L317.7,190.5M341.1,196.3L342.0,194.6M333.5,193.4L334.4,189.8M357.6,211.7L359.1,210.8M350.4,202.8L352.0,201.1M323.8,231.4L360.4,226.3" stroke="#111" stroke-width="0.6" fill="none"/>
<path d="M356.8,217.9L357.7,217.5M356.3,221.1L358.6,220.4M357.9,223.0L358.9,222.8M345.8,265.9L347.7,268.9M348.6,266.3L350.5,269.0M350.0,265.2L350.9,266.3M337.3,269.1L340.3,277.5M339.9,268.8L342.7,275.4M343.9,270.3L344.6,271.7M345.5,269.4L348.0,273.9M331.2,271.1L332.6,278.1M334.1,272.7L334.9,275.9M336.6,272.0L337.2,273.9M364.6,235.6A41.1,41.1 0 0 0 364.8,233.9M364.6,235.6L364.9,235.6M364.8,233.9L366.6,234.0M361.6,245.8A40.4,40.4 0 0 0 363.3,240.3M361.6,245.8L362.9,246.3M362.8,242.1A40.5,40.5 0 0 0 363.7,238.4M362.8,242.1L363.1,242.2M363.7,238.4L364.5,238.6M364.3,239.6A41.3,41.3 0 0 0 364.7,237.6M364.3,239.6L364.7,239.7M364.7,237.6L365.1,237.6M365.0,238.3A41.8,41.8 0 0 0 365.2,236.9M365.0,238.3L366.1,238.5M365.2,236.9L365.4,236.9M362.8,243.3A40.8,40.8 0 0 0 363.4,241.1M362.8,243.3L363.3,243.5M363.4,241.1L363.6,241.2M363.5,241.5A41.0,41.0 0 0 0 363.7,240.8M363.7,240.8L365.1,241.2M363.1,244.0A41.3,41.3 0 0 0 363.5,242.9M363.1,244.0L363.4,244.1M363.5,242.9L364.5,243.2M362.7,246.8A41.9,41.9 0 0 0 363.1,245.9M362.7,246.8L363.1,246.9M363.1,245.9L363.3,246.0M358.3,252.8A40.6,40.6 0 0 0 360.2,249.4M358.3,252.8L358.5,253.0M360.2,249.4L360.8,249.7M360.1,250.9A41.2,41.2 0 0 0 361.4,248.4M360.1,250.9L360.9,251.3M361.4,248.4L361.6,248.5M361.5,248.9A41.5,41.5 0 0 0 361.8,248.1M361.5,248.9L362.7,249.4M361.8,248.1L362.2,248.3M360.5,252.0A42.1,42.1 0 0 0 361.2,250.7M360.5,252.0L361.0,252.3M358.1,253.6A40.9,40.9 0 0 0 358.9,252.3M358.1,253.6L358.4,253.7M358.9,252.3L360.0,253.0M353.8,258.4A40.3,40.3 0 0 0 356.4,255.2M353.8,258.4L353.9,258.6M356.4,255.2L356.7,255.4M356.3,256.1A40.8,40.8 0 0 0 357.2,254.8M356.3,256.1L356.5,256.3M357.2,254.8L357.9,255.3M357.6,255.7A41.6,41.6 0 0 0 358.3,254.8M357.6,255.7L357.7,255.9M358.3,254.8L358.7,255.1M353.2,259.4A40.6,40.6 0 0 0 354.7,257.8M353.2,259.4L354.0,260.1M354.7,257.8L355.0,258.0M354.4,258.6A41.0,41.0 0 0 0 355.5,257.4M354.4,258.6L354.7,258.9M355.5,257.4L356.4,258.2M347.9,263.7A40.3,40.3 0 0 0 350.9,261.1M347.9,263.7L348.1,264.0M350.9,261.1L351.1,261.4M350.3,262.1A40.6,40.6 0 0 0 352.0,260.6M350.3,262.1L350.4,262.3M352.0,260.6L352.2,260.8M351.7,261.2A40.9,40.9 0 0 0 352.6,260.4M351.7,261.2L352.0,261.6M352.6,260.4L352.8,260.5M350.0,262.6A40.8,40.8 0 0 0 350.9,261.9M350.0,262.6L350.5,263.2M350.9,261.9L351.0,262.1M347.4,264.6A40.7,40.7 0 0 0 348.9,263.5M347.4,264.6L347.5,264.7M348.9,263.5L349.4,264.2M347.0,265.0A40.8,40.8 0 0 0 347.9,264.4M347.0,265.0L347.4,265.6M347.9,264.4L348.1,264.6M337.2,270.2A41.0,41.0 0 0 0 342.4,268.0M337.2,270.2L337.6,271.3M342.4,268.0L342.6,268.2M340.8,269.1A41.3,41.3 0 0 0 344.3,267.3M340.8,269.1L340.9,269.3M344.3,267.3L344.4,267.4M343.1,268.1A41.5,41.5 0 0 0 345.7,266.7M343.1,268.1L343.3,268.5M345.7,266.7L345.8,266.8M345.3,267.1A41.7,41.7 0 0 0 346.2,266.6M342.6,268.8A41.9,41.9 0 0 0 344.1,268.0M342.6,268.8L342.7,269.2M344.1,268.0L344.2,268.2M340.0,269.7A41.6,41.6 0 0 0 341.7,268.9M340.0,269.7L340.1,269.9M341.7,268.9L342.5,270.5M336.5,271.7A42.3,42.3 0 0 0 338.8,270.9M336.5,271.7L336.7,272.5M338.8,270.9L338.8,271.1M338.2,271.3A42.4,42.4 0 0 0 339.4,270.8M338.2,271.3L338.3,271.6M339.4,270.8L339.8,271.7M326.3,272.2A40.8,40.8 0 0 0 333.5,271.1M326.3,272.2L326.3,272.4M333.5,271.1L333.9,272.7M332.8,272.9A42.5,42.5 0 0 0 334.9,272.4M332.8,272.9L333.0,273.8M334.9,272.4L335.0,272.7M334.3,272.8A42.7,42.7 0 0 0 335.6,272.5M334.3,272.8L334.5,273.6M335.6,272.5L335.7,272.8M324.7,272.5A41.1,41.1 0 0 0 327.9,272.3M324.7,272.5L324.7,273.3M327.9,272.3L327.9,272.6M326.4,272.7A41.4,41.4 0 0 0 329.4,272.4M326.4,272.7L326.4,273.7M329.4,272.4L329.4,272.6M328.3,272.7A41.6,41.6 0 0 0 330.5,272.4M328.3,272.7L328.3,272.9M330.5,272.4L330.6,272.7M329.6,272.8A41.8,41.8 0 0 0 331.6,272.5M329.6,272.8L329.6,273.0M331.6,272.5L331.6,272.9M325.6,273.7A42.3,42.3 0 0 0 327.2,273.6M325.6,273.7L325.6,273.9M327.2,273.6L327.3,274.4M318.0,272.9A41.9,41.9 0 0 0 320.4,273.1M318.0,272.9L318.0,273.1M320.4,273.1L320.4,273.3M319.3,273.2A42.0,42.0 0 0 0 321.5,273.4M319.3,273.2L319.2,274.1M321.5,273.4L321.4,273.6M320.4,273.5A42.3,42.3 0 0 0 322.5,273.6M320.4,273.5L320.4,273.9M322.5,273.6L322.5,273.8M321.6,273.8A42.4,42.4 0 0 0 323.4,273.8M321.6,273.8L321.6,274.2M323.4,273.8L323.4,274.2M313.4,271.6A41.5,41.5 0 0 0 315.2,272.0M313.4,271.6L313.3,272.1M315.2,272.0L315.1,272.2M314.0,271.9A41.7,41.7 0 0 0 316.2,272.4M314.0,271.9L313.9,272.4M316.2,272.4L316.2,272.6M315.6,272.5A41.9,41.9 0 0 0 316.8,272.7M315.6,272.5L315.6,272.8M316.8,272.7L316.7,272.9M305.3,268.0A41.0,41.0 0 0 0 310.8,270.3M305.3,268.0L305.2,268.2M310.8,270.3L310.6,271.1M309.7,270.8A41.8,41.8 0 0 0 311.4,271.3M309.7,270.8L309.3,271.9M311.4,271.3L311.4,271.6M310.7,271.4A42.1,42.1 0 0 0 312.0,271.8M310.7,271.4L310.6,271.7M312.0,271.8L311.8,272.4M303.7,267.4A41.2,41.2 0 0 0 306.7,268.9M303.7,267.4L303.3,268.2M306.7,268.9L306.6,269.1M305.5,268.5A41.4,41.4 0 0 0 307.7,269.6M305.5,268.5L305.3,268.8M307.7,269.6L307.5,270.2M306.7,269.8A42.1,42.1 0 0 0 308.2,270.5M306.7,269.8L306.5,270.3M308.2,270.5L308.1,270.8M304.8,268.5A41.7,41.7 0 0 0 305.9,269.1M304.8,268.5L304.3,269.5M305.9,269.1L305.8,269.4M298.7,264.0A41.1,41.1 0 0 0 301.5,266.0M298.7,264.0L298.5,264.2M301.5,266.0L301.2,266.4M300.3,265.8A41.6,41.6 0 0 0 302.2,267.0M300.3,265.8L299.6,266.8M302.2,267.0L302.0,267.3M301.3,266.8A42.0,42.0 0 0 0 302.8,267.7M301.3,266.8L300.7,267.6M297.9,263.7A41.4,41.4 0 0 0 299.2,264.7M297.9,263.7L297.4,264.2M299.2,264.7L299.0,265.0M298.2,264.4A41.8,41.8 0 0 0 299.7,265.6M298.2,264.4L297.8,265.0M299.7,265.6L299.6,265.8M291.5,256.9A41.2,41.2 0 0 0 295.0,260.8M291.5,256.9L290.9,257.4M295.0,260.8L294.8,261.0M294.0,260.2A41.4,41.4 0 0 0 295.6,261.7M294.0,260.2L292.8,261.3M295.6,261.7L295.4,262.0M294.8,261.4A41.7,41.7 0 0 0 296.0,262.5M294.8,261.4L294.5,261.7M296.0,262.5L295.8,262.7M295.3,262.3A42.0,42.0 0 0 0 296.3,263.2M295.3,262.3L295.1,262.6M296.3,263.2L295.5,264.0M290.2,256.5A41.9,41.9 0 0 0 291.6,258.3M290.2,256.5L289.8,256.7M291.6,258.3L291.5,258.4M290.8,257.6A42.1,42.1 0 0 0 292.2,259.2M290.8,257.6L290.4,257.9M292.2,259.2L292.0,259.4M291.3,258.6A42.4,42.4 0 0 0 292.6,260.1M291.3,258.6L291.1,258.8M292.6,260.1L292.3,260.4M285.7,245.8A40.7,40.7 0 0 0 288.3,251.4M285.7,245.8L284.6,246.2M288.3,251.4L288.0,251.5M286.9,249.4A41.1,41.1 0 0 0 289.3,253.7M286.9,249.4L286.5,249.5M289.3,253.7L288.8,254.0M288.3,253.3A41.7,41.7 0 0 0 289.2,254.6M288.3,253.3L287.9,253.6M289.2,254.6L289.0,254.7M288.7,254.2A41.9,41.9 0 0 0 289.4,255.3M288.7,254.2L288.4,254.4M289.4,255.3L289.0,255.6M285.9,248.1A41.5,41.5 0 0 0 287.2,250.9M285.9,248.1L284.7,248.6M287.2,250.9L287.0,251.0M286.6,250.3A41.7,41.7 0 0 0 287.5,251.8M286.6,250.3L285.8,250.7M287.5,251.8L287.3,251.9M286.8,251.2A41.9,41.9 0 0 0 287.7,252.7M286.8,251.2L285.7,251.8M287.7,252.7L287.4,252.8M284.5,248.1A42.7,42.7 0 0 0 285.0,249.1M284.5,248.1L284.2,248.2M285.0,249.1L284.5,249.3M284.4,245.5A41.8,41.8 0 0 0 284.9,246.8M284.4,245.5L284.1,245.6M284.9,246.8L284.5,247.0M282.6,237.5A41.7,41.7 0 0 0 283.5,241.9M282.6,237.5L282.2,237.5M283.5,241.9L283.3,241.9M282.9,240.2A41.9,41.9 0 0 0 283.8,243.7M282.9,240.2L282.7,240.3M283.8,243.7L283.3,243.8M283.1,242.9A42.3,42.3 0 0 0 283.6,244.7M283.1,242.9L282.5,243.1M283.6,244.7L283.4,244.8M282.4,239.1A42.1,42.1 0 0 0 282.9,241.4M282.4,239.1L282.3,239.2M282.9,241.4L282.8,241.4M282.6,240.9A42.2,42.2 0 0 0 282.9,242.0M282.6,240.9L281.8,241.1M282.9,242.0L282.7,242.0M282.1,236.7A42.1,42.1 0 0 0 282.3,238.4M305.0,194.1L304.5,193.3M313.9,191.4L313.5,189.7M310.3,191.6L310.3,191.5M317.0,189.8L317.0,189.5M345.2,196.3A41.1,41.1 0 0 0 338.6,193.1M345.2,196.3L345.7,195.6M338.6,193.1L338.7,192.8M340.5,193.5A41.4,41.4 0 0 0 336.9,192.1M340.5,193.5L340.6,193.1M336.9,192.1L337.4,190.5M338.3,190.8A43.1,43.1 0 0 0 336.6,190.2M338.3,190.8L338.4,190.5M341.8,193.7A41.8,41.8 0 0 0 339.5,192.6M341.8,193.7L341.9,193.3M339.5,192.6L339.8,191.7M340.3,191.9A42.8,42.8 0 0 0 339.4,191.5M340.3,191.9L340.5,191.4M339.4,191.5L339.5,191.3M342.6,193.6A42.2,42.2 0 0 0 341.3,193.0M342.6,193.6L342.7,193.4M341.3,193.0L341.4,192.8M346.6,196.2A42.0,42.0 0 0 0 344.7,195.0M346.6,196.2L346.7,196.0M344.7,195.0L344.8,194.8M345.5,195.2A42.2,42.2 0 0 0 344.2,194.5M345.5,195.2L345.6,195.0M344.2,194.5L344.3,194.2M344.6,194.3A42.5,42.5 0 0 0 344.1,194.1M344.6,194.3L344.8,194.0M344.1,194.1L344.4,193.5M353.9,203.1A41.4,41.4 0 0 0 349.9,199.3M353.9,203.1L354.2,202.8M349.9,199.3L350.1,199.2M351.4,200.3A41.6,41.6 0 0 0 348.7,198.1M351.4,200.3L351.5,200.2M348.7,198.1L348.9,197.8M349.5,198.3A41.9,41.9 0 0 0 348.2,197.3M349.5,198.3L350.4,197.1M348.2,197.3L348.4,197.1M348.8,197.5A42.2,42.2 0 0 0 347.9,196.8M348.8,197.5L349.0,197.3M347.9,196.8L348.4,196.2M352.3,200.8A41.8,41.8 0 0 0 350.8,199.5M352.3,200.8L352.5,200.6M350.8,199.5L351.6,198.6M352.2,199.1A43.0,43.0 0 0 0 351.0,198.1M352.2,199.1L352.5,198.8M351.0,198.1L351.2,197.9M355.1,203.8A41.7,41.7 0 0 0 353.3,201.8M355.1,203.8L355.8,203.2M353.3,201.8L353.4,201.7M353.7,202.1A41.9,41.9 0 0 0 353.0,201.3M353.7,202.1L354.0,201.9M353.0,201.3L354.0,200.3M356.0,203.5A42.6,42.6 0 0 0 355.6,203.0M356.0,203.5L356.2,203.2M355.6,203.0L356.1,202.4M360.2,212.8A40.9,40.9 0 0 0 357.9,208.8M360.2,212.8L360.8,212.5M357.9,208.8L358.2,208.6M358.9,209.8A41.2,41.2 0 0 0 357.3,207.4M358.9,209.8L359.8,209.3M357.3,207.4L357.5,207.3M357.9,208.0A41.4,41.4 0 0 0 357.0,206.6M357.9,208.0L358.9,207.3M357.0,206.6L357.2,206.5M357.8,207.4A41.6,41.6 0 0 0 356.5,205.7M357.8,207.4L359.1,206.5M356.5,205.7L356.8,205.4M357.4,206.1A42.0,42.0 0 0 0 356.2,204.7M357.4,206.1L358.2,205.5M356.2,204.7L356.5,204.5M360.2,209.9A42.3,42.3 0 0 0 359.5,208.8M360.2,209.9L360.9,209.4M359.5,208.8L359.7,208.6M361.2,213.3A41.5,41.5 0 0 0 360.4,211.7M361.2,213.3L362.7,212.6M360.4,211.7L360.6,211.6M361.0,212.2A41.8,41.8 0 0 0 360.3,211.0M361.0,212.2L362.2,211.6M360.3,211.0L360.6,210.8" stroke="#f4a630" stroke-width="1.4" fill="none"/>
<path d="M356.5,217.2L359.0,216.1M357.9,219.4L358.9,219.1M357.6,218.7L358.7,218.3M356.4,221.6L357.8,221.2M354.1,225.8L356.9,225.2M355.3,224.5L356.8,224.2M357.7,222.5L359.8,222.0M363.5,241.5L363.8,241.6M361.2,250.7L361.6,250.8M345.3,267.1L345.6,267.5M346.2,266.6L346.3,266.8M302.8,267.7L302.6,268.0M282.1,236.7L281.8,236.7M282.3,238.4L281.3,238.5M283.6,225.5A40.7,40.7 0 0 0 283.1,231.6M283.6,225.5L282.5,225.4M283.1,231.6L282.9,231.6M283.0,228.9A40.9,40.9 0 0 0 283.1,234.4M283.0,228.9L282.6,228.8M283.1,234.4L282.1,234.5M282.0,233.9A41.8,41.8 0 0 0 282.1,235.0M282.0,233.9L281.8,233.9M282.1,235.0L281.2,235.1M282.7,227.7A41.2,41.2 0 0 0 282.6,230.0M282.7,227.7L280.9,227.6M282.6,230.0L282.2,229.9M282.2,229.0A41.6,41.6 0 0 0 282.2,230.9M282.2,229.0L280.9,228.9M282.2,230.9L281.9,230.9M282.0,229.8A41.9,41.9 0 0 0 281.9,232.0M282.0,229.8L280.8,229.8M281.9,232.0L281.7,232.0M281.7,231.3A42.1,42.1 0 0 0 281.7,232.7M281.7,231.3L281.5,231.3M281.7,232.7L280.7,232.7M282.6,224.6A41.8,41.8 0 0 0 282.4,226.1M282.6,224.6L281.3,224.4M282.4,226.1L282.0,226.1M285.4,216.7A41.1,41.1 0 0 0 283.9,221.4M285.4,216.7L284.5,216.4M283.9,221.4L283.7,221.3M284.1,220.0A41.3,41.3 0 0 0 283.4,222.7M284.1,220.0L283.9,219.9M283.4,222.7L282.5,222.5M282.7,221.8A42.2,42.2 0 0 0 282.4,223.3M282.7,221.8L282.5,221.7M282.4,223.3L281.5,223.1M284.2,219.0A41.5,41.5 0 0 0 283.6,220.9M284.2,219.0L284.0,218.9M283.6,220.9L283.0,220.7M284.2,218.1A41.8,41.8 0 0 0 283.7,219.6M284.2,218.1L284.0,218.1M283.7,219.6L283.0,219.4M284.7,216.0A42.1,42.1 0 0 0 284.3,216.9M284.7,216.0L283.9,215.7M284.3,216.9L284.1,216.8M288.5,209.8A41.4,41.4 0 0 0 286.2,214.1M288.5,209.8L288.3,209.7M286.2,214.1L286.0,214.0M286.4,213.1A41.6,41.6 0 0 0 285.6,214.9M286.4,213.1L286.2,213.0M285.6,214.9L284.8,214.6M286.4,212.5A41.9,41.9 0 0 0 285.9,213.5M286.4,212.5L285.3,211.9M285.9,213.5L285.7,213.3M288.9,208.8A41.6,41.6 0 0 0 287.8,210.5M288.9,208.8L288.0,208.3M287.8,210.5L287.5,210.3M287.9,209.6A42.0,42.0 0 0 0 287.1,211.0M287.9,209.6L287.3,209.2M287.1,211.0L286.8,210.8M292.5,204.1A41.5,41.5 0 0 0 290.2,207.0M292.5,204.1L292.1,203.8M290.2,207.0L289.9,206.8M290.4,206.1A41.9,41.9 0 0 0 289.4,207.5M290.4,206.1L290.2,205.9M289.4,207.5L288.9,207.1M290.8,205.1A42.2,42.2 0 0 0 289.6,206.7M290.8,205.1L290.6,205.0M289.6,206.7L289.0,206.3M292.5,203.4A42.0,42.0 0 0 0 291.7,204.2M292.5,203.4L292.2,203.2M291.7,204.2L291.1,203.7M296.1,200.3A41.7,41.7 0 0 0 294.1,202.2M296.1,200.3L295.4,199.5M294.1,202.2L293.8,201.9M294.1,201.5A42.1,42.1 0 0 0 293.4,202.3M294.1,201.5L294.0,201.4M293.4,202.3L293.0,201.9M296.1,198.9A42.7,42.7 0 0 0 294.7,200.2M296.1,198.9L296.0,198.7M294.7,200.2L294.5,200.0M306.5,194.2A41.1,41.1 0 0 0 300.0,197.9M306.5,194.2L306.4,194.0M300.0,197.9L299.7,197.5M300.6,196.9A41.6,41.6 0 0 0 298.9,198.2M300.6,196.9L300.1,196.1M298.9,198.2L298.7,197.9M299.5,197.3A41.9,41.9 0 0 0 297.9,198.5M299.5,197.3L299.3,197.0M297.9,198.5L297.7,198.2M298.4,197.7A42.2,42.2 0 0 0 297.0,198.8M298.4,197.7L298.3,197.5M297.0,198.8L296.4,198.1M308.1,193.3A41.3,41.3 0 0 0 304.8,194.8M308.1,193.3L307.7,192.3M304.8,194.8L304.7,194.6M305.8,194.1A41.4,41.4 0 0 0 303.6,195.2M305.8,194.1L305.6,193.8M303.6,195.2L303.3,194.6M304.2,194.2A42.1,42.1 0 0 0 302.4,195.1M304.2,194.2L303.7,193.3M302.4,195.1L302.3,194.9M302.9,194.5A42.4,42.4 0 0 0 301.6,195.3M302.9,194.5L302.8,194.3M301.6,195.3L301.4,194.9M306.3,193.5A41.8,41.8 0 0 0 305.0,194.1M306.3,193.5L306.2,193.2M313.9,191.4A41.2,41.2 0 0 0 310.8,192.3M310.8,192.3L310.7,191.9M311.8,191.6A41.6,41.6 0 0 0 309.6,192.3M311.8,191.6L311.6,191.0M309.6,192.3L309.5,191.9M310.3,191.6A42.0,42.0 0 0 0 308.6,192.3M308.6,192.3L308.4,191.7M312.1,190.8A42.2,42.2 0 0 0 311.1,191.1M312.1,190.8L312.0,190.4M311.1,191.1L310.9,190.5M320.2,190.3A41.3,41.3 0 0 0 315.3,191.0M320.2,190.3L320.1,190.1M315.3,191.0L315.2,190.4M315.7,190.3A41.9,41.9 0 0 0 314.7,190.5M315.7,190.3L315.7,189.9M314.7,190.5L314.5,189.6M321.6,190.0A41.5,41.5 0 0 0 318.7,190.2M321.6,190.0L321.5,188.5M318.7,190.2L318.6,190.0M319.6,189.9A41.7,41.7 0 0 0 317.7,190.1M319.6,189.9L319.4,187.9M317.7,190.1L317.6,189.7M318.2,189.6A42.1,42.1 0 0 0 317.0,189.8M318.2,189.6L318.0,188.0M322.0,188.4A43.0,43.0 0 0 0 321.0,188.5M322.0,188.4L322.0,188.2M321.0,188.5L320.9,187.4M329.8,189.6A42.2,42.2 0 0 0 324.9,189.2M329.8,189.6L329.8,189.2M324.9,189.2L324.9,188.5M326.3,188.5A43.0,43.0 0 0 0 323.6,188.4M326.3,188.5L326.4,188.2M323.6,188.4L323.6,188.0M324.3,188.0A43.4,43.4 0 0 0 322.8,188.0M324.3,188.0L324.3,187.6M322.8,188.0L322.8,187.3M327.1,188.3A43.3,43.3 0 0 0 325.6,188.2M327.1,188.3L327.1,188.1M325.6,188.2L325.6,187.8M330.8,189.4A42.6,42.6 0 0 0 328.9,189.1M330.8,189.4L330.8,189.1M328.9,189.1L328.9,188.8M329.6,188.9A42.9,42.9 0 0 0 328.2,188.7M329.6,188.9L329.6,188.7M328.2,188.7L328.3,187.8M331.4,189.2A42.9,42.9 0 0 0 330.2,189.0M331.4,189.2L331.4,188.9M330.2,189.0L330.4,187.9M335.5,190.1A42.9,42.9 0 0 0 333.2,189.5M335.5,190.1L335.6,189.9M333.2,189.5L333.4,188.8M334.0,189.0A43.6,43.6 0 0 0 332.7,188.7M334.0,189.0L334.1,188.8M332.7,188.7L332.9,188.1M336.6,190.2L336.7,190.1" stroke="#9430e4" stroke-width="1.4" fill="none"/>
<path d="M323.8,231.4L328.6,231.4" stroke="#222" stroke-width="0.8"/>
<circle cx="328.6" cy="231.4" r="1.2" fill="#111"/>
<path d="M356.8,217.5a0.95,0.95 0 1 0 1.9,0a0.95,0.95 0 1 0 -1.9,0M357.6,220.4a0.95,0.95 0 1 0 1.9,0a0.95,0.95 0 1 0 -1.9,0M357.9,222.8a0.95,0.95 0 1 0 1.9,0a0.95,0.95 0 1 0 -1.9,0M349.9,266.3a0.95,0.95 0 1 0 1.9,0a0.95,0.95 0 1 0 -1.9,0M349.5,269.0a0.95,0.95 0 1 0 1.9,0a0.95,0.95 0 1 0 -1.9,0M346.7,268.9a0.95,0.95 0 1 0 1.9,0a0.95,0.95 0 1 0 -1.9,0M347.1,273.9a0.95,0.95 0 1 0 1.9,0a0.95,0.95 0 1 0 -1.9,0M343.7,271.7a0.95,0.95 0 1 0 1.9,0a0.95,0.95 0 1 0 -1.9,0M341.8,275.4a0.95,0.95 0 1 0 1.9,0a0.95,0.95 0 1 0 -1.9,0M339.3,277.5a0.95,0.95 0 1 0 1.9,0a0.95,0.95 0 1 0 -1.9,0M336.3,273.9a0.95,0.95 0 1 0 1.9,0a0.95,0.95 0 1 0 -1.9,0M334.0,275.9a0.95,0.95 0 1 0 1.9,0a0.95,0.95 0 1 0 -1.9,0M331.6,278.1a0.95,0.95 0 1 0 1.9,0a0.95,0.95 0 1 0 -1.9,0M365.7,234.0a0.95,0.95 0 1 0 1.9,0a0.95,0.95 0 1 0 -1.9,0M363.9,235.6a0.95,0.95 0 1 0 1.9,0a0.95,0.95 0 1 0 -1.9,0M364.5,236.9a0.95,0.95 0 1 0 1.9,0a0.95,0.95 0 1 0 -1.9,0M365.2,238.5a0.95,0.95 0 1 0 1.9,0a0.95,0.95 0 1 0 -1.9,0M363.7,239.7a0.95,0.95 0 1 0 1.9,0a0.95,0.95 0 1 0 -1.9,0M364.2,241.2a0.95,0.95 0 1 0 1.9,0a0.95,0.95 0 1 0 -1.9,0M363.6,243.2a0.95,0.95 0 1 0 1.9,0a0.95,0.95 0 1 0 -1.9,0M362.5,244.1a0.95,0.95 0 1 0 1.9,0a0.95,0.95 0 1 0 -1.9,0M362.4,246.0a0.95,0.95 0 1 0 1.9,0a0.95,0.95 0 1 0 -1.9,0M362.1,246.9a0.95,0.95 0 1 0 1.9,0a0.95,0.95 0 1 0 -1.9,0M361.2,248.3a0.95,0.95 0 1 0 1.9,0a0.95,0.95 0 1 0 -1.9,0M361.7,249.4a0.95,0.95 0 1 0 1.9,0a0.95,0.95 0 1 0 -1.9,0M360.0,252.3a0.95,0.95 0 1 0 1.9,0a0.95,0.95 0 1 0 -1.9,0M359.0,253.0a0.95,0.95 0 1 0 1.9,0a0.95,0.95 0 1 0 -1.9,0M357.4,253.7a0.95,0.95 0 1 0 1.9,0a0.95,0.95 0 1 0 -1.9,0M357.8,255.1a0.95,0.95 0 1 0 1.9,0a0.95,0.95 0 1 0 -1.9,0M356.8,255.9a0.95,0.95 0 1 0 1.9,0a0.95,0.95 0 1 0 -1.9,0M355.5,256.3a0.95,0.95 0 1 0 1.9,0a0.95,0.95 0 1 0 -1.9,0M355.5,258.2a0.95,0.95 0 1 0 1.9,0a0.95,0.95 0 1 0 -1.9,0M353.8,258.9a0.95,0.95 0 1 0 1.9,0a0.95,0.95 0 1 0 -1.9,0M353.1,260.1a0.95,0.95 0 1 0 1.9,0a0.95,0.95 0 1 0 -1.9,0M351.8,260.5a0.95,0.95 0 1 0 1.9,0a0.95,0.95 0 1 0 -1.9,0M351.1,261.6a0.95,0.95 0 1 0 1.9,0a0.95,0.95 0 1 0 -1.9,0M350.1,262.1a0.95,0.95 0 1 0 1.9,0a0.95,0.95 0 1 0 -1.9,0M349.6,263.2a0.95,0.95 0 1 0 1.9,0a0.95,0.95 0 1 0 -1.9,0M348.5,264.2a0.95,0.95 0 1 0 1.9,0a0.95,0.95 0 1 0 -1.9,0M347.2,264.6a0.95,0.95 0 1 0 1.9,0a0.95,0.95 0 1 0 -1.9,0M346.5,265.6a0.95,0.95 0 1 0 1.9,0a0.95,0.95 0 1 0 -1.9,0M343.2,268.2a0.95,0.95 0 1 0 1.9,0a0.95,0.95 0 1 0 -1.9,0M341.8,269.2a0.95,0.95 0 1 0 1.9,0a0.95,0.95 0 1 0 -1.9,0M341.5,270.5a0.95,0.95 0 1 0 1.9,0a0.95,0.95 0 1 0 -1.9,0M339.1,269.9a0.95,0.95 0 1 0 1.9,0a0.95,0.95 0 1 0 -1.9,0M338.8,271.7a0.95,0.95 0 1 0 1.9,0a0.95,0.95 0 1 0 -1.9,0M337.4,271.6a0.95,0.95 0 1 0 1.9,0a0.95,0.95 0 1 0 -1.9,0M335.8,272.5a0.95,0.95 0 1 0 1.9,0a0.95,0.95 0 1 0 -1.9,0M334.8,272.8a0.95,0.95 0 1 0 1.9,0a0.95,0.95 0 1 0 -1.9,0M333.5,273.6a0.95,0.95 0 1 0 1.9,0a0.95,0.95 0 1 0 -1.9,0M332.1,273.8a0.95,0.95 0 1 0 1.9,0a0.95,0.95 0 1 0 -1.9,0M330.7,272.9a0.95,0.95 0 1 0 1.9,0a0.95,0.95 0 1 0 -1.9,0M328.6,273.0a0.95,0.95 0 1 0 1.9,0a0.95,0.95 0 1 0 -1.9,0M327.4,272.9a0.95,0.95 0 1 0 1.9,0a0.95,0.95 0 1 0 -1.9,0M326.3,274.4a0.95,0.95 0 1 0 1.9,0a0.95,0.95 0 1 0 -1.9,0M324.7,273.9a0.95,0.95 0 1 0 1.9,0a0.95,0.95 0 1 0 -1.9,0M323.8,273.3a0.95,0.95 0 1 0 1.9,0a0.95,0.95 0 1 0 -1.9,0M322.5,274.2a0.95,0.95 0 1 0 1.9,0a0.95,0.95 0 1 0 -1.9,0M320.6,274.2a0.95,0.95 0 1 0 1.9,0a0.95,0.95 0 1 0 -1.9,0M319.4,273.9a0.95,0.95 0 1 0 1.9,0a0.95,0.95 0 1 0 -1.9,0M318.2,274.1a0.95,0.95 0 1 0 1.9,0a0.95,0.95 0 1 0 -1.9,0M317.0,273.1a0.95,0.95 0 1 0 1.9,0a0.95,0.95 0 1 0 -1.9,0M315.8,272.9a0.95,0.95 0 1 0 1.9,0a0.95,0.95 0 1 0 -1.9,0M314.6,272.8a0.95,0.95 0 1 0 1.9,0a0.95,0.95 0 1 0 -1.9,0M313.0,272.4a0.95,0.95 0 1 0 1.9,0a0.95,0.95 0 1 0 -1.9,0M312.3,272.1a0.95,0.95 0 1 0 1.9,0a0.95,0.95 0 1 0 -1.9,0M310.9,272.4a0.95,0.95 0 1 0 1.9,0a0.95,0.95 0 1 0 -1.9,0M309.7,271.7a0.95,0.95 0 1 0 1.9,0a0.95,0.95 0 1 0 -1.9,0M308.3,271.9a0.95,0.95 0 1 0 1.9,0a0.95,0.95 0 1 0 -1.9,0M307.2,270.8a0.95,0.95 0 1 0 1.9,0a0.95,0.95 0 1 0 -1.9,0M305.5,270.3a0.95,0.95 0 1 0 1.9,0a0.95,0.95 0 1 0 -1.9,0M304.8,269.4a0.95,0.95 0 1 0 1.9,0a0.95,0.95 0 1 0 -1.9,0M303.3,269.5a0.95,0.95 0 1 0 1.9,0a0.95,0.95 0 1 0 -1.9,0M302.4,268.2a0.95,0.95 0 1 0 1.9,0a0.95,0.95 0 1 0 -1.9,0M299.8,267.6a0.95,0.95 0 1 0 1.9,0a0.95,0.95 0 1 0 -1.9,0M298.7,266.8a0.95,0.95 0 1 0 1.9,0a0.95,0.95 0 1 0 -1.9,0M298.6,265.8a0.95,0.95 0 1 0 1.9,0a0.95,0.95 0 1 0 -1.9,0M296.9,265.0a0.95,0.95 0 1 0 1.9,0a0.95,0.95 0 1 0 -1.9,0M296.4,264.2a0.95,0.95 0 1 0 1.9,0a0.95,0.95 0 1 0 -1.9,0M294.6,264.0a0.95,0.95 0 1 0 1.9,0a0.95,0.95 0 1 0 -1.9,0M294.1,262.6a0.95,0.95 0 1 0 1.9,0a0.95,0.95 0 1 0 -1.9,0M293.5,261.7a0.95,0.95 0 1 0 1.9,0a0.95,0.95 0 1 0 -1.9,0M291.9,261.3a0.95,0.95 0 1 0 1.9,0a0.95,0.95 0 1 0 -1.9,0M291.3,260.4a0.95,0.95 0 1 0 1.9,0a0.95,0.95 0 1 0 -1.9,0M290.2,258.8a0.95,0.95 0 1 0 1.9,0a0.95,0.95 0 1 0 -1.9,0M289.4,257.9a0.95,0.95 0 1 0 1.9,0a0.95,0.95 0 1 0 -1.9,0M288.9,256.7a0.95,0.95 0 1 0 1.9,0a0.95,0.95 0 1 0 -1.9,0M288.1,255.6a0.95,0.95 0 1 0 1.9,0a0.95,0.95 0 1 0 -1.9,0M287.5,254.4a0.95,0.95 0 1 0 1.9,0a0.95,0.95 0 1 0 -1.9,0M286.9,253.6a0.95,0.95 0 1 0 1.9,0a0.95,0.95 0 1 0 -1.9,0M286.5,252.8a0.95,0.95 0 1 0 1.9,0a0.95,0.95 0 1 0 -1.9,0M284.8,251.8a0.95,0.95 0 1 0 1.9,0a0.95,0.95 0 1 0 -1.9,0M284.9,250.7a0.95,0.95 0 1 0 1.9,0a0.95,0.95 0 1 0 -1.9,0M283.6,249.3a0.95,0.95 0 1 0 1.9,0a0.95,0.95 0 1 0 -1.9,0M283.3,248.2a0.95,0.95 0 1 0 1.9,0a0.95,0.95 0 1 0 -1.9,0M283.5,247.0a0.95,0.95 0 1 0 1.9,0a0.95,0.95 0 1 0 -1.9,0M283.2,245.6a0.95,0.95 0 1 0 1.9,0a0.95,0.95 0 1 0 -1.9,0M282.4,244.8a0.95,0.95 0 1 0 1.9,0a0.95,0.95 0 1 0 -1.9,0M281.6,243.1a0.95,0.95 0 1 0 1.9,0a0.95,0.95 0 1 0 -1.9,0M281.7,242.0a0.95,0.95 0 1 0 1.9,0a0.95,0.95 0 1 0 -1.9,0M280.8,241.1a0.95,0.95 0 1 0 1.9,0a0.95,0.95 0 1 0 -1.9,0M281.3,239.2a0.95,0.95 0 1 0 1.9,0a0.95,0.95 0 1 0 -1.9,0M303.6,193.3a0.95,0.95 0 1 0 1.9,0a0.95,0.95 0 1 0 -1.9,0M309.3,191.5a0.95,0.95 0 1 0 1.9,0a0.95,0.95 0 1 0 -1.9,0M312.6,189.7a0.95,0.95 0 1 0 1.9,0a0.95,0.95 0 1 0 -1.9,0M316.0,189.5a0.95,0.95 0 1 0 1.9,0a0.95,0.95 0 1 0 -1.9,0M337.4,190.5a0.95,0.95 0 1 0 1.9,0a0.95,0.95 0 1 0 -1.9,0M338.6,191.3a0.95,0.95 0 1 0 1.9,0a0.95,0.95 0 1 0 -1.9,0M339.5,191.4a0.95,0.95 0 1 0 1.9,0a0.95,0.95 0 1 0 -1.9,0M340.5,192.8a0.95,0.95 0 1 0 1.9,0a0.95,0.95 0 1 0 -1.9,0M341.7,193.4a0.95,0.95 0 1 0 1.9,0a0.95,0.95 0 1 0 -1.9,0M343.4,193.5a0.95,0.95 0 1 0 1.9,0a0.95,0.95 0 1 0 -1.9,0M343.8,194.0a0.95,0.95 0 1 0 1.9,0a0.95,0.95 0 1 0 -1.9,0M344.7,195.0a0.95,0.95 0 1 0 1.9,0a0.95,0.95 0 1 0 -1.9,0M345.8,196.0a0.95,0.95 0 1 0 1.9,0a0.95,0.95 0 1 0 -1.9,0M347.4,196.2a0.95,0.95 0 1 0 1.9,0a0.95,0.95 0 1 0 -1.9,0M348.0,197.3a0.95,0.95 0 1 0 1.9,0a0.95,0.95 0 1 0 -1.9,0M349.5,197.1a0.95,0.95 0 1 0 1.9,0a0.95,0.95 0 1 0 -1.9,0M350.3,197.9a0.95,0.95 0 1 0 1.9,0a0.95,0.95 0 1 0 -1.9,0M351.5,198.8a0.95,0.95 0 1 0 1.9,0a0.95,0.95 0 1 0 -1.9,0M351.5,200.6a0.95,0.95 0 1 0 1.9,0a0.95,0.95 0 1 0 -1.9,0M353.1,200.3a0.95,0.95 0 1 0 1.9,0a0.95,0.95 0 1 0 -1.9,0M353.0,201.9a0.95,0.95 0 1 0 1.9,0a0.95,0.95 0 1 0 -1.9,0M355.2,202.4a0.95,0.95 0 1 0 1.9,0a0.95,0.95 0 1 0 -1.9,0M355.3,203.2a0.95,0.95 0 1 0 1.9,0a0.95,0.95 0 1 0 -1.9,0M355.5,204.5a0.95,0.95 0 1 0 1.9,0a0.95,0.95 0 1 0 -1.9,0M357.2,205.5a0.95,0.95 0 1 0 1.9,0a0.95,0.95 0 1 0 -1.9,0M358.1,206.5a0.95,0.95 0 1 0 1.9,0a0.95,0.95 0 1 0 -1.9,0M358.0,207.3a0.95,0.95 0 1 0 1.9,0a0.95,0.95 0 1 0 -1.9,0M358.7,208.6a0.95,0.95 0 1 0 1.9,0a0.95,0.95 0 1 0 -1.9,0M360.0,209.4a0.95,0.95 0 1 0 1.9,0a0.95,0.95 0 1 0 -1.9,0M359.6,210.8a0.95,0.95 0 1 0 1.9,0a0.95,0.95 0 1 0 -1.9,0M361.2,211.6a0.95,0.95 0 1 0 1.9,0a0.95,0.95 0 1 0 -1.9,0M361.7,212.6a0.95,0.95 0 1 0 1.9,0a0.95,0.95 0 1 0 -1.9,0" fill="#f4a630"/>
<path d="M358.0,216.1a0.95,0.95 0 1 0 1.9,0a0.95,0.95 0 1 0 -1.9,0M357.8,218.3a0.95,0.95 0 1 0 1.9,0a0.95,0.95 0 1 0 -1.9,0M357.9,219.1a0.95,0.95 0 1 0 1.9,0a0.95,0.95 0 1 0 -1.9,0M356.8,221.2a0.95,0.95 0 1 0 1.9,0a0.95,0.95 0 1 0 -1.9,0M358.8,222.0a0.95,0.95 0 1 0 1.9,0a0.95,0.95 0 1 0 -1.9,0M355.8,224.2a0.95,0.95 0 1 0 1.9,0a0.95,0.95 0 1 0 -1.9,0M356.0,225.2a0.95,0.95 0 1 0 1.9,0a0.95,0.95 0 1 0 -1.9,0M362.8,241.6a0.95,0.95 0 1 0 1.9,0a0.95,0.95 0 1 0 -1.9,0M360.6,250.8a0.95,0.95 0 1 0 1.9,0a0.95,0.95 0 1 0 -1.9,0M345.4,266.8a0.95,0.95 0 1 0 1.9,0a0.95,0.95 0 1 0 -1.9,0M344.7,267.5a0.95,0.95 0 1 0 1.9,0a0.95,0.95 0 1 0 -1.9,0M301.7,268.0a0.95,0.95 0 1 0 1.9,0a0.95,0.95 0 1 0 -1.9,0M280.3,238.5a0.95,0.95 0 1 0 1.9,0a0.95,0.95 0 1 0 -1.9,0M280.9,236.7a0.95,0.95 0 1 0 1.9,0a0.95,0.95 0 1 0 -1.9,0M280.2,235.1a0.95,0.95 0 1 0 1.9,0a0.95,0.95 0 1 0 -1.9,0M280.9,233.9a0.95,0.95 0 1 0 1.9,0a0.95,0.95 0 1 0 -1.9,0M279.8,232.7a0.95,0.95 0 1 0 1.9,0a0.95,0.95 0 1 0 -1.9,0M280.5,231.3a0.95,0.95 0 1 0 1.9,0a0.95,0.95 0 1 0 -1.9,0M279.8,229.8a0.95,0.95 0 1 0 1.9,0a0.95,0.95 0 1 0 -1.9,0M280.0,228.9a0.95,0.95 0 1 0 1.9,0a0.95,0.95 0 1 0 -1.9,0M280.0,227.6a0.95,0.95 0 1 0 1.9,0a0.95,0.95 0 1 0 -1.9,0M281.0,226.1a0.95,0.95 0 1 0 1.9,0a0.95,0.95 0 1 0 -1.9,0M280.4,224.4a0.95,0.95 0 1 0 1.9,0a0.95,0.95 0 1 0 -1.9,0M280.5,223.1a0.95,0.95 0 1 0 1.9,0a0.95,0.95 0 1 0 -1.9,0M281.6,221.7a0.95,0.95 0 1 0 1.9,0a0.95,0.95 0 1 0 -1.9,0M282.0,220.7a0.95,0.95 0 1 0 1.9,0a0.95,0.95 0 1 0 -1.9,0M282.1,219.4a0.95,0.95 0 1 0 1.9,0a0.95,0.95 0 1 0 -1.9,0M283.0,218.1a0.95,0.95 0 1 0 1.9,0a0.95,0.95 0 1 0 -1.9,0M283.2,216.8a0.95,0.95 0 1 0 1.9,0a0.95,0.95 0 1 0 -1.9,0M282.9,215.7a0.95,0.95 0 1 0 1.9,0a0.95,0.95 0 1 0 -1.9,0M283.8,214.6a0.95,0.95 0 1 0 1.9,0a0.95,0.95 0 1 0 -1.9,0M284.7,213.3a0.95,0.95 0 1 0 1.9,0a0.95,0.95 0 1 0 -1.9,0M284.4,211.9a0.95,0.95 0 1 0 1.9,0a0.95,0.95 0 1 0 -1.9,0M285.8,210.8a0.95,0.95 0 1 0 1.9,0a0.95,0.95 0 1 0 -1.9,0M286.4,209.2a0.95,0.95 0 1 0 1.9,0a0.95,0.95 0 1 0 -1.9,0M287.0,208.3a0.95,0.95 0 1 0 1.9,0a0.95,0.95 0 1 0 -1.9,0M287.9,207.1a0.95,0.95 0 1 0 1.9,0a0.95,0.95 0 1 0 -1.9,0M288.0,206.3a0.95,0.95 0 1 0 1.9,0a0.95,0.95 0 1 0 -1.9,0M289.6,205.0a0.95,0.95 0 1 0 1.9,0a0.95,0.95 0 1 0 -1.9,0M290.2,203.7a0.95,0.95 0 1 0 1.9,0a0.95,0.95 0 1 0 -1.9,0M291.3,203.2a0.95,0.95 0 1 0 1.9,0a0.95,0.95 0 1 0 -1.9,0M292.1,201.9a0.95,0.95 0 1 0 1.9,0a0.95,0.95 0 1 0 -1.9,0M293.0,201.4a0.95,0.95 0 1 0 1.9,0a0.95,0.95 0 1 0 -1.9,0M293.5,200.0a0.95,0.95 0 1 0 1.9,0a0.95,0.95 0 1 0 -1.9,0M295.1,198.7a0.95,0.95 0 1 0 1.9,0a0.95,0.95 0 1 0 -1.9,0M295.4,198.1a0.95,0.95 0 1 0 1.9,0a0.95,0.95 0 1 0 -1.9,0M297.3,197.5a0.95,0.95 0 1 0 1.9,0a0.95,0.95 0 1 0 -1.9,0M298.3,197.0a0.95,0.95 0 1 0 1.9,0a0.95,0.95 0 1 0 -1.9,0M299.1,196.1a0.95,0.95 0 1 0 1.9,0a0.95,0.95 0 1 0 -1.9,0M300.5,194.9a0.95,0.95 0 1 0 1.9,0a0.95,0.95 0 1 0 -1.9,0M301.9,194.3a0.95,0.95 0 1 0 1.9,0a0.95,0.95 0 1 0 -1.9,0M302.8,193.3a0.95,0.95 0 1 0 1.9,0a0.95,0.95 0 1 0 -1.9,0M305.2,193.2a0.95,0.95 0 1 0 1.9,0a0.95,0.95 0 1 0 -1.9,0M306.7,192.3a0.95,0.95 0 1 0 1.9,0a0.95,0.95 0 1 0 -1.9,0M307.4,191.7a0.95,0.95 0 1 0 1.9,0a0.95,0.95 0 1 0 -1.9,0M310.0,190.5a0.95,0.95 0 1 0 1.9,0a0.95,0.95 0 1 0 -1.9,0M311.0,190.4a0.95,0.95 0 1 0 1.9,0a0.95,0.95 0 1 0 -1.9,0M313.5,189.6a0.95,0.95 0 1 0 1.9,0a0.95,0.95 0 1 0 -1.9,0M314.7,189.9a0.95,0.95 0 1 0 1.9,0a0.95,0.95 0 1 0 -1.9,0M317.1,188.0a0.95,0.95 0 1 0 1.9,0a0.95,0.95 0 1 0 -1.9,0M318.5,187.9a0.95,0.95 0 1 0 1.9,0a0.95,0.95 0 1 0 -1.9,0M320.0,187.4a0.95,0.95 0 1 0 1.9,0a0.95,0.95 0 1 0 -1.9,0M321.1,188.2a0.95,0.95 0 1 0 1.9,0a0.95,0.95 0 1 0 -1.9,0M321.8,187.3a0.95,0.95 0 1 0 1.9,0a0.95,0.95 0 1 0 -1.9,0M323.4,187.6a0.95,0.95 0 1 0 1.9,0a0.95,0.95 0 1 0 -1.9,0M324.7,187.8a0.95,0.95 0 1 0 1.9,0a0.95,0.95 0 1 0 -1.9,0M326.2,188.1a0.95,0.95 0 1 0 1.9,0a0.95,0.95 0 1 0 -1.9,0M327.4,187.8a0.95,0.95 0 1 0 1.9,0a0.95,0.95 0 1 0 -1.9,0M328.7,188.7a0.95,0.95 0 1 0 1.9,0a0.95,0.95 0 1 0 -1.9,0M329.5,187.9a0.95,0.95 0 1 0 1.9,0a0.95,0.95 0 1 0 -1.9,0M330.5,188.9a0.95,0.95 0 1 0 1.9,0a0.95,0.95 0 1 0 -1.9,0M331.9,188.1a0.95,0.95 0 1 0 1.9,0a0.95,0.95 0 1 0 -1.9,0M333.1,188.8a0.95,0.95 0 1 0 1.9,0a0.95,0.95 0 1 0 -1.9,0M334.7,189.9a0.95,0.95 0 1 0 1.9,0a0.95,0.95 0 1 0 -1.9,0M335.7,190.1a0.95,0.95 0 1 0 1.9,0a0.95,0.95 0 1 0 -1.9,0" fill="#9430e4"/>
<circle cx="323.8" cy="231.4" r="58.0" fill="none" stroke="#888888" stroke-width="5.0"/>
<path d="M308.6,175.4A58.0,58.0 0 0 0 266.7,241.5" fill="none" stroke="#ff0000" stroke-width="5.0"/>
<path d="M269.1,212.0A58.0,58.0 0 0 0 267.5,217.4" fill="none" stroke="#888888" stroke-width="5.0"/>
<path d="M310.6,174.9A58.0,58.0 0 0 0 309.2,175.3" fill="none" stroke="#888888" stroke-width="5.0"/>
<path d="M309.2,175.3A58.0,58.0 0 0 0 307.7,175.7" fill="none" stroke="#ff0000" stroke-width="5.0"/>
<path d="M312.3,174.5A58.0,58.0 0 0 0 310.6,174.9" fill="none" stroke="#ff0000" stroke-width="5.0"/>
<path d="M316.3,173.9A58.0,58.0 0 0 0 312.3,174.5" fill="none" stroke="#5028c8" stroke-width="5.0"/>
<path d="M319.8,173.5A58.0,58.0 0 0 0 316.3,173.9" fill="none" stroke="#888888" stroke-width="5.0"/>
<path d="M326.1,173.4A58.0,58.0 0 0 0 319.8,173.5" fill="none" stroke="#0000ff" stroke-width="5.0"/>
<path d="M329.6,173.7A58.0,58.0 0 0 0 326.1,173.4" fill="none" stroke="#a02890" stroke-width="5.0"/>
<path d="M331.9,174.0A58.0,58.0 0 0 0 329.6,173.7" fill="none" stroke="#ff0000" stroke-width="5.0"/>
<path d="M337.7,175.1A58.0,58.0 0 0 0 331.9,174.0" fill="none" stroke="#0000ff" stroke-width="5.0"/>
<path d="M342.3,176.4A58.0,58.0 0 0 0 337.7,175.1" fill="none" stroke="#ff0000" stroke-width="5.0"/>
<path d="M352.8,181.2A58.0,58.0 0 0 0 350.4,179.9" fill="none" stroke="#0000ff" stroke-width="5.0"/>
<path d="M357.0,183.8A58.0,58.0 0 0 0 355.3,182.7" fill="none" stroke="#ff0000" stroke-width="5.0"/>
<path d="M368.7,194.7A58.0,58.0 0 0 0 367.4,193.1" fill="none" stroke="#ff0000" stroke-width="5.0"/>
<path d="M381.6,226.3A58.0,58.0 0 0 0 376.7,207.7" fill="none" stroke="#ff0000" stroke-width="5.0"/>
<path d="M380.7,220.3A58.0,58.0 0 0 0 380.3,218.4" fill="none" stroke="#b06060" stroke-width="5.0"/>
<path d="M381.5,237.5A58.0,58.0 0 0 0 381.8,231.9" fill="none" stroke="#0000ff" stroke-width="5.0"/>
<path d="M270.8,255.0A58.0,58.0 0 0 0 271.7,256.8" fill="none" stroke="#ff0000" stroke-width="5.0"/>
<path d="M272.2,258.0A58.0,58.0 0 0 0 272.9,259.3" fill="none" stroke="#0000ff" stroke-width="5.0"/>
<path d="M274.2,261.5A58.0,58.0 0 0 0 275.0,262.8" fill="none" stroke="#0000ff" stroke-width="5.0"/>
<path d="M276.4,264.9A58.0,58.0 0 0 0 277.3,266.1" fill="none" stroke="#0000ff" stroke-width="5.0"/>
<path d="M278.9,268.1A58.0,58.0 0 0 0 279.9,269.3" fill="none" stroke="#0000ff" stroke-width="5.0"/>
<path d="M281.6,271.1A58.0,58.0 0 0 0 282.6,272.2" fill="none" stroke="#0000ff" stroke-width="5.0"/>
<path d="M288.9,277.8A58.0,58.0 0 0 0 290.2,278.6" fill="none" stroke="#0000ff" stroke-width="5.0"/>
<path d="M295.0,281.8A58.0,58.0 0 0 0 296.3,282.5" fill="none" stroke="#0000ff" stroke-width="5.0"/>
<path d="M298.6,283.6A58.0,58.0 0 0 0 300.0,284.3" fill="none" stroke="#0000ff" stroke-width="5.0"/>
<path d="M302.3,285.3A58.0,58.0 0 0 0 303.7,285.8" fill="none" stroke="#0000ff" stroke-width="5.0"/>
<path d="M311.4,288.1A58.0,58.0 0 0 0 312.9,288.4" fill="none" stroke="#0000ff" stroke-width="5.0"/>
<path d="M376.8,255.0A58.0,58.0 0 0 0 377.6,253.1" fill="none" stroke="#0000ff" stroke-width="5.0"/>
<path d="M375.4,257.9A58.0,58.0 0 0 0 376.3,256.1" fill="none" stroke="#ff0000" stroke-width="5.0"/>
<path d="M367.9,269.1A58.0,58.0 0 0 0 368.9,267.9" fill="none" stroke="#0000ff" stroke-width="5.0"/>
<path d="M368.9,267.9A58.0,58.0 0 0 0 369.8,266.7" fill="none" stroke="#ff0000" stroke-width="5.0"/>
<path d="M370.1,266.3A58.0,58.0 0 0 0 371.0,265.1" fill="none" stroke="#0000ff" stroke-width="5.0"/>
<path d="M360.7,276.2A58.0,58.0 0 0 0 362.6,274.5" fill="none" stroke="#ff0000" stroke-width="5.0"/>
<path d="M381.8,229.9A58.0,58.0 0 0 0 381.6,226.8" fill="none" stroke="#fff" stroke-width="6.0"/>
</g>
<g>
<path d="M510.1,231.4A53,53 0 1 0 404.1,231.4A53,53 0 1 0 510.1,231.4Z M510.1,231.4 L510.1,230.9 L510.1,230.5 L510.1,230.0 L510.1,229.6 L510.0,229.1 L510.0,228.6 L510.0,228.2 L510.0,227.7 L509.9,227.2 L509.9,226.8 L498.5,227.4 L492.0,227.7 L492.0,227.4 L492.0,227.1 L491.9,226.8 L491.9,226.5 L491.8,226.2 L491.8,225.9 L491.7,225.6 L491.7,225.3 L491.6,225.0 L493.6,224.3 L493.5,224.0 L493.5,223.7 L493.4,223.4 L493.3,223.0 L493.3,222.7 L493.8,222.2 L493.8,221.9 L493.7,221.6 L493.6,221.3 L494.8,220.6 L494.7,220.3 L494.6,219.9 L494.5,219.6 L494.4,219.3 L494.3,218.9 L492.1,219.4 L492.0,219.0 L491.9,218.7 L490.5,218.9 L490.4,218.6 L490.3,218.3 L490.2,218.0 L490.0,217.8 L489.9,217.5 L489.8,217.2 L487.2,218.0 L487.1,217.7 L487.0,217.5 L486.9,217.2 L486.7,216.9 L486.6,216.7 L486.5,216.4 L486.4,216.2 L486.2,215.9 L486.1,215.7 L487.6,214.5 L487.4,214.2 L487.3,214.0 L487.1,213.7 L487.0,213.4 L488.0,212.5 L487.8,212.2 L487.6,212.0 L487.5,211.7 L487.3,211.4 L487.1,211.2 L486.9,210.9 L490.7,207.8 L490.5,207.6 L486.1,210.3 L485.9,210.1 L485.7,209.8 L485.1,209.9 L484.9,209.7 L484.7,209.5 L484.5,209.2 L484.3,209.0 L484.1,208.7 L483.9,208.5 L483.7,208.3 L483.5,208.0 L483.3,207.8 L483.3,207.4 L483.1,207.1 L482.9,206.9 L482.7,206.7 L482.5,206.5 L484.4,204.1 L484.2,203.8 L484.0,203.6 L493.6,193.0 L493.2,192.6 L492.9,192.3 L492.6,192.0 L492.2,191.7 L491.9,191.4 L482.8,201.3 L482.5,201.1 L482.3,200.9 L482.0,200.6 L481.7,200.4 L481.5,200.2 L481.2,200.0 L480.9,199.8 L480.6,199.6 L480.4,199.4 L482.2,196.2 L481.9,196.0 L481.5,195.9 L481.2,195.7 L480.9,195.5 L480.6,195.3 L479.5,196.2 L479.2,196.0 L478.9,195.9 L478.6,195.7 L478.3,195.5 L477.9,195.3 L477.6,195.1 L476.2,196.9 L475.9,196.7 L475.6,196.6 L475.3,196.4 L475.0,196.2 L474.7,196.1 L474.4,195.9 L474.1,195.8 L473.8,195.6 L473.5,195.5 L473.2,195.3 L472.8,195.2 L472.5,195.0 L473.7,191.2 L473.4,191.1 L473.0,191.0 L472.7,190.8 L470.5,195.6 L470.2,195.5 L469.9,195.4 L469.6,195.2 L469.2,195.1 L468.9,195.0 L468.6,194.9 L468.3,194.8 L468.0,194.7 L467.6,194.6 L468.1,191.7 L467.8,191.6 L467.4,191.5 L467.1,191.5 L466.7,191.4 L465.4,195.4 L465.1,195.3 L464.8,195.3 L464.5,195.2 L464.1,195.1 L463.8,195.1 L463.5,195.0 L463.2,195.0 L462.9,194.9 L462.6,194.9 L462.9,190.5 L462.5,190.4 L462.1,190.4 L461.5,193.2 L461.1,193.1 L460.8,193.1 L460.5,193.1 L460.1,193.0 L459.8,193.0 L459.4,194.6 L459.0,194.6 L458.7,194.5 L458.4,194.5 L458.1,194.5 L457.7,194.5 L457.4,194.5 L457.1,194.5 L456.8,194.5 L456.5,194.5 L456.0,190.4 L455.7,190.4 L455.3,190.5 L454.3,178.5 L453.9,178.5 L453.4,178.5 L453.6,187.3 L453.2,187.4 L452.9,187.4 L452.5,187.4 L452.4,189.8 L452.0,189.9 L451.6,189.9 L451.3,189.9 L451.1,191.5 L450.8,191.5 L450.4,191.6 L450.1,191.6 L449.7,191.7 L449.4,191.8 L449.0,191.8 L448.7,191.9 L448.4,192.0 L448.0,192.0 L447.4,191.1 L447.1,191.2 L446.7,191.3 L446.4,191.4 L446.0,191.5 L445.7,191.6 L445.5,192.4 L445.2,192.5 L444.9,192.6 L444.5,192.7 L444.2,192.8 L443.8,192.9 L443.5,193.0 L443.2,193.1 L442.8,193.3 L442.5,193.4 L441.4,191.6 L441.1,191.8 L440.7,191.9 L440.4,192.0 L439.6,191.2 L439.3,191.3 L438.9,191.5 L438.6,191.6 L438.2,191.8 L437.9,192.0 L437.7,192.5 L437.4,192.7 L437.0,192.9 L436.7,193.0 L436.4,193.2 L436.0,193.4 L435.7,193.6 L435.4,193.8 L435.0,194.0 L434.7,194.2 L433.8,193.5 L435.4,196.7 L435.1,196.9 L434.8,197.1 L434.5,197.3 L434.2,197.5 L433.9,197.7 L433.6,197.9 L433.4,198.1 L433.1,198.3 L432.8,198.5 L431.1,196.9 L430.8,197.1 L430.5,197.3 L430.2,197.5 L429.9,197.8 L432.6,201.6 L432.3,201.8 L432.0,202.1 L431.8,202.3 L431.5,202.5 L431.3,202.7 L431.0,203.0 L430.8,203.2 L430.5,203.4 L430.3,203.6 L429.1,202.9 L428.9,203.2 L428.6,203.4 L428.4,203.7 L428.1,203.9 L425.7,202.1 L425.4,202.4 L425.2,202.7 L424.9,203.0 L424.7,203.2 L424.4,203.5 L424.1,203.7 L423.9,204.0 L423.7,204.3 L423.4,204.6 L423.2,204.9 L423.0,205.2 L423.8,206.3 L423.6,206.6 L423.4,206.9 L423.2,207.2 L423.0,207.5 L422.8,207.8 L422.6,208.1 L422.4,208.4 L422.2,208.7 L422.0,209.0 L421.4,209.1 L421.2,209.4 L421.0,209.7 L420.8,210.0 L421.6,210.9 L421.4,211.2 L421.2,211.5 L421.1,211.8 L420.9,212.1 L420.7,212.5 L420.6,212.8 L421.6,213.7 L421.4,214.0 L421.3,214.3 L421.1,214.6 L421.0,214.9 L420.8,215.2 L420.7,215.6 L420.5,215.9 L420.4,216.2 L420.3,216.5 L418.2,216.1 L418.1,216.4 L417.9,216.8 L417.8,217.1 L417.7,217.4 L417.6,217.8 L417.5,218.1 L417.3,218.5 L417.2,218.8 L417.1,219.2 L416.9,219.5 L416.8,219.8 L416.7,220.2 L416.6,220.5 L416.5,220.9 L412.5,220.3 L412.4,220.7 L418.8,222.6 L418.7,222.9 L418.6,223.2 L418.6,223.6 L419.2,224.0 L419.1,224.4 L419.1,224.7 L419.0,225.0 L419.0,225.4 L418.9,225.7 L418.9,226.0 L418.8,226.4 L418.8,226.7 L418.7,227.0 L411.8,226.6 L411.7,227.0 L411.7,227.4 L411.7,227.8 L412.6,228.3 L412.6,228.7 L412.6,229.1 L412.5,229.5 L412.5,229.8 L412.5,230.2 L412.5,230.6 L412.5,231.0 L412.5,231.4 L412.5,231.8 L412.3,232.2 L412.3,232.6 L412.3,233.0 L412.4,233.4 L412.4,233.7 L414.8,234.0 L414.8,234.4 L414.8,234.7 L414.9,235.1 L414.9,235.5 L415.0,235.8 L415.0,236.2 L415.0,236.6 L415.1,236.9 L415.1,237.3 L408.5,238.7 L408.6,239.1 L408.7,239.5 L408.7,239.9 L408.8,240.4 L405.1,241.5 L405.2,242.0 L405.3,242.4 L405.4,242.9 L405.5,243.3 L405.6,243.8 L405.7,244.2 L405.8,244.7 L405.9,245.1 L406.0,245.6 L406.2,246.0 L406.3,246.5 L419.5,242.9 L419.6,243.2 L420.2,243.4 L420.3,243.7 L420.4,244.0 L421.5,244.0 L421.6,244.3 L421.7,244.6 L421.8,244.9 L423.1,244.8 L423.2,245.1 L423.3,245.4 L423.7,245.6 L423.8,245.9 L424.0,246.2 L424.1,246.4 L424.2,246.7 L424.4,247.0 L424.5,247.3 L424.6,247.6 L424.8,247.9 L425.5,247.9 L425.6,248.1 L425.8,248.4 L425.9,248.7 L426.1,249.0 L426.2,249.2 L426.4,249.5 L426.5,249.8 L426.7,250.0 L426.9,250.3 L425.5,251.5 L425.7,251.8 L425.9,252.1 L426.0,252.3 L426.2,252.6 L426.4,252.9 L426.6,253.2 L426.8,253.4 L427.0,253.7 L426.9,254.1 L427.1,254.4 L427.3,254.7 L427.5,254.9 L428.0,255.0 L428.2,255.2 L428.4,255.5 L428.6,255.7 L428.8,256.0 L429.1,256.2 L430.3,255.5 L430.5,255.7 L430.8,256.0 L431.0,256.2 L431.2,256.4 L431.4,256.7 L431.6,256.9 L431.8,257.1 L432.1,257.3 L432.3,257.5 L431.7,258.6 L431.9,258.9 L432.2,259.1 L432.1,259.6 L432.4,259.8 L432.6,260.0 L431.8,261.5 L432.1,261.7 L432.4,261.9 L434.5,259.8 L434.7,260.0 L435.0,260.2 L435.2,260.4 L435.5,260.6 L435.7,260.8 L436.0,261.0 L436.2,261.2 L436.5,261.4 L436.8,261.5 L436.9,261.9 L437.2,262.0 L437.5,262.2 L437.7,262.4 L438.0,262.5 L438.3,262.7 L438.6,262.9 L438.1,264.4 L438.3,264.6 L438.6,264.7 L438.7,265.3 L439.0,265.5 L440.2,263.8 L440.5,264.0 L440.8,264.1 L441.1,264.3 L441.4,264.4 L441.7,264.5 L441.9,264.7 L442.2,264.8 L442.5,264.9 L442.8,265.0 L443.2,265.0 L443.5,265.2 L443.8,265.3 L444.1,265.4 L444.3,265.5 L444.6,265.6 L444.9,265.7 L445.2,265.8 L445.5,265.9 L445.8,266.0 L445.8,267.2 L446.1,267.3 L446.4,267.4 L446.8,267.5 L447.1,267.5 L447.4,267.6 L447.6,268.3 L447.9,268.4 L448.2,268.4 L448.5,268.5 L448.9,268.6 L449.2,268.7 L449.5,268.7 L449.8,268.8 L450.3,268.0 L450.6,268.0 L451.0,268.1 L451.3,268.2 L451.6,268.2 L451.9,268.2 L452.2,268.3 L452.6,268.3 L452.9,268.4 L453.2,268.4 L453.5,268.8 L453.8,268.8 L454.2,268.8 L454.5,268.9 L454.8,268.4 L455.2,268.4 L455.5,268.4 L455.8,268.4 L456.1,268.5 L456.5,268.5 L456.8,268.5 L457.1,268.5 L457.4,268.5 L457.7,268.5 L458.1,269.8 L458.4,269.7 L458.8,269.7 L459.1,269.6 L459.4,269.6 L459.8,269.6 L460.0,268.3 L460.3,268.3 L460.7,268.3 L461.0,268.3 L461.3,268.2 L461.6,267.9 L461.9,267.9 L462.2,267.8 L462.5,267.8 L462.9,267.7 L463.2,267.7 L463.5,267.6 L463.8,267.6 L464.1,267.5 L464.4,267.4 L464.9,267.9 L465.2,267.9 L465.5,267.8 L465.8,267.7 L466.1,267.6 L466.5,267.6 L466.8,267.5 L467.1,267.4 L467.4,267.3 L472.2,282.2 L472.6,282.1 L473.0,281.9 L473.5,281.8 L468.3,264.9 L468.6,264.8 L468.9,264.7 L469.2,264.6 L469.5,264.5 L469.8,264.4 L470.1,264.3 L470.4,264.2 L470.6,264.1 L470.9,264.0 L471.0,263.4 L471.3,263.2 L471.6,263.1 L471.8,263.0 L472.1,262.9 L472.4,262.7 L472.6,262.6 L472.9,262.5 L473.2,262.3 L473.5,262.2 L474.0,262.6 L474.3,262.4 L474.6,262.3 L474.8,262.1 L475.1,261.9 L475.6,262.1 L475.8,261.9 L476.1,261.8 L476.3,261.6 L476.6,261.4 L476.9,261.3 L477.1,261.1 L477.5,261.1 L477.8,260.9 L478.0,260.7 L478.2,260.5 L478.5,260.3 L478.8,260.1 L479.0,259.9 L479.3,259.8 L479.5,259.6 L479.7,259.4 L480.0,259.2 L480.2,259.0 L480.5,258.8 L480.7,258.6 L481.0,258.4 L481.2,258.2 L481.4,258.0 L481.7,257.7 L481.9,257.5 L482.1,257.3 L482.4,257.1 L482.9,257.2 L483.2,257.0 L483.4,256.8 L483.6,256.6 L483.8,256.3 L484.1,256.1 L484.4,256.0 L484.6,255.7 L484.8,255.5 L485.0,255.2 L485.2,255.0 L485.4,254.7 L485.6,254.5 L485.8,254.2 L486.0,254.0 L486.2,253.7 L486.0,253.2 L486.2,252.9 L486.4,252.7 L486.6,252.4 L486.8,252.2 L486.9,251.9 L487.1,251.7 L487.3,251.4 L487.5,251.1 L487.6,250.9 L488.1,250.8 L488.3,250.5 L488.4,250.2 L489.1,250.2 L489.2,249.9 L489.4,249.7 L489.5,249.4 L489.7,249.1 L489.8,248.8 L490.0,248.5 L490.4,248.3 L490.5,248.1 L490.6,247.8 L490.3,247.2 L490.5,247.0 L490.6,246.7 L490.7,246.4 L490.9,246.1 L491.0,245.8 L491.1,245.5 L491.2,245.2 L491.3,244.9 L491.5,244.6 L492.2,244.5 L492.4,244.2 L492.5,243.9 L492.6,243.6 L492.1,243.1 L492.2,242.8 L492.3,242.5 L492.4,242.2 L492.5,241.9 L492.6,241.6 L492.7,241.3 L492.7,241.0 L492.8,240.6 L492.9,240.3 L493.5,240.1 L493.6,239.8 L493.6,239.5 L493.7,239.2 L493.8,238.9 L494.0,238.6 L494.1,238.2 L494.1,237.9 L494.2,237.6 L494.2,237.3 L494.3,237.0 L494.3,236.6 L495.0,236.4 L495.1,236.1 L495.1,235.7 L495.1,235.4 L494.7,235.0 L494.8,234.7 L494.8,234.4 L494.8,234.0 L494.8,233.7 L494.9,233.4 L494.9,233.0 L494.9,232.7 L494.9,232.4 L494.9,232.1 L510.1,231.9 L510.1,231.4Z" fill="#f0f0f0" fill-rule="evenodd"/>
<path d="M469.1,231.4A12.0,12.0 0 1 0 468.5,235.1M482.5,247.4A30.0,30.0 0 0 0 487.1,233.1M476.7,258.0A33.0,33.0 0 0 0 489.5,237.7M492.0,239.8A35.9,35.9 0 0 0 492.6,236.6M493.0,238.0A36.5,36.5 0 0 0 493.4,235.4M470.2,261.7A33.0,33.0 0 0 0 482.1,252.9M478.7,256.4A33.0,33.0 0 0 0 485.0,249.0M483.7,252.9A34.2,34.2 0 0 0 488.0,246.1M487.1,249.1A34.8,34.8 0 0 0 489.7,243.5M489.2,245.2A35.0,35.0 0 0 0 490.4,242.0M490.8,243.1A35.7,35.7 0 0 0 491.4,241.3M486.9,250.8A35.6,35.6 0 0 0 488.5,248.1M488.5,249.3A36.2,36.2 0 0 0 489.5,247.5M483.3,254.1A34.7,34.7 0 0 0 484.9,252.2M484.4,253.6A35.1,35.1 0 0 0 486.1,251.3M476.8,257.9A33.0,33.0 0 0 0 480.5,254.7M475.1,259.5A33.3,33.3 0 0 0 478.7,256.8M478.8,258.7A34.9,34.9 0 0 0 480.6,257.1M474.1,260.8A33.9,33.9 0 0 0 476.7,259.1M473.5,261.6A34.4,34.4 0 0 0 475.1,260.7M469.5,263.2A34.1,34.1 0 0 0 471.8,262.2M469.2,263.6A34.4,34.4 0 0 0 470.1,263.3M437.8,242.0A22.0,22.0 0 0 0 450.0,252.2M442.3,252.6A25.9,25.9 0 0 0 456.0,257.3M453.1,258.1A27.0,27.0 0 0 0 458.8,258.4M456.4,259.1A27.7,27.7 0 0 0 461.3,258.8M459.8,259.3A28.0,28.0 0 0 0 462.9,258.8M463.6,266.3A35.5,35.5 0 0 0 465.2,265.9M465.0,266.8A36.3,36.3 0 0 0 465.8,266.6M459.3,266.2A34.8,34.8 0 0 0 461.7,265.9M461.2,266.5A35.3,35.3 0 0 0 462.3,266.3M461.8,266.9A35.8,35.8 0 0 0 462.9,266.7M459.0,268.1A36.7,36.7 0 0 0 459.9,268.0M455.3,264.5A33.2,33.2 0 0 0 457.1,264.6M456.6,265.4A34.0,34.0 0 0 0 457.6,265.4M457.0,268.3A36.9,36.9 0 0 0 458.3,268.3M456.3,266.7A35.4,35.4 0 0 0 456.9,266.8M451.3,265.2A34.3,34.3 0 0 0 452.7,265.4M451.5,266.4A35.4,35.4 0 0 0 453.6,266.7M453.1,267.3A36.1,36.1 0 0 0 454.0,267.4M451.0,267.0A36.2,36.2 0 0 0 451.8,267.2M438.1,250.1A26.7,26.7 0 0 0 446.0,255.7M442.6,254.7A27.4,27.4 0 0 0 449.0,257.6M446.3,262.0A32.4,32.4 0 0 0 448.8,262.7M447.5,263.7A33.7,33.7 0 0 0 449.4,264.2M448.3,265.4A35.1,35.1 0 0 0 449.9,265.8M449.3,267.0A36.5,36.5 0 0 0 450.1,267.2M446.4,265.6A35.8,35.8 0 0 0 447.3,265.8M444.8,265.9A36.6,36.6 0 0 0 445.1,266.0M440.5,253.9A28.0,28.0 0 0 0 444.3,256.3M441.5,259.4A32.0,32.0 0 0 0 443.4,260.4M441.8,260.3A32.7,32.7 0 0 0 444.5,261.6M443.4,261.7A33.3,33.3 0 0 0 445.2,262.5M444.3,263.6A34.7,34.7 0 0 0 445.2,263.9M442.4,262.8A34.7,34.7 0 0 0 443.2,263.2M439.3,264.2A37.4,37.4 0 0 0 439.9,264.6M438.6,263.7A37.3,37.3 0 0 0 439.3,264.2M437.4,256.5A32.0,32.0 0 0 0 438.9,257.7M437.8,257.9A32.8,32.8 0 0 0 439.1,258.8M437.8,259.4A34.0,34.0 0 0 0 439.0,260.2M437.8,261.1A35.4,35.4 0 0 0 438.7,261.6M433.1,261.6A38.5,38.5 0 0 0 433.5,261.9M432.5,253.9A33.4,33.4 0 0 0 434.2,255.7M432.8,255.5A34.2,34.2 0 0 0 434.5,257.1M432.3,258.4A36.6,36.6 0 0 0 433.5,259.4M432.0,260.2A38.3,38.3 0 0 0 432.9,261.0M432.1,255.6A34.8,34.8 0 0 0 432.8,256.2M431.6,241.8A27.5,27.5 0 0 0 434.6,247.3M433.2,245.9A28.0,28.0 0 0 0 435.4,249.1M429.2,253.3A35.5,35.5 0 0 0 430.0,254.3M429.3,254.1A35.9,35.9 0 0 0 430.1,255.0M427.6,254.1A37.2,37.2 0 0 0 428.0,254.7M429.2,246.6A31.8,31.8 0 0 0 430.7,249.1M427.9,250.1A34.7,34.7 0 0 0 428.7,251.4M427.2,251.7A36.1,36.1 0 0 0 427.9,252.7M428.0,246.2A32.6,32.6 0 0 0 428.9,247.8M427.9,247.6A33.4,33.4 0 0 0 428.5,248.7M426.7,247.6A34.4,34.4 0 0 0 427.3,248.6M424.8,243.2A34.3,34.3 0 0 0 425.9,245.7M425.2,245.5A34.8,34.8 0 0 0 425.6,246.3M424.0,242.9A35.1,35.1 0 0 0 424.4,243.9M422.8,244.0A36.5,36.5 0 0 0 423.2,245.0M470.6,227.8A14.0,14.0 0 0 0 468.8,223.7M480.7,219.3A26.5,26.5 0 0 0 477.5,214.5M478.9,215.5A27.0,27.0 0 0 0 476.8,212.9M482.1,208.5A33.9,33.9 0 0 0 481.6,207.9M483.8,213.1A32.4,32.4 0 0 0 482.7,211.5M483.7,211.5A33.3,33.3 0 0 0 483.0,210.5M483.6,210.6A33.7,33.7 0 0 0 483.0,209.9M483.9,218.9A29.6,29.6 0 0 0 482.8,216.9M483.6,217.7A29.8,29.8 0 0 0 482.5,215.8M487.2,213.6A35.0,35.0 0 0 0 486.7,212.7M485.1,217.5A31.2,31.2 0 0 0 484.5,216.5M483.6,226.1A27.0,27.0 0 0 0 482.7,222.8M487.9,222.1A32.2,32.2 0 0 0 487.3,220.2M488.4,220.8A33.1,33.1 0 0 0 487.8,219.0M488.9,219.1A34.1,34.1 0 0 0 488.5,218.2M489.7,226.5A33.0,33.0 0 0 0 489.1,223.5M492.4,223.2A36.2,36.2 0 0 0 492.1,222.2M490.3,227.0A33.4,33.4 0 0 0 490.1,225.7M490.8,226.4A34.0,34.0 0 0 0 490.5,224.8M465.3,220.0A14.0,14.0 0 0 0 460.8,217.9M469.2,204.8A29.2,29.2 0 0 0 460.4,202.4M463.0,202.4A29.5,29.5 0 0 0 457.8,201.9M458.6,201.4A30.0,30.0 0 0 0 457.1,201.4M459.7,196.5A35.0,35.0 0 0 0 458.0,196.4M465.5,197.9A34.6,34.6 0 0 0 462.4,197.2M463.5,196.8A35.2,35.2 0 0 0 461.5,196.5M472.4,200.8A34.2,34.2 0 0 0 470.1,199.8M471.9,200.0A34.8,34.8 0 0 0 468.8,198.6M470.3,198.1A35.8,35.8 0 0 0 467.9,197.2M468.5,196.7A36.5,36.5 0 0 0 467.7,196.5M480.9,201.1A38.5,38.5 0 0 0 478.3,199.3M480.2,199.1A39.7,39.7 0 0 0 477.7,197.5M478.6,197.5A40.2,40.2 0 0 0 477.3,196.7M451.2,211.2A21.0,21.0 0 0 0 439.5,220.0M436.6,207.0A31.9,31.9 0 0 0 426.4,222.7M428.0,216.5A32.7,32.7 0 0 0 424.5,228.9M424.6,225.9A33.0,33.0 0 0 0 424.1,231.9M418.1,230.3A39.0,39.0 0 0 0 418.2,233.7M417.7,232.5A39.5,39.5 0 0 0 417.8,235.0M417.1,233.7A40.1,40.1 0 0 0 417.3,236.3M416.7,235.4A40.6,40.6 0 0 0 416.9,237.3M421.1,223.3A36.9,36.9 0 0 0 420.5,227.1M420.1,225.8A37.4,37.4 0 0 0 419.8,228.2M412.8,226.7A44.6,44.6 0 0 0 412.6,228.6M420.3,222.0A38.0,38.0 0 0 0 419.8,224.2M428.9,214.2A33.0,33.0 0 0 0 426.7,218.6M423.1,214.9A37.8,37.8 0 0 0 421.5,218.5M419.9,216.6A40.0,40.0 0 0 0 419.0,219.0M418.8,218.1A40.6,40.6 0 0 0 418.3,219.6M423.0,213.4A38.5,38.5 0 0 0 421.9,215.7M423.3,209.6A40.3,40.3 0 0 0 422.2,211.4M438.2,204.9A32.6,32.6 0 0 0 434.2,208.2M435.9,206.1A33.0,33.0 0 0 0 432.1,209.8M430.3,205.0A37.6,37.6 0 0 0 427.1,208.7M425.8,205.8A40.5,40.5 0 0 0 423.9,208.3M425.6,205.0A41.0,41.0 0 0 0 425.0,205.8M430.2,203.5A38.7,38.7 0 0 0 428.9,204.8M434.1,202.2A37.2,37.2 0 0 0 432.4,203.6M434.8,198.8A39.5,39.5 0 0 0 433.5,199.7M451.5,199.4A32.4,32.4 0 0 0 444.6,201.5M447.0,200.0A33.0,33.0 0 0 0 441.8,202.1M439.9,194.3A40.8,40.8 0 0 0 436.5,196.1M437.2,194.9A41.6,41.6 0 0 0 435.1,196.1M439.7,192.5A42.6,42.6 0 0 0 438.7,193.0M446.9,194.9A37.9,37.9 0 0 0 444.2,195.8M444.4,194.3A39.2,39.2 0 0 0 443.2,194.7M452.0,193.2A38.5,38.5 0 0 0 449.0,193.8M449.7,193.1A39.0,39.0 0 0 0 448.1,193.5M452.5,191.3A40.4,40.4 0 0 0 450.9,191.5M449.9,221.8L444.5,214.6M462.3,220.6L463.2,218.8M468.0,226.5L469.9,225.7M449.4,240.6L443.0,248.3M468.5,235.1L485.7,240.6M482.5,247.4L485.0,249.0M487.1,233.1L494.3,233.5M489.5,237.7L492.4,238.2M492.0,239.8L493.0,240.0M492.6,236.6L493.2,236.7M493.0,238.0L493.6,238.1M493.4,235.4L494.6,235.5M470.2,261.7L470.7,262.7M485.0,249.0L486.1,249.6M483.7,252.9L484.1,253.2M488.0,246.1L488.5,246.4M487.1,249.1L487.7,249.5M489.7,243.5L489.9,243.6M489.2,245.2L490.5,245.7M490.4,242.0L491.1,242.2M490.8,243.1L492.1,243.5M491.4,241.3L492.1,241.4M486.9,250.8L487.3,251.0M488.5,248.1L489.0,248.4M488.5,249.3L488.9,249.5M489.5,247.5L490.1,247.8M483.3,254.1L484.5,255.1M484.9,252.2L485.2,252.5M484.4,253.6L485.2,254.2M486.1,251.3L486.5,251.6M476.8,257.9L477.0,258.2M480.5,254.7L482.6,256.9M475.1,259.5L475.4,260.0M478.7,256.8L479.7,257.9M478.8,258.7L479.2,259.2M480.6,257.1L481.1,257.6M474.1,260.8L474.3,261.2M476.7,259.1L477.6,260.4M473.5,261.6L473.7,262.1M475.1,260.7L475.6,261.5M469.5,263.2L469.6,263.5M471.8,262.2L471.9,262.4M469.2,263.6L469.3,264.1M470.1,263.3L470.3,263.8M437.8,242.0L433.0,244.6M450.0,252.2L448.8,255.9M442.3,252.6L441.8,253.3M456.0,257.3L455.9,258.4M453.1,258.1L452.0,265.3M458.8,258.4L458.8,259.0M456.4,259.1L456.2,264.5M461.3,258.8L461.4,259.1M459.8,259.3L460.5,266.1M462.9,258.8L464.4,266.1M463.6,266.3L464.2,269.4M465.2,265.9L465.4,266.7M465.0,266.8L465.3,268.1M465.8,266.6L465.9,267.2M459.3,266.2L459.5,268.1M461.7,265.9L461.7,266.4M461.2,266.5L461.3,267.7M462.3,266.3L462.3,266.8M461.8,266.9L462.0,268.6M462.9,266.7L463.0,267.2M459.0,268.1L459.1,269.5M459.9,268.0L460.0,269.1M455.3,264.5L455.1,268.4M457.1,264.6L457.1,265.4M456.6,265.4L456.6,266.8M457.6,265.4L457.7,268.3M457.0,268.3L457.0,275.8M458.3,268.3L458.3,269.3M456.3,266.7L456.2,268.0M456.9,266.8L456.8,270.9M451.3,265.2L449.1,277.8M452.7,265.4L452.6,266.5M451.5,266.4L451.4,267.1M453.6,266.7L453.6,267.3M453.1,267.3L452.9,269.5M454.0,267.4L453.9,268.8M451.0,267.0L450.4,270.3M451.8,267.2L451.7,267.7M438.1,250.1L433.3,254.8M446.0,255.7L445.7,256.3M442.6,254.7L442.3,255.2M449.0,257.6L447.5,262.4M446.3,262.0L444.9,265.9M448.8,262.7L448.4,264.0M447.5,263.7L446.9,265.7M449.4,264.2L449.1,265.6M448.3,265.4L447.6,268.0M449.9,265.8L449.7,267.1M449.3,267.0L449.0,268.1M450.1,267.2L449.7,269.2M446.4,265.6L446.1,266.7M447.3,265.8L446.2,269.5M444.8,265.9L442.0,273.7M445.1,266.0L444.7,267.0M440.5,253.9L438.1,257.1M444.3,256.3L442.4,259.9M441.5,259.4L438.9,264.0M443.4,260.4L443.1,260.9M441.8,260.3L439.6,264.4M444.5,261.6L444.3,262.1M443.4,261.7L442.8,263.0M445.2,262.5L444.7,263.8M444.3,263.6L443.1,266.4M445.2,263.9L444.7,265.1M442.4,262.8L441.8,264.1M443.2,263.2L441.4,267.3M439.3,264.2L436.5,269.3M439.9,264.6L439.3,265.8M438.6,263.7L437.7,265.2M439.3,264.2L438.9,264.9M437.4,256.5L433.3,261.7M438.9,257.7L438.4,258.3M437.8,257.9L435.9,260.3M439.1,258.8L438.4,259.8M437.8,259.4L435.3,263.1M439.0,260.2L438.3,261.4M437.8,261.1L437.5,261.6M438.7,261.6L437.6,263.5M433.1,261.6L431.0,264.2M433.5,261.9L433.1,262.5M432.5,253.9L429.7,256.5M434.2,255.7L433.6,256.3M432.8,255.5L432.4,255.9M434.5,257.1L432.9,258.9M432.3,258.4L432.0,258.8M433.5,259.4L432.4,260.6M432.0,260.2L431.6,260.7M432.9,261.0L432.3,261.7M432.1,255.6L431.6,256.1M432.8,256.2L431.4,257.6M431.6,241.8L425.3,244.4M434.6,247.3L434.2,247.5M433.2,245.9L429.9,247.9M435.4,249.1L429.6,253.8M429.2,253.3L427.8,254.4M430.0,254.3L429.7,254.6M429.3,254.1L428.2,255.0M430.1,255.0L429.3,255.7M427.6,254.1L427.1,254.5M428.0,254.7L424.5,257.5M429.2,246.6L428.4,247.0M430.7,249.1L428.3,250.8M427.9,250.1L425.2,251.9M428.7,251.4L427.5,252.2M427.2,251.7L426.5,252.2M427.9,252.7L426.8,253.5M428.0,246.2L423.7,248.4M428.9,247.8L428.2,248.2M427.9,247.6L427.0,248.1M428.5,248.7L424.9,250.9M424.9,250.9L421.9,252.7M424.9,250.9L424.2,251.4M426.7,247.6L425.1,248.5M427.3,248.6L426.6,249.0M424.8,243.2L424.2,243.4M425.9,245.7L425.4,245.9M425.2,245.5L424.1,246.0M425.6,246.3L424.8,246.7M424.0,242.9L420.4,244.1M424.4,243.9L423.0,244.5M422.8,244.0L421.1,244.6M423.2,245.0L422.5,245.2M470.6,227.8L483.2,224.4M468.8,223.7L479.2,216.8M480.7,219.3L483.4,217.9M477.5,214.5L477.9,214.2M478.9,215.5L483.2,212.3M476.8,212.9L481.9,208.2M482.1,208.5L483.0,207.7M481.6,207.9L484.6,205.0M483.8,213.1L491.6,207.8M482.7,211.5L483.4,211.0M483.7,211.5L489.6,207.1M483.0,210.5L483.3,210.2M483.6,210.6L484.9,209.6M483.0,209.9L483.8,209.2M483.9,218.9L491.1,215.6M482.8,216.9L483.1,216.7M483.6,217.7L484.8,217.0M482.5,215.8L486.9,213.1M487.2,213.6L491.9,210.8M486.7,212.7L487.3,212.3M485.1,217.5L486.2,217.0M484.5,216.5L487.3,215.0M483.6,226.1L489.5,225.0M482.7,222.8L487.6,221.1M487.9,222.1L494.2,220.2M487.3,220.2L488.1,219.9M488.4,220.8L495.9,218.3M487.8,219.0L488.7,218.7M488.9,219.1L491.2,218.3M488.5,218.2L489.5,217.7M489.7,226.5L490.2,226.4M489.1,223.5L492.3,222.7M492.4,223.2L493.5,223.0M492.1,222.2L497.0,221.0M490.3,227.0L497.8,226.0M490.1,225.7L490.7,225.6M490.8,226.4L491.4,226.3M490.5,224.8L493.1,224.3M465.3,220.0L479.6,200.2M460.8,217.9L464.9,203.2M469.2,204.8L471.3,200.3M460.4,202.4L460.4,202.0M463.0,202.4L464.0,197.5M457.8,201.9L457.8,201.4M458.6,201.4L458.8,196.4M457.1,201.4L457.1,190.9M459.7,196.5L459.9,193.5M458.0,196.4L458.0,195.0M465.5,197.9L467.0,192.0M462.4,197.2L462.5,196.7M463.5,196.8L463.8,195.6M461.5,196.5L462.3,190.9M472.4,200.8L474.6,196.6M470.1,199.8L470.4,199.3M471.9,200.0L473.8,196.1M468.8,198.6L469.1,197.6M470.3,198.1L472.9,191.5M467.9,197.2L468.1,196.6M468.5,196.7L468.9,195.5M467.7,196.5L469.5,190.7M480.9,201.1L481.2,200.7M478.3,199.3L479.0,198.2M480.2,199.1L481.9,196.6M477.7,197.5L478.0,197.1M478.6,197.5L479.9,195.5M477.3,196.7L477.8,195.8M451.2,211.2L448.0,200.3M439.5,220.0L430.3,214.1M436.6,207.0L436.1,206.4M426.4,222.7L425.7,222.5M428.0,216.5L427.7,216.4M424.5,228.9L424.2,228.9M424.6,225.9L420.7,225.2M424.1,231.9L418.1,232.0M418.1,230.3L413.0,230.1M418.2,233.7L417.7,233.8M417.7,232.5L411.3,232.7M417.8,235.0L417.2,235.0M417.1,233.7L412.9,233.9M417.3,236.3L416.8,236.4M416.7,235.4L415.4,235.6M416.9,237.3L409.0,238.5M421.1,223.3L420.1,223.1M420.5,227.1L419.9,227.0M420.1,225.8L419.4,225.7M419.8,228.2L412.7,227.6M412.8,226.7L408.0,226.2M412.6,228.6L412.1,228.5M420.3,222.0L413.1,220.2M419.8,224.2L419.0,224.0M428.9,214.2L422.7,210.5M426.7,218.6L422.3,216.7M423.1,214.9L422.4,214.5M421.5,218.5L419.5,217.8M419.9,216.6L414.5,214.4M419.0,219.0L418.5,218.9M418.8,218.1L418.1,217.9M418.3,219.6L417.5,219.4M423.0,213.4L421.3,212.5M421.9,215.7L421.3,215.4M423.3,209.6L421.1,208.2M422.2,211.4L421.0,210.7M438.2,204.9L434.2,199.2M434.2,208.2L434.0,207.9M435.9,206.1L433.2,202.9M432.1,209.8L428.7,206.8M430.3,205.0L429.5,204.2M427.1,208.7L424.8,207.0M425.8,205.8L425.3,205.4M423.9,208.3L423.3,207.9M425.6,205.0L419.8,200.1M425.0,205.8L423.9,204.8M430.2,203.5L429.7,203.0M428.9,204.8L426.2,202.3M434.1,202.2L430.7,197.8M432.4,203.6L431.8,203.0M434.8,198.8L434.3,198.1M433.5,199.7L431.0,196.2M451.5,199.4L450.5,193.5M444.6,201.5L444.4,200.9M447.0,200.0L445.6,195.3M441.8,202.1L438.2,195.2M439.9,194.3L439.2,192.7M436.5,196.1L436.2,195.5M437.2,194.9L436.5,193.7M435.1,196.1L433.9,194.0M439.7,192.5L439.2,191.4M438.7,193.0L438.3,192.3M446.9,194.9L446.0,192.0M444.2,195.8L443.8,194.5M444.4,194.3L444.1,193.3M443.2,194.7L442.1,191.9M452.0,193.2L451.7,191.4M449.0,193.8L448.9,193.3M449.7,193.1L449.5,192.2M448.1,193.5L447.6,191.5M452.5,191.3L452.1,188.0M450.9,191.5L450.8,190.5M457.1,231.4L469.1,231.4" stroke="#222" stroke-width="0.6" fill="none"/>
<path d="M457.1,231.4L470.7,231.4" stroke="#222" stroke-width="0.8"/>
<circle cx="470.7" cy="231.4" r="1.3" fill="#111"/>
<path d="M457.1,231.4L477.3,231.4" stroke="#222" stroke-width="0.8"/>
<circle cx="477.3" cy="231.4" r="1.3" fill="#111"/>
<path d="M488.9,247.8a1.2,1.2 0 1 0 2.4,0a1.2,1.2 0 1 0 -2.4,0M483.7,209.6a1.2,1.2 0 1 0 2.4,0a1.2,1.2 0 1 0 -2.4,0M488.4,207.1a1.2,1.2 0 1 0 2.4,0a1.2,1.2 0 1 0 -2.4,0M495.8,221.0a1.2,1.2 0 1 0 2.4,0a1.2,1.2 0 1 0 -2.4,0M465.8,192.0a1.2,1.2 0 1 0 2.4,0a1.2,1.2 0 1 0 -2.4,0M471.7,191.5a1.2,1.2 0 1 0 2.4,0a1.2,1.2 0 1 0 -2.4,0M410.9,228.5a1.2,1.2 0 1 0 2.4,0a1.2,1.2 0 1 0 -2.4,0M406.8,226.2a1.2,1.2 0 1 0 2.4,0a1.2,1.2 0 1 0 -2.4,0M411.9,220.2a1.2,1.2 0 1 0 2.4,0a1.2,1.2 0 1 0 -2.4,0M425.0,202.3a1.2,1.2 0 1 0 2.4,0a1.2,1.2 0 1 0 -2.4,0M449.6,190.5a1.2,1.2 0 1 0 2.4,0a1.2,1.2 0 1 0 -2.4,0" fill="#f4a630"/>
<path d="M493.1,233.5a1.2,1.2 0 1 0 2.4,0a1.2,1.2 0 1 0 -2.4,0M493.4,235.5a1.2,1.2 0 1 0 2.4,0a1.2,1.2 0 1 0 -2.4,0M492.4,238.1a1.2,1.2 0 1 0 2.4,0a1.2,1.2 0 1 0 -2.4,0M491.8,240.0a1.2,1.2 0 1 0 2.4,0a1.2,1.2 0 1 0 -2.4,0M490.9,241.4a1.2,1.2 0 1 0 2.4,0a1.2,1.2 0 1 0 -2.4,0M490.9,243.5a1.2,1.2 0 1 0 2.4,0a1.2,1.2 0 1 0 -2.4,0M489.3,245.7a1.2,1.2 0 1 0 2.4,0a1.2,1.2 0 1 0 -2.4,0M487.7,249.5a1.2,1.2 0 1 0 2.4,0a1.2,1.2 0 1 0 -2.4,0M486.1,251.0a1.2,1.2 0 1 0 2.4,0a1.2,1.2 0 1 0 -2.4,0M485.3,251.6a1.2,1.2 0 1 0 2.4,0a1.2,1.2 0 1 0 -2.4,0M484.0,254.2a1.2,1.2 0 1 0 2.4,0a1.2,1.2 0 1 0 -2.4,0M483.3,255.1a1.2,1.2 0 1 0 2.4,0a1.2,1.2 0 1 0 -2.4,0M481.4,256.9a1.2,1.2 0 1 0 2.4,0a1.2,1.2 0 1 0 -2.4,0M479.9,257.6a1.2,1.2 0 1 0 2.4,0a1.2,1.2 0 1 0 -2.4,0M478.0,259.2a1.2,1.2 0 1 0 2.4,0a1.2,1.2 0 1 0 -2.4,0M476.4,260.4a1.2,1.2 0 1 0 2.4,0a1.2,1.2 0 1 0 -2.4,0M474.4,261.5a1.2,1.2 0 1 0 2.4,0a1.2,1.2 0 1 0 -2.4,0M472.5,262.1a1.2,1.2 0 1 0 2.4,0a1.2,1.2 0 1 0 -2.4,0M470.7,262.4a1.2,1.2 0 1 0 2.4,0a1.2,1.2 0 1 0 -2.4,0M469.1,263.8a1.2,1.2 0 1 0 2.4,0a1.2,1.2 0 1 0 -2.4,0M468.1,264.1a1.2,1.2 0 1 0 2.4,0a1.2,1.2 0 1 0 -2.4,0M464.7,267.2a1.2,1.2 0 1 0 2.4,0a1.2,1.2 0 1 0 -2.4,0M464.1,268.1a1.2,1.2 0 1 0 2.4,0a1.2,1.2 0 1 0 -2.4,0M463.0,269.4a1.2,1.2 0 1 0 2.4,0a1.2,1.2 0 1 0 -2.4,0M461.8,267.2a1.2,1.2 0 1 0 2.4,0a1.2,1.2 0 1 0 -2.4,0M460.8,268.6a1.2,1.2 0 1 0 2.4,0a1.2,1.2 0 1 0 -2.4,0M460.1,267.7a1.2,1.2 0 1 0 2.4,0a1.2,1.2 0 1 0 -2.4,0M458.8,269.1a1.2,1.2 0 1 0 2.4,0a1.2,1.2 0 1 0 -2.4,0M457.9,269.5a1.2,1.2 0 1 0 2.4,0a1.2,1.2 0 1 0 -2.4,0M457.1,269.3a1.2,1.2 0 1 0 2.4,0a1.2,1.2 0 1 0 -2.4,0M455.8,275.8a1.2,1.2 0 1 0 2.4,0a1.2,1.2 0 1 0 -2.4,0M455.6,270.9a1.2,1.2 0 1 0 2.4,0a1.2,1.2 0 1 0 -2.4,0M455.0,268.0a1.2,1.2 0 1 0 2.4,0a1.2,1.2 0 1 0 -2.4,0M453.9,268.4a1.2,1.2 0 1 0 2.4,0a1.2,1.2 0 1 0 -2.4,0M452.7,268.8a1.2,1.2 0 1 0 2.4,0a1.2,1.2 0 1 0 -2.4,0M451.7,269.5a1.2,1.2 0 1 0 2.4,0a1.2,1.2 0 1 0 -2.4,0M450.5,267.7a1.2,1.2 0 1 0 2.4,0a1.2,1.2 0 1 0 -2.4,0M449.2,270.3a1.2,1.2 0 1 0 2.4,0a1.2,1.2 0 1 0 -2.4,0M447.9,277.8a1.2,1.2 0 1 0 2.4,0a1.2,1.2 0 1 0 -2.4,0M448.5,269.2a1.2,1.2 0 1 0 2.4,0a1.2,1.2 0 1 0 -2.4,0M447.8,268.1a1.2,1.2 0 1 0 2.4,0a1.2,1.2 0 1 0 -2.4,0M446.4,268.0a1.2,1.2 0 1 0 2.4,0a1.2,1.2 0 1 0 -2.4,0M445.0,269.5a1.2,1.2 0 1 0 2.4,0a1.2,1.2 0 1 0 -2.4,0M444.9,266.7a1.2,1.2 0 1 0 2.4,0a1.2,1.2 0 1 0 -2.4,0M443.5,267.0a1.2,1.2 0 1 0 2.4,0a1.2,1.2 0 1 0 -2.4,0M440.8,273.7a1.2,1.2 0 1 0 2.4,0a1.2,1.2 0 1 0 -2.4,0M443.5,265.1a1.2,1.2 0 1 0 2.4,0a1.2,1.2 0 1 0 -2.4,0M441.9,266.4a1.2,1.2 0 1 0 2.4,0a1.2,1.2 0 1 0 -2.4,0M440.2,267.3a1.2,1.2 0 1 0 2.4,0a1.2,1.2 0 1 0 -2.4,0M440.6,264.1a1.2,1.2 0 1 0 2.4,0a1.2,1.2 0 1 0 -2.4,0M438.1,265.8a1.2,1.2 0 1 0 2.4,0a1.2,1.2 0 1 0 -2.4,0M435.3,269.3a1.2,1.2 0 1 0 2.4,0a1.2,1.2 0 1 0 -2.4,0M437.7,264.9a1.2,1.2 0 1 0 2.4,0a1.2,1.2 0 1 0 -2.4,0M436.5,265.2a1.2,1.2 0 1 0 2.4,0a1.2,1.2 0 1 0 -2.4,0M436.4,263.5a1.2,1.2 0 1 0 2.4,0a1.2,1.2 0 1 0 -2.4,0M436.3,261.6a1.2,1.2 0 1 0 2.4,0a1.2,1.2 0 1 0 -2.4,0M434.1,263.1a1.2,1.2 0 1 0 2.4,0a1.2,1.2 0 1 0 -2.4,0M434.7,260.3a1.2,1.2 0 1 0 2.4,0a1.2,1.2 0 1 0 -2.4,0M431.9,262.5a1.2,1.2 0 1 0 2.4,0a1.2,1.2 0 1 0 -2.4,0M429.8,264.2a1.2,1.2 0 1 0 2.4,0a1.2,1.2 0 1 0 -2.4,0M431.1,261.7a1.2,1.2 0 1 0 2.4,0a1.2,1.2 0 1 0 -2.4,0M430.4,260.7a1.2,1.2 0 1 0 2.4,0a1.2,1.2 0 1 0 -2.4,0M430.8,258.8a1.2,1.2 0 1 0 2.4,0a1.2,1.2 0 1 0 -2.4,0M430.2,257.6a1.2,1.2 0 1 0 2.4,0a1.2,1.2 0 1 0 -2.4,0M430.4,256.1a1.2,1.2 0 1 0 2.4,0a1.2,1.2 0 1 0 -2.4,0M428.5,256.5a1.2,1.2 0 1 0 2.4,0a1.2,1.2 0 1 0 -2.4,0M428.1,255.7a1.2,1.2 0 1 0 2.4,0a1.2,1.2 0 1 0 -2.4,0M427.0,255.0a1.2,1.2 0 1 0 2.4,0a1.2,1.2 0 1 0 -2.4,0M423.3,257.5a1.2,1.2 0 1 0 2.4,0a1.2,1.2 0 1 0 -2.4,0M425.9,254.5a1.2,1.2 0 1 0 2.4,0a1.2,1.2 0 1 0 -2.4,0M425.6,253.5a1.2,1.2 0 1 0 2.4,0a1.2,1.2 0 1 0 -2.4,0M425.3,252.2a1.2,1.2 0 1 0 2.4,0a1.2,1.2 0 1 0 -2.4,0M424.0,251.9a1.2,1.2 0 1 0 2.4,0a1.2,1.2 0 1 0 -2.4,0M423.0,251.4a1.2,1.2 0 1 0 2.4,0a1.2,1.2 0 1 0 -2.4,0M420.7,252.7a1.2,1.2 0 1 0 2.4,0a1.2,1.2 0 1 0 -2.4,0M425.4,249.0a1.2,1.2 0 1 0 2.4,0a1.2,1.2 0 1 0 -2.4,0M423.9,248.5a1.2,1.2 0 1 0 2.4,0a1.2,1.2 0 1 0 -2.4,0M422.5,248.4a1.2,1.2 0 1 0 2.4,0a1.2,1.2 0 1 0 -2.4,0M423.6,246.7a1.2,1.2 0 1 0 2.4,0a1.2,1.2 0 1 0 -2.4,0M422.9,246.0a1.2,1.2 0 1 0 2.4,0a1.2,1.2 0 1 0 -2.4,0M421.3,245.2a1.2,1.2 0 1 0 2.4,0a1.2,1.2 0 1 0 -2.4,0M419.9,244.6a1.2,1.2 0 1 0 2.4,0a1.2,1.2 0 1 0 -2.4,0M419.2,244.1a1.2,1.2 0 1 0 2.4,0a1.2,1.2 0 1 0 -2.4,0M483.4,205.0a1.2,1.2 0 1 0 2.4,0a1.2,1.2 0 1 0 -2.4,0M481.8,207.7a1.2,1.2 0 1 0 2.4,0a1.2,1.2 0 1 0 -2.4,0M482.6,209.2a1.2,1.2 0 1 0 2.4,0a1.2,1.2 0 1 0 -2.4,0M490.4,207.8a1.2,1.2 0 1 0 2.4,0a1.2,1.2 0 1 0 -2.4,0M486.1,212.3a1.2,1.2 0 1 0 2.4,0a1.2,1.2 0 1 0 -2.4,0M490.7,210.8a1.2,1.2 0 1 0 2.4,0a1.2,1.2 0 1 0 -2.4,0M486.1,215.0a1.2,1.2 0 1 0 2.4,0a1.2,1.2 0 1 0 -2.4,0M485.0,217.0a1.2,1.2 0 1 0 2.4,0a1.2,1.2 0 1 0 -2.4,0M489.9,215.6a1.2,1.2 0 1 0 2.4,0a1.2,1.2 0 1 0 -2.4,0M488.3,217.7a1.2,1.2 0 1 0 2.4,0a1.2,1.2 0 1 0 -2.4,0M490.0,218.3a1.2,1.2 0 1 0 2.4,0a1.2,1.2 0 1 0 -2.4,0M494.7,218.3a1.2,1.2 0 1 0 2.4,0a1.2,1.2 0 1 0 -2.4,0M493.0,220.2a1.2,1.2 0 1 0 2.4,0a1.2,1.2 0 1 0 -2.4,0M492.3,223.0a1.2,1.2 0 1 0 2.4,0a1.2,1.2 0 1 0 -2.4,0M491.9,224.3a1.2,1.2 0 1 0 2.4,0a1.2,1.2 0 1 0 -2.4,0M490.2,226.3a1.2,1.2 0 1 0 2.4,0a1.2,1.2 0 1 0 -2.4,0M496.6,226.0a1.2,1.2 0 1 0 2.4,0a1.2,1.2 0 1 0 -2.4,0M455.9,190.9a1.2,1.2 0 1 0 2.4,0a1.2,1.2 0 1 0 -2.4,0M456.8,195.0a1.2,1.2 0 1 0 2.4,0a1.2,1.2 0 1 0 -2.4,0M458.7,193.5a1.2,1.2 0 1 0 2.4,0a1.2,1.2 0 1 0 -2.4,0M461.1,190.9a1.2,1.2 0 1 0 2.4,0a1.2,1.2 0 1 0 -2.4,0M462.6,195.6a1.2,1.2 0 1 0 2.4,0a1.2,1.2 0 1 0 -2.4,0M468.3,190.7a1.2,1.2 0 1 0 2.4,0a1.2,1.2 0 1 0 -2.4,0M467.7,195.5a1.2,1.2 0 1 0 2.4,0a1.2,1.2 0 1 0 -2.4,0M472.6,196.1a1.2,1.2 0 1 0 2.4,0a1.2,1.2 0 1 0 -2.4,0M473.4,196.6a1.2,1.2 0 1 0 2.4,0a1.2,1.2 0 1 0 -2.4,0M476.6,195.8a1.2,1.2 0 1 0 2.4,0a1.2,1.2 0 1 0 -2.4,0M478.7,195.5a1.2,1.2 0 1 0 2.4,0a1.2,1.2 0 1 0 -2.4,0M480.7,196.6a1.2,1.2 0 1 0 2.4,0a1.2,1.2 0 1 0 -2.4,0M480.0,200.7a1.2,1.2 0 1 0 2.4,0a1.2,1.2 0 1 0 -2.4,0M407.8,238.5a1.2,1.2 0 1 0 2.4,0a1.2,1.2 0 1 0 -2.4,0M414.2,235.6a1.2,1.2 0 1 0 2.4,0a1.2,1.2 0 1 0 -2.4,0M411.7,233.9a1.2,1.2 0 1 0 2.4,0a1.2,1.2 0 1 0 -2.4,0M410.1,232.7a1.2,1.2 0 1 0 2.4,0a1.2,1.2 0 1 0 -2.4,0M411.8,230.1a1.2,1.2 0 1 0 2.4,0a1.2,1.2 0 1 0 -2.4,0M418.2,225.7a1.2,1.2 0 1 0 2.4,0a1.2,1.2 0 1 0 -2.4,0M417.8,224.0a1.2,1.2 0 1 0 2.4,0a1.2,1.2 0 1 0 -2.4,0M416.3,219.4a1.2,1.2 0 1 0 2.4,0a1.2,1.2 0 1 0 -2.4,0M416.9,217.9a1.2,1.2 0 1 0 2.4,0a1.2,1.2 0 1 0 -2.4,0M413.3,214.4a1.2,1.2 0 1 0 2.4,0a1.2,1.2 0 1 0 -2.4,0M420.1,215.4a1.2,1.2 0 1 0 2.4,0a1.2,1.2 0 1 0 -2.4,0M420.1,212.5a1.2,1.2 0 1 0 2.4,0a1.2,1.2 0 1 0 -2.4,0M419.8,210.7a1.2,1.2 0 1 0 2.4,0a1.2,1.2 0 1 0 -2.4,0M419.9,208.2a1.2,1.2 0 1 0 2.4,0a1.2,1.2 0 1 0 -2.4,0M422.1,207.9a1.2,1.2 0 1 0 2.4,0a1.2,1.2 0 1 0 -2.4,0M422.7,204.8a1.2,1.2 0 1 0 2.4,0a1.2,1.2 0 1 0 -2.4,0M418.6,200.1a1.2,1.2 0 1 0 2.4,0a1.2,1.2 0 1 0 -2.4,0M428.5,203.0a1.2,1.2 0 1 0 2.4,0a1.2,1.2 0 1 0 -2.4,0M430.6,203.0a1.2,1.2 0 1 0 2.4,0a1.2,1.2 0 1 0 -2.4,0M429.5,197.8a1.2,1.2 0 1 0 2.4,0a1.2,1.2 0 1 0 -2.4,0M429.8,196.2a1.2,1.2 0 1 0 2.4,0a1.2,1.2 0 1 0 -2.4,0M433.1,198.1a1.2,1.2 0 1 0 2.4,0a1.2,1.2 0 1 0 -2.4,0M432.7,194.0a1.2,1.2 0 1 0 2.4,0a1.2,1.2 0 1 0 -2.4,0M435.3,193.7a1.2,1.2 0 1 0 2.4,0a1.2,1.2 0 1 0 -2.4,0M437.1,192.3a1.2,1.2 0 1 0 2.4,0a1.2,1.2 0 1 0 -2.4,0M438.0,191.4a1.2,1.2 0 1 0 2.4,0a1.2,1.2 0 1 0 -2.4,0M440.9,191.9a1.2,1.2 0 1 0 2.4,0a1.2,1.2 0 1 0 -2.4,0M442.9,193.3a1.2,1.2 0 1 0 2.4,0a1.2,1.2 0 1 0 -2.4,0M444.8,192.0a1.2,1.2 0 1 0 2.4,0a1.2,1.2 0 1 0 -2.4,0M446.4,191.5a1.2,1.2 0 1 0 2.4,0a1.2,1.2 0 1 0 -2.4,0M448.3,192.2a1.2,1.2 0 1 0 2.4,0a1.2,1.2 0 1 0 -2.4,0M450.9,188.0a1.2,1.2 0 1 0 2.4,0a1.2,1.2 0 1 0 -2.4,0" fill="#9430e4"/>
<path d="M494.3,232.4A37,37 0 0 1 465.4,264.9" stroke="#9430e4" stroke-width="2.4" fill="none"/>
<circle cx="477.6" cy="200.5" r="2" fill="#f4a630"/>
<path d="M436.2,233.5L406.7,236.4" stroke="#222" stroke-width="0.6"/><circle cx="406.7" cy="236.4" r="1.2" fill="#9430e4"/>
<circle cx="457.1" cy="231.4" r="58.0" fill="none" stroke="#ff0000" stroke-width="5.0"/>
<path d="M435.7,177.5A58.0,58.0 0 0 0 434.6,177.9" fill="none" stroke="#808080" stroke-width="5.0"/>
<path d="M452.5,173.6A58.0,58.0 0 0 0 450.6,173.8" fill="none" stroke="#808080" stroke-width="5.0"/>
<path d="M405.8,204.3A58.0,58.0 0 0 0 404.5,207.0" fill="none" stroke="#808080" stroke-width="5.0"/>
<path d="M399.4,225.9A58.0,58.0 0 0 0 399.1,230.0" fill="none" stroke="#808080" stroke-width="5.0"/>
<path d="M399.1,233.4A58.0,58.0 0 0 0 399.7,239.5" fill="none" stroke="#808080" stroke-width="5.0"/>
<path d="M418.4,188.2A58.0,58.0 0 0 0 417.0,189.5" fill="none" stroke="#a03070" stroke-width="5.0"/>
<path d="M464.0,173.8A58.0,58.0 0 0 0 460.2,173.5" fill="none" stroke="#808080" stroke-width="5.0"/>
<path d="M467.0,174.2A58.0,58.0 0 0 0 464.0,173.8" fill="none" stroke="#6030b0" stroke-width="5.0"/>
<path d="M476.5,176.7A58.0,58.0 0 0 0 470.8,175.1" fill="none" stroke="#808080" stroke-width="5.0"/>
<path d="M493.8,186.5A58.0,58.0 0 0 0 484.2,180.1" fill="none" stroke="#808080" stroke-width="5.0"/>
<path d="M503.5,196.6A58.0,58.0 0 0 0 499.6,191.9" fill="none" stroke="#808080" stroke-width="5.0"/>
<path d="M510.1,207.8A58.0,58.0 0 0 0 509.7,206.9" fill="none" stroke="#c01010" stroke-width="5.0"/>
<path d="M511.6,211.6A58.0,58.0 0 0 0 511.2,210.6" fill="none" stroke="#c01010" stroke-width="5.0"/>
<path d="M512.9,215.4A58.0,58.0 0 0 0 512.6,214.4" fill="none" stroke="#c01010" stroke-width="5.0"/>
<path d="M513.8,219.3A58.0,58.0 0 0 0 513.6,218.4" fill="none" stroke="#c01010" stroke-width="5.0"/>
<path d="M463.2,289.1A58.0,58.0 0 0 0 515.1,233.4" fill="none" stroke="#0000ff" stroke-width="5.0"/>
<path d="M510.7,253.5A58.0,58.0 0 0 0 511.5,251.6" fill="none" stroke="#e0a030" stroke-width="5.0"/>
<path d="M490.8,278.6A58.0,58.0 0 0 0 491.8,277.8" fill="none" stroke="#ff0000" stroke-width="5.0"/>
<path d="M491.8,277.8A58.0,58.0 0 0 0 492.8,277.1" fill="none" stroke="#808080" stroke-width="5.0"/>
<path d="M470.4,287.8A58.0,58.0 0 0 0 471.2,287.7" fill="none" stroke="#808080" stroke-width="5.0"/>
<path d="M476.3,286.1A58.0,58.0 0 0 0 477.0,285.9" fill="none" stroke="#808080" stroke-width="5.0"/>
<path d="M515.1,230.8A58.0,58.0 0 0 0 515.0,227.8" fill="none" stroke="#fff" stroke-width="6.0"/>
</g>
<text x="14" y="9.4" class="t">Thecomonadea (class)</text>
<text x="154.4" y="9.4" class="t">Bdelloidea (class)</text>
<text x="285.2" y="9.4" class="t">Bigyra (Phylum)</text>
<text x="394.5" y="9.4" class="t">Choanoflagellata (Phylum)</text>
<text x="14.5" y="165.7" class="t">Cryptophyceae (class)</text>
<text x="149.5" y="165.7" class="t">Dinophyceae (class)</text>
<text x="275" y="165.7" class="t">Gastotricha (Phylum)</text>
<text x="408" y="165.7" class="t">Haptophya (Phylum)</text>

<circle cx="10.8" cy="317.4" r="5.1" fill="#333"/>
<text x="20.3" y="320.4" class="t">Outgroup</text>
<circle cx="75.2" cy="317.4" r="5.1" fill="#f5a623" />
<text x="85" y="320.4" class="t">eKOI database</text>
<circle cx="158.4" cy="317.4" r="5.1" fill="#a04ff0"/>
<text x="168" y="320.4" class="t">eDNA</text>
<rect x="209.6" y="312.3" width="10.4" height="10" fill="#0000ff"/>
<text x="224.5" y="320.4" class="t">Freshwater</text>
<rect x="281.3" y="312.3" width="10.4" height="10" fill="#ff0000"/>
<text x="296.3" y="320.4" class="t">Marine/Inland saline</text>
<rect x="397.7" y="312.3" width="10.4" height="10" fill="#7b6437"/>
<text x="412.5" y="320.4" class="t">Soil</text>
<rect x="439.4" y="312.3" width="10.4" height="10" fill="#808080"/>
<text x="454.2" y="320.4" class="t">eKOI database</text>

</svg>
</body></html>
